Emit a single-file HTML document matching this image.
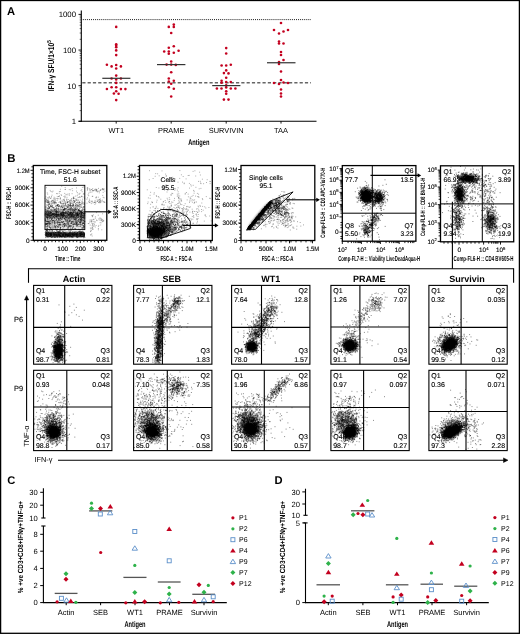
<!DOCTYPE html>
<html><head><meta charset="utf-8"><style>
html,body{margin:0;padding:0;background:#fff;}
body{width:520px;height:634px;overflow:hidden;}
svg{display:block;will-change:transform;}
text{font-family:"Liberation Sans",sans-serif;text-rendering:geometricPrecision;}
</style></head><body>
<svg width="520" height="634" viewBox="0 0 520 634">
<rect x="0" y="0" width="520" height="634" fill="#fff"/>
<text x="7" y="15.1" font-size="11.2" font-weight="bold" fill="#000" >A</text>
<line x1="81.3" y1="10.6" x2="81.3" y2="121.7" stroke="#000" stroke-width="1.1" />
<line x1="80.8" y1="121.2" x2="316.5" y2="121.2" stroke="#000" stroke-width="1.1" />
<line x1="78.5" y1="121.35" x2="81.3" y2="121.35" stroke="#000" stroke-width="0.9" />
<text x="76" y="124.14999999999999" font-size="7.8" text-anchor="end" fill="#000" >1</text>
<line x1="79.7" y1="110.61828065457907" x2="81.3" y2="110.61828065457907" stroke="#000" stroke-width="0.6" />
<line x1="79.7" y1="104.34062726924402" x2="81.3" y2="104.34062726924402" stroke="#000" stroke-width="0.6" />
<line x1="79.7" y1="99.88656130915814" x2="81.3" y2="99.88656130915814" stroke="#000" stroke-width="0.6" />
<line x1="79.7" y1="96.43171934542093" x2="81.3" y2="96.43171934542093" stroke="#000" stroke-width="0.6" />
<line x1="79.7" y1="93.6089079238231" x2="81.3" y2="93.6089079238231" stroke="#000" stroke-width="0.6" />
<line x1="79.7" y1="91.22225487349174" x2="81.3" y2="91.22225487349174" stroke="#000" stroke-width="0.6" />
<line x1="79.7" y1="89.1548419637372" x2="81.3" y2="89.1548419637372" stroke="#000" stroke-width="0.6" />
<line x1="79.7" y1="87.33125453848805" x2="81.3" y2="87.33125453848805" stroke="#000" stroke-width="0.6" />
<line x1="78.5" y1="85.69999999999999" x2="81.3" y2="85.69999999999999" stroke="#000" stroke-width="0.9" />
<text x="76" y="88.49999999999999" font-size="7.8" text-anchor="end" fill="#000" >10</text>
<line x1="79.7" y1="74.96828065457906" x2="81.3" y2="74.96828065457906" stroke="#000" stroke-width="0.6" />
<line x1="79.7" y1="68.69062726924402" x2="81.3" y2="68.69062726924402" stroke="#000" stroke-width="0.6" />
<line x1="79.7" y1="64.23656130915813" x2="81.3" y2="64.23656130915813" stroke="#000" stroke-width="0.6" />
<line x1="79.7" y1="60.78171934542092" x2="81.3" y2="60.78171934542092" stroke="#000" stroke-width="0.6" />
<line x1="79.7" y1="57.95890792382309" x2="81.3" y2="57.95890792382309" stroke="#000" stroke-width="0.6" />
<line x1="79.7" y1="55.57225487349173" x2="81.3" y2="55.57225487349173" stroke="#000" stroke-width="0.6" />
<line x1="79.7" y1="53.5048419637372" x2="81.3" y2="53.5048419637372" stroke="#000" stroke-width="0.6" />
<line x1="79.7" y1="51.681254538488055" x2="81.3" y2="51.681254538488055" stroke="#000" stroke-width="0.6" />
<line x1="78.5" y1="50.05" x2="81.3" y2="50.05" stroke="#000" stroke-width="0.9" />
<text x="76" y="52.849999999999994" font-size="7.8" text-anchor="end" fill="#000" >100</text>
<line x1="79.7" y1="39.31828065457907" x2="81.3" y2="39.31828065457907" stroke="#000" stroke-width="0.6" />
<line x1="79.7" y1="33.04062726924403" x2="81.3" y2="33.04062726924403" stroke="#000" stroke-width="0.6" />
<line x1="79.7" y1="28.58656130915814" x2="81.3" y2="28.58656130915814" stroke="#000" stroke-width="0.6" />
<line x1="79.7" y1="25.131719345420926" x2="81.3" y2="25.131719345420926" stroke="#000" stroke-width="0.6" />
<line x1="79.7" y1="22.308907923823103" x2="81.3" y2="22.308907923823103" stroke="#000" stroke-width="0.6" />
<line x1="79.7" y1="19.92225487349174" x2="81.3" y2="19.92225487349174" stroke="#000" stroke-width="0.6" />
<line x1="79.7" y1="17.854841963737208" x2="81.3" y2="17.854841963737208" stroke="#000" stroke-width="0.6" />
<line x1="79.7" y1="16.031254538488064" x2="81.3" y2="16.031254538488064" stroke="#000" stroke-width="0.6" />
<line x1="78.5" y1="14.400000000000006" x2="81.3" y2="14.400000000000006" stroke="#000" stroke-width="0.9" />
<text x="76" y="17.200000000000006" font-size="7.8" text-anchor="end" fill="#000" >1000</text>
<line x1="78.5" y1="121.2" x2="81.3" y2="121.2" stroke="#000" stroke-width="0.9" />
<line x1="116.2" y1="121.2" x2="116.2" y2="123.60000000000001" stroke="#000" stroke-width="0.9" />
<text x="116.2" y="133.1" font-size="7.4" text-anchor="middle" fill="#000" >WT1</text>
<line x1="171.2" y1="121.2" x2="171.2" y2="123.60000000000001" stroke="#000" stroke-width="0.9" />
<text x="171.2" y="133.1" font-size="7.4" text-anchor="middle" fill="#000" >PRAME</text>
<line x1="226.2" y1="121.2" x2="226.2" y2="123.60000000000001" stroke="#000" stroke-width="0.9" />
<text x="226.2" y="133.1" font-size="7.4" text-anchor="middle" fill="#000" >SURVIVIN</text>
<line x1="281" y1="121.2" x2="281" y2="123.60000000000001" stroke="#000" stroke-width="0.9" />
<text x="281" y="133.1" font-size="7.4" text-anchor="middle" fill="#000" >TAA</text>
<text x="198.8" y="144.9" font-size="8.2" text-anchor="middle" font-weight="bold" textLength="21.2" lengthAdjust="spacingAndGlyphs" fill="#000" >Antigen</text>
<text transform="translate(54.0,65.8) rotate(-90)" font-size="8.4" text-anchor="middle" font-weight="bold" textLength="51" lengthAdjust="spacingAndGlyphs">IFN-γ SFU/1×10<tspan dy="-3.2" font-size="5.8">5</tspan></text>
<line x1="82.8" y1="19.6" x2="311" y2="19.6" stroke="#000" stroke-width="0.9" stroke-dasharray="1,1.05"/>
<line x1="82.3" y1="82.85" x2="311" y2="82.85" stroke="#666" stroke-width="1.5" stroke-dasharray="3.2,2.1"/>
<circle cx="116.2" cy="26.9" r="1.3" fill="#c3001f"/>
<circle cx="116.2" cy="44.2" r="1.3" fill="#c3001f"/>
<circle cx="116.2" cy="45.7" r="1.3" fill="#c3001f"/>
<circle cx="116.2" cy="47.3" r="1.3" fill="#c3001f"/>
<circle cx="116.2" cy="50.4" r="1.3" fill="#c3001f"/>
<circle cx="116.2" cy="55.1" r="1.3" fill="#c3001f"/>
<circle cx="106.9" cy="64.7" r="1.3" fill="#c3001f"/>
<circle cx="111.6" cy="66.4" r="1.3" fill="#c3001f"/>
<circle cx="116.2" cy="65.0" r="1.3" fill="#c3001f"/>
<circle cx="120.9" cy="66.4" r="1.3" fill="#c3001f"/>
<circle cx="116.2" cy="68.5" r="1.3" fill="#c3001f"/>
<circle cx="116.2" cy="75.6" r="1.3" fill="#c3001f"/>
<circle cx="111.6" cy="78.5" r="1.3" fill="#c3001f"/>
<circle cx="120.9" cy="78.5" r="1.3" fill="#c3001f"/>
<circle cx="116.2" cy="79.5" r="1.3" fill="#c3001f"/>
<circle cx="116.2" cy="82.9" r="1.3" fill="#c3001f"/>
<circle cx="111.6" cy="87.3" r="1.3" fill="#c3001f"/>
<circle cx="106.9" cy="89.0" r="1.3" fill="#c3001f"/>
<circle cx="116.2" cy="87.3" r="1.3" fill="#c3001f"/>
<circle cx="120.9" cy="89.1" r="1.3" fill="#c3001f"/>
<circle cx="125.4" cy="89.1" r="1.3" fill="#c3001f"/>
<circle cx="116.2" cy="91.2" r="1.3" fill="#c3001f"/>
<circle cx="113.9" cy="93.5" r="1.3" fill="#c3001f"/>
<circle cx="118.6" cy="93.7" r="1.3" fill="#c3001f"/>
<circle cx="116.2" cy="100.1" r="1.3" fill="#c3001f"/>
<circle cx="168.8" cy="26.9" r="1.3" fill="#c3001f"/>
<circle cx="173.8" cy="24.6" r="1.3" fill="#c3001f"/>
<circle cx="173.8" cy="26.9" r="1.3" fill="#c3001f"/>
<circle cx="171.2" cy="33" r="1.3" fill="#c3001f"/>
<circle cx="168.8" cy="47.7" r="1.3" fill="#c3001f"/>
<circle cx="173.8" cy="46.2" r="1.3" fill="#c3001f"/>
<circle cx="164.2" cy="51.5" r="1.3" fill="#c3001f"/>
<circle cx="168.8" cy="51.5" r="1.3" fill="#c3001f"/>
<circle cx="168.8" cy="53.8" r="1.3" fill="#c3001f"/>
<circle cx="173.8" cy="52.7" r="1.3" fill="#c3001f"/>
<circle cx="178.6" cy="50.8" r="1.3" fill="#c3001f"/>
<circle cx="171.2" cy="61.5" r="1.3" fill="#c3001f"/>
<circle cx="166.6" cy="64.6" r="1.3" fill="#c3001f"/>
<circle cx="171.2" cy="64.6" r="1.3" fill="#c3001f"/>
<circle cx="175.8" cy="64.9" r="1.3" fill="#c3001f"/>
<circle cx="171.2" cy="72.3" r="1.3" fill="#c3001f"/>
<circle cx="168.8" cy="78.5" r="1.3" fill="#c3001f"/>
<circle cx="168.8" cy="81.5" r="1.3" fill="#c3001f"/>
<circle cx="173.8" cy="80.8" r="1.3" fill="#c3001f"/>
<circle cx="171.2" cy="83.8" r="1.3" fill="#c3001f"/>
<circle cx="168.8" cy="87.3" r="1.3" fill="#c3001f"/>
<circle cx="173.8" cy="88.8" r="1.3" fill="#c3001f"/>
<circle cx="171.2" cy="96.5" r="1.3" fill="#c3001f"/>
<circle cx="226.2" cy="48.1" r="1.3" fill="#c3001f"/>
<circle cx="226.2" cy="53.5" r="1.3" fill="#c3001f"/>
<circle cx="221.6" cy="65.5" r="1.3" fill="#c3001f"/>
<circle cx="226.2" cy="65.5" r="1.3" fill="#c3001f"/>
<circle cx="230.8" cy="64.8" r="1.3" fill="#c3001f"/>
<circle cx="226.2" cy="70.4" r="1.3" fill="#c3001f"/>
<circle cx="223.9" cy="73.1" r="1.3" fill="#c3001f"/>
<circle cx="228.5" cy="73.4" r="1.3" fill="#c3001f"/>
<circle cx="226.2" cy="77.7" r="1.3" fill="#c3001f"/>
<circle cx="221.6" cy="80.8" r="1.3" fill="#c3001f"/>
<circle cx="221.6" cy="82.7" r="1.3" fill="#c3001f"/>
<circle cx="226.2" cy="82" r="1.3" fill="#c3001f"/>
<circle cx="230.8" cy="82" r="1.3" fill="#c3001f"/>
<circle cx="216.9" cy="88.5" r="1.3" fill="#c3001f"/>
<circle cx="221.5" cy="88.5" r="1.3" fill="#c3001f"/>
<circle cx="226.2" cy="87.4" r="1.3" fill="#c3001f"/>
<circle cx="230.8" cy="88.5" r="1.3" fill="#c3001f"/>
<circle cx="235.4" cy="88.5" r="1.3" fill="#c3001f"/>
<circle cx="226.2" cy="91.2" r="1.3" fill="#c3001f"/>
<circle cx="226.2" cy="93.8" r="1.3" fill="#c3001f"/>
<circle cx="223.9" cy="99.6" r="1.3" fill="#c3001f"/>
<circle cx="228.5" cy="99.6" r="1.3" fill="#c3001f"/>
<circle cx="226.2" cy="85.2" r="1.3" fill="#c3001f"/>
<circle cx="281.0" cy="23" r="1.3" fill="#c3001f"/>
<circle cx="274.0" cy="30" r="1.3" fill="#c3001f"/>
<circle cx="288.0" cy="30" r="1.3" fill="#c3001f"/>
<circle cx="283.5" cy="31.5" r="1.3" fill="#c3001f"/>
<circle cx="279.0" cy="33.5" r="1.3" fill="#c3001f"/>
<circle cx="279.0" cy="41.5" r="1.3" fill="#c3001f"/>
<circle cx="279.0" cy="43.5" r="1.3" fill="#c3001f"/>
<circle cx="283.5" cy="43.5" r="1.3" fill="#c3001f"/>
<circle cx="281.0" cy="52" r="1.3" fill="#c3001f"/>
<circle cx="281.0" cy="55" r="1.3" fill="#c3001f"/>
<circle cx="279.0" cy="62" r="1.3" fill="#c3001f"/>
<circle cx="283.5" cy="60" r="1.3" fill="#c3001f"/>
<circle cx="279.0" cy="64" r="1.3" fill="#c3001f"/>
<circle cx="281.0" cy="71.5" r="1.3" fill="#c3001f"/>
<circle cx="281.0" cy="80" r="1.3" fill="#c3001f"/>
<circle cx="274.0" cy="83" r="1.3" fill="#c3001f"/>
<circle cx="279.0" cy="84" r="1.3" fill="#c3001f"/>
<circle cx="283.5" cy="82.5" r="1.3" fill="#c3001f"/>
<circle cx="288.0" cy="83" r="1.3" fill="#c3001f"/>
<circle cx="281.0" cy="89.5" r="1.3" fill="#c3001f"/>
<circle cx="281.0" cy="93.5" r="1.3" fill="#c3001f"/>
<circle cx="281.0" cy="96.5" r="1.3" fill="#c3001f"/>
<line x1="102.3" y1="78.3" x2="130.4" y2="78.3" stroke="#333" stroke-width="1.2" />
<line x1="157" y1="64.6" x2="185.4" y2="64.6" stroke="#333" stroke-width="1.2" />
<line x1="212.2" y1="85.6" x2="240.4" y2="85.6" stroke="#333" stroke-width="1.2" />
<line x1="267" y1="62.75" x2="295.5" y2="62.75" stroke="#333" stroke-width="1.2" />
<defs><filter id="bl0_6" x="-50%" y="-50%" width="200%" height="200%"><feGaussianBlur stdDeviation="0.6"/></filter><filter id="bl0_8" x="-50%" y="-50%" width="200%" height="200%"><feGaussianBlur stdDeviation="0.8"/></filter><filter id="bl1_2" x="-50%" y="-50%" width="200%" height="200%"><feGaussianBlur stdDeviation="1.2"/></filter><filter id="bl1_6" x="-50%" y="-50%" width="200%" height="200%"><feGaussianBlur stdDeviation="1.6"/></filter><filter id="bl2" x="-50%" y="-50%" width="200%" height="200%"><feGaussianBlur stdDeviation="2"/></filter><filter id="bl2_5" x="-50%" y="-50%" width="200%" height="200%"><feGaussianBlur stdDeviation="2.5"/></filter><filter id="bl3" x="-50%" y="-50%" width="200%" height="200%"><feGaussianBlur stdDeviation="3"/></filter></defs>
<rect x="45.5" y="232.3" width="39.5" height="5" fill="#000" fill-opacity="0.7" filter="url(#bl0_6)"/>
<rect x="45.5" y="211.5" width="39.5" height="6.5" fill="#000" fill-opacity="0.4" filter="url(#bl1_2)"/>
<rect x="45.5" y="218" width="39.5" height="11" fill="#000" fill-opacity="0.12" filter="url(#bl1_2)"/>
<path transform="scale(0.1)" d="M493 1968h0m245 2h0m-232 14h0m233 1h0m-187 7h0m52-4h0m108 15h0m23-1h0m-216 7h0m123 4h0m46 2h0m11-1h0m21-1h0m28-3h0m74 0h0m-337 10h0m29-3h0m91 8h0m68-5h0m5 4h0m99-1h0m-293 3h0m63 0h0m3 1h0m9-1h0m4 4h0m44-1h0m8 4h0m14 2h0m10-4h0m18 2h0m37-4h0m10 0h0m18 5h0m60-3h0m12-2h0m-283 7h0m144 4h0m23 4h0m8 0h0m20-3h0m49-5h0m53 9h0m12-9h0m9 3h0m13 6h0m-375 5h0m12 3h0m16-7h0m15 2h0m10 2h0m51 1h0m3 3h0m3-5h0m1 5h0m4-6h0m4 0h0m31 5h0m5-2h0m64 1h0m18-3h0m27 6h0m2-10h0m1 4h0m2 6h0m38-2h0m3-3h0m11 3h0m7-6h0m-286 14h0m13-5h0m42-1h0m25 9h0m25 0h0m6 0h0m11-1h0m8-7h0m3 5h0m18-1h0m4 0h0m24 2h0m12-3h0m2 3h0m4-4h0m8-2h0m11 6h0m0-6h0m25 6h0m5-7h0m13 6h0m14 0h0m35-1h0m-363 11h0m34 2h0m1-6h0m13 1h0m5-2h0m10 0h0m8 3h0m38-1h0m16-3h0m27 5h0m11 0h0m7 4h0m1 1h0m50-7h0m4 6h0m7-4h0m49-2h0m21 4h0m26-4h0m20 3h0m11 3h0m32-5h0m-372 14h0m14 2h0m8-8h0m0 2h0m34-3h0m2 3h0m3-3h0m35 7h0m33 0h0m61-3h0m13-4h0m23 9h0m11-7h0m4 1h0m1 0h0m6 5h0m17-7h0m9 4h0m2 4h0m7-2h0m18-1h0m56-4h0m6 0h0m-382 14h0m4 2h0m53 0h0m2-3h0m34 0h0m4-3h0m0 6h0m16-2h0m1-5h0m2 8h0m13-10h0m1 9h0m36-1h0m15 0h0m10-5h0m1-2h0m2 6h0m1 2h0m3-8h0m3-1h0m12 2h0m3 4h0m12 3h0m4-3h0m3 2h0m8 1h0m5-5h0m2-1h0m0 5h0m19 1h0m5-5h0m10 1h0m4 5h0m16-7h0m2 7h0m24 0h0m14-9h0m28 3h0m16 6h0m5-2h0m-386 8h0m4 1h0m13-6h0m10 4h0m14 3h0m2-4h0m15 2h0m11-5h0m1 6h0m2 1h0m12-4h0m0 4h0m1-3h0m7-3h0m31 3h0m0 2h0m14-6h0m10 3h0m2-2h0m8 4h0m12 1h0m1-5h0m4 0h0m1-1h0m2 4h0m4 4h0m5-8h0m0 1h0m27 5h0m17-1h0m8 1h0m7 2h0m3-6h0m7-2h0m9 8h0m0-6h0m8 4h0m2-6h0m10 7h0m0-4h0m2 5h0m2-2h0m6-5h0m1 0h0m4 3h0m5-2h0m14-2h0m4 0h0m3 7h0m6 0h0m0 2h0m34-8h0m-372 16h0m2-5h0m16 7h0m1-4h0m2-6h0m2 8h0m5-3h0m4 2h0m11-1h0m18-5h0m4 4h0m5 1h0m14 3h0m18-2h0m3-4h0m4-2h0m3 7h0m1-6h0m1 3h0m2 3h0m9 1h0m20-8h0m30 7h0m2-6h0m23 3h0m13-2h0m14 1h0m1 6h0m3-2h0m35-1h0m11-5h0m3 3h0m7-2h0m5 5h0m12-2h0m19-4h0m8-2h0m0 4h0m6 1h0m3-2h0m2 1h0m6 1h0m6 5h0m0-4h0m0 2h0m1-2h0m1 0h0m9-3h0m0 3h0m5-4h0m12 5h0m8-1h0m4 0h0m-390 5h0m4 4h0m0 1h0m3 1h0m4-4h0m7 7h0m11-3h0m2-5h0m6-1h0m8 1h0m4 3h0m1-2h0m0 2h0m1 2h0m3 1h0m16-8h0m14 2h0m8 0h0m8 7h0m3-3h0m1-2h0m0-1h0m4 6h0m1-2h0m7-5h0m4 4h0m0 2h0m8-2h0m5-4h0m0 0h0m10 1h0m6 2h0m8 4h0m5-7h0m6 1h0m1 7h0m7-8h0m23 0h0m5-1h0m7 8h0m7-6h0m5 3h0m6 2h0m11 1h0m1-3h0m5-4h0m5 5h0m6 2h0m7-3h0m8 3h0m4-4h0m3 5h0m0-8h0m4 6h0m13-1h0m4-5h0m16 4h0m3 3h0m0-5h0m22 1h0m6 3h0m5-1h0m3 0h0m1-5h0m3 3h0m0 5h0m1 0h0m6-1h0m17-7h0m1 6h0m6-4h0m-398 12h0m5 2h0m2 1h0m0-6h0m8 4h0m6-2h0m9 4h0m5-7h0m2 7h0m3-7h0m1-1h0m1 8h0m7-2h0m3-4h0m2 4h0m2 2h0m1-8h0m5 1h0m4-1h0m8 8h0m8-1h0m5-1h0m5 2h0m9-1h0m15-1h0m0-2h0m1 0h0m20-1h0m18 6h0m2-5h0m1 2h0m2 0h0m6-5h0m7 4h0m1-3h0m4 0h0m1 6h0m1-8h0m1 7h0m2-7h0m3 9h0m1-10h0m1 1h0m2 3h0m1 1h0m2-3h0m7 2h0m3 5h0m0-8h0m0 5h0m1-5h0m5 9h0m2-5h0m3-3h0m6 2h0m7 5h0m5-5h0m14 4h0m3-3h0m4-4h0m0 1h0m1 4h0m1 0h0m4 3h0m2-6h0m1-3h0m5 3h0m4-1h0m5 7h0m9-6h0m13-1h0m9 5h0m1-1h0m9 2h0m1 0h0m1-2h0m0-5h0m8 7h0m1 2h0m1-6h0m11-2h0m1 5h0m1 1h0m5 0h0m7-2h0m0 0h0m9-1h0m3 4h0m1-1h0m1 1h0m4-8h0m4 0h0m5 2h0m6 4h0m0 2h0m8-5h0m0 5h0m3-3h0m-388 7h0m2 4h0m1 0h0m6 0h0m6-3h0m4 5h0m2-6h0m0 3h0m16-6h0m4 3h0m11 3h0m7 2h0m1-5h0m0-1h0m1 8h0m5-9h0m3 8h0m3 0h0m4 1h0m2-8h0m1 8h0m0-8h0m4 6h0m7-4h0m0 1h0m1 3h0m2-1h0m6 1h0m5-5h0m0 6h0m1 1h0m7 0h0m1-3h0m4 2h0m5 1h0m6-7h0m2 6h0m15-5h0m3 3h0m4 0h0m1-4h0m2-2h0m2 1h0m7 3h0m4 5h0m9-6h0m2 0h0m9 1h0m20-4h0m9 4h0m1 4h0m0-7h0m5 5h0m6 3h0m2-2h0m3-2h0m5-4h0m3-1h0m2 1h0m2 5h0m9 0h0m4-6h0m0 7h0m3-5h0m2-2h0m1 4h0m1 2h0m6-5h0m23 2h0m10 2h0m5-4h0m1 6h0m1-2h0m0 2h0m3-4h0m12 6h0m1 0h0m1-7h0m8 1h0m0-2h0m16 4h0m2 1h0m2-4h0m7 3h0m9-4h0m7 5h0m1-3h0m1 3h0m1 2h0m6-8h0m-398 15h0m2-4h0m0 2h0m7 0h0m3 1h0m5-5h0m5 9h0m0-1h0m5-2h0m1-4h0m1 2h0m1 5h0m0-8h0m2 7h0m1-2h0m1 0h0m10-3h0m1 2h0m1-3h0m3 6h0m4 0h0m3-6h0m3 4h0m3 3h0m2-1h0m6-2h0m2-3h0m6-1h0m0 1h0m0-2h0m9 6h0m4 1h0m6-2h0m6-1h0m1-3h0m5 3h0m5-2h0m1 6h0m2-4h0m4 4h0m2-6h0m3 5h0m5 2h0m1-9h0m3 2h0m1-2h0m2 3h0m3 1h0m6-3h0m5 7h0m4-5h0m2 0h0m2 4h0m0-5h0m1 4h0m0-7h0m3 1h0m1 7h0m3-3h0m0-4h0m7 4h0m0 5h0m3-8h0m4 0h0m2-1h0m1 0h0m1 0h0m3 7h0m1-5h0m15 4h0m7 2h0m4-4h0m6 3h0m7 0h0m4-4h0m2-2h0m1 4h0m2-1h0m3 1h0m1-2h0m7-3h0m2 0h0m7 5h0m1 1h0m1-3h0m0 0h0m1 5h0m3-4h0m2 0h0m8 2h0m3-7h0m0 6h0m5 4h0m2-9h0m4 3h0m5 6h0m2-10h0m6 5h0m3 2h0m1-5h0m6 6h0m5 0h0m2-5h0m2 6h0m1-1h0m2-7h0m2 0h0m1 5h0m0 3h0m2-3h0m0-3h0m0 1h0m0-1h0m3 7h0m4-3h0m5-1h0m14-2h0m4-1h0m3-2h0m2 7h0m4-4h0m28 6h0m-391 8h0m6-4h0m1 2h0m15 1h0m14 3h0m1-3h0m2-2h0m2 1h0m4-5h0m1 1h0m7-1h0m5 7h0m3-4h0m4-1h0m12 2h0m4 5h0m10-8h0m2 0h0m5 3h0m0 1h0m12-1h0m1 1h0m3 1h0m10-4h0m3 6h0m1-4h0m6-2h0m1 0h0m5 4h0m14-4h0m4 4h0m8-4h0m2 6h0m1-7h0m5-1h0m0 7h0m1-5h0m0 2h0m2 5h0m7-9h0m1 0h0m0 4h0m3-2h0m4 0h0m5-2h0m4 9h0m9-4h0m15-4h0m8 5h0m5-6h0m5 5h0m12 3h0m1-6h0m1 5h0m1-1h0m1 2h0m5-4h0m0 2h0m5-4h0m1 5h0m6 0h0m4-2h0m8 2h0m0-1h0m4-6h0m14 9h0m3-3h0m4-2h0m2-1h0m19-3h0m16 0h0m3 8h0m7-5h0m11-4h0m0 2h0m9 1h0m1 0h0m3 0h0m7 0h0m-379 12h0m1-4h0m2 4h0m0 2h0m3-1h0m8-3h0m2 3h0m16 2h0m3-2h0m2-5h0m2 9h0m24-9h0m2 5h0m1-3h0m11 5h0m1 0h0m4 0h0m7-6h0m6-1h0m2 3h0m1-1h0m5-2h0m1 4h0m6 0h0m22-4h0m4 6h0m5-5h0m19 5h0m5 2h0m3-8h0m15 6h0m2 0h0m5-3h0m2 2h0m1 0h0m12-4h0m3-1h0m0 7h0m19 0h0m4 1h0m1-6h0m2 3h0m0-4h0m7 5h0m19 1h0m2-1h0m3-2h0m2-5h0m3 9h0m1-2h0m8-1h0m7-1h0m17-2h0m1 3h0m6 3h0m7-3h0m0-5h0m1 6h0m7-4h0m7-2h0m5 3h0m1-4h0m0 8h0m9-4h0m0 0h0m2-1h0m1 3h0m7-1h0m2 2h0m10-1h0m1 1h0m1 1h0m1 0h0m2-5h0m-385 10h0m12-3h0m4 2h0m2-1h0m4 3h0m1 3h0m3-5h0m16 5h0m0-1h0m2 0h0m0 1h0m16-4h0m3 4h0m2-5h0m6 1h0m12 1h0m23-1h0m13 2h0m10 2h0m3-1h0m9-1h0m9 4h0m2-6h0m0 1h0m2 2h0m11-3h0m3 3h0m2-4h0m2 0h0m15 8h0m2-3h0m4 1h0m8-1h0m8-7h0m4 0h0m17 1h0m0 3h0m13 5h0m12-8h0m1 3h0m0 2h0m8-2h0m13 4h0m0-1h0m16-6h0m0 7h0m3-5h0m2-1h0m10 1h0m3 5h0m1 0h0m1-4h0m13 0h0m13 5h0m7-7h0m9 7h0m0-8h0m5 8h0m1 1h0m4-9h0m7-1h0m1 2h0m14 7h0m5-4h0m-396 7h0m19 1h0m3 0h0m41 6h0m2-5h0m3 0h0m2-4h0m24 1h0m6 2h0m13 6h0m1 0h0m5-8h0m14 4h0m1 4h0m1-7h0m6 4h0m8-6h0m5 6h0m7-1h0m2 4h0m26-7h0m2-1h0m20 5h0m8-3h0m2 0h0m12 0h0m1-2h0m10 0h0m24 1h0m20 3h0m8 0h0m1-2h0m6-1h0m3 7h0m8 0h0m18 0h0m18-1h0m2-3h0m3 2h0m6 1h0m11 1h0m7-2h0m3-6h0m-384 14h0m6 1h0m1-5h0m21-1h0m13 3h0m10 5h0m15-6h0m9 7h0m3 0h0m6-1h0m8-1h0m14 2h0m34-5h0m8 1h0m6 5h0m19-9h0m26 1h0m4 0h0m0 1h0m3 3h0m14 2h0m0 1h0m3-7h0m18 1h0m0 5h0m9-4h0m2 0h0m2 4h0m12-6h0m12 3h0m11-4h0m5 1h0m3-2h0m9 1h0m1 8h0m0-3h0m13 3h0m13-5h0m4-2h0m11 2h0m2-1h0m2 7h0m2-9h0m9 1h0m1 6h0m1-6h0m4 8h0m10-3h0m7 1h0m1 0h0m-384 4h0m3 2h0m5-1h0m3 7h0m8-5h0m6 1h0m0 2h0m1 1h0m6 0h0m2-1h0m8 0h0m13-1h0m0-5h0m10 3h0m6 0h0m8-3h0m3 1h0m9 4h0m4-2h0m17-3h0m12 6h0m1-6h0m9 1h0m29 5h0m16 0h0m28-7h0m10 9h0m5-9h0m15 5h0m1 3h0m5-6h0m3 1h0m15 4h0m25-1h0m1-2h0m19 4h0m10-6h0m8 3h0m6 1h0m0-3h0m3 3h0m16 0h0m1 2h0m1-5h0m10 0h0m1 5h0m7-5h0m10-1h0m5 5h0m11 1h0m-390 5h0m12-1h0m1-1h0m6 2h0m8 3h0m3 2h0m10-2h0m2-5h0m21 7h0m3-4h0m20 0h0m3-4h0m5 6h0m14 0h0m8-1h0m5-2h0m2 5h0m9-1h0m5 1h0m5-2h0m2 0h0m15-2h0m3 4h0m0-4h0m6 4h0m7-8h0m4 3h0m2 1h0m14-4h0m16 0h0m2 8h0m9-2h0m1-5h0m17 0h0m1-2h0m16 7h0m4-5h0m1 1h0m5-1h0m3 0h0m1 6h0m8-3h0m19 2h0m1 2h0m3-9h0m5 7h0m2 0h0m10 0h0m19 2h0m2 0h0m1-8h0m8 8h0m4 1h0m15-2h0m20-8h0m-391 20h0m8 0h0m2-1h0m10-1h0m1 2h0m4-2h0m6 1h0m9 1h0m2-10h0m6 8h0m17 0h0m1-3h0m19-1h0m3-2h0m6 2h0m10 3h0m15-3h0m4 1h0m8-3h0m12 1h0m12-2h0m16 2h0m47 5h0m6-4h0m8 1h0m2 1h0m23-4h0m0 8h0m1-2h0m1-1h0m27-3h0m8 4h0m14-1h0m4 3h0m1-9h0m5 3h0m18 5h0m7-8h0m7 1h0m0 2h0m19 6h0m0-1h0m10-5h0m0 1h0m2 3h0m1 0h0m4-1h0m-385 8h0m6 2h0m3 1h0m3-6h0m4 0h0m4 4h0m6 0h0m9-2h0m3 5h0m3-6h0m4 2h0m4-4h0m40-1h0m6 6h0m24 0h0m24-3h0m3 3h0m30 0h0m1 2h0m5 0h0m3-5h0m3-2h0m1 1h0m1 0h0m4 5h0m10-1h0m0-4h0m1 4h0m17 1h0m5-6h0m25 1h0m14 1h0m6 5h0m6-5h0m3 5h0m10-5h0m6-1h0m7 7h0m5-5h0m2-4h0m8 5h0m11 3h0m12 0h0m8-4h0m25-3h0m14 7h0m-389 3h0m1 5h0m4-6h0m10 0h0m3 10h0m38-7h0m15 2h0m17 0h0m38-4h0m4 4h0m7-2h0m3-2h0m3 1h0m1-1h0m1-1h0m3 7h0m16-6h0m2 8h0m17-3h0m12 0h0m2 0h0m28-6h0m3 4h0m6 0h0m4 4h0m12 1h0m25-7h0m7-2h0m6 0h0m15 3h0m1-3h0m7 1h0m9 0h0m3 4h0m8-5h0m15 5h0m2-4h0m15 3h0m0-3h0m3 4h0m-364 14h0m21-5h0m11-2h0m4 7h0m7-5h0m20 5h0m22-7h0m3 7h0m6 0h0m6-4h0m6-5h0m12 7h0m6 2h0m4-4h0m11 0h0m46-4h0m2 4h0m0 4h0m2-5h0m4 1h0m14-3h0m1 4h0m12-2h0m8 4h0m6-2h0m5-2h0m2 6h0m1-3h0m9 0h0m1-3h0m6 1h0m16-1h0m32 3h0m3-4h0m4-1h0m3 0h0m33 6h0m24-7h0m5 1h0m1 1h0m-369 11h0m1-2h0m8-2h0m15 6h0m28 4h0m15-4h0m17 2h0m2-8h0m17 2h0m3 3h0m30 5h0m5-4h0m19-5h0m2 0h0m48 3h0m10-1h0m15 4h0m23 1h0m8-4h0m2-1h0m45-2h0m18-1h0m33 7h0m3-6h0m3 8h0m5-5h0m1-2h0m-371 14h0m25-5h0m3 0h0m3 0h0m1 9h0m17-2h0m27-6h0m4 4h0m4-4h0m14 4h0m15-6h0m17 9h0m2-8h0m33 2h0m43 2h0m0-3h0m2 3h0m40 0h0m96-1h0m4-3h0m8 5h0m7 1h0m-378 10h0m11-7h0m3 4h0m39 4h0m3 1h0m20-4h0m17 5h0m20 0h0m31-1h0m0-7h0m24 3h0m35 2h0m13-3h0m28-2h0m10 4h0m11-4h0m9 6h0m13-7h0m7 8h0m2-8h0m31 7h0m35-7h0m-357 15h0m2 1h0m29 1h0m21-8h0m47 5h0m13-2h0m17 5h0m13-4h0m8 1h0m32 0h0m57-3h0m8 5h0m86-6h0m-341 13h0m0 5h0m10-7h0m2 1h0m3-2h0m0 7h0m2-5h0m7 5h0m8 1h0m9-2h0m10-1h0m14-4h0m1 6h0m0-6h0m45-1h0m5 7h0m26 0h0m1-5h0m4 3h0m21 2h0m4-4h0m3 2h0m20 0h0m37 3h0m1-9h0m16 5h0m92 4h0m2-5h0m27 3h0m-366 7h0m1 0h0m1 6h0m10-5h0m2 3h0m7 2h0m19-2h0m15-3h0m8 2h0m5 2h0m6-3h0m9-5h0m5 8h0m7 0h0m1 1h0m4-2h0m3-1h0m4-1h0m10-4h0m2 5h0m0-1h0m5-2h0m1-2h0m5 5h0m0-5h0m5 1h0m3 4h0m13 0h0m17-2h0m8 1h0m4 3h0m0 1h0m23-4h0m9-1h0m23-1h0m9 5h0m2-6h0m16 2h0m4-1h0m10 3h0m1-1h0m8 2h0m2-4h0m0 5h0m8-7h0m11-1h0m12 2h0m9-3h0m1 4h0m2 0h0m5 4h0m3-5h0m2-1h0m4 5h0m6-2h0m1-1h0m0 5h0m2-7h0m4 7h0m3-4h0m5 0h0m3 1h0m3 0h0m3 2h0m-383 3h0m8 8h0m0-7h0m1 2h0m3 4h0m2-7h0m5 6h0m7 3h0m5-7h0m1-3h0m3 3h0m5-2h0m9 2h0m1 0h0m9-1h0m3 5h0m4-4h0m4 2h0m11 1h0m5-5h0m2 1h0m1 7h0m12-8h0m5 4h0m6 3h0m12-5h0m4 0h0m0-3h0m3 3h0m3 7h0m2-8h0m2 5h0m2 1h0m3-6h0m1 3h0m5-5h0m4 8h0m1-4h0m2 2h0m7-3h0m7-1h0m9 6h0m3-2h0m3 1h0m8-4h0m3 7h0m2-3h0m3-3h0m2-1h0m6 6h0m26-1h0m7-7h0m3 2h0m1 4h0m7-1h0m3 1h0m7-2h0m6 4h0m0-6h0m6 4h0m6 2h0m3 1h0m9-6h0m7 5h0m7-7h0m11 6h0m0-2h0m1-1h0m2-1h0m3-3h0m1 3h0m11-2h0m7 6h0m2 2h0m6-1h0m3-6h0m3 3h0m6-6h0m17 2h0m3 5h0m7 2h0m-387 3h0m4 2h0m2 3h0m2 0h0m5-3h0m0 2h0m2-3h0m7-1h0m0 5h0m8-3h0m8-4h0m3 4h0m1-1h0m2-1h0m2 2h0m4 3h0m0-1h0m1 4h0m1-8h0m1-1h0m3 6h0m0 0h0m1-6h0m0 0h0m2 7h0m2-3h0m14 0h0m1 2h0m1 3h0m5-10h0m6 6h0m0 2h0m6-5h0m4 4h0m0 1h0m8-1h0m13-3h0m6 0h0m3 6h0m11 0h0m10-10h0m0 9h0m12-6h0m0 0h0m5-2h0m11 6h0m4-2h0m15-1h0m2 3h0m2 1h0m5-2h0m4 3h0m4-2h0m2-4h0m2 5h0m8-6h0m1 5h0m3 1h0m4-7h0m4 3h0m1 6h0m5-3h0m1-7h0m1 4h0m18-1h0m0 5h0m1 0h0m4-4h0m2 5h0m1-2h0m13-2h0m2 2h0m0 2h0m3 0h0m3-1h0m3-3h0m3 1h0m1 2h0m0-4h0m8 5h0m2-1h0m0-3h0m1-2h0m4-1h0m5 7h0m9-1h0m4-1h0m10-4h0m6 1h0m3 3h0m2-5h0m0 5h0m2-6h0m1-1h0m1 7h0m7-2h0m2-2h0m0 3h0m2 1h0m1-3h0m1 4h0m11 1h0m3-8h0m1 6h0m2-1h0m4-1h0m-395 7h0m4 4h0m1-2h0m6 1h0m2 0h0m3 4h0m1-3h0m2 4h0m7-10h0m4 7h0m5 0h0m0-5h0m1-1h0m1-1h0m3 5h0m10 3h0m1-5h0m7 1h0m1 6h0m0-1h0m4-7h0m0 2h0m1 3h0m1-2h0m21 0h0m0 1h0m4-4h0m5 5h0m2-1h0m1 1h0m3 2h0m0-8h0m8 0h0m2 6h0m3-3h0m2 1h0m0-4h0m5 8h0m1-3h0m3-2h0m7-1h0m4-1h0m2-2h0m1 4h0m1-1h0m2 3h0m1 1h0m1 2h0m1-4h0m6 2h0m22-6h0m0 2h0m3 2h0m0-1h0m2 1h0m1 2h0m4-5h0m1 2h0m2-2h0m3 4h0m3 3h0m6-9h0m4 0h0m2 7h0m0-1h0m2 2h0m1 0h0m2-5h0m2 1h0m0-2h0m2 2h0m7-2h0m0 7h0m3-1h0m2-3h0m0-4h0m5 3h0m2 0h0m0 5h0m2 0h0m2-2h0m1 2h0m11-6h0m1 2h0m0-4h0m0 7h0m2 2h0m3-7h0m1 6h0m7-4h0m9-4h0m1 3h0m2 0h0m2 3h0m1-5h0m2 0h0m4 6h0m1-1h0m1-5h0m3 5h0m9 1h0m1-5h0m5 3h0m11-6h0m5 9h0m0-3h0m1-3h0m3 1h0m0-2h0m17 2h0m5 1h0m1-2h0m5 7h0m4-2h0m2 0h0m0-2h0m1-5h0m2 1h0m4-1h0m2-1h0m8 4h0m15-1h0m0 1h0m2-1h0m0 6h0m3-6h0m-388 7h0m5 5h0m15 2h0m2-5h0m14 7h0m3-4h0m7-1h0m1-1h0m1 3h0m9-4h0m0 2h0m10 3h0m12-6h0m4 5h0m19-3h0m6-3h0m1 5h0m13-4h0m2 3h0m5-4h0m12 8h0m1-6h0m1 7h0m3-4h0m1 1h0m1-3h0m2 3h0m1 2h0m1-1h0m1-5h0m8 6h0m11-1h0m0-6h0m1-1h0m7 9h0m1-5h0m17 6h0m0-9h0m15 1h0m1-1h0m1 7h0m3-2h0m2-3h0m3 3h0m7-6h0m1 7h0m1-7h0m8 7h0m1-7h0m15 9h0m2 0h0m3-2h0m8 1h0m8-4h0m12-3h0m16 5h0m1-4h0m2 7h0m2-7h0m3 4h0m1-4h0m15 3h0m3-3h0m11 6h0m1-2h0m4-6h0m8 5h0m11 1h0m3 2h0m6 1h0m4-6h0m1 1h0m3 2h0m-366 6h0m3 3h0m7-2h0m17-3h0m9 7h0m14-4h0m3 7h0m11-6h0m8 1h0m1 4h0m2 1h0m3-7h0m7 5h0m10-7h0m6 6h0m0-1h0m1-5h0m16 5h0m3 0h0m10-2h0m6-2h0m1-1h0m3-1h0m1 9h0m7-9h0m1 5h0m15-5h0m2 6h0m1 0h0m2-5h0m2 6h0m9-1h0m2 2h0m9-4h0m5 1h0m8-5h0m11 8h0m3-6h0m9 4h0m4-6h0m8 2h0m7 6h0m1-6h0m6 2h0m3 2h0m34-1h0m6 4h0m2-5h0m3 0h0m6 1h0m6-3h0m12 2h0m10-1h0m5-1h0m6 0h0m16 3h0m11 3h0m-392 3h0m58-1h0m204 1h0m53 0h0m65 2h0" stroke="#000" stroke-opacity="0.62" stroke-width="7.0" stroke-linecap="square" fill="none"/>
<path transform="scale(0.1)" d="M617 1862h0m35 13h0m172-1h0m12-4h0m-372 7h0m301 2h0m107 2h0m4-3h0m2 5h0m107 1h0m-381 9h0m50 0h0m68-7h0m175 1h0m20 8h0m10-9h0m20 8h0m8-2h0m12 1h0m54 0h0m3-2h0m1-4h0m8 6h0m6-1h0m0-3h0m-537 15h0m149-9h0m42 1h0m14 2h0m103 6h0m8-7h0m56 5h0m2-6h0m19 3h0m10 1h0m13-3h0m32 7h0m11-5h0m2 3h0m2 0h0m4-1h0m34 1h0m3 1h0m2-4h0m24 1h0m-522 15h0m20-4h0m64 4h0m10-1h0m122-7h0m39 4h0m137 0h0m26-3h0m2-3h0m0 2h0m9 0h0m23 6h0m11 0h0m15-1h0m4 0h0m56-1h0m-526 9h0m251 5h0m49-8h0m79 8h0m18-4h0m55-2h0m58 4h0m-559 6h0m120 3h0m54 2h0m152-1h0m40 1h0m48-2h0m106-4h0m-516 14h0m88-6h0m11 1h0m84 7h0m20-4h0m15-1h0m26-2h0m59 4h0m14 1h0m39-1h0m9 1h0m-322 10h0m91-5h0m5 7h0m54-5h0m23 4h0m188-5h0m146 6h0m-442 11h0m9-7h0m46 7h0m10-6h0m107 2h0m16-4h0m44 4h0m0 4h0m70-8h0m36 7h0m4-1h0m-468 5h0m31 7h0m25-9h0m26 6h0m32-5h0m18-2h0m62 5h0m17 3h0m111 2h0m10-1h0m6-7h0m5 6h0m19-5h0m19 2h0m124-1h0m19 3h0m49 1h0m-582 10h0m24-5h0m14 5h0m24-5h0m38 3h0m54-4h0m43 2h0m85 0h0m2 2h0m2-4h0m111 6h0m28-5h0m85 1h0m1-3h0m80 2h0m-574 14h0m71-4h0m3 3h0m27-6h0m9 4h0m4-3h0m20 3h0m33 5h0m34-4h0m15 5h0m33-6h0m2-1h0m21-3h0m16 6h0m13 0h0m58 1h0m43 0h0m25 0h0m99 2h0m0 0h0m12-4h0m-545 14h0m3-6h0m4 3h0m12-1h0m8 1h0m34 2h0m9 1h0m42 0h0m50-2h0m20 1h0m0-2h0m0-2h0m25-3h0m36 3h0m39 6h0m25-10h0m17 5h0m18 1h0m149 3h0m21-5h0m12 3h0m21 1h0m18-2h0m-570 11h0m22-6h0m6 0h0m44 4h0m13 1h0m1-4h0m12 8h0m2-8h0m51 7h0m6-2h0m58-6h0m27-1h0m13 2h0m26 4h0m17-1h0m11-5h0m7 1h0m11 2h0m107 5h0m10-8h0m22 9h0m1-4h0m55 5h0m1-5h0m18-1h0m8 1h0m0 4h0m15-3h0m-555 5h0m0 4h0m8 3h0m3-1h0m3-1h0m4-6h0m0 7h0m3-4h0m11 2h0m3 0h0m14 0h0m21 5h0m5-9h0m6 3h0m6 4h0m40 1h0m9-5h0m28-2h0m25 7h0m5-6h0m16 6h0m1-4h0m5-2h0m25 5h0m33 2h0m8-9h0m1 9h0m1-5h0m2-4h0m44 6h0m2 1h0m2-5h0m23 1h0m9 5h0m65-3h0m9 0h0m18-2h0m23 5h0m0-1h0m7-2h0m2 2h0m9-5h0m31-1h0m9 4h0m7 3h0m23-7h0m10-1h0m0 7h0m-563 3h0m13 6h0m3 3h0m26-3h0m6 0h0m6-6h0m8 8h0m9-3h0m92 3h0m31-5h0m41 4h0m7-6h0m16 7h0m30-9h0m2 5h0m23-1h0m17-4h0m22 2h0m12 8h0m4-5h0m24 2h0m23-6h0m37 3h0m27 3h0m29-6h0m5 0h0m9 2h0m48-3h0m-566 14h0m5 5h0m7-3h0m45-2h0m11 1h0m56-4h0m25 0h0m27 5h0m45-5h0m1 5h0m22 3h0m41 0h0m37-2h0m12-3h0m97-3h0m36 8h0m-468 4h0m5 2h0m87-1h0m4 1h0m18 4h0m38-8h0m16 8h0m3-8h0m25 8h0m17 1h0m4-7h0m2 3h0m38-2h0m20 2h0m1-4h0m3 4h0m19 3h0m10-5h0m11 2h0m-318 11h0m5 2h0m16-8h0m2 0h0m21 3h0m26 5h0m1-5h0m21-3h0m13 7h0m7-2h0m3-2h0m57-3h0m14 7h0m10 0h0m11-6h0m15-2h0m6 3h0m14 4h0m40 1h0m12 2h0m24-6h0m33 6h0m-373 1h0m50 0h0m2 2h0m8 2h0m20 4h0m24 0h0m22-9h0m21 6h0m26 1h0m13-3h0m28 2h0m30 0h0m7-5h0m38 3h0m12 6h0m32-7h0m4-1h0m21 6h0m17-6h0m-372 11h0m13-1h0m12 7h0m6 0h0m1-8h0m64 8h0m23-3h0m3 0h0m55-1h0m2-2h0m49-2h0m14 5h0m12 2h0m52 1h0m8-4h0m-301 6h0m6 0h0m52 1h0m86-1h0m18 5h0m15 2h0m10-2h0m25 0h0m74 0h0m31 1h0m-236 5h0m84 3h0m35-4h0m34 4h0m0 3h0m74-6h0m9 6h0m20-4h0m22-4h0m-353 16h0m73-3h0m0 7h0m233-2h0m7 6h0m-41 14h0m210-7h0m-195 11h0m255 1h0m-210 15h0m104 1h0m14-5h0m49 3h0m-60 6h0m0 2h0m3 7h0m28 1h0m-1 14h0m44-1h0m9 1h0m-70 11h0m52-4h0m21 4h0m7-4h0m-425 13h0m309-2h0m12 0h0m10-2h0m17-1h0m26 4h0m28-1h0m25-2h0m9-1h0m-117 17h0m7-6h0m54-2h0m38 0h0m9 0h0m5 5h0m12-1h0m2-3h0m-141 13h0m16 0h0m6-3h0m15 0h0m16 0h0m1 5h0m76-5h0m-106 17h0m81-7h0m10 1h0m-128 8h0m6-1h0m36 6h0m3 1h0m10-6h0m6 8h0m-42 7h0m59 4h0m27-1h0m19-4h0m-86 9h0m8-4h0m3 9h0m11-5h0m10 11h0m31-4h0m-80 14h0m15 1h0m4-6h0m4 6h0m57 4h0m-74 4h0m18 5h0m1-3h0m55 7h0m34 0h0m-111 11h0m7-2h0m-9 9h0m13 23h0m-10 13h0m1-7h0m13 15h0" stroke="#000" stroke-opacity="0.45" stroke-width="7.0" stroke-linecap="square" fill="none"/>
<rect x="33.3" y="165.5" width="73.5" height="74.80000000000001" fill="none" stroke="#000" stroke-width="1.3"/>
<line x1="30.499999999999996" y1="170.3" x2="33.3" y2="170.3" stroke="#000" stroke-width="0.9" />
<text x="29.699999999999996" y="172.5" font-size="6.3" text-anchor="end" textLength="12.9" lengthAdjust="spacingAndGlyphs" stroke="#000" stroke-width="0.12" fill="#000" >1.2M</text>
<line x1="30.499999999999996" y1="187.8" x2="33.3" y2="187.8" stroke="#000" stroke-width="0.9" />
<text x="29.699999999999996" y="190.0" font-size="6.3" text-anchor="end" textLength="14.85" lengthAdjust="spacingAndGlyphs" stroke="#000" stroke-width="0.12" fill="#000" >900K</text>
<line x1="30.499999999999996" y1="205.1" x2="33.3" y2="205.1" stroke="#000" stroke-width="0.9" />
<text x="29.699999999999996" y="207.29999999999998" font-size="6.3" text-anchor="end" textLength="14.85" lengthAdjust="spacingAndGlyphs" stroke="#000" stroke-width="0.12" fill="#000" >600K</text>
<line x1="30.499999999999996" y1="222.7" x2="33.3" y2="222.7" stroke="#000" stroke-width="0.9" />
<text x="29.699999999999996" y="224.89999999999998" font-size="6.3" text-anchor="end" textLength="14.85" lengthAdjust="spacingAndGlyphs" stroke="#000" stroke-width="0.12" fill="#000" >300K</text>
<line x1="30.499999999999996" y1="240.3" x2="33.3" y2="240.3" stroke="#000" stroke-width="0.9" />
<text x="29.699999999999996" y="242.5" font-size="6.3" text-anchor="end" textLength="3.65" lengthAdjust="spacingAndGlyphs" stroke="#000" stroke-width="0.12" fill="#000" >0</text>
<line x1="44.9" y1="240.3" x2="44.9" y2="243.10000000000002" stroke="#000" stroke-width="0.9" />
<text x="45.1" y="250.9" font-size="6.3" text-anchor="middle" textLength="3.65" lengthAdjust="spacingAndGlyphs" stroke="#000" stroke-width="0.12" fill="#000" >0</text>
<line x1="62.6" y1="240.3" x2="62.6" y2="243.10000000000002" stroke="#000" stroke-width="0.9" />
<text x="62.800000000000004" y="250.9" font-size="6.3" text-anchor="middle" textLength="10.95" lengthAdjust="spacingAndGlyphs" stroke="#000" stroke-width="0.12" fill="#000" >100</text>
<line x1="80.3" y1="240.3" x2="80.3" y2="243.10000000000002" stroke="#000" stroke-width="0.9" />
<text x="80.5" y="250.9" font-size="6.3" text-anchor="middle" textLength="10.95" lengthAdjust="spacingAndGlyphs" stroke="#000" stroke-width="0.12" fill="#000" >200</text>
<line x1="98.5" y1="240.3" x2="98.5" y2="243.10000000000002" stroke="#000" stroke-width="0.9" />
<text x="98.7" y="250.9" font-size="6.3" text-anchor="middle" textLength="10.95" lengthAdjust="spacingAndGlyphs" stroke="#000" stroke-width="0.12" fill="#000" >300</text>
<line x1="31.4" y1="166.8" x2="33.3" y2="166.8" stroke="#000" stroke-width="0.85" />
<line x1="31.4" y1="173.8" x2="33.3" y2="173.8" stroke="#000" stroke-width="0.85" />
<line x1="31.4" y1="177.3" x2="33.3" y2="177.3" stroke="#000" stroke-width="0.85" />
<line x1="31.4" y1="180.8" x2="33.3" y2="180.8" stroke="#000" stroke-width="0.85" />
<line x1="31.4" y1="184.3" x2="33.3" y2="184.3" stroke="#000" stroke-width="0.85" />
<line x1="31.4" y1="191.3" x2="33.3" y2="191.3" stroke="#000" stroke-width="0.85" />
<line x1="31.4" y1="194.8" x2="33.3" y2="194.8" stroke="#000" stroke-width="0.85" />
<line x1="31.4" y1="198.3" x2="33.3" y2="198.3" stroke="#000" stroke-width="0.85" />
<line x1="31.4" y1="201.8" x2="33.3" y2="201.8" stroke="#000" stroke-width="0.85" />
<line x1="31.4" y1="208.8" x2="33.3" y2="208.8" stroke="#000" stroke-width="0.85" />
<line x1="31.4" y1="212.3" x2="33.3" y2="212.3" stroke="#000" stroke-width="0.85" />
<line x1="31.4" y1="215.8" x2="33.3" y2="215.8" stroke="#000" stroke-width="0.85" />
<line x1="31.4" y1="219.3" x2="33.3" y2="219.3" stroke="#000" stroke-width="0.85" />
<line x1="31.4" y1="226.3" x2="33.3" y2="226.3" stroke="#000" stroke-width="0.85" />
<line x1="31.4" y1="229.8" x2="33.3" y2="229.8" stroke="#000" stroke-width="0.85" />
<line x1="31.4" y1="233.3" x2="33.3" y2="233.3" stroke="#000" stroke-width="0.85" />
<line x1="31.4" y1="236.8" x2="33.3" y2="236.8" stroke="#000" stroke-width="0.85" />
<line x1="34.28" y1="240.3" x2="34.28" y2="242.20000000000002" stroke="#000" stroke-width="0.85" />
<line x1="37.82" y1="240.3" x2="37.82" y2="242.20000000000002" stroke="#000" stroke-width="0.85" />
<line x1="41.36" y1="240.3" x2="41.36" y2="242.20000000000002" stroke="#000" stroke-width="0.85" />
<line x1="48.44" y1="240.3" x2="48.44" y2="242.20000000000002" stroke="#000" stroke-width="0.85" />
<line x1="51.98" y1="240.3" x2="51.98" y2="242.20000000000002" stroke="#000" stroke-width="0.85" />
<line x1="55.52" y1="240.3" x2="55.52" y2="242.20000000000002" stroke="#000" stroke-width="0.85" />
<line x1="59.06" y1="240.3" x2="59.06" y2="242.20000000000002" stroke="#000" stroke-width="0.85" />
<line x1="66.14" y1="240.3" x2="66.14" y2="242.20000000000002" stroke="#000" stroke-width="0.85" />
<line x1="69.68" y1="240.3" x2="69.68" y2="242.20000000000002" stroke="#000" stroke-width="0.85" />
<line x1="73.22" y1="240.3" x2="73.22" y2="242.20000000000002" stroke="#000" stroke-width="0.85" />
<line x1="76.76" y1="240.3" x2="76.76" y2="242.20000000000002" stroke="#000" stroke-width="0.85" />
<line x1="83.84" y1="240.3" x2="83.84" y2="242.20000000000002" stroke="#000" stroke-width="0.85" />
<line x1="87.38" y1="240.3" x2="87.38" y2="242.20000000000002" stroke="#000" stroke-width="0.85" />
<line x1="90.92" y1="240.3" x2="90.92" y2="242.20000000000002" stroke="#000" stroke-width="0.85" />
<line x1="94.46" y1="240.3" x2="94.46" y2="242.20000000000002" stroke="#000" stroke-width="0.85" />
<line x1="98.0" y1="240.3" x2="98.0" y2="242.20000000000002" stroke="#000" stroke-width="0.85" />
<line x1="101.54" y1="240.3" x2="101.54" y2="242.20000000000002" stroke="#000" stroke-width="0.85" />
<line x1="105.08" y1="240.3" x2="105.08" y2="242.20000000000002" stroke="#000" stroke-width="0.85" />
<rect x="45" y="185.3" width="39.8" height="44.3" fill="none" stroke="#000" stroke-width="0.9"/>
<text x="70.2" y="174.4" font-size="6.7" text-anchor="middle" stroke="#000" stroke-width="0.12" fill="#000" >Time, FSC-H subset</text>
<text x="70.2" y="182.2" font-size="6.7" text-anchor="middle" stroke="#000" stroke-width="0.12" fill="#000" >51.6</text>
<line x1="84.8" y1="211.8" x2="108.8" y2="211.8" stroke="#000" stroke-width="1.1" />
<path d="M108.2 209.70000000000002L111.8 211.8L108.2 213.9z" fill="#000"/>
<text x="67.7" y="260.8" font-size="7.4" text-anchor="middle" font-weight="bold" textLength="25.2" lengthAdjust="spacingAndGlyphs" fill="#000" >Time :: Time</text>
<text transform="translate(11.3,203) rotate(-90)" font-size="6.8" text-anchor="middle" font-weight="bold" textLength="31.8" lengthAdjust="spacingAndGlyphs">FSC-H :: FSC-H</text>
<ellipse cx="156" cy="232" rx="8" ry="4.5" fill="#000" fill-opacity="0.85" transform="rotate(-10 156 232)" filter="url(#bl1_2)"/>
<ellipse cx="161" cy="227" rx="12" ry="7" fill="#000" fill-opacity="0.35" transform="rotate(-20 161 227)" filter="url(#bl2)"/>
<path transform="scale(0.1)" d="M1523 2026h0m257 9h0m-140 15h0m111 1h0m-39 6h0m-181 12h0m109 8h0m51 4h0m-139 4h0m0 19h0m110-6h0m44-1h0m17 5h0m48 1h0m4-5h0m-200 7h0m25 7h0m82-6h0m17 0h0m-176 19h0m34-7h0m60 5h0m15-4h0m51 5h0m53-7h0m12 1h0m10 6h0m-124 8h0m6 0h0m41 2h0m184-4h0m-375 13h0m28-3h0m18 1h0m5-2h0m5 3h0m44-4h0m16 6h0m27-8h0m12 0h0m13 1h0m30 2h0m7 1h0m35 4h0m9-4h0m12 4h0m14-4h0m1 4h0m2-5h0m-265 9h0m17 3h0m43 3h0m21 1h0m1-7h0m20-2h0m6 9h0m7-3h0m10 2h0m2 1h0m29-7h0m2 2h0m16 1h0m10-1h0m17 2h0m20-2h0m49-4h0m2 2h0m21 2h0m23 5h0m38-5h0m13-5h0m-389 18h0m11 2h0m17-2h0m4-1h0m29 0h0m20 2h0m12 1h0m5-3h0m21 0h0m13-3h0m17 5h0m2-3h0m2-6h0m18 1h0m4 1h0m4 6h0m15-6h0m11 3h0m17-4h0m19 7h0m5-1h0m22-4h0m3 3h0m9-2h0m4 3h0m6 0h0m20-1h0m15 1h0m27-6h0m103 3h0m-447 6h0m15 4h0m19-2h0m8 5h0m0-3h0m2-3h0m12 4h0m0-1h0m5-1h0m42 3h0m11-4h0m13 4h0m2-3h0m6 2h0m14 5h0m8-6h0m1 5h0m17 1h0m12 0h0m28 0h0m28-5h0m-249 7h0m25 7h0m4 1h0m9-6h0m17 3h0m2-1h0m48 3h0m1-4h0m10-1h0m1 1h0m9 1h0m5 0h0m13 0h0m29 2h0m11-8h0m1 9h0m4-6h0m2 6h0m4-3h0m7-6h0m3 1h0m6 4h0m15 4h0m32-4h0m11 4h0m30-6h0m65 2h0m30-1h0m-373 12h0m31 3h0m2-4h0m9 5h0m23-4h0m1 3h0m2-6h0m3-3h0m14 8h0m0-1h0m7 2h0m5-3h0m3 4h0m5-1h0m2 0h0m5 0h0m7 1h0m33-8h0m6 4h0m0 2h0m23-4h0m9-1h0m2-1h0m8 0h0m20-1h0m5 4h0m14-2h0m0-3h0m0 9h0m9-8h0m4 4h0m16 1h0m44-2h0m-340 8h0m2 6h0m3-5h0m5 1h0m9 2h0m18-1h0m0 1h0m8 3h0m5 0h0m8-4h0m7 2h0m2 0h0m0-4h0m13 1h0m5-3h0m6 5h0m14-2h0m9 0h0m29 3h0m10 0h0m1-6h0m13 1h0m3-1h0m5 7h0m9-2h0m0 0h0m0 3h0m7-8h0m3 2h0m2-3h0m9 5h0m28 4h0m2-7h0m3 5h0m6 1h0m43-5h0m5-3h0m15 3h0m8 5h0m63-6h0m-378 10h0m10 7h0m7-7h0m6 3h0m5 2h0m7-7h0m3 10h0m9-2h0m1-3h0m2 3h0m5-6h0m3 6h0m1-4h0m1 3h0m2-2h0m12 3h0m5-7h0m1 1h0m1 4h0m2-3h0m0 3h0m19 0h0m1 3h0m1-8h0m1 4h0m11 2h0m3-2h0m3 3h0m16 1h0m3-6h0m4 6h0m1-5h0m8 0h0m0 3h0m5-1h0m13-1h0m4-5h0m6 7h0m5-1h0m11-5h0m2 8h0m37-4h0m0 1h0m5 2h0m2-7h0m20 6h0m1-4h0m32-1h0m1-2h0m53 9h0m0-2h0m12-3h0m8-1h0m4 0h0m49 0h0m-422 11h0m3-4h0m4 9h0m9 1h0m16-5h0m1-1h0m1-4h0m3 7h0m0 3h0m1-1h0m3-6h0m11 3h0m4-2h0m4 0h0m1 2h0m0-1h0m1 0h0m1 4h0m1 0h0m4-6h0m0 1h0m3 4h0m11-1h0m11-6h0m4 7h0m1-7h0m2 2h0m1-1h0m4 0h0m3 3h0m4-4h0m2 6h0m2 2h0m9-2h0m7 0h0m2-4h0m0 5h0m2-1h0m8 3h0m1-1h0m7-1h0m2-3h0m3-1h0m6-3h0m11 1h0m12 5h0m0-5h0m14 1h0m2 5h0m5-1h0m21-2h0m1-5h0m9 5h0m8 4h0m3-5h0m3-2h0m12-2h0m6 5h0m10-2h0m8 4h0m4-2h0m9 1h0m1-6h0m13 6h0m6 3h0m15-8h0m28 5h0m7 1h0m19 0h0m-392 10h0m3-7h0m14 4h0m3 5h0m1-1h0m0-1h0m10 1h0m1-5h0m1-2h0m10 5h0m7 3h0m1-9h0m0 4h0m13 1h0m8-3h0m0 6h0m2 0h0m0-5h0m0-2h0m3 0h0m2 7h0m4 1h0m0 1h0m0-6h0m8-1h0m1 4h0m0 3h0m5-1h0m4 0h0m2-4h0m2-3h0m1 6h0m5-2h0m5 0h0m2-1h0m1 4h0m2-5h0m0 1h0m1 1h0m2-5h0m0 1h0m4-2h0m2 3h0m3 2h0m9 1h0m0 3h0m0-1h0m2-4h0m7-1h0m5 4h0m2-1h0m1 2h0m6-3h0m6 4h0m3-9h0m13 2h0m4-2h0m5 2h0m2 2h0m3 4h0m3-3h0m1 4h0m3-8h0m4 7h0m12-1h0m0 0h0m7-6h0m9 2h0m4 1h0m0 0h0m5-3h0m4 7h0m7-4h0m14 0h0m20-2h0m5 2h0m3 6h0m10-1h0m29-8h0m9 2h0m31 5h0m22-1h0m-402 4h0m8 8h0m17-8h0m15 3h0m1-4h0m2 2h0m2 0h0m2 7h0m1-7h0m5 4h0m1 3h0m1 0h0m1-7h0m1 4h0m1-3h0m3-2h0m4 6h0m2-1h0m1-3h0m0-2h0m11 6h0m1-3h0m3-2h0m2 6h0m1 2h0m0 0h0m4-3h0m1-5h0m2 1h0m2-3h0m3 8h0m6-7h0m2 4h0m1-2h0m1 0h0m4 6h0m0-9h0m2 2h0m10 7h0m1-8h0m2 7h0m4-2h0m2-3h0m2 3h0m8-5h0m3 9h0m5-5h0m3 2h0m2-1h0m1 0h0m2 0h0m2-3h0m0-1h0m4-2h0m2 9h0m2 0h0m1-9h0m11 7h0m3-4h0m0 0h0m4-2h0m9 3h0m16-3h0m13 7h0m7-4h0m0-2h0m22 6h0m22 0h0m2 0h0m15 1h0m5-5h0m51 5h0m46 1h0m0 0h0m-393 2h0m17-1h0m6 7h0m0-7h0m3 3h0m1 6h0m9-10h0m7 7h0m13-1h0m2-1h0m2 4h0m8-6h0m0 4h0m2-1h0m2-5h0m6 4h0m3 5h0m15-4h0m2-4h0m0 1h0m4 3h0m2-3h0m1 7h0m4-7h0m2-1h0m1 2h0m0 3h0m12-2h0m5 5h0m0-6h0m1 1h0m4 3h0m2 0h0m7 1h0m1-5h0m0 2h0m11 4h0m3-8h0m1-1h0m2 0h0m8 6h0m3 3h0m5-3h0m10-4h0m0 1h0m8 3h0m2 2h0m10-3h0m3 2h0m3-5h0m0 5h0m0-3h0m4 0h0m0 0h0m4-4h0m11 4h0m23-2h0m15 6h0m4-9h0m33 8h0m4 1h0m20-3h0m13-4h0m3 7h0m13-4h0m25-4h0m-393 19h0m4-6h0m1 2h0m4-2h0m7 6h0m2-10h0m3 5h0m3-2h0m1 5h0m4-7h0m12 2h0m13-2h0m7 9h0m1-1h0m0-1h0m1-7h0m1 9h0m1-7h0m1 0h0m2 1h0m2 2h0m5 4h0m1-1h0m2-3h0m0-3h0m2 1h0m3-2h0m4 4h0m4 4h0m0-5h0m1-4h0m1 8h0m1-3h0m5-3h0m6 1h0m4-3h0m11 7h0m1 0h0m6 2h0m2-8h0m0 0h0m10 3h0m1-4h0m1 4h0m5-4h0m2 1h0m3 5h0m1 1h0m2-5h0m2-1h0m1 3h0m1 1h0m7 2h0m2-2h0m3-5h0m3 0h0m6 9h0m1-1h0m11-9h0m3 6h0m3-3h0m0 1h0m1-3h0m6 0h0m2 6h0m3-5h0m2 0h0m7 7h0m9-4h0m0-1h0m2 1h0m7 5h0m13-1h0m10 1h0m15-3h0m1-5h0m1-1h0m23 4h0m43-2h0m21 0h0m34-2h0m-396 14h0m12 1h0m18-5h0m3 1h0m0-1h0m1 0h0m2 0h0m6 1h0m4 0h0m3 8h0m0-5h0m1 5h0m9-4h0m4 2h0m0-3h0m1 1h0m0-3h0m5 6h0m1-4h0m8-1h0m3 0h0m1-2h0m6-2h0m1 2h0m2 5h0m2-5h0m2 0h0m2-1h0m4 7h0m1-6h0m0 4h0m0 4h0m1-9h0m1 4h0m1 1h0m2 2h0m2-2h0m10 3h0m3-4h0m2 0h0m4 2h0m2-1h0m9 0h0m0 2h0m3-5h0m1 0h0m1 4h0m1-5h0m4 4h0m1-1h0m2-1h0m0-3h0m9 1h0m3 1h0m0 6h0m1-5h0m9-3h0m0 1h0m5 2h0m1 5h0m3-8h0m5 5h0m1 2h0m3 1h0m4 1h0m1-5h0m11 2h0m1 3h0m11-6h0m2 3h0m1 2h0m4 0h0m5 1h0m14-4h0m37 1h0m1 1h0m5-5h0m18 3h0m15 2h0m2-5h0m4-1h0m0 4h0m2 2h0m5-6h0m3-1h0m5 2h0m12 3h0m17 0h0m23 1h0m-394 4h0m14 6h0m7-7h0m0 9h0m2-6h0m4 6h0m1-2h0m4 0h0m1-2h0m2 2h0m0-4h0m0 4h0m0-1h0m1-1h0m0 2h0m1 0h0m12 1h0m2-4h0m2 3h0m2-2h0m4-2h0m2 3h0m3-3h0m2 2h0m1-4h0m0 3h0m1 0h0m5-4h0m1 7h0m1 1h0m1-3h0m1 4h0m2-3h0m1 2h0m1-1h0m1 1h0m2-7h0m1 0h0m3 4h0m3 3h0m0-2h0m1-3h0m3 4h0m1-5h0m3 7h0m6 0h0m3-1h0m0 0h0m1-6h0m5 7h0m3-4h0m2-4h0m1 0h0m4 6h0m1 2h0m4-9h0m0 8h0m9 0h0m1-6h0m5 8h0m2-4h0m12 2h0m0-7h0m1 8h0m0-5h0m0-3h0m2 6h0m1-3h0m1 0h0m3-2h0m0 6h0m2 0h0m4-4h0m4 0h0m4-3h0m2 1h0m2 3h0m4 3h0m3-3h0m2 0h0m10 2h0m2 0h0m2 2h0m2-1h0m10-2h0m3-1h0m6-2h0m4 3h0m15-2h0m12 4h0m1-6h0m7-2h0m1 8h0m3-5h0m2 0h0m1-2h0m2 3h0m4 6h0m4-9h0m3 5h0m2 2h0m0-1h0m10-6h0m15 7h0m25-7h0m2 1h0m2 1h0m13 0h0m9 6h0m17-8h0m6 3h0m46-2h0m-434 9h0m3 4h0m5 2h0m0-3h0m4-2h0m1 6h0m3-2h0m4-3h0m7 1h0m2 4h0m2-6h0m1 5h0m2 2h0m3 0h0m2-8h0m1 8h0m7-9h0m3 2h0m0 7h0m2-5h0m2 2h0m1-1h0m0 0h0m3-3h0m1 4h0m1 0h0m4 3h0m1-7h0m4 8h0m7-9h0m1 7h0m3-4h0m0 5h0m2-4h0m0 1h0m1 4h0m2-4h0m0-4h0m4 8h0m2-8h0m0 0h0m2 6h0m0-7h0m0 6h0m1-3h0m3-1h0m0 5h0m0 1h0m0-1h0m4 1h0m1-5h0m0-3h0m1 5h0m1-3h0m3 5h0m1-7h0m3 4h0m3 0h0m1-3h0m1 3h0m2-2h0m0 7h0m1-7h0m2 1h0m2 5h0m3-9h0m2 2h0m0 6h0m0-7h0m2 6h0m3 2h0m5-5h0m4-3h0m1 3h0m4 2h0m0-6h0m7 5h0m4 0h0m2-4h0m1 4h0m2-2h0m1 6h0m1-1h0m2 1h0m0-6h0m1-1h0m1 4h0m1 2h0m1 0h0m2 0h0m1-2h0m1 2h0m3-5h0m4 4h0m1-5h0m0 5h0m7-6h0m12 8h0m4-7h0m2 6h0m12-6h0m5 6h0m1 2h0m3-5h0m6 0h0m5 0h0m4 4h0m3-6h0m8 5h0m1-2h0m10 3h0m10 1h0m7-3h0m5 3h0m24-8h0m2 8h0m3-3h0m26-7h0m2 5h0m24 0h0m2 3h0m-373 10h0m2 0h0m1 1h0m1-9h0m3 3h0m2-1h0m0-2h0m3 10h0m1-2h0m2-5h0m1 0h0m1-3h0m0 8h0m1-5h0m0 6h0m2 0h0m3-8h0m7 3h0m4 0h0m1 1h0m2 4h0m1 1h0m0-8h0m3-2h0m2 10h0m3-4h0m1 1h0m4 1h0m0-2h0m1-2h0m2 5h0m0-2h0m2-5h0m2-2h0m1 6h0m3-2h0m1 1h0m0-3h0m2-1h0m0-1h0m1 6h0m1-1h0m2-4h0m6 6h0m2-4h0m0-1h0m1 1h0m2 5h0m1-2h0m0-5h0m1 5h0m2 3h0m0-2h0m0 1h0m2-8h0m1 4h0m0 5h0m3-3h0m0 3h0m1-3h0m1-1h0m1-2h0m3 3h0m2-2h0m7-4h0m1 5h0m0-2h0m1 3h0m2-4h0m1 4h0m4-1h0m1-3h0m1-1h0m1 8h0m0 0h0m1-4h0m0-3h0m6 4h0m0 0h0m0-4h0m4 0h0m1 2h0m1 1h0m0 2h0m1 2h0m3-2h0m0 0h0m1-3h0m3 1h0m1 3h0m0-3h0m6 4h0m2-9h0m2 7h0m0 2h0m0 1h0m2-4h0m0 1h0m0-2h0m1 4h0m3 1h0m4-8h0m3 4h0m7 1h0m0-2h0m1 3h0m2-7h0m1 2h0m19 6h0m1-1h0m4-2h0m4 1h0m2-6h0m4 6h0m3 1h0m0-2h0m2 3h0m2-9h0m0 10h0m6-3h0m6 2h0m1-2h0m2-4h0m5-1h0m7 6h0m13-6h0m8 5h0m9-1h0m7-3h0m1 2h0m38-4h0m37 7h0m-352 11h0m1-6h0m1 3h0m7 3h0m5 0h0m1-6h0m1 3h0m1 2h0m2-4h0m1-1h0m1-1h0m0 1h0m1 1h0m1 3h0m1 2h0m5-8h0m2 9h0m5-5h0m0-2h0m0 0h0m1 0h0m1-2h0m0 6h0m4-1h0m1-1h0m5 4h0m1-3h0m0-2h0m1 6h0m0-7h0m2 5h0m2 1h0m0 1h0m1-7h0m1 2h0m0 5h0m1-1h0m1-8h0m0 3h0m1 6h0m1-7h0m3-1h0m2 4h0m0 2h0m3-6h0m0 0h0m4 2h0m0-2h0m2 2h0m3 2h0m2 0h0m1-6h0m0 4h0m1 6h0m1-9h0m2 2h0m2 4h0m0 2h0m0 0h0m1-5h0m0 0h0m0-1h0m0 2h0m2 3h0m3-1h0m0-3h0m2 0h0m1-3h0m0 6h0m0-3h0m1 5h0m0-7h0m1 1h0m0 6h0m0-6h0m1-2h0m1 5h0m1-1h0m2-3h0m2 7h0m1-7h0m1 8h0m1-1h0m2-5h0m1 1h0m3 1h0m1 2h0m4-3h0m1 0h0m1 0h0m1-2h0m1 5h0m1-1h0m9 0h0m7-6h0m0-1h0m2 4h0m0 5h0m1-1h0m2-6h0m1 4h0m6-5h0m1 0h0m0 2h0m1 1h0m2-4h0m1 0h0m0 4h0m2-3h0m4 8h0m1-3h0m5-3h0m0-2h0m0 1h0m0 6h0m3-1h0m1-4h0m1 5h0m1-1h0m3 0h0m4 0h0m1-4h0m0 2h0m4-4h0m0 8h0m6-6h0m6 2h0m1 5h0m19-4h0m6-1h0m2-1h0m9 3h0m9-4h0m10-2h0m1 7h0m4-3h0m12 0h0m31-2h0m29-2h0m-333 11h0m4 0h0m2 2h0m3 4h0m3-1h0m1-5h0m1 7h0m1-6h0m1 5h0m4-2h0m0 0h0m2 2h0m0 2h0m1-8h0m1-2h0m3 3h0m2 1h0m0-2h0m0 6h0m1-8h0m0 9h0m4 0h0m2-5h0m0-2h0m0 8h0m1-1h0m0-6h0m2 1h0m1 5h0m0-5h0m1 5h0m1-7h0m1 8h0m0-5h0m3-4h0m2 2h0m1 5h0m1-5h0m2 5h0m1-3h0m1-4h0m0 0h0m1 2h0m0 0h0m1 2h0m1 0h0m0-5h0m0 9h0m2-1h0m2-5h0m0 3h0m1 4h0m0-1h0m1-7h0m2-1h0m1 4h0m0-5h0m2 8h0m1-5h0m0 7h0m3-1h0m1-6h0m1 5h0m2 1h0m0-5h0m3-2h0m1 4h0m1-2h0m1-2h0m0-1h0m0 6h0m1-4h0m0 1h0m1 3h0m0 0h0m1 1h0m0 1h0m1-4h0m0 2h0m1-3h0m4 5h0m0-3h0m0 3h0m1-5h0m1-2h0m1 1h0m1 3h0m1-1h0m3 2h0m2-4h0m2 1h0m1 2h0m1-1h0m1-3h0m1 6h0m0-5h0m4 6h0m1-2h0m1 0h0m1 2h0m2-8h0m0 9h0m2-3h0m1-3h0m1-1h0m1-2h0m2 5h0m3 2h0m0-6h0m2 6h0m1-8h0m1 3h0m1-1h0m1 2h0m14 3h0m2 2h0m4 0h0m1-1h0m3-2h0m1 0h0m0-3h0m2 0h0m2-3h0m1 7h0m5-3h0m4-4h0m0 6h0m1 0h0m0 1h0m2-1h0m3 1h0m3 1h0m11-4h0m1 2h0m14-5h0m4 7h0m3 0h0m7-7h0m0 0h0m7 2h0m3-2h0m14 2h0m1-2h0m2 8h0m3-5h0m4 0h0m0 5h0m1-3h0m24 3h0m12-9h0m56 3h0m-346 15h0m0-2h0m5 1h0m0-7h0m1 8h0m10-6h0m3 1h0m2 5h0m1-7h0m2 3h0m0-1h0m0 1h0m1-3h0m1 7h0m0-3h0m1 2h0m1 3h0m2-9h0m1 0h0m0 9h0m1-6h0m0 2h0m3-1h0m1 0h0m1 5h0m0-6h0m1-2h0m2 5h0m0-6h0m1 7h0m1-7h0m1 3h0m1 1h0m0-4h0m1 1h0m3 8h0m0-10h0m1 2h0m1 1h0m0 1h0m2 3h0m1 0h0m1 1h0m1-6h0m1 1h0m1 1h0m1 1h0m2 1h0m2 2h0m1-2h0m1 0h0m1 1h0m0-1h0m1 1h0m0-6h0m2 9h0m2-8h0m2 6h0m0 2h0m2-6h0m0-1h0m1 0h0m1 4h0m1-4h0m0 5h0m1-6h0m0 1h0m0 3h0m3-3h0m1 1h0m1-3h0m1 4h0m0-1h0m3-2h0m0 0h0m1-2h0m0 7h0m4 1h0m0-2h0m0 1h0m1-6h0m2 8h0m1-7h0m3 0h0m2 4h0m1-2h0m5 3h0m0 1h0m6-6h0m1 1h0m0 2h0m2 5h0m0-7h0m1 3h0m0-2h0m3 2h0m0-2h0m2-2h0m1 0h0m2-1h0m2 6h0m1 2h0m0-8h0m0 8h0m0-4h0m2-2h0m3 3h0m1-1h0m1-4h0m1 1h0m4 4h0m1-2h0m7 5h0m1-7h0m0 8h0m0-6h0m1-4h0m0 6h0m1 1h0m3 1h0m0 0h0m1-7h0m2 2h0m3 6h0m2-6h0m0-1h0m5 7h0m1-2h0m6-1h0m7 0h0m4-2h0m2 2h0m2-6h0m9 1h0m1 8h0m1-6h0m13 5h0m6-5h0m1 2h0m2 3h0m16-7h0m2 3h0m23 0h0m-260 11h0m1-4h0m5 4h0m1 0h0m0-2h0m10 2h0m1-1h0m5-3h0m2 4h0m0-2h0m5 7h0m0-6h0m0 0h0m4 2h0m0 0h0m1-3h0m0-3h0m1 8h0m1 0h0m2-3h0m3 3h0m0-6h0m1 5h0m1 0h0m0 0h0m1-6h0m1 6h0m0 2h0m1-8h0m0 8h0m1-7h0m2 0h0m0 5h0m5-4h0m0 5h0m0 0h0m2-7h0m0 4h0m0-3h0m1 2h0m0 5h0m1-8h0m0 6h0m2 2h0m0-6h0m0-1h0m1 8h0m2-5h0m2 3h0m0-7h0m0-1h0m1 9h0m2-8h0m2 5h0m2 0h0m1-4h0m1 8h0m2-7h0m0 0h0m3 4h0m0 1h0m0-1h0m3-6h0m2 9h0m1-9h0m0 6h0m0 0h0m5-3h0m5-1h0m1 3h0m0 0h0m0-6h0m3 8h0m1-5h0m1 0h0m1 3h0m1-6h0m0 3h0m2 7h0m1-3h0m6 3h0m0-6h0m0 2h0m1 4h0m6-2h0m2-2h0m3 4h0m3-7h0m1 4h0m1-7h0m2 8h0m1-6h0m1 1h0m1 1h0m4-1h0m1 6h0m3-3h0m1 2h0m25-2h0m3-5h0m0 6h0m3 2h0m2-4h0m0 0h0m8-3h0m6 0h0m13 3h0m0 2h0m3 2h0m0-7h0m11 2h0m30-2h0m-247 9h0m3 3h0m3 3h0m11-1h0m1-2h0m1 2h0m3 1h0m0-3h0m1-2h0m1 4h0m3-3h0m3 2h0m1 4h0m2-1h0m1-2h0m1 2h0m1-3h0m1-1h0m0-2h0m0 2h0m7 3h0m1-5h0m2-1h0m1 5h0m1 1h0m1-2h0m0 1h0m1-5h0m5 0h0m0 8h0m1-4h0m0 0h0m2-3h0m0 0h0m1 0h0m1 0h0m0 2h0m3 0h0m2 5h0m0-8h0m4 9h0m3-2h0m1 0h0m1-3h0m0-3h0m2 2h0m1-3h0m0 0h0m1 0h0m0 2h0m1 0h0m1 0h0m1-1h0m2 2h0m1 0h0m1 3h0m1-2h0m1 4h0m1-8h0m3 4h0m0 2h0m1-4h0m0-3h0m0 6h0m1-5h0m3 0h0m2 7h0m1 2h0m0-3h0m1-1h0m1-5h0m1 4h0m3 0h0m1 5h0m1 0h0m2-8h0m2-1h0m0-1h0m1 10h0m2-9h0m2 5h0m0-6h0m0 2h0m1 5h0m1 0h0m2-5h0m9 6h0m1-5h0m1 2h0m4 3h0m1-3h0m1 5h0m1-3h0m5-4h0m0-2h0m1 8h0m0-3h0m1-1h0m7-2h0m6 0h0m0 2h0m4-1h0m4-2h0m16 6h0m2 0h0m3-7h0m5 3h0m2 4h0m11 1h0m0-4h0m1-4h0m1 8h0m20-6h0m6-2h0m-234 9h0m2 4h0m8 1h0m6 0h0m3 3h0m6 1h0m9-5h0m0 4h0m3-5h0m6 6h0m4-8h0m0 6h0m6-4h0m4-1h0m2-2h0m3 9h0m0-5h0m1-2h0m0 3h0m4 1h0m0-1h0m1 4h0m5-9h0m2 10h0m0-5h0m3 1h0m0 4h0m2-7h0m0 6h0m5-8h0m1 0h0m2 9h0m5-4h0m5 3h0m3-9h0m1 2h0m0 1h0m2 1h0m0 1h0m0-5h0m2 9h0m3 0h0m0 0h0m11-5h0m0 4h0m2-1h0m1 1h0m2 1h0m4-8h0m2 1h0m0 1h0m8 6h0m0-6h0m4 1h0m16-1h0m3 1h0m3-1h0m8-2h0m8 3h0m13-2h0m4 6h0m1 0h0m7-8h0m22 0h0m-222 16h0m10-2h0m3 5h0m1-8h0m6 2h0m2 1h0m9-1h0m1 1h0m1-1h0m5 2h0m4 1h0m1-5h0m1 1h0m2 1h0m1-2h0m6-1h0m1 0h0m4 8h0m2-4h0m0-1h0m0-3h0m4 0h0m3 1h0m1 4h0m1-4h0m0 1h0m4 2h0m1 1h0m0-5h0m4 1h0m1 1h0m5 5h0m2-4h0m0 2h0m1-4h0m4 4h0m1 0h0m1-4h0m2 0h0m4 4h0m0-1h0m2-4h0m6 4h0m6 4h0m3-6h0m7 0h0m2-1h0m5 3h0m3-3h0m4 4h0m5-1h0m5-1h0m2-1h0m5 5h0m10-4h0m0 6h0m11-7h0m2 4h0m1-1h0m0-2h0m7-1h0m-191 9h0m29 6h0m19-1h0m3-4h0m2 3h0m1-1h0m1-1h0m2 7h0m7-1h0m3 0h0m0-2h0m1 0h0m10-5h0m2 0h0m5 3h0m0-4h0m10 4h0m2-4h0m8 0h0m1 6h0m3-2h0m1-2h0m16 0h0m2 6h0m2-1h0m3-2h0m2 0h0m1-4h0m0 1h0m3 5h0m0-1h0m4-5h0m0 0h0m2-1h0m4-1h0m0 5h0m10-3h0m-144 8h0m18 9h0m3-9h0m21 1h0m2 7h0m12-2h0m7 2h0m6-2h0m3 0h0m15 0h0m4-3h0m4-2h0m0 5h0m4-3h0m12 2h0m12 0h0m1-1h0m-120 7h0m37 0h0m6 1h0m26 1h0m15-2h0m1 2h0m14-3h0" stroke="#000" stroke-opacity="0.7" stroke-width="7.0" stroke-linecap="square" fill="none"/>
<path transform="scale(0.1)" d="M1495 1707h0m125 2h0m179-3h0m132 8h0m18-6h0m47 14h0m-439 14h0m19 2h0m80 3h0m158 7h0m68 7h0m10-1h0m112-4h0m-452 13h0m40-5h0m70 5h0m1-6h0m294 3h0m-230 13h0m105-8h0m-128 11h0m93 8h0m-266 1h0m174 1h0m47 4h0m109-1h0m163 3h0m-531 5h0m579 0h0m-427 15h0m49 2h0m291 0h0m18-1h0m97 0h0m-320 9h0m45-1h0m240 4h0m37-9h0m-260 14h0m52 4h0m112-4h0m-164 7h0m168-1h0m26 1h0m65-1h0m-440 12h0m246-1h0m25 6h0m-294 12h0m275-5h0m46 13h0m-396 2h0m26 5h0m34 1h0m158-3h0m114 3h0m114 3h0m-253 4h0m236 0h0m-519 10h0m172 2h0m33 4h0m70-1h0m26-2h0m162 3h0m6 9h0m-436 10h0m164-3h0m112-2h0m-239 10h0m176 5h0m134 0h0m12-8h0m76 7h0m33 2h0m-434 8h0m187-6h0m46 5h0m15-3h0m64 4h0m30-1h0m104 1h0m-485 11h0m207-4h0m6 1h0m67 3h0m150 1h0m-367 3h0m3 7h0m19 1h0m187-3h0m24-2h0m122 4h0m37-3h0m-172 9h0m100-2h0m18 4h0m74-6h0m10 1h0m3 6h0m74-7h0m-579 13h0m18 4h0m88-6h0m82 6h0m21-6h0m52 7h0m40-7h0m5 1h0m118 6h0m187-1h0m11 1h0m-498 8h0m89 2h0m90-7h0m11 2h0m12 0h0m91 1h0m123-4h0m-453 16h0m107-4h0m64 6h0m69-5h0m61 0h0m50-1h0m11 4h0m13-3h0m81-3h0m-375 9h0m42 9h0m94-7h0m24 0h0m4 4h0m80-1h0m14-1h0m-429 11h0m38-2h0m47 3h0m66-1h0m4-4h0m21 8h0m30-2h0m6-5h0m23 3h0m12 3h0m62 0h0m8-4h0m97 5h0m29-2h0m25-2h0m16 0h0m-163 14h0m139-2h0m4-6h0m73 4h0m-541 6h0m29 7h0m116-3h0m77-5h0m14 6h0m139-4h0m-232 9h0m1 3h0m146-3h0m39 0h0m12 0h0m181 8h0m-436 9h0m115 0h0m37-3h0m64-2h0m11 0h0m50-3h0m32 9h0m109-3h0m24 2h0m21 1h0m-328 4h0m2 5h0m64 1h0m17-4h0m7 1h0m47 3h0m31-7h0m17 2h0m13 4h0m7-5h0m84 1h0m60-1h0m42 7h0m-585 4h0m57-1h0m18 6h0m57-1h0m44-5h0m60-3h0m29 4h0m13-3h0m17 1h0m42 7h0m217-4h0m-451 11h0m29 1h0m26-3h0m36-1h0m22-2h0m32 0h0m43 1h0m22-1h0m10 2h0m0 3h0m31 1h0m4 0h0m5-4h0m55 4h0m43-2h0m13-3h0m37 8h0m-340 2h0m31-1h0m33 4h0m98-3h0m43-1h0m1 9h0m106-6h0m45 3h0m-532 6h0m39-2h0m139 4h0m32-2h0m16 4h0m60-5h0m38 1h0m5 1h0m33 4h0m67-1h0m16 3h0m47-4h0m-472 11h0m98 2h0m157-5h0m46 2h0m19-1h0m35-4h0m24 5h0m26-5h0m37-1h0m16 5h0m38-4h0m-425 18h0m23-7h0m22 3h0m42 3h0m70 0h0m60-5h0m2 3h0m17 1h0m12-4h0m85-1h0m7 8h0m45-10h0m-332 12h0m128-2h0m22 2h0m23 0h0m13 3h0m4-4h0m127 9h0m2-6h0m-455 14h0m33-5h0m56 5h0m60-6h0m70-1h0m29 3h0m227-4h0m69 10h0m0-8h0m-416 12h0m49 3h0m62-4h0m15-3h0m0 5h0m73 0h0m25-4h0m8 1h0m55 8h0m43-7h0m131 2h0m-483 6h0m50 1h0m75 5h0m8-6h0m47 8h0m144 0h0m42-9h0m80 1h0m-578 18h0m116-1h0m2 0h0m83 2h0m77-5h0m90-2h0m-230 9h0m68 3h0m2-1h0m42 3h0m1-4h0m163 1h0m14-2h0m18 5h0m39-2h0m4 0h0m10-4h0m-473 15h0m54 3h0m108-3h0m71 0h0m8 2h0m166-4h0m58-1h0m-419 12h0m149 4h0m113-4h0m52 1h0m175 0h0m69-2h0m-521 11h0m162-3h0m60 1h0m24 6h0m22 0h0m10-6h0m106 0h0m-447 12h0m209-3h0m192 6h0m5 0h0m34-2h0m-236 11h0m2 2h0m99-7h0m-321 16h0m206-4h0m42 4h0m18-7h0m2 1h0m8-1h0m49 6h0m156-3h0m-466 14h0m168-4h0m21-1h0m63-3h0m64 6h0m-314 11h0m87-1h0m40-4h0m10 1h0m145-2h0m30 7h0m0-4h0m53-4h0m-222 14h0m17 4h0m160 0h0m-341 6h0m154 5h0m98 7h0m27 3h0m15-7h0m-136 10h0m94 4h0m81-3h0m-259 8h0m-61 11h0m229 3h0m-144 14h0m-23 9h0m23-5h0m108 5h0m-124 11h0m4 3h0m-122 10h0" stroke="#000" stroke-opacity="0.45" stroke-width="7.0" stroke-linecap="square" fill="none"/>
<rect x="139.5" y="165.5" width="72.80000000000001" height="75.0" fill="none" stroke="#000" stroke-width="1.3"/>
<line x1="136.7" y1="176.25" x2="139.5" y2="176.25" stroke="#000" stroke-width="0.9" />
<text x="135.9" y="178.45" font-size="6.3" text-anchor="end" textLength="12.9" lengthAdjust="spacingAndGlyphs" stroke="#000" stroke-width="0.12" fill="#000" >1.2M</text>
<line x1="136.7" y1="192.5" x2="139.5" y2="192.5" stroke="#000" stroke-width="0.9" />
<text x="135.9" y="194.7" font-size="6.3" text-anchor="end" textLength="14.85" lengthAdjust="spacingAndGlyphs" stroke="#000" stroke-width="0.12" fill="#000" >900K</text>
<line x1="136.7" y1="208.75" x2="139.5" y2="208.75" stroke="#000" stroke-width="0.9" />
<text x="135.9" y="210.95" font-size="6.3" text-anchor="end" textLength="14.85" lengthAdjust="spacingAndGlyphs" stroke="#000" stroke-width="0.12" fill="#000" >600K</text>
<line x1="136.7" y1="224.5" x2="139.5" y2="224.5" stroke="#000" stroke-width="0.9" />
<text x="135.9" y="226.7" font-size="6.3" text-anchor="end" textLength="14.85" lengthAdjust="spacingAndGlyphs" stroke="#000" stroke-width="0.12" fill="#000" >300K</text>
<line x1="136.7" y1="240.5" x2="139.5" y2="240.5" stroke="#000" stroke-width="0.9" />
<text x="135.9" y="242.7" font-size="6.3" text-anchor="end" textLength="3.65" lengthAdjust="spacingAndGlyphs" stroke="#000" stroke-width="0.12" fill="#000" >0</text>
<line x1="140" y1="240.5" x2="140" y2="243.3" stroke="#000" stroke-width="0.9" />
<text x="140.2" y="251.1" font-size="6.3" text-anchor="middle" textLength="3.65" lengthAdjust="spacingAndGlyphs" stroke="#000" stroke-width="0.12" fill="#000" >0</text>
<line x1="163.5" y1="240.5" x2="163.5" y2="243.3" stroke="#000" stroke-width="0.9" />
<text x="163.7" y="251.1" font-size="6.3" text-anchor="middle" textLength="14.85" lengthAdjust="spacingAndGlyphs" stroke="#000" stroke-width="0.12" fill="#000" >500K</text>
<line x1="187" y1="240.5" x2="187" y2="243.3" stroke="#000" stroke-width="0.9" />
<text x="187.2" y="251.1" font-size="6.3" text-anchor="middle" textLength="12.9" lengthAdjust="spacingAndGlyphs" stroke="#000" stroke-width="0.12" fill="#000" >1.0M</text>
<line x1="211" y1="240.5" x2="211" y2="243.3" stroke="#000" stroke-width="0.9" />
<text x="211.2" y="251.1" font-size="6.3" text-anchor="middle" textLength="12.9" lengthAdjust="spacingAndGlyphs" stroke="#000" stroke-width="0.12" fill="#000" >1.5M</text>
<line x1="137.6" y1="166.5" x2="139.5" y2="166.5" stroke="#000" stroke-width="0.85" />
<line x1="137.6" y1="169.75" x2="139.5" y2="169.75" stroke="#000" stroke-width="0.85" />
<line x1="137.6" y1="173.0" x2="139.5" y2="173.0" stroke="#000" stroke-width="0.85" />
<line x1="137.6" y1="179.5" x2="139.5" y2="179.5" stroke="#000" stroke-width="0.85" />
<line x1="137.6" y1="182.75" x2="139.5" y2="182.75" stroke="#000" stroke-width="0.85" />
<line x1="137.6" y1="186.0" x2="139.5" y2="186.0" stroke="#000" stroke-width="0.85" />
<line x1="137.6" y1="189.25" x2="139.5" y2="189.25" stroke="#000" stroke-width="0.85" />
<line x1="137.6" y1="195.75" x2="139.5" y2="195.75" stroke="#000" stroke-width="0.85" />
<line x1="137.6" y1="199.0" x2="139.5" y2="199.0" stroke="#000" stroke-width="0.85" />
<line x1="137.6" y1="202.25" x2="139.5" y2="202.25" stroke="#000" stroke-width="0.85" />
<line x1="137.6" y1="205.5" x2="139.5" y2="205.5" stroke="#000" stroke-width="0.85" />
<line x1="137.6" y1="212.0" x2="139.5" y2="212.0" stroke="#000" stroke-width="0.85" />
<line x1="137.6" y1="215.25" x2="139.5" y2="215.25" stroke="#000" stroke-width="0.85" />
<line x1="137.6" y1="218.5" x2="139.5" y2="218.5" stroke="#000" stroke-width="0.85" />
<line x1="137.6" y1="221.75" x2="139.5" y2="221.75" stroke="#000" stroke-width="0.85" />
<line x1="137.6" y1="225.0" x2="139.5" y2="225.0" stroke="#000" stroke-width="0.85" />
<line x1="137.6" y1="228.25" x2="139.5" y2="228.25" stroke="#000" stroke-width="0.85" />
<line x1="137.6" y1="231.5" x2="139.5" y2="231.5" stroke="#000" stroke-width="0.85" />
<line x1="137.6" y1="234.75" x2="139.5" y2="234.75" stroke="#000" stroke-width="0.85" />
<line x1="137.6" y1="238.0" x2="139.5" y2="238.0" stroke="#000" stroke-width="0.85" />
<line x1="144.7" y1="240.5" x2="144.7" y2="242.4" stroke="#000" stroke-width="0.85" />
<line x1="149.4" y1="240.5" x2="149.4" y2="242.4" stroke="#000" stroke-width="0.85" />
<line x1="154.1" y1="240.5" x2="154.1" y2="242.4" stroke="#000" stroke-width="0.85" />
<line x1="158.8" y1="240.5" x2="158.8" y2="242.4" stroke="#000" stroke-width="0.85" />
<line x1="168.2" y1="240.5" x2="168.2" y2="242.4" stroke="#000" stroke-width="0.85" />
<line x1="172.9" y1="240.5" x2="172.9" y2="242.4" stroke="#000" stroke-width="0.85" />
<line x1="177.6" y1="240.5" x2="177.6" y2="242.4" stroke="#000" stroke-width="0.85" />
<line x1="182.3" y1="240.5" x2="182.3" y2="242.4" stroke="#000" stroke-width="0.85" />
<line x1="191.7" y1="240.5" x2="191.7" y2="242.4" stroke="#000" stroke-width="0.85" />
<line x1="196.4" y1="240.5" x2="196.4" y2="242.4" stroke="#000" stroke-width="0.85" />
<line x1="201.1" y1="240.5" x2="201.1" y2="242.4" stroke="#000" stroke-width="0.85" />
<line x1="205.8" y1="240.5" x2="205.8" y2="242.4" stroke="#000" stroke-width="0.85" />
<line x1="210.5" y1="240.5" x2="210.5" y2="242.4" stroke="#000" stroke-width="0.85" />
<path d="M147.5 237.7L147.5 227.7L149.5 220L154.2 213.8L161.1 209.5L171.1 209.5L179.5 212.3L187.2 216.9L190.3 221.5L190.3 228.5L162.6 237.7Z" fill="none" stroke="#000" stroke-width="0.9"/>
<text x="168" y="182" font-size="6.7" text-anchor="middle" stroke="#000" stroke-width="0.12" fill="#000" >Cells</text>
<text x="168" y="190" font-size="6.7" text-anchor="middle" stroke="#000" stroke-width="0.12" fill="#000" >95.5</text>
<line x1="182.6" y1="225.4" x2="215.5" y2="225.4" stroke="#000" stroke-width="1.1" />
<path d="M214.9 223.3L218.5 225.4L214.9 227.5z" fill="#000"/>
<text x="176.2" y="260.8" font-size="7.4" text-anchor="middle" font-weight="bold" textLength="31.5" lengthAdjust="spacingAndGlyphs" fill="#000" >FSC-A :: FSC-A</text>
<text transform="translate(118.3,202.5) rotate(-90)" font-size="6.8" text-anchor="middle" font-weight="bold" textLength="31.8" lengthAdjust="spacingAndGlyphs">SSC-A :: SSC-A</text>
<ellipse cx="259" cy="215.6" rx="16.5" ry="1.6" fill="#000" fill-opacity="0.8" transform="rotate(-50.6 259 215.6)" filter="url(#bl0_8)"/>
<path transform="scale(0.1)" d="M2792 1955h0m0 13h0m2 7h0m-26 9h0m15-5h0m-16 13h0m3-1h0m10 3h0m15-6h0m6 3h0m6-4h0m-49 13h0m8 1h0m4-3h0m13 5h0m8 1h0m5 0h0m-91 9h0m12-3h0m4 3h0m1 0h0m33-8h0m7 1h0m11 5h0m7-6h0m2 2h0m2 1h0m9 7h0m8-5h0m3-3h0m28-1h0m-140 17h0m1 0h0m3 0h0m2 2h0m0-10h0m3 6h0m1-3h0m1 6h0m4-6h0m3-2h0m1-1h0m1 9h0m3-1h0m1 1h0m0 0h0m1-3h0m1 4h0m5-2h0m6-1h0m19-1h0m8-4h0m2 0h0m0 7h0m4-5h0m10 1h0m3 1h0m0 3h0m9-4h0m2 5h0m15-8h0m2 5h0m7 2h0m6-6h0m34 4h0m-167 4h0m5 8h0m3-3h0m1 1h0m0-6h0m2 3h0m1 4h0m1-1h0m1-1h0m2-5h0m1 3h0m0 5h0m0-3h0m2-3h0m1 0h0m0 7h0m2-10h0m2 0h0m0 7h0m0-4h0m1 1h0m0-1h0m3-1h0m1 1h0m3-3h0m3 9h0m2 0h0m4 0h0m3 0h0m0-7h0m7 4h0m12 1h0m7 1h0m6-4h0m2-3h0m4 2h0m19 5h0m5-4h0m2 0h0m4 4h0m2 1h0m4 0h0m-129 10h0m4-1h0m1-4h0m6 2h0m1 2h0m1-5h0m0-1h0m0-2h0m2 3h0m1-1h0m2-1h0m1 3h0m0 0h0m1-1h0m1 3h0m1-3h0m1-2h0m2 4h0m0-2h0m0 6h0m1 1h0m1-1h0m1-7h0m0 2h0m2 3h0m1 2h0m3-2h0m1-5h0m1 1h0m2 5h0m1-5h0m3 2h0m8-4h0m9 2h0m1 1h0m6 3h0m1-4h0m9 0h0m4-2h0m5-1h0m6 2h0m2 2h0m0-4h0m3 9h0m2-5h0m18 1h0m5 2h0m4-3h0m-129 8h0m1 6h0m1-3h0m1-5h0m3 9h0m0-5h0m0-3h0m2 8h0m0-7h0m4 5h0m1 2h0m2-1h0m0-2h0m0 0h0m0-6h0m1 3h0m0 6h0m0-2h0m0-2h0m3 0h0m3 4h0m1-6h0m2 6h0m0 1h0m0-3h0m3-7h0m1 1h0m0 9h0m3-3h0m5-6h0m26 2h0m2 5h0m3-2h0m13-2h0m0 1h0m2 4h0m6-1h0m1-2h0m3 0h0m6-5h0m1 3h0m8-2h0m5-1h0m1 1h0m29 4h0m6-3h0m-166 17h0m1-1h0m6-3h0m3 2h0m1-1h0m4-3h0m0 5h0m1-4h0m0 4h0m2-2h0m0-6h0m1 2h0m0 7h0m1-4h0m0-4h0m3 0h0m0-2h0m3 7h0m1-4h0m1 4h0m2-7h0m2 3h0m0 5h0m0-7h0m1 4h0m0-2h0m4 2h0m2-5h0m0 3h0m0 4h0m1-4h0m1 6h0m1-7h0m1 3h0m1-4h0m1-1h0m0 3h0m6-3h0m1 4h0m4 5h0m6-5h0m18 5h0m6-4h0m7 4h0m1-2h0m3-6h0m4 2h0m9-1h0m10-1h0m0 1h0m7 3h0m51 0h0m-184 12h0m0 3h0m3-3h0m1 2h0m1-6h0m1 5h0m3-2h0m2-3h0m1 7h0m0-6h0m3 6h0m0-10h0m0 9h0m1-9h0m0 7h0m0-3h0m2-3h0m1 7h0m1-3h0m0 1h0m2-1h0m0 4h0m0-4h0m1-5h0m0 3h0m1-1h0m1 3h0m0-4h0m1 1h0m1 2h0m0-4h0m1 2h0m5 7h0m1 0h0m0 0h0m0 0h0m2-3h0m1 3h0m1 0h0m2-7h0m0-1h0m0 4h0m7-5h0m10 3h0m0-1h0m7 3h0m1 0h0m2 5h0m3-1h0m4 1h0m14-10h0m11 6h0m4 3h0m16-8h0m0 4h0m3 1h0m4-5h0m16 8h0m56-5h0m0-1h0m-208 16h0m9-4h0m3 0h0m1 4h0m2-3h0m2 2h0m1 2h0m0 0h0m0-3h0m1-5h0m0 5h0m2 2h0m1 0h0m0-1h0m0 1h0m0-6h0m1-1h0m1 3h0m0-2h0m1-1h0m1-1h0m0 8h0m1-8h0m0 6h0m3 1h0m1-8h0m2 4h0m1-1h0m2 6h0m1-8h0m2 2h0m3 3h0m3-2h0m0 4h0m5-6h0m1 2h0m1-2h0m1 4h0m1-2h0m3 5h0m4-1h0m3-1h0m6-2h0m1 0h0m3-5h0m1 9h0m10-8h0m17 1h0m5 7h0m4-7h0m8 4h0m33 4h0m1-1h0m35-7h0m35 7h0m-230 11h0m3-2h0m1-4h0m0 3h0m5-7h0m2 0h0m1 6h0m3 0h0m1 2h0m0-2h0m0-3h0m0 5h0m0-8h0m1 4h0m1 0h0m3-2h0m0-1h0m2 6h0m1-3h0m0-2h0m0 6h0m2-7h0m0 0h0m1 6h0m1-4h0m0 5h0m0-1h0m1-4h0m1 4h0m0-3h0m0 0h0m0-2h0m1 8h0m2 0h0m1-7h0m1 6h0m1-1h0m1-2h0m0 2h0m1 1h0m4 0h0m2-6h0m7-2h0m7 3h0m9 5h0m2-5h0m10-3h0m14 6h0m2 2h0m7-8h0m10 1h0m8-1h0m26 2h0m0-1h0m-152 16h0m2-1h0m0 0h0m0-2h0m6 0h0m1 4h0m2-9h0m0 8h0m3 0h0m0-7h0m2 9h0m2-2h0m3 0h0m2-7h0m0 6h0m0-1h0m0-6h0m2 7h0m0-4h0m1 0h0m1 1h0m0-3h0m3 4h0m0 0h0m1-3h0m1 3h0m4-5h0m0 9h0m2-4h0m1 0h0m2-2h0m8-1h0m0 7h0m5-5h0m20 1h0m4 4h0m4-2h0m7-2h0m14 2h0m12 0h0m17-7h0m1 0h0m10 7h0m105-6h0m-253 14h0m1-5h0m2 8h0m1-4h0m1 5h0m1-9h0m0 5h0m1 4h0m1-4h0m1-2h0m2-1h0m1 8h0m0-1h0m1-3h0m1 2h0m0 0h0m1 1h0m2-6h0m0-1h0m1-1h0m4 2h0m1 3h0m1-5h0m1 1h0m0-2h0m1 7h0m1-3h0m1-3h0m2 2h0m0 2h0m1 4h0m0-8h0m1 4h0m0-1h0m2 0h0m7-1h0m24 5h0m0-3h0m0-1h0m3 0h0m1-3h0m6 5h0m28-5h0m6 8h0m3-6h0m2 2h0m25-4h0m4 8h0m-150 6h0m2 3h0m1-5h0m1-2h0m1 8h0m0-9h0m1 6h0m0 0h0m2-2h0m2-2h0m0 1h0m0 0h0m0 1h0m1 4h0m0-7h0m0 3h0m0 3h0m1-4h0m1 3h0m1-2h0m0 0h0m1 1h0m0 3h0m1-1h0m1 1h0m3 0h0m2-6h0m1 1h0m0-1h0m1 6h0m3 2h0m0-7h0m1 0h0m2-1h0m0 2h0m1-3h0m0 3h0m1 6h0m6-1h0m11-2h0m2 0h0m10 1h0m7-6h0m5 3h0m22-1h0m8-3h0m37 0h0m7 5h0m62 3h0m-220 9h0m1 0h0m1-1h0m4-1h0m2-3h0m1 5h0m1 1h0m0-7h0m0 8h0m0-3h0m1 0h0m0-6h0m1 9h0m1-2h0m1-6h0m0 5h0m1 3h0m0-8h0m0 6h0m1-5h0m1-2h0m1-1h0m0 6h0m1 4h0m0-7h0m0-1h0m0-1h0m2 3h0m1-3h0m1 4h0m0 2h0m1-2h0m2 4h0m1-7h0m0 4h0m0-5h0m1 2h0m1-3h0m0 3h0m0 4h0m2-1h0m0 2h0m1-5h0m1 0h0m1 5h0m0-7h0m1 0h0m0-1h0m1 1h0m5 4h0m3 2h0m30 1h0m5-4h0m2-3h0m7 3h0m2 2h0m5 1h0m4-5h0m7 6h0m17-6h0m43 4h0m94-1h0m14-2h0m41 3h0m-327 13h0m3 0h0m1-2h0m0-1h0m1 1h0m1-3h0m0-3h0m1 1h0m1 7h0m0-7h0m1 6h0m1-2h0m0-1h0m0 3h0m0-6h0m1 3h0m1-3h0m0 3h0m2-1h0m0 5h0m0-1h0m0 0h0m2 1h0m1-5h0m1 4h0m1 0h0m0-6h0m1 5h0m2 3h0m2-10h0m0 7h0m0-4h0m0 0h0m0-2h0m1 4h0m1 0h0m1-5h0m0 2h0m4-2h0m1 9h0m0-2h0m1-3h0m1-2h0m1 3h0m0 1h0m3-1h0m1-1h0m1 3h0m3-3h0m2-1h0m1 7h0m1-9h0m5 3h0m4 6h0m37 0h0m1-1h0m205-5h0m-304 11h0m2 4h0m4 0h0m0 1h0m0-8h0m1-1h0m1 6h0m4-1h0m0-4h0m0 4h0m2 3h0m1-9h0m1 2h0m1 0h0m0 5h0m1-2h0m1-2h0m0 2h0m1 2h0m1-4h0m2 2h0m1 3h0m1-4h0m0 0h0m1 5h0m1-9h0m1 5h0m0-3h0m0 5h0m1-7h0m0 2h0m0 6h0m1-6h0m0 5h0m0-3h0m2-4h0m2 4h0m1 0h0m1 2h0m3-4h0m2 1h0m0-2h0m0 2h0m3 4h0m8 3h0m3-9h0m6 7h0m3-1h0m2 0h0m2-2h0m4-5h0m4 2h0m6 3h0m35 0h0m12-3h0m3 3h0m-143 13h0m7-1h0m1 2h0m2-8h0m1 5h0m1-1h0m2 0h0m0 2h0m0 2h0m1-4h0m2-3h0m1-1h0m1 7h0m1-2h0m0 0h0m0-4h0m1 0h0m0 1h0m0 4h0m1-3h0m1-2h0m1 5h0m0-5h0m0 1h0m1 0h0m1 0h0m1 1h0m4-3h0m0 4h0m3 2h0m6 1h0m0 1h0m1-3h0m2 1h0m4 0h0m16-1h0m0-3h0m18-1h0m6 6h0m9-7h0m-101 12h0m1 2h0m3 1h0m1 0h0m2 1h0m1-6h0m2-1h0m1 8h0m0-2h0m0 3h0m0-5h0m2-3h0m1 6h0m2-7h0m0 8h0m1-2h0m1-1h0m0 1h0m1 1h0m1 2h0m0-4h0m2-4h0m1 5h0m1 0h0m2-2h0m1-1h0m1-2h0m1-1h0m0 1h0m1 2h0m1-1h0m0 4h0m1-3h0m2 6h0m2-1h0m1-6h0m0 2h0m5 0h0m3 2h0m9 2h0m4 0h0m2-6h0m19 2h0m10 5h0m7-2h0m34-1h0m-138 12h0m1-3h0m0-3h0m2 0h0m1 2h0m3-3h0m1 7h0m1-2h0m1-1h0m2-1h0m3-1h0m1 1h0m1-3h0m1 7h0m0-6h0m1 5h0m0-2h0m0 5h0m1-1h0m0 1h0m0-9h0m1 2h0m0-2h0m0 5h0m3 2h0m0-6h0m0 6h0m0-4h0m1 3h0m2-4h0m3-1h0m3 7h0m1-5h0m1-2h0m2 3h0m15 5h0m19-4h0m12-2h0m-91 13h0m1-1h0m2 2h0m0-2h0m2 2h0m2-5h0m1-1h0m1 1h0m2 3h0m0 0h0m1-4h0m2 0h0m1 1h0m4 5h0m0 1h0m0 1h0m1-5h0m0-4h0m2 5h0m0-4h0m1 8h0m0-5h0m1-1h0m0 1h0m1-1h0m1-4h0m0 7h0m0 2h0m1-5h0m1 1h0m0-3h0m4 4h0m1-1h0m0-1h0m1 5h0m2-2h0m0-6h0m1-1h0m1 4h0m2 4h0m1-5h0m0-1h0m1-1h0m4 2h0m2 5h0m1-2h0m7-3h0m3-1h0m1 5h0m14-2h0m7-5h0m1 1h0m-91 17h0m3-6h0m1 5h0m1-1h0m0-2h0m4-1h0m2 0h0m0-1h0m0-1h0m1 6h0m0-7h0m0 2h0m1 0h0m1 3h0m0 3h0m3-5h0m1 3h0m1 1h0m1 2h0m1-5h0m1 5h0m2-3h0m0-5h0m1 7h0m2-1h0m2 2h0m2-2h0m0-4h0m6 0h0m0 1h0m6 2h0m0-3h0m3 2h0m5-2h0m1-1h0m2 0h0m15 0h0m4 0h0m10 2h0m2-2h0m1 1h0m4 5h0m1-5h0m2 0h0m-102 16h0m1 1h0m0-5h0m3 2h0m3 3h0m0-4h0m1-5h0m0 4h0m0 2h0m0-2h0m2-2h0m2 5h0m3-8h0m3 1h0m1 9h0m0-10h0m0 2h0m1 0h0m0 2h0m2 3h0m2 2h0m0-8h0m0 6h0m1-2h0m0-4h0m0 9h0m0-3h0m1 0h0m0-1h0m0-4h0m0 2h0m0 1h0m1 4h0m0-5h0m0 0h0m2 0h0m0 2h0m2-6h0m0 8h0m1 1h0m0-3h0m1-2h0m3 2h0m2-6h0m0 2h0m28-2h0m8 2h0m-85 17h0m1-3h0m4 3h0m3-1h0m2 0h0m2-4h0m0 1h0m1-1h0m0 1h0m2-4h0m0 8h0m0-6h0m2 2h0m1 4h0m0-2h0m3-2h0m1-2h0m1 0h0m0 2h0m2 1h0m0-4h0m1 8h0m0-5h0m3-4h0m0 0h0m2 6h0m0 2h0m2 1h0m0-6h0m1 5h0m2-8h0m1 3h0m1 1h0m6-2h0m4 1h0m18 1h0m1 0h0m9-3h0m2 7h0m19-3h0m6 0h0m5-5h0m-109 10h0m1 6h0m0 0h0m5 2h0m1 1h0m1-5h0m3-2h0m0 2h0m2 0h0m3-3h0m3-1h0m2 3h0m0 1h0m0 4h0m0 0h0m1-4h0m0-4h0m1 3h0m1-4h0m0 9h0m1 0h0m0-6h0m0-1h0m1 4h0m0-4h0m1 3h0m5 3h0m2-5h0m0 1h0m0-4h0m4 4h0m0-3h0m10 5h0m3-2h0m0 5h0m1-3h0m1-2h0m4-1h0m7 5h0m3-4h0m2 2h0m4-2h0m-77 16h0m1-9h0m0 7h0m0-7h0m2 4h0m2-2h0m0-3h0m1 2h0m1 5h0m0-3h0m3-1h0m0 3h0m1 3h0m0-1h0m1-5h0m0 3h0m1 3h0m3-7h0m5 0h0m0 1h0m1-2h0m0-1h0m1 8h0m0-2h0m1 0h0m1-5h0m1 3h0m5 0h0m1 0h0m1-1h0m3 0h0m8-3h0m13 6h0m19-1h0m1-1h0m-93 12h0m1 0h0m1 3h0m1 0h0m4-3h0m1-4h0m0 0h0m1-2h0m1 1h0m0 2h0m1 2h0m0-3h0m1 1h0m0 4h0m3 0h0m0 0h0m0-6h0m0 0h0m1 3h0m2-1h0m0 6h0m0-2h0m0-5h0m1 3h0m0-5h0m2 6h0m0-1h0m1 3h0m2-6h0m2 3h0m1-4h0m1 5h0m6 1h0m0-6h0m1 0h0m2 0h0m1 8h0m0-4h0m16-1h0m29-1h0m-94 17h0m2-1h0m0 0h0m3-2h0m1-1h0m1-3h0m0 0h0m1 2h0m1-2h0m0 5h0m3 1h0m0-7h0m1 0h0m0 4h0m0-5h0m0 2h0m1 2h0m2 2h0m1-3h0m0 5h0m0-3h0m0-3h0m1 0h0m0 4h0m1 3h0m3-5h0m0 3h0m0-1h0m1 3h0m0-7h0m1 3h0m0-4h0m1-1h0m0 1h0m1 4h0m1-4h0m3 5h0m0 0h0m0-5h0m1 0h0m0 0h0m1 0h0m1 3h0m0-2h0m0 3h0m1 0h0m1 2h0m3-3h0m4-4h0m6 0h0m7 1h0m4 2h0m9-3h0m-72 18h0m1-5h0m1 1h0m1 4h0m1-6h0m0 3h0m0 0h0m0-2h0m1 1h0m1 2h0m1 2h0m0-6h0m0-2h0m1 7h0m0-4h0m2-3h0m1 0h0m1 6h0m1-4h0m1 2h0m0-3h0m1 5h0m0-2h0m1-3h0m3 2h0m0 1h0m0-1h0m1 1h0m1-5h0m1 1h0m1 1h0m0 0h0m2 3h0m2 2h0m1-1h0m1-1h0m1-5h0m3 7h0m3-7h0m5 5h0m4 4h0m31-8h0m-86 19h0m5-10h0m1 7h0m2 3h0m0-5h0m0 3h0m1-2h0m0-4h0m1 5h0m0-6h0m2 4h0m2-3h0m1 4h0m0-3h0m5 0h0m1 1h0m4-2h0m0-2h0m1 6h0m1-4h0m1 1h0m0 0h0m1 2h0m2 3h0m0 0h0m0-5h0m1 0h0m1-3h0m0 1h0m4 4h0m7 3h0m15-6h0m8 0h0m-74 18h0m7-2h0m5-6h0m1 1h0m0-1h0m2 0h0m3 4h0m0 1h0m1-4h0m2-2h0m4 3h0m0 4h0m1-3h0m1 1h0m0-2h0m1-4h0m1 1h0m1-1h0m0 3h0m1 3h0m3-3h0m0 1h0m4 2h0m0-1h0m7-3h0m24-1h0m-71 17h0m6-2h0m5-1h0m13 0h0m0-2h0m3-1h0m10 4h0m30-3h0" stroke="#000" stroke-opacity="0.7" stroke-width="7.0" stroke-linecap="square" fill="none"/>
<path transform="scale(0.1)" d="M2819 1915h0m18 4h0m10 1h0m-42 24h0m29 6h0m8-2h0m-23 9h0m13 0h0m41 5h0m16 2h0m-58 5h0m41-1h0m14 6h0m-54 5h0m11 5h0m13-6h0m26 0h0m43 7h0m13-1h0m10 0h0m-219 7h0m23 3h0m86-3h0m25 1h0m10-4h0m19 2h0m3-4h0m-144 15h0m17 3h0m77-2h0m31 1h0m5 0h0m3-5h0m9 3h0m33-2h0m-225 14h0m27 1h0m3-7h0m9 0h0m5 1h0m43 6h0m39-6h0m43 1h0m20 5h0m-157 5h0m36-2h0m51 0h0m53-1h0m2-1h0m3 3h0m3-3h0m8 4h0m-191 10h0m6 2h0m45 0h0m35-1h0m4 0h0m9 3h0m1-7h0m15 5h0m17-3h0m40 1h0m27 6h0m6-9h0m1 6h0m28 2h0m-208 3h0m1 0h0m1 7h0m25-5h0m34-3h0m3 4h0m3 0h0m15-3h0m54 8h0m12-2h0m29 1h0m43-7h0m-229 13h0m5 3h0m49-5h0m9 5h0m13-7h0m7 6h0m14-2h0m50-1h0m12-4h0m-192 15h0m17 4h0m5-8h0m9 2h0m30 2h0m4-3h0m7-1h0m3 8h0m8-5h0m1 1h0m1-2h0m0 2h0m14 1h0m9 1h0m3 1h0m2-1h0m40 1h0m7-1h0m12-4h0m9 5h0m-162 4h0m27 4h0m2 3h0m25-2h0m10-4h0m4 1h0m0 5h0m11-1h0m8-8h0m11 4h0m3 6h0m17-1h0m0-6h0m14 2h0m0-1h0m10 6h0m6 0h0m27-4h0m-157 11h0m35-5h0m24 6h0m3 1h0m6-9h0m9 10h0m0-8h0m1 5h0m9-1h0m10-2h0m12 6h0m4-8h0m0 4h0m6 0h0m83-1h0m7 4h0m-244 2h0m1 2h0m19 2h0m12-3h0m35 2h0m8 5h0m4-9h0m14 7h0m4-6h0m2 7h0m0-2h0m1 1h0m13-1h0m1 0h0m1-5h0m15 3h0m3-4h0m3 5h0m10-3h0m0-1h0m7 9h0m1-2h0m5-1h0m4-6h0m6 3h0m3 4h0m9-1h0m6 1h0m18-6h0m9 6h0m-209 2h0m30 9h0m12-7h0m24 7h0m2-1h0m12 1h0m3-4h0m14 1h0m11 2h0m3-1h0m13-5h0m25 2h0m11-3h0m9 9h0m19-3h0m6-2h0m-148 5h0m1 5h0m20-3h0m13 2h0m14 2h0m1-5h0m6 8h0m0-7h0m6 2h0m1 2h0m0-2h0m8 5h0m6-1h0m1 0h0m9-7h0m3 6h0m21 2h0m15-6h0m6 2h0m-253 10h0m16 1h0m53-1h0m27-1h0m17 2h0m42-5h0m1 0h0m1 8h0m0 1h0m12-1h0m3-6h0m8 1h0m3 3h0m14-2h0m8-2h0m1-3h0m30 9h0m0-3h0m2-2h0m18 0h0m1 2h0m15 4h0m-285 9h0m85 0h0m49-2h0m8 2h0m3-2h0m10-6h0m23 7h0m2-3h0m6 4h0m7-9h0m13 6h0m23-2h0m20 6h0m1-5h0m1-4h0m2 1h0m7-1h0m5-1h0m2 4h0m0 5h0m6-6h0m3-2h0m8 9h0m10 0h0m34-10h0m3 5h0m-312 14h0m53-1h0m28-5h0m5 5h0m6 0h0m43 1h0m13-7h0m0 5h0m6-6h0m11 4h0m2-3h0m1-1h0m4 4h0m11-3h0m0 4h0m1-6h0m1 3h0m5 5h0m5 1h0m1-1h0m1 2h0m11-9h0m15 4h0m1 4h0m2-8h0m1 2h0m2 3h0m2 1h0m2-2h0m5 0h0m23-5h0m-249 12h0m169-2h0m8 1h0m2 8h0m5-4h0m4-1h0m2 4h0m7-4h0m1 6h0m21-8h0m9 3h0m8-4h0m16 4h0m4 1h0m2-1h0m30 1h0m-249 13h0m34-2h0m24-4h0m2-3h0m12 7h0m33-4h0m8 1h0m5-4h0m26 3h0m9-2h0m8 3h0m2-1h0m1 2h0m23 4h0m1-6h0m3 3h0m15-1h0m23 4h0m20 1h0m11-2h0m-309 10h0m42-6h0m30 0h0m10 6h0m36-8h0m9 5h0m16 0h0m40 4h0m13 1h0m23-10h0m5 8h0m8-1h0m9-7h0m10 7h0m13-1h0m10-4h0m0 6h0m21-3h0m2 2h0m1 3h0m38-6h0m-361 14h0m112-4h0m5 1h0m5 0h0m19 1h0m45-6h0m64 3h0m13 0h0m30-2h0m21 2h0m10 4h0m-306 4h0m47 2h0m37 1h0m1-3h0m21 2h0m54 5h0m2 0h0m11-1h0m42 2h0m9-3h0m10-5h0m29 2h0m1-2h0m18 7h0m11 1h0m14-6h0m-322 13h0m16-5h0m25 1h0m10 1h0m40-2h0m51 6h0m6-3h0m22-3h0m22 0h0m36 3h0m10-1h0m16 6h0m14 0h0m2-8h0m7 3h0m29 5h0m-198 5h0m9-3h0m17 2h0m55 3h0m18-4h0m1 1h0m16 0h0m30 2h0m20-3h0m11 5h0m11-6h0m15 3h0m6 5h0m23-9h0m1 10h0m-288 3h0m33-2h0m3 2h0m10 0h0m72 0h0m37 1h0m29-2h0m23 3h0m14-2h0m35 7h0m67-8h0m-378 9h0m107 2h0m75 2h0m13 3h0m29-7h0m5 9h0m4-2h0m14-4h0m8-1h0m150-3h0m-350 17h0m17 1h0m24-8h0m35 7h0m7-2h0m83 4h0m16-5h0m42 1h0m9-1h0m-245 14h0m16-4h0m126 3h0m55 3h0m14-6h0m4 6h0m7-1h0m4 0h0m13 0h0m26 0h0m11-6h0m119 1h0m-396 7h0m86 7h0m38 1h0m94 1h0m40-7h0m72 4h0m39-1h0m-350 7h0m57-1h0m51 7h0m84-5h0m35 0h0m45 0h0m-192 10h0m41 2h0m94-5h0m57 2h0m9 4h0m-325 6h0m353 4h0m-64 8h0" stroke="#000" stroke-opacity="0.5" stroke-width="7.0" stroke-linecap="square" fill="none"/>
<rect x="241" y="165.5" width="73.80000000000001" height="75.0" fill="none" stroke="#000" stroke-width="1.3"/>
<line x1="238.2" y1="169.5" x2="241" y2="169.5" stroke="#000" stroke-width="0.9" />
<text x="237.4" y="171.7" font-size="6.3" text-anchor="end" textLength="12.9" lengthAdjust="spacingAndGlyphs" stroke="#000" stroke-width="0.12" fill="#000" >1.2M</text>
<line x1="238.2" y1="187.5" x2="241" y2="187.5" stroke="#000" stroke-width="0.9" />
<text x="237.4" y="189.7" font-size="6.3" text-anchor="end" textLength="14.85" lengthAdjust="spacingAndGlyphs" stroke="#000" stroke-width="0.12" fill="#000" >900K</text>
<line x1="238.2" y1="205" x2="241" y2="205" stroke="#000" stroke-width="0.9" />
<text x="237.4" y="207.2" font-size="6.3" text-anchor="end" textLength="14.85" lengthAdjust="spacingAndGlyphs" stroke="#000" stroke-width="0.12" fill="#000" >600K</text>
<line x1="238.2" y1="223" x2="241" y2="223" stroke="#000" stroke-width="0.9" />
<text x="237.4" y="225.2" font-size="6.3" text-anchor="end" textLength="14.85" lengthAdjust="spacingAndGlyphs" stroke="#000" stroke-width="0.12" fill="#000" >300K</text>
<line x1="238.2" y1="240.5" x2="241" y2="240.5" stroke="#000" stroke-width="0.9" />
<text x="237.4" y="242.7" font-size="6.3" text-anchor="end" textLength="3.65" lengthAdjust="spacingAndGlyphs" stroke="#000" stroke-width="0.12" fill="#000" >0</text>
<line x1="241" y1="240.5" x2="241" y2="243.3" stroke="#000" stroke-width="0.9" />
<text x="241.2" y="251.1" font-size="6.3" text-anchor="middle" textLength="3.65" lengthAdjust="spacingAndGlyphs" stroke="#000" stroke-width="0.12" fill="#000" >0</text>
<line x1="266" y1="240.5" x2="266" y2="243.3" stroke="#000" stroke-width="0.9" />
<text x="266.2" y="251.1" font-size="6.3" text-anchor="middle" textLength="14.85" lengthAdjust="spacingAndGlyphs" stroke="#000" stroke-width="0.12" fill="#000" >500K</text>
<line x1="289.5" y1="240.5" x2="289.5" y2="243.3" stroke="#000" stroke-width="0.9" />
<text x="289.7" y="251.1" font-size="6.3" text-anchor="middle" textLength="12.9" lengthAdjust="spacingAndGlyphs" stroke="#000" stroke-width="0.12" fill="#000" >1.0M</text>
<line x1="312.5" y1="240.5" x2="312.5" y2="243.3" stroke="#000" stroke-width="0.9" />
<text x="312.7" y="251.1" font-size="6.3" text-anchor="middle" textLength="12.9" lengthAdjust="spacingAndGlyphs" stroke="#000" stroke-width="0.12" fill="#000" >1.5M</text>
<line x1="239.1" y1="173.1" x2="241" y2="173.1" stroke="#000" stroke-width="0.85" />
<line x1="239.1" y1="176.7" x2="241" y2="176.7" stroke="#000" stroke-width="0.85" />
<line x1="239.1" y1="180.3" x2="241" y2="180.3" stroke="#000" stroke-width="0.85" />
<line x1="239.1" y1="183.9" x2="241" y2="183.9" stroke="#000" stroke-width="0.85" />
<line x1="239.1" y1="191.1" x2="241" y2="191.1" stroke="#000" stroke-width="0.85" />
<line x1="239.1" y1="194.7" x2="241" y2="194.7" stroke="#000" stroke-width="0.85" />
<line x1="239.1" y1="198.3" x2="241" y2="198.3" stroke="#000" stroke-width="0.85" />
<line x1="239.1" y1="201.9" x2="241" y2="201.9" stroke="#000" stroke-width="0.85" />
<line x1="239.1" y1="205.5" x2="241" y2="205.5" stroke="#000" stroke-width="0.85" />
<line x1="239.1" y1="209.1" x2="241" y2="209.1" stroke="#000" stroke-width="0.85" />
<line x1="239.1" y1="212.7" x2="241" y2="212.7" stroke="#000" stroke-width="0.85" />
<line x1="239.1" y1="216.3" x2="241" y2="216.3" stroke="#000" stroke-width="0.85" />
<line x1="239.1" y1="219.9" x2="241" y2="219.9" stroke="#000" stroke-width="0.85" />
<line x1="239.1" y1="223.5" x2="241" y2="223.5" stroke="#000" stroke-width="0.85" />
<line x1="239.1" y1="227.1" x2="241" y2="227.1" stroke="#000" stroke-width="0.85" />
<line x1="239.1" y1="230.7" x2="241" y2="230.7" stroke="#000" stroke-width="0.85" />
<line x1="239.1" y1="234.3" x2="241" y2="234.3" stroke="#000" stroke-width="0.85" />
<line x1="239.1" y1="237.9" x2="241" y2="237.9" stroke="#000" stroke-width="0.85" />
<line x1="246.0" y1="240.5" x2="246.0" y2="242.4" stroke="#000" stroke-width="0.85" />
<line x1="251.0" y1="240.5" x2="251.0" y2="242.4" stroke="#000" stroke-width="0.85" />
<line x1="256.0" y1="240.5" x2="256.0" y2="242.4" stroke="#000" stroke-width="0.85" />
<line x1="261.0" y1="240.5" x2="261.0" y2="242.4" stroke="#000" stroke-width="0.85" />
<line x1="271.0" y1="240.5" x2="271.0" y2="242.4" stroke="#000" stroke-width="0.85" />
<line x1="276.0" y1="240.5" x2="276.0" y2="242.4" stroke="#000" stroke-width="0.85" />
<line x1="281.0" y1="240.5" x2="281.0" y2="242.4" stroke="#000" stroke-width="0.85" />
<line x1="286.0" y1="240.5" x2="286.0" y2="242.4" stroke="#000" stroke-width="0.85" />
<line x1="291.0" y1="240.5" x2="291.0" y2="242.4" stroke="#000" stroke-width="0.85" />
<line x1="296.0" y1="240.5" x2="296.0" y2="242.4" stroke="#000" stroke-width="0.85" />
<line x1="301.0" y1="240.5" x2="301.0" y2="242.4" stroke="#000" stroke-width="0.85" />
<line x1="306.0" y1="240.5" x2="306.0" y2="242.4" stroke="#000" stroke-width="0.85" />
<line x1="311.0" y1="240.5" x2="311.0" y2="242.4" stroke="#000" stroke-width="0.85" />
<path d="M246.9 229.3L255.4 229.3L293.1 191.9L270 201.2Z" fill="none" stroke="#000" stroke-width="0.9"/>
<text x="266" y="180" font-size="6.7" text-anchor="middle" stroke="#000" stroke-width="0.12" fill="#000" >Single cells</text>
<text x="266" y="188" font-size="6.7" text-anchor="middle" stroke="#000" stroke-width="0.12" fill="#000" >95.1</text>
<line x1="286.2" y1="199.8" x2="316.9" y2="199.8" stroke="#000" stroke-width="1.1" />
<path d="M316.29999999999995 197.70000000000002L319.9 199.8L316.29999999999995 201.9z" fill="#000"/>
<text x="277.6" y="260.8" font-size="7.4" text-anchor="middle" font-weight="bold" textLength="31.8" lengthAdjust="spacingAndGlyphs" fill="#000" >FSC-A :: FSC-A</text>
<text transform="translate(219.9,202.6) rotate(-90)" font-size="6.8" text-anchor="middle" font-weight="bold" textLength="31.8" lengthAdjust="spacingAndGlyphs">FSC-H :: FSC-H</text>
<ellipse cx="366.3" cy="196" rx="4.6" ry="4.8" fill="#000" fill-opacity="0.9" transform="rotate(0 366.3 196)" filter="url(#bl1_2)"/>
<ellipse cx="378" cy="197.5" rx="4" ry="4.5" fill="#000" fill-opacity="0.3" transform="rotate(0 378 197.5)" filter="url(#bl1_2)"/>
<path transform="scale(0.1)" d="M3850 1798h0m-197 16h0m14 15h0m196 14h0m-197 11h0m20-4h0m143 3h0m-168 4h0m21 4h0m107-1h0m-188 10h0m31 3h0m10 1h0m5-3h0m1-1h0m4 5h0m16-3h0m5-2h0m45 5h0m-142 7h0m27-2h0m19-2h0m12 1h0m11 0h0m11 0h0m0 6h0m7-9h0m7 5h0m3-3h0m9-2h0m4 8h0m8-3h0m20 1h0m-100 10h0m4 3h0m4-8h0m2 3h0m9-2h0m4 4h0m2-5h0m1 7h0m7-6h0m0 4h0m3-4h0m2-1h0m1 0h0m2 0h0m7 4h0m5-1h0m2 2h0m1 0h0m5 2h0m0-2h0m29 1h0m5 1h0m29-5h0m-126 8h0m2 8h0m2-6h0m9 1h0m8-2h0m3 5h0m0 1h0m13-3h0m2-5h0m1 2h0m2 5h0m7-1h0m3-3h0m4 2h0m4-1h0m0-5h0m7 8h0m1-8h0m6 4h0m0 4h0m2-5h0m5 4h0m0-1h0m1-5h0m8 8h0m1-1h0m4 2h0m7-4h0m16-1h0m7 4h0m6-5h0m10-2h0m2 4h0m22 0h0m3-5h0m10 7h0m2-6h0m17 7h0m2-3h0m22 0h0m-244 5h0m17 3h0m3-2h0m0-1h0m1 6h0m5-3h0m3-3h0m1 9h0m3 0h0m0-4h0m1 2h0m2-6h0m1 0h0m4 6h0m1-1h0m3 2h0m8 0h0m2-4h0m3 3h0m3-8h0m0 8h0m1-5h0m3 2h0m0 0h0m0 2h0m0-5h0m1 6h0m0-6h0m2 4h0m0-5h0m1 2h0m0 0h0m1-1h0m1 1h0m1 2h0m1 5h0m3-5h0m1-1h0m1 1h0m1-2h0m0-2h0m2 5h0m1-5h0m2 4h0m1 1h0m6-2h0m0 2h0m5 1h0m6-3h0m2 2h0m3 1h0m4 2h0m7-1h0m6-5h0m1 1h0m1-3h0m0 7h0m3-1h0m3-6h0m8 6h0m0-6h0m0 6h0m2-2h0m7-2h0m29-3h0m1 8h0m8-5h0m25 4h0m5 0h0m41-2h0m17 3h0m-311 4h0m32 8h0m14-3h0m1-3h0m1-3h0m3 4h0m5 3h0m1 1h0m0-8h0m6 4h0m0 2h0m3 1h0m0-6h0m3 1h0m1-2h0m2 1h0m3 6h0m1-6h0m0 8h0m4-5h0m0 5h0m4-6h0m4-4h0m0 5h0m1 3h0m0 0h0m2-3h0m2 4h0m0-5h0m0-3h0m1 3h0m1-3h0m1 5h0m0-1h0m1 0h0m1 2h0m0-2h0m1-5h0m2 3h0m1-1h0m2 1h0m1 4h0m1-3h0m0-4h0m1 5h0m2-1h0m0-2h0m0 7h0m1 0h0m5-8h0m1 6h0m1-2h0m2 3h0m2-1h0m1-5h0m1 4h0m0 2h0m1 1h0m0-2h0m2-4h0m3 5h0m1 1h0m1 0h0m0-3h0m1-2h0m0 5h0m4-7h0m3-1h0m0 1h0m0 4h0m1-3h0m1 0h0m3-1h0m1 7h0m0-8h0m2 8h0m2-2h0m4 0h0m2 2h0m0 0h0m8 1h0m3 0h0m7-6h0m4 5h0m7-2h0m0 2h0m2-8h0m14 6h0m4-4h0m9-2h0m1 1h0m2 3h0m12-2h0m2 6h0m11 0h0m1-5h0m1 5h0m0-7h0m4 2h0m2 5h0m5 0h0m1-6h0m15 6h0m5-3h0m3 0h0m25-3h0m-257 16h0m2-8h0m7 5h0m7-3h0m2 2h0m0 0h0m0 0h0m2-1h0m3-3h0m0 6h0m0-6h0m0 9h0m2-7h0m0 5h0m6 1h0m0-9h0m0 8h0m3-4h0m1-3h0m2 2h0m0 1h0m1 3h0m1-6h0m0 2h0m2 0h0m1 3h0m2 2h0m0-6h0m0 5h0m0 3h0m1-1h0m0-1h0m1-4h0m1 4h0m0-6h0m3-1h0m1 2h0m0 7h0m0-9h0m1 8h0m0-8h0m0 4h0m1-1h0m2 4h0m1-1h0m1 1h0m0 1h0m2-1h0m0-7h0m1-1h0m1 6h0m0-1h0m3 0h0m2 4h0m0-1h0m1-2h0m1-3h0m0 4h0m2-4h0m0 1h0m1 4h0m0-5h0m0 6h0m0-6h0m1-1h0m2 2h0m1 4h0m1-3h0m0 4h0m2 0h0m0-5h0m0 2h0m3-4h0m0 7h0m2-3h0m1-5h0m0-1h0m1 7h0m0 3h0m1-10h0m0 2h0m0 0h0m0 6h0m2-4h0m3 2h0m3 0h0m1-4h0m7-1h0m1 8h0m1-3h0m4-2h0m0 1h0m1 3h0m1-4h0m0 3h0m1-4h0m1-1h0m4 4h0m1-5h0m2 6h0m3-2h0m1 1h0m6-6h0m3 2h0m2 1h0m3 1h0m6-4h0m6 7h0m7-2h0m1-2h0m1 5h0m1 2h0m1-2h0m1 2h0m5-6h0m2 2h0m0-4h0m9 1h0m4 2h0m0 2h0m6-5h0m3 5h0m0-3h0m2 2h0m2 0h0m12 2h0m5-1h0m3 0h0m32-7h0m31 1h0m-289 10h0m3 3h0m5-3h0m0-1h0m3 5h0m10 3h0m2-5h0m2 7h0m2-9h0m1 8h0m1-4h0m0 0h0m1-1h0m3 0h0m0 2h0m6 1h0m0-3h0m1-2h0m0 5h0m2 1h0m1-4h0m1 6h0m0-1h0m1 0h0m0 1h0m2-6h0m0 3h0m1-1h0m0-2h0m1 1h0m1 2h0m0 0h0m3 3h0m1-5h0m1 0h0m1 2h0m1 2h0m0-1h0m0-3h0m0 5h0m1-5h0m0-3h0m1 2h0m0 2h0m1-4h0m1 5h0m0-6h0m1 5h0m1-6h0m0 4h0m2 0h0m1 4h0m0-3h0m1-4h0m1 0h0m1 4h0m0-3h0m0 2h0m0 2h0m0 1h0m3-4h0m1 3h0m2-3h0m2 7h0m0-3h0m1 0h0m0-4h0m0 2h0m1 3h0m0 1h0m1-4h0m1 0h0m0-4h0m0 8h0m1-4h0m0 0h0m0 1h0m1-5h0m3 6h0m0 2h0m0-7h0m0 1h0m1 0h0m0 3h0m1-4h0m0 6h0m0 0h0m1 0h0m1 0h0m0-5h0m1 7h0m1 0h0m2-6h0m2-2h0m2 0h0m2 7h0m1-7h0m0 3h0m0 4h0m1-1h0m2-5h0m5-3h0m0 6h0m1-4h0m1 7h0m0 1h0m1-4h0m1 0h0m0 4h0m1-6h0m3-2h0m0 8h0m1-4h0m0-4h0m7-1h0m2 1h0m3 1h0m0 6h0m4-1h0m0-6h0m3 2h0m2-1h0m10 2h0m1 4h0m2-6h0m10 1h0m0 2h0m1 4h0m0-8h0m0 2h0m1 3h0m0-6h0m3 2h0m1 1h0m6-1h0m1 2h0m3-2h0m3 4h0m4 1h0m2 1h0m1 0h0m1-3h0m3-3h0m1 0h0m3 0h0m2-2h0m2 5h0m4-4h0m3 4h0m1 0h0m1-6h0m2 9h0m4-2h0m4-2h0m0-1h0m1 1h0m1 3h0m5 2h0m3-9h0m7 9h0m3-9h0m10 9h0m9-8h0m26 8h0m-285 2h0m14-1h0m3 1h0m1 4h0m1 2h0m1-5h0m1 6h0m5-4h0m5 3h0m1-7h0m5 0h0m2 1h0m1 3h0m1-1h0m3-3h0m0-1h0m2 0h0m1 8h0m2-6h0m2 5h0m2-6h0m1 3h0m0 2h0m0-5h0m1 8h0m0 0h0m1-4h0m1 3h0m0 1h0m1-8h0m0 4h0m1-1h0m1 2h0m0-5h0m1 8h0m1-6h0m0 6h0m0 0h0m1-2h0m0 1h0m0-2h0m0-4h0m0 8h0m1-8h0m0 2h0m1-2h0m1-2h0m0 2h0m1 5h0m0-4h0m0 3h0m0 2h0m0 0h0m1-2h0m0 1h0m0 2h0m0-1h0m1-2h0m0 2h0m0 1h0m0-6h0m1 3h0m1-5h0m0 3h0m1-2h0m1 8h0m1-1h0m0-6h0m0-2h0m1 6h0m1 1h0m0 0h0m0-4h0m2 5h0m0-6h0m0 5h0m2-6h0m0 1h0m0 6h0m3-7h0m1 7h0m1-2h0m0-5h0m0 8h0m1-6h0m1 3h0m0 3h0m1-4h0m1 1h0m1-1h0m0 0h0m1 1h0m1-5h0m0 3h0m1 2h0m1-1h0m0-2h0m0 0h0m4 4h0m0 0h0m2-6h0m1 7h0m0-4h0m1 3h0m2-3h0m0 4h0m1-1h0m3-5h0m0-1h0m0 1h0m2 2h0m2 4h0m1-4h0m0 4h0m1-4h0m1 3h0m0-2h0m3-5h0m0 4h0m0-3h0m1 4h0m0 2h0m0-3h0m3-1h0m0 6h0m1-4h0m2 2h0m1-1h0m5 0h0m5-6h0m22 6h0m2 1h0m2-4h0m3 3h0m5-2h0m0-3h0m2 5h0m5-2h0m3 3h0m1-2h0m0 0h0m3-2h0m0 5h0m1 0h0m1 0h0m8-4h0m2-5h0m0 2h0m0 4h0m1 0h0m0-1h0m2 0h0m3-1h0m2 5h0m3 0h0m1-7h0m0 1h0m3 7h0m0-7h0m3 7h0m1-5h0m3-3h0m2-1h0m3 8h0m1-4h0m2 2h0m2 2h0m0 0h0m0-1h0m14-5h0m2 6h0m5-7h0m3-2h0m2 4h0m11 6h0m32-2h0m-290 11h0m3-8h0m5 0h0m2 4h0m7 3h0m3-1h0m3-3h0m5-4h0m2 8h0m0 1h0m1-5h0m4-2h0m1 2h0m2-1h0m0 7h0m1-6h0m1 5h0m0-1h0m2-5h0m3 5h0m0-5h0m0 2h0m1 2h0m0-4h0m1 4h0m1-1h0m1-3h0m0-3h0m0 5h0m2 2h0m0-6h0m0 4h0m1 3h0m1-3h0m0 1h0m0 0h0m2-1h0m1 2h0m1-3h0m0 4h0m2 0h0m1 2h0m0-2h0m1-6h0m0 4h0m0 0h0m1-5h0m0 2h0m2-1h0m0 5h0m1-4h0m0 2h0m1 4h0m0-2h0m1-3h0m0 5h0m1-9h0m1 8h0m0-2h0m2-1h0m1 5h0m0-3h0m0 0h0m1 3h0m0-6h0m0 4h0m2 1h0m0-2h0m1 3h0m0 0h0m0-3h0m0-4h0m0 2h0m2 0h0m1 3h0m1-2h0m0-4h0m0 1h0m1 7h0m4-6h0m1-1h0m2-1h0m1 7h0m2-4h0m2 2h0m1 0h0m0-7h0m1 8h0m0-6h0m1-2h0m1 2h0m1 7h0m0-3h0m3 1h0m0 1h0m1-4h0m0 5h0m1-4h0m1-2h0m1 4h0m3-1h0m3-3h0m5 5h0m1-6h0m3 2h0m2-3h0m0 5h0m3 3h0m1-3h0m1-4h0m1-1h0m1 5h0m5-4h0m0 7h0m7 0h0m1 1h0m2-9h0m4 8h0m1 0h0m1-5h0m6 6h0m1-8h0m5 4h0m9-4h0m1 7h0m0-6h0m3 1h0m4 1h0m0 4h0m2-1h0m6-4h0m0 1h0m3-3h0m7 6h0m5 1h0m0-8h0m2 5h0m1 2h0m0-4h0m1 1h0m1 3h0m4-3h0m1-2h0m1 5h0m3-1h0m2-3h0m3-2h0m2 6h0m5-8h0m12 6h0m5 2h0m4-1h0m2-1h0m2 4h0m-284 5h0m18 0h0m4 3h0m10-1h0m10 2h0m6-1h0m2-3h0m1 3h0m0-1h0m1 1h0m3-5h0m1 4h0m0-6h0m2 9h0m1-4h0m1-3h0m1 2h0m2 1h0m0 1h0m1-6h0m1 1h0m1-2h0m0 5h0m1-1h0m2-4h0m1 4h0m3 4h0m3-2h0m1 3h0m0-2h0m2 1h0m1-6h0m0 2h0m1-1h0m0-2h0m0 2h0m1 3h0m0 2h0m1 0h0m0-2h0m0-4h0m1 2h0m2-2h0m1 4h0m0 3h0m0-8h0m1 9h0m0-7h0m0 3h0m1-5h0m0 7h0m1-5h0m0 4h0m1-1h0m0-5h0m0 0h0m1 6h0m0-2h0m0-4h0m1 0h0m0 7h0m1-2h0m1 0h0m0-2h0m0 0h0m0 3h0m0-1h0m1-3h0m0 6h0m0-6h0m0-1h0m1-2h0m1 8h0m0-5h0m1 2h0m0 5h0m0-10h0m1 7h0m0-2h0m1 4h0m0-7h0m0-2h0m1 0h0m0 1h0m0 6h0m1 1h0m1-4h0m1 3h0m0-5h0m1 3h0m0-1h0m0-2h0m1 1h0m1 5h0m2 1h0m1-2h0m1-1h0m1-6h0m1 3h0m1-2h0m0-1h0m0 8h0m1-1h0m0-3h0m1 5h0m0-9h0m0 9h0m1-8h0m2 2h0m0 3h0m0 3h0m2 0h0m1-7h0m3 6h0m0 1h0m1-7h0m2 4h0m1 2h0m1-7h0m0 8h0m1-2h0m0-6h0m0 7h0m2-1h0m2 2h0m0 0h0m1-6h0m1 6h0m1-6h0m0 1h0m0 5h0m2-8h0m0 5h0m2-3h0m1-2h0m5 5h0m2-3h0m2 0h0m0 7h0m1-9h0m5 5h0m5-3h0m2 6h0m0-8h0m2 2h0m2 2h0m1-2h0m1 4h0m5 2h0m2-8h0m6 2h0m1 3h0m0 3h0m2-5h0m0 6h0m2-6h0m5 4h0m2-1h0m4 3h0m2-10h0m1 3h0m2 0h0m3 6h0m1-7h0m0 2h0m1 1h0m4-3h0m2 4h0m1-4h0m1 7h0m1-1h0m5-4h0m5 3h0m3 0h0m1-4h0m1 0h0m4 4h0m0-5h0m1-1h0m3 2h0m0-2h0m0 3h0m0 1h0m3 0h0m1 0h0m3 2h0m2 1h0m5-4h0m0-2h0m2 8h0m0-10h0m2 2h0m2 5h0m6-2h0m1 0h0m2 4h0m-265 4h0m11 7h0m24-4h0m1 3h0m8-5h0m1-4h0m1 8h0m0-7h0m7 6h0m3-2h0m1 1h0m0-5h0m0 1h0m2 0h0m0 0h0m1 4h0m1-4h0m1 5h0m0 0h0m1-3h0m0-2h0m0 6h0m2-5h0m0-2h0m0 4h0m3-1h0m2 3h0m1 0h0m0-7h0m0 8h0m2-7h0m0 4h0m0 2h0m1 1h0m0-4h0m0-3h0m1 3h0m2-3h0m1 2h0m0 5h0m1-1h0m1-4h0m1 4h0m1 3h0m0-5h0m1 3h0m0 1h0m0-8h0m1 0h0m0 1h0m0-1h0m1 5h0m1-2h0m0 4h0m2-5h0m1-2h0m1 7h0m0-5h0m1 5h0m0-7h0m0 2h0m1 3h0m1-4h0m0-2h0m1 8h0m0-8h0m1 10h0m0-9h0m0 0h0m2-1h0m0 7h0m1-1h0m1-1h0m0 3h0m1-1h0m0-4h0m1 3h0m1-3h0m1 5h0m0 0h0m0-1h0m1-4h0m0 1h0m0-1h0m0 6h0m1-7h0m3 4h0m1-1h0m0 1h0m1-2h0m1 4h0m1-7h0m0 7h0m1 2h0m2-9h0m1 1h0m0 8h0m1-7h0m0-1h0m0-1h0m2 1h0m1 8h0m0-5h0m1-2h0m0 2h0m0 2h0m0-5h0m1 3h0m1 1h0m0 3h0m3-6h0m0 2h0m2-1h0m0 2h0m1 0h0m1-1h0m1-3h0m1 6h0m3-5h0m0-3h0m3 0h0m0 9h0m2-5h0m1 5h0m3-5h0m4 1h0m1 0h0m1-1h0m0-4h0m1 8h0m1-3h0m0 5h0m3-1h0m4-8h0m4 1h0m9-1h0m0 8h0m9-2h0m5-5h0m2-1h0m0 1h0m1 3h0m7-1h0m0 3h0m1 1h0m1-2h0m2-2h0m1-1h0m0 6h0m5-8h0m0 1h0m3 2h0m2 0h0m3-1h0m0 3h0m1-6h0m2 9h0m2-1h0m4-3h0m0 3h0m3-1h0m1 1h0m0-7h0m0 8h0m5-8h0m4 6h0m1 1h0m1-2h0m5 3h0m0-7h0m1 4h0m2 3h0m2 1h0m3-6h0m0 4h0m0-2h0m1 0h0m1 3h0m2-2h0m3-5h0m14 1h0m10 1h0m-269 9h0m7-2h0m13 4h0m3-3h0m3-1h0m3 6h0m1 0h0m1-6h0m2 5h0m0-6h0m6 5h0m0-5h0m2 8h0m1-8h0m1 10h0m1-7h0m1 4h0m1-5h0m1 2h0m0 4h0m2-7h0m0 3h0m0 0h0m3 0h0m0 0h0m1 3h0m1-4h0m1 3h0m1 4h0m1-2h0m0-3h0m5-2h0m0 4h0m1 2h0m0-5h0m1 3h0m0 2h0m1-3h0m0-5h0m1 5h0m2 2h0m0-7h0m0 6h0m4 0h0m1-6h0m1 4h0m0 3h0m0-4h0m0 4h0m1-7h0m1 4h0m1-2h0m0 0h0m0 1h0m0 2h0m1 3h0m0-8h0m1 8h0m1-6h0m0-2h0m0 0h0m2 4h0m0 1h0m1-3h0m2 1h0m2 3h0m0-3h0m1-3h0m1 1h0m1 0h0m1 0h0m1-1h0m0 2h0m2 4h0m0 2h0m1-8h0m1 6h0m2-2h0m2 2h0m1-4h0m0-2h0m1 4h0m1 4h0m0-1h0m1 2h0m2-6h0m1-3h0m1 5h0m1-3h0m1 5h0m2-6h0m1-2h0m1 6h0m0 0h0m4-4h0m2 2h0m1 4h0m2-2h0m2 2h0m1-6h0m4 1h0m0 2h0m5-1h0m7-1h0m4 4h0m4-2h0m17-3h0m2 1h0m2 6h0m0-8h0m3 6h0m2-3h0m2 2h0m2 0h0m2-6h0m5 0h0m2 7h0m0-5h0m4 1h0m3 0h0m0 4h0m1-6h0m0 4h0m1 2h0m1 1h0m0-5h0m1 3h0m1 0h0m1-4h0m0 8h0m0-4h0m2-2h0m1 0h0m1-1h0m2 6h0m3-6h0m0 6h0m0-8h0m1 1h0m2 6h0m1-5h0m1 6h0m1-4h0m3 3h0m2-6h0m1 2h0m3 6h0m2-5h0m3 1h0m5-5h0m2-1h0m3 9h0m4-9h0m4 5h0m7 2h0m10-5h0m21 6h0m-283 11h0m12-2h0m11-1h0m13 3h0m2-1h0m1-3h0m5-2h0m1-2h0m3 6h0m2-1h0m1 0h0m1-3h0m3-1h0m1 5h0m1-7h0m1 9h0m1-3h0m1-1h0m0-1h0m2-1h0m0 3h0m2 2h0m0-3h0m0-4h0m1 6h0m1-1h0m0-3h0m2 5h0m2-3h0m0 0h0m3-1h0m0-3h0m1 0h0m0 5h0m0-3h0m1 3h0m0-3h0m1 3h0m0 3h0m1-5h0m0 1h0m1 2h0m1 3h0m3-1h0m2 0h0m0-3h0m0 4h0m1-5h0m3 0h0m1 2h0m0-7h0m6 1h0m0 0h0m4 9h0m1-9h0m1 4h0m1 3h0m1-6h0m0-2h0m1 7h0m0-4h0m1 4h0m0-5h0m2 6h0m2-2h0m1 2h0m3-6h0m0 1h0m0 4h0m3-1h0m2 3h0m3 0h0m0-7h0m2 7h0m11-2h0m2-5h0m4 3h0m1-5h0m1 5h0m0-5h0m6 7h0m10 0h0m0 2h0m4-2h0m2 1h0m4 0h0m6-5h0m2 5h0m0-3h0m2 3h0m2-1h0m4-5h0m6-1h0m0 7h0m1-4h0m1 2h0m0 4h0m1-7h0m5-3h0m1 7h0m0-1h0m5-1h0m2-3h0m2 5h0m2 0h0m2-4h0m0 6h0m1-7h0m0 5h0m1-2h0m8 4h0m0-6h0m2 0h0m1 4h0m0 2h0m1-1h0m2-6h0m2 1h0m0 3h0m1 0h0m4 1h0m7-4h0m0-1h0m1 5h0m5-5h0m2 3h0m6-1h0m33-3h0m-271 9h0m0 4h0m1 4h0m8-8h0m7 0h0m2 2h0m5-2h0m3 9h0m7-3h0m1-4h0m1 0h0m2 3h0m0 3h0m1-4h0m4 2h0m1 2h0m1 2h0m3-7h0m0-1h0m1-1h0m2 0h0m1 2h0m2-1h0m0-1h0m4 8h0m1-9h0m0 2h0m1 1h0m2 3h0m0-5h0m3 2h0m1 3h0m0 2h0m1-3h0m1-1h0m0 4h0m0 1h0m3-4h0m1-5h0m0 5h0m0 4h0m2-5h0m0 1h0m2-4h0m1 1h0m1 1h0m0 3h0m2-4h0m1 6h0m1-4h0m5-2h0m0 7h0m1-3h0m0-1h0m0-2h0m4 2h0m0 1h0m6 4h0m1-4h0m0 1h0m1 0h0m1-6h0m0 7h0m3-1h0m0 1h0m3-5h0m2 4h0m3-1h0m0-4h0m1-1h0m2 0h0m15 1h0m2 7h0m2-2h0m1-3h0m4 4h0m1-1h0m4-6h0m5 2h0m3-3h0m1 8h0m1-4h0m1 6h0m3-2h0m1-5h0m1 2h0m3-1h0m3 0h0m4 5h0m2-4h0m2-1h0m1 4h0m2-1h0m6-4h0m0 5h0m1-7h0m5 1h0m2 2h0m2 4h0m2-6h0m2 3h0m9 5h0m2-4h0m12 3h0m28-1h0m25-4h0m-305 12h0m8-1h0m45 2h0m7-4h0m9 2h0m1-3h0m0 3h0m5 1h0m0 2h0m3-4h0m0-3h0m1 1h0m3 1h0m3 3h0m0-5h0m1 7h0m3-2h0m2-1h0m2-4h0m1 3h0m9-4h0m2 8h0m0-3h0m1 0h0m0-1h0m10 0h0m3 5h0m4 0h0m3-8h0m7 7h0m0-1h0m0-5h0m3-1h0m0 7h0m2-7h0m16 2h0m8-2h0m6 7h0m3 1h0m8-2h0m4-5h0m0 7h0m2-3h0m1-3h0m2-2h0m6 2h0m4-2h0m2 0h0m2 9h0m0-9h0m0 2h0m3 4h0m1-6h0m9 8h0m0-8h0m1 2h0m0 3h0m0-3h0m2-2h0m3 1h0m3 4h0m6-5h0m6 4h0m5-5h0m8 4h0m3 4h0m8-1h0m8 1h0m-218 10h0m0-3h0m27 1h0m7 0h0m6 2h0m6-2h0m5-3h0m1 0h0m2 5h0m5 0h0m3-3h0m5 1h0m1-6h0m1 10h0m6-6h0m13 0h0m3-2h0m21 1h0m1-2h0m3 3h0m5 4h0m7-4h0m4-2h0m7 3h0m25 5h0m2-7h0m9 0h0m2 6h0m15-2h0m2-4h0m14-2h0m2-1h0m26 3h0m-222 8h0m25 6h0m4-2h0m9-2h0m35 7h0m22-10h0m5 7h0m2-3h0m15-2h0m3 0h0m13 1h0m2-2h0m15 0h0m8 2h0m36 2h0m4-1h0m-182 15h0m3-8h0m5-1h0m2 2h0m0 3h0m6-2h0m3 0h0m24 6h0m30-8h0m11 7h0m5-5h0m2-2h0m0 8h0m1-3h0m6-5h0m0 2h0m44 4h0m14-5h0m15 2h0m-184 10h0m1 1h0m10 1h0m31-4h0m59 4h0m15 0h0m47 3h0m4 0h0m8-1h0m8-4h0m31-3h0m-226 12h0m77-3h0m30 1h0m49 1h0m28 5h0m-178 13h0m40-6h0m28 1h0m10-1h0m55 5h0m35-2h0m-147 10h0m47 0h0m105-5h0m9-2h0m-200 20h0m67-2h0m5-8h0m126 8h0m2 0h0m24-7h0m-95 37h0m24-1h0m11-1h0m-120 10h0m60 2h0m27 1h0m1-3h0m10-1h0m6-1h0m3 2h0m10-6h0m40 10h0m-114 9h0m46 0h0m8-4h0m5 5h0m6-7h0m22 4h0m15-3h0m5 0h0m-188 8h0m4 6h0m15-6h0m38 5h0m61-4h0m1 1h0m6 2h0m9-2h0m11 0h0m1 0h0m4 1h0m9 2h0m47-7h0m-122 14h0m17-4h0m11 10h0m2-5h0m2 3h0m4-5h0m0 1h0m3 0h0m1 3h0m1 2h0m1-5h0m1 5h0m21-9h0m5 2h0m6 2h0m8 0h0m-83 12h0m7-5h0m20-1h0m4 6h0m16 0h0m4-1h0m2-2h0m12-1h0m0 7h0m7-6h0m8-2h0m6 7h0m-111 7h0m37 5h0m4-1h0m7-3h0m8 0h0m1-5h0m9 5h0m5 0h0m2 3h0m3-4h0m9-1h0m1 2h0m4 3h0m14-8h0m1-1h0m1 5h0m4-3h0m-101 14h0m19-5h0m6 9h0m7-3h0m0-5h0m4 3h0m1 4h0m3-6h0m1 1h0m2-1h0m17 2h0m3 4h0m3-1h0m24-3h0m12 2h0m1-5h0m12 7h0m-137 6h0m2 3h0m2 2h0m2-2h0m13-3h0m0 2h0m16-6h0m12 0h0m2 2h0m22 2h0m0-3h0m4 5h0m5 2h0m18-7h0m4 1h0m11-1h0m-157 10h0m9 3h0m18-3h0m23-2h0m13 5h0m1 1h0m1 2h0m31 1h0m8-1h0m8 1h0m11 0h0m5-4h0m3-3h0m4-1h0m23 2h0m-161 17h0m16-5h0m10 4h0m6-1h0m20-1h0m25-4h0m5-1h0m11 2h0m2 2h0m8 0h0m11 1h0m3-6h0m30 5h0m-157 8h0m44-1h0m18 5h0m8-3h0m17 5h0m4-3h0m7 1h0m3-1h0m0-2h0m2-2h0m1-1h0m3 5h0m6-4h0m1 6h0m4-1h0m1-7h0m0 4h0m12-2h0m3 4h0m11-4h0m-116 13h0m0-3h0m1 2h0m3 4h0m15-4h0m0-3h0m5 6h0m3 2h0m31-10h0m4 7h0m0-6h0m1 2h0m2 5h0m6-6h0m2 3h0m5 3h0m2-5h0m1-2h0m1 7h0m2 2h0m1-5h0m2-4h0m5 9h0m18-8h0m9 2h0m3 3h0m3-3h0m-171 10h0m5 5h0m23 0h0m1-7h0m27 5h0m2-5h0m3 3h0m3 0h0m5-4h0m1 4h0m7 3h0m12-4h0m12 4h0m0-4h0m15-3h0m4 1h0m1 7h0m1-8h0m16 0h0m24 4h0m98 4h0m-221 5h0m10 1h0m15 4h0m5-5h0m8-3h0m4-1h0m2 2h0m3 2h0m8 5h0m7 0h0m10 1h0m4-9h0m10 5h0m2 0h0m11 3h0m-103 10h0m12-4h0m10 1h0m2-6h0m12 7h0m1-7h0m3 6h0m5 1h0m1-2h0m2-2h0m8 3h0m0-4h0m1 6h0m4 1h0m5-7h0m3-1h0m2 0h0m10 3h0m3 1h0m5 4h0m1 0h0m69-7h0m-173 11h0m15 5h0m8-8h0m3 9h0m5-1h0m2-3h0m4 5h0m4-5h0m1 1h0m1 1h0m4-5h0m2 5h0m0 2h0m12-2h0m4-2h0m2 1h0m3-2h0m1-3h0m4 5h0m46-6h0m12 3h0m28-2h0m-157 13h0m21 4h0m1 1h0m3-2h0m9-1h0m0 3h0m11-3h0m4 0h0m3 3h0m7-8h0m20 6h0m3 1h0m22-1h0m-86 9h0m12-3h0m2 0h0m1-3h0m4 1h0m8 7h0m9-5h0m4 6h0m0-4h0m7 3h0m5-8h0m4 7h0m1 0h0m7-4h0m5 7h0m3 0h0m3-6h0m9-2h0m18-2h0m-98 16h0m3 2h0m1-1h0m1 1h0m2-4h0m8 4h0m3-3h0m2 3h0m1-1h0m0 0h0m1-5h0m2 2h0m1 4h0m2-4h0m2 4h0m1-7h0m0 3h0m18 1h0m3 1h0m-92 8h0m54-2h0m3 3h0m7-3h0m3-1h0m2 3h0m2-3h0m2 7h0m0-7h0m0 8h0m4-1h0m4 0h0m0-3h0m7-5h0m5 1h0m2 0h0m5 0h0m0 0h0m74 1h0m-181 14h0m39 3h0m16-7h0m3 0h0m1-1h0m0 4h0m8 0h0m17 0h0m110 4h0m-141 7h0m7-6h0m20 4h0m6-1h0m2 0h0m7 2h0m26 1h0m-79 6h0m47 2h0m4-4h0m1 2h0m1-2h0m-77 11h0m36 6h0m31-5h0m5 6h0m19-4h0m90 2h0m-224 18h0m229 7h0" stroke="#000" stroke-opacity="0.7" stroke-width="7.0" stroke-linecap="square" fill="none"/>
<rect x="342.3" y="165.6" width="73.59999999999997" height="75.6" fill="none" stroke="#000" stroke-width="1.3"/>
<line x1="339.5" y1="168.6" x2="342.3" y2="168.6" stroke="#000" stroke-width="0.9" />
<text x="338.7" y="170.79999999999998" font-size="6.3" text-anchor="end" stroke="#000" stroke-width="0.12" fill="#000" >10<tspan dy="-2.2" font-size="4.2">7</tspan></text>
<line x1="339.5" y1="180.2" x2="342.3" y2="180.2" stroke="#000" stroke-width="0.9" />
<text x="338.7" y="182.39999999999998" font-size="6.3" text-anchor="end" stroke="#000" stroke-width="0.12" fill="#000" >10<tspan dy="-2.2" font-size="4.2">6</tspan></text>
<line x1="339.5" y1="192.3" x2="342.3" y2="192.3" stroke="#000" stroke-width="0.9" />
<text x="338.7" y="194.5" font-size="6.3" text-anchor="end" stroke="#000" stroke-width="0.12" fill="#000" >10<tspan dy="-2.2" font-size="4.2">5</tspan></text>
<line x1="339.5" y1="204.4" x2="342.3" y2="204.4" stroke="#000" stroke-width="0.9" />
<text x="338.7" y="206.6" font-size="6.3" text-anchor="end" stroke="#000" stroke-width="0.12" fill="#000" >10<tspan dy="-2.2" font-size="4.2">4</tspan></text>
<line x1="339.5" y1="216.9" x2="342.3" y2="216.9" stroke="#000" stroke-width="0.9" />
<text x="338.7" y="219.1" font-size="6.3" text-anchor="end" stroke="#000" stroke-width="0.12" fill="#000" >10<tspan dy="-2.2" font-size="4.2">3</tspan></text>
<line x1="339.5" y1="232.1" x2="342.3" y2="232.1" stroke="#000" stroke-width="0.9" />
<text x="338.7" y="234.29999999999998" font-size="6.3" text-anchor="end" textLength="3.65" lengthAdjust="spacingAndGlyphs" stroke="#000" stroke-width="0.12" fill="#000" >0</text>
<line x1="342.3" y1="241.2" x2="342.3" y2="244.0" stroke="#000" stroke-width="0.9" />
<text x="342.5" y="251.79999999999998" font-size="6.3" text-anchor="middle" stroke="#000" stroke-width="0.12" fill="#000" >10<tspan dy="-2.2" font-size="4.2">2</tspan></text>
<line x1="361.4" y1="241.2" x2="361.4" y2="244.0" stroke="#000" stroke-width="0.9" />
<text x="361.59999999999997" y="251.79999999999998" font-size="6.3" text-anchor="middle" stroke="#000" stroke-width="0.12" fill="#000" >10<tspan dy="-2.2" font-size="4.2">3</tspan></text>
<line x1="380.4" y1="241.2" x2="380.4" y2="244.0" stroke="#000" stroke-width="0.9" />
<text x="380.59999999999997" y="251.79999999999998" font-size="6.3" text-anchor="middle" stroke="#000" stroke-width="0.12" fill="#000" >10<tspan dy="-2.2" font-size="4.2">4</tspan></text>
<line x1="399.2" y1="241.2" x2="399.2" y2="244.0" stroke="#000" stroke-width="0.9" />
<text x="399.4" y="251.79999999999998" font-size="6.3" text-anchor="middle" stroke="#000" stroke-width="0.12" fill="#000" >10<tspan dy="-2.2" font-size="4.2">5</tspan></text>
<line x1="340.40000000000003" y1="213.14" x2="342.3" y2="213.14" stroke="#000" stroke-width="0.85" />
<line x1="340.40000000000003" y1="210.94" x2="342.3" y2="210.94" stroke="#000" stroke-width="0.85" />
<line x1="340.40000000000003" y1="209.37" x2="342.3" y2="209.37" stroke="#000" stroke-width="0.85" />
<line x1="340.40000000000003" y1="208.16" x2="342.3" y2="208.16" stroke="#000" stroke-width="0.85" />
<line x1="340.40000000000003" y1="207.17" x2="342.3" y2="207.17" stroke="#000" stroke-width="0.85" />
<line x1="340.40000000000003" y1="206.34" x2="342.3" y2="206.34" stroke="#000" stroke-width="0.85" />
<line x1="340.40000000000003" y1="205.61" x2="342.3" y2="205.61" stroke="#000" stroke-width="0.85" />
<line x1="340.40000000000003" y1="204.97" x2="342.3" y2="204.97" stroke="#000" stroke-width="0.85" />
<line x1="340.40000000000003" y1="200.76" x2="342.3" y2="200.76" stroke="#000" stroke-width="0.85" />
<line x1="340.40000000000003" y1="198.63" x2="342.3" y2="198.63" stroke="#000" stroke-width="0.85" />
<line x1="340.40000000000003" y1="197.12" x2="342.3" y2="197.12" stroke="#000" stroke-width="0.85" />
<line x1="340.40000000000003" y1="195.94" x2="342.3" y2="195.94" stroke="#000" stroke-width="0.85" />
<line x1="340.40000000000003" y1="194.98" x2="342.3" y2="194.98" stroke="#000" stroke-width="0.85" />
<line x1="340.40000000000003" y1="194.17" x2="342.3" y2="194.17" stroke="#000" stroke-width="0.85" />
<line x1="340.40000000000003" y1="193.47" x2="342.3" y2="193.47" stroke="#000" stroke-width="0.85" />
<line x1="340.40000000000003" y1="192.85" x2="342.3" y2="192.85" stroke="#000" stroke-width="0.85" />
<line x1="340.40000000000003" y1="188.66" x2="342.3" y2="188.66" stroke="#000" stroke-width="0.85" />
<line x1="340.40000000000003" y1="186.53" x2="342.3" y2="186.53" stroke="#000" stroke-width="0.85" />
<line x1="340.40000000000003" y1="185.02" x2="342.3" y2="185.02" stroke="#000" stroke-width="0.85" />
<line x1="340.40000000000003" y1="183.84" x2="342.3" y2="183.84" stroke="#000" stroke-width="0.85" />
<line x1="340.40000000000003" y1="182.88" x2="342.3" y2="182.88" stroke="#000" stroke-width="0.85" />
<line x1="340.40000000000003" y1="182.07" x2="342.3" y2="182.07" stroke="#000" stroke-width="0.85" />
<line x1="340.40000000000003" y1="181.37" x2="342.3" y2="181.37" stroke="#000" stroke-width="0.85" />
<line x1="340.40000000000003" y1="180.75" x2="342.3" y2="180.75" stroke="#000" stroke-width="0.85" />
<line x1="340.40000000000003" y1="176.71" x2="342.3" y2="176.71" stroke="#000" stroke-width="0.85" />
<line x1="340.40000000000003" y1="174.67" x2="342.3" y2="174.67" stroke="#000" stroke-width="0.85" />
<line x1="340.40000000000003" y1="173.22" x2="342.3" y2="173.22" stroke="#000" stroke-width="0.85" />
<line x1="340.40000000000003" y1="172.09" x2="342.3" y2="172.09" stroke="#000" stroke-width="0.85" />
<line x1="340.40000000000003" y1="171.17" x2="342.3" y2="171.17" stroke="#000" stroke-width="0.85" />
<line x1="340.40000000000003" y1="170.4" x2="342.3" y2="170.4" stroke="#000" stroke-width="0.85" />
<line x1="340.40000000000003" y1="169.72" x2="342.3" y2="169.72" stroke="#000" stroke-width="0.85" />
<line x1="340.40000000000003" y1="169.13" x2="342.3" y2="169.13" stroke="#000" stroke-width="0.85" />
<line x1="340.40000000000003" y1="236.5" x2="342.3" y2="236.5" stroke="#000" stroke-width="0.85" />
<line x1="340.40000000000003" y1="227.7" x2="342.3" y2="227.7" stroke="#000" stroke-width="0.85" />
<line x1="340.40000000000003" y1="222.5" x2="342.3" y2="222.5" stroke="#000" stroke-width="0.85" />
<line x1="340.40000000000003" y1="238.5" x2="342.3" y2="238.5" stroke="#000" stroke-width="0.85" />
<line x1="340.40000000000003" y1="225" x2="342.3" y2="225" stroke="#000" stroke-width="0.85" />
<line x1="348.05" y1="241.2" x2="348.05" y2="243.1" stroke="#000" stroke-width="0.85" />
<line x1="351.41" y1="241.2" x2="351.41" y2="243.1" stroke="#000" stroke-width="0.85" />
<line x1="353.8" y1="241.2" x2="353.8" y2="243.1" stroke="#000" stroke-width="0.85" />
<line x1="355.65" y1="241.2" x2="355.65" y2="243.1" stroke="#000" stroke-width="0.85" />
<line x1="357.16" y1="241.2" x2="357.16" y2="243.1" stroke="#000" stroke-width="0.85" />
<line x1="358.44" y1="241.2" x2="358.44" y2="243.1" stroke="#000" stroke-width="0.85" />
<line x1="359.55" y1="241.2" x2="359.55" y2="243.1" stroke="#000" stroke-width="0.85" />
<line x1="360.53" y1="241.2" x2="360.53" y2="243.1" stroke="#000" stroke-width="0.85" />
<line x1="367.12" y1="241.2" x2="367.12" y2="243.1" stroke="#000" stroke-width="0.85" />
<line x1="370.47" y1="241.2" x2="370.47" y2="243.1" stroke="#000" stroke-width="0.85" />
<line x1="372.84" y1="241.2" x2="372.84" y2="243.1" stroke="#000" stroke-width="0.85" />
<line x1="374.68" y1="241.2" x2="374.68" y2="243.1" stroke="#000" stroke-width="0.85" />
<line x1="376.18" y1="241.2" x2="376.18" y2="243.1" stroke="#000" stroke-width="0.85" />
<line x1="377.46" y1="241.2" x2="377.46" y2="243.1" stroke="#000" stroke-width="0.85" />
<line x1="378.56" y1="241.2" x2="378.56" y2="243.1" stroke="#000" stroke-width="0.85" />
<line x1="379.53" y1="241.2" x2="379.53" y2="243.1" stroke="#000" stroke-width="0.85" />
<line x1="386.06" y1="241.2" x2="386.06" y2="243.1" stroke="#000" stroke-width="0.85" />
<line x1="389.37" y1="241.2" x2="389.37" y2="243.1" stroke="#000" stroke-width="0.85" />
<line x1="391.72" y1="241.2" x2="391.72" y2="243.1" stroke="#000" stroke-width="0.85" />
<line x1="393.54" y1="241.2" x2="393.54" y2="243.1" stroke="#000" stroke-width="0.85" />
<line x1="395.03" y1="241.2" x2="395.03" y2="243.1" stroke="#000" stroke-width="0.85" />
<line x1="396.29" y1="241.2" x2="396.29" y2="243.1" stroke="#000" stroke-width="0.85" />
<line x1="397.38" y1="241.2" x2="397.38" y2="243.1" stroke="#000" stroke-width="0.85" />
<line x1="398.34" y1="241.2" x2="398.34" y2="243.1" stroke="#000" stroke-width="0.85" />
<line x1="404.86" y1="241.2" x2="404.86" y2="243.1" stroke="#000" stroke-width="0.85" />
<line x1="408.17" y1="241.2" x2="408.17" y2="243.1" stroke="#000" stroke-width="0.85" />
<line x1="410.52" y1="241.2" x2="410.52" y2="243.1" stroke="#000" stroke-width="0.85" />
<line x1="412.34" y1="241.2" x2="412.34" y2="243.1" stroke="#000" stroke-width="0.85" />
<line x1="413.83" y1="241.2" x2="413.83" y2="243.1" stroke="#000" stroke-width="0.85" />
<line x1="372.3" y1="165.6" x2="372.3" y2="241.2" stroke="#000" stroke-width="1.0" />
<line x1="342.3" y1="213.2" x2="415.9" y2="213.2" stroke="#000" stroke-width="1.0" />
<rect x="344.60" y="168.21" width="9.74" height="6.29" fill="#fff"/>
<text x="345" y="173.3" font-size="6.7" stroke="#000" stroke-width="0.12" fill="#000" >Q5</text>
<rect x="344.60" y="176.91" width="13.84" height="6.29" fill="#fff"/>
<text x="345" y="182" font-size="6.7" stroke="#000" stroke-width="0.12" fill="#000" >77.7</text>
<rect x="404.16" y="168.21" width="9.74" height="6.29" fill="#fff"/>
<text x="413.5" y="173.3" font-size="6.7" text-anchor="end" stroke="#000" stroke-width="0.12" fill="#000" >Q6</text>
<rect x="400.06" y="176.91" width="13.84" height="6.29" fill="#fff"/>
<text x="413.5" y="182" font-size="6.7" text-anchor="end" stroke="#000" stroke-width="0.12" fill="#000" >13.5</text>
<rect x="344.60" y="222.41" width="9.74" height="6.29" fill="#fff"/>
<text x="345" y="227.5" font-size="6.7" stroke="#000" stroke-width="0.12" fill="#000" >Q8</text>
<rect x="344.60" y="230.91" width="13.84" height="6.29" fill="#fff"/>
<text x="345" y="236" font-size="6.7" stroke="#000" stroke-width="0.12" fill="#000" >5.50</text>
<rect x="404.16" y="222.41" width="9.74" height="6.29" fill="#fff"/>
<text x="413.5" y="227.5" font-size="6.7" text-anchor="end" stroke="#000" stroke-width="0.12" fill="#000" >Q7</text>
<rect x="400.06" y="230.91" width="13.84" height="6.29" fill="#fff"/>
<text x="413.5" y="236" font-size="6.7" text-anchor="end" stroke="#000" stroke-width="0.12" fill="#000" >3.23</text>
<line x1="370.5" y1="175.4" x2="418.2" y2="175.4" stroke="#000" stroke-width="1.1" />
<path d="M417.59999999999997 173.3L421.2 175.4L417.59999999999997 177.5z" fill="#000"/>
<text x="379.2" y="260.8" font-size="7.2" text-anchor="middle" font-weight="bold" textLength="82" lengthAdjust="spacingAndGlyphs" fill="#000" >Comp-FL7-H :: Viability LiveDeadAqua-H</text>
<text transform="translate(325.4,202.7) rotate(-90)" font-size="6.4" text-anchor="middle" font-weight="bold" textLength="70" lengthAdjust="spacingAndGlyphs">Comp-FL5-H :: CD3 APC-Vio770-H</text>
<ellipse cx="467" cy="178.3" rx="7" ry="3" fill="#000" fill-opacity="0.75" transform="rotate(0 467 178.3)" filter="url(#bl1_2)"/>
<ellipse cx="459.5" cy="193.5" rx="3.4" ry="7" fill="#000" fill-opacity="0.8" transform="rotate(10 459.5 193.5)" filter="url(#bl1_2)"/>
<ellipse cx="490.5" cy="222" rx="3.2" ry="8" fill="#000" fill-opacity="0.45" transform="rotate(5 490.5 222)" filter="url(#bl1_6)"/>
<path transform="scale(0.1)" d="M4605 1665h0m-95 7h0m144 8h0m80 10h0m75-1h0m-260 12h0m95-1h0m64-2h0m58 1h0m17 2h0m-335 10h0m136 13h0m7-3h0m79 2h0m57-3h0m8 0h0m61 1h0m-234 10h0m52 1h0m9 2h0m9-3h0m6-5h0m1 9h0m16-2h0m4-6h0m11 3h0m39 4h0m-96 6h0m7-3h0m6 4h0m1-3h0m10-1h0m3 8h0m10-3h0m2 1h0m4-1h0m6 2h0m3-3h0m1 3h0m5-6h0m25 6h0m2-5h0m1 5h0m9-5h0m1 5h0m4-7h0m4 2h0m2 3h0m14-5h0m8 2h0m25 0h0m14 0h0m112-3h0m-347 9h0m21 1h0m11 7h0m1 2h0m7-8h0m18 5h0m10 1h0m1-6h0m8-2h0m4 4h0m1 2h0m10-5h0m5-1h0m1 0h0m2 6h0m6-2h0m2 5h0m0-2h0m0-1h0m4 3h0m2-6h0m1-2h0m2 6h0m9-5h0m8 2h0m25 1h0m1-4h0m9 7h0m14-4h0m6 2h0m8-6h0m5 6h0m5 0h0m1 0h0m1-2h0m2 3h0m2 0h0m5-6h0m10 6h0m8 2h0m42-5h0m2 0h0m37 3h0m-403 6h0m92-2h0m17 4h0m5 0h0m0 1h0m4 4h0m2-9h0m8 0h0m5 7h0m2-2h0m7 2h0m9 0h0m1-2h0m11 1h0m7-5h0m3 3h0m4 4h0m3-1h0m1-6h0m5-1h0m2 5h0m1-1h0m0 2h0m2-3h0m3-2h0m1 2h0m3-1h0m2 7h0m3-4h0m6-6h0m0 3h0m3-1h0m0 7h0m2-5h0m1 1h0m5-4h0m1 4h0m1 2h0m2-1h0m0 3h0m1-6h0m0 4h0m2-4h0m7-2h0m1 6h0m1 0h0m1 3h0m2 0h0m1-7h0m6 5h0m2 0h0m0-1h0m1 2h0m2 0h0m3-8h0m2 8h0m4-1h0m6-7h0m1 6h0m3 2h0m6-1h0m1 2h0m0-6h0m10 5h0m8-3h0m2-1h0m8 5h0m1-2h0m3 0h0m20 1h0m2-1h0m6-4h0m3 4h0m59-8h0m3 6h0m21-4h0m3 4h0m43 1h0m-391 10h0m20-6h0m1 8h0m12-5h0m2 4h0m0 1h0m7-6h0m0 1h0m2 1h0m0 3h0m4-2h0m1-3h0m2 6h0m6 0h0m3-1h0m3-5h0m12 1h0m2-3h0m11 4h0m1 1h0m4 3h0m2-3h0m1 2h0m1 1h0m0-6h0m0-3h0m1 1h0m8 3h0m0 1h0m4-5h0m3 1h0m5 8h0m1 0h0m3-2h0m2-5h0m0 3h0m1 4h0m3-8h0m0 6h0m1-6h0m1-1h0m0 6h0m2 0h0m0 4h0m0-2h0m0-1h0m0 2h0m2-5h0m1 2h0m1 0h0m5 1h0m1-7h0m2 1h0m1 6h0m1-6h0m4 1h0m1 0h0m4 6h0m0 2h0m3-8h0m0 5h0m1-1h0m6-2h0m1 6h0m1-10h0m1 3h0m4 3h0m1 2h0m0 2h0m4-5h0m1-4h0m2 7h0m3 1h0m4-6h0m1 5h0m0-1h0m4 2h0m1-1h0m1-3h0m0-1h0m0-3h0m1 3h0m1 3h0m1-6h0m2 5h0m3 1h0m7-3h0m7-2h0m4-2h0m2 9h0m9-7h0m1 1h0m18-1h0m1 3h0m55-3h0m13 0h0m-349 15h0m43 0h0m9-5h0m7 7h0m3-5h0m6 4h0m0 0h0m0-2h0m4-1h0m3 5h0m5-5h0m10 0h0m2 2h0m3-2h0m0 3h0m2 0h0m2-4h0m5-2h0m0 6h0m3-4h0m1-2h0m0 3h0m2 4h0m2-1h0m6 1h0m2-5h0m2 2h0m2 3h0m7 1h0m3-2h0m2 1h0m0 0h0m4-6h0m3 0h0m4 0h0m2 5h0m1 1h0m8-1h0m1-4h0m0 5h0m2-6h0m2 5h0m1-1h0m0 2h0m1-5h0m1-3h0m0 8h0m3 1h0m2-7h0m2-2h0m1 5h0m1 4h0m0-9h0m0 6h0m1-5h0m0-2h0m1 8h0m1 2h0m1-9h0m1 6h0m1-1h0m1 2h0m0-7h0m1 9h0m3-7h0m2 1h0m1-2h0m1 0h0m1 7h0m2 0h0m5 0h0m0 0h0m2-8h0m0-1h0m1 7h0m5-3h0m1-3h0m1 9h0m2-8h0m2 4h0m1-2h0m0-1h0m1 4h0m3 2h0m0-8h0m4 3h0m0 1h0m4 3h0m3-7h0m1 6h0m1-3h0m5 1h0m8-2h0m0 7h0m4-1h0m3 1h0m17-3h0m2-6h0m4 6h0m5-1h0m3-3h0m2-1h0m25 8h0m5-2h0m33-7h0m55 8h0m-417 9h0m72-1h0m0-6h0m18 1h0m12 5h0m1-7h0m0 8h0m5-8h0m2 2h0m2 2h0m3-1h0m1 4h0m0 1h0m4-1h0m3-6h0m1 7h0m0-8h0m2 4h0m1 1h0m1 0h0m0 5h0m3 0h0m1-7h0m5 5h0m4-6h0m2 8h0m4-2h0m2-5h0m2 3h0m0 0h0m4 1h0m0-5h0m1 6h0m0-8h0m2 0h0m1 5h0m3 3h0m2-4h0m0 2h0m1-2h0m4 2h0m1-3h0m1 6h0m2-4h0m2 4h0m0-8h0m4 1h0m3 7h0m0-8h0m1 3h0m0 4h0m0-3h0m2 3h0m1-2h0m0 0h0m1 4h0m1-2h0m2-8h0m2 4h0m3-1h0m0 3h0m1 4h0m1-1h0m0-1h0m0 1h0m1 1h0m1-6h0m4 3h0m1-4h0m0 2h0m5 0h0m1-5h0m4 5h0m3 4h0m2-1h0m1-1h0m2 2h0m1 0h0m0 0h0m5-4h0m1-1h0m1 6h0m5-8h0m1 3h0m1-4h0m1 2h0m1-1h0m2 7h0m3-6h0m1 6h0m1-7h0m2 3h0m3 3h0m3 0h0m2-5h0m2 7h0m1-3h0m1 0h0m3 2h0m2-6h0m0-2h0m4 6h0m0-1h0m1-2h0m6 0h0m4-1h0m0 2h0m1 1h0m6 2h0m7-6h0m2 4h0m4-4h0m1 1h0m16-1h0m1 3h0m74-4h0m3 1h0m14-1h0m-391 16h0m19 0h0m30 2h0m5-9h0m1 2h0m2 7h0m19-9h0m3 7h0m1-4h0m1-3h0m6 4h0m1 0h0m1-1h0m2 0h0m10 4h0m1-4h0m4 6h0m5-5h0m3-4h0m0 0h0m1 9h0m1-3h0m1-3h0m7 0h0m1 3h0m2 2h0m2-4h0m2 2h0m6-5h0m0 0h0m2 3h0m4 5h0m4-5h0m1-2h0m2 0h0m1 5h0m1-2h0m1 4h0m1-1h0m3-5h0m0 5h0m1-6h0m1 6h0m0-7h0m3 7h0m0-4h0m2 1h0m1 3h0m1-1h0m3-2h0m0-2h0m0 5h0m2 0h0m1 2h0m2-8h0m3 5h0m2-3h0m1 2h0m1 2h0m2-6h0m2 4h0m2 3h0m2 1h0m3-5h0m0 1h0m1-2h0m4 5h0m1-6h0m3 0h0m1 6h0m0-8h0m1 6h0m3 0h0m2 0h0m3-1h0m2 0h0m1-5h0m1 1h0m1 2h0m0 0h0m3 3h0m4-4h0m2 0h0m5 7h0m9-5h0m3 5h0m12-2h0m1-3h0m4 5h0m3-6h0m2 6h0m0-7h0m2 3h0m7-2h0m3-2h0m4 1h0m3 6h0m4-3h0m11 0h0m16-1h0m1 5h0m2-2h0m3-3h0m23 4h0m49-9h0m-355 14h0m24-2h0m1 6h0m5-5h0m1 3h0m1-1h0m9-3h0m7 2h0m3-2h0m2-2h0m12 5h0m9 2h0m6 0h0m2-1h0m0-6h0m2 6h0m3-2h0m2 4h0m3-7h0m0 4h0m6 3h0m2 1h0m6-8h0m0 0h0m0 0h0m6 5h0m1 1h0m1-3h0m4-1h0m0 1h0m2 1h0m0-4h0m2 8h0m2-4h0m2-4h0m1 1h0m3 7h0m3-4h0m0-1h0m4 1h0m1-3h0m1-2h0m0 0h0m1 0h0m1 0h0m0 5h0m1-3h0m1 3h0m0-1h0m1-4h0m0 1h0m2 5h0m0-2h0m1-1h0m4-1h0m1 1h0m8-2h0m4 2h0m0 2h0m2 3h0m4-6h0m2 5h0m0 3h0m3-8h0m0 2h0m0 2h0m3-5h0m1 0h0m1-1h0m1 1h0m4 2h0m1 6h0m6-8h0m7 0h0m2 2h0m1 5h0m4-8h0m7 1h0m0 3h0m4-2h0m2 5h0m1-3h0m11 1h0m46-3h0m7 6h0m19-1h0m13-2h0m1-3h0m1-1h0m28-1h0m-344 20h0m14-6h0m10-4h0m6 5h0m8-4h0m8 8h0m6 1h0m5-2h0m5-1h0m1-6h0m1 8h0m0 0h0m3-2h0m8-5h0m2 6h0m5-5h0m2 2h0m3-3h0m1 7h0m5 1h0m2-4h0m14-4h0m8 3h0m7 1h0m4 3h0m7-4h0m7-4h0m0 8h0m1-5h0m3-3h0m2 4h0m0-1h0m11 3h0m1 2h0m0-7h0m2-1h0m3 6h0m2-6h0m5 5h0m1-1h0m3-4h0m5 2h0m2-2h0m3 4h0m0-4h0m1 1h0m3-2h0m1 3h0m2-3h0m8 0h0m0 7h0m5-1h0m5-6h0m2 8h0m4 0h0m2 1h0m1-5h0m3 0h0m0 4h0m31-4h0m23 0h0m68 4h0m-406 5h0m51-2h0m27 8h0m1-6h0m0 2h0m9 5h0m5-9h0m0 3h0m0 2h0m1 4h0m1-3h0m0-6h0m11 4h0m4 1h0m24-5h0m5 8h0m13-8h0m0 1h0m14 2h0m2 4h0m1-4h0m3 2h0m1-4h0m29 1h0m2 3h0m3 2h0m5-4h0m2 0h0m2 5h0m1-7h0m20 4h0m1 2h0m9-7h0m3 0h0m5-1h0m11 0h0m8 6h0m1 0h0m11-2h0m1 5h0m16-1h0m5 1h0m25-6h0m24-2h0m62 1h0m46-1h0m-400 17h0m6 1h0m14-1h0m2-4h0m9 5h0m0-9h0m1 5h0m19-3h0m0 3h0m13 0h0m5 0h0m24-5h0m46 1h0m19 8h0m16-8h0m14 2h0m0 6h0m10-6h0m29-2h0m42 9h0m17-10h0m19 9h0m26-3h0m49-4h0m-476 17h0m59-5h0m18-4h0m6 4h0m6 2h0m1-1h0m9 1h0m5-3h0m22 7h0m4-7h0m8 4h0m1 0h0m0 0h0m2 3h0m4-7h0m4 3h0m1 4h0m4-4h0m4 0h0m0 1h0m0-4h0m16 1h0m29 3h0m11-2h0m27 4h0m31-3h0m9 2h0m5-3h0m47 2h0m6-6h0m5 9h0m15-5h0m20 1h0m8 3h0m5-7h0m5 0h0m3 2h0m34-4h0m19 0h0m-385 14h0m12-1h0m18-2h0m2 5h0m21 3h0m2-4h0m5-2h0m11 3h0m0 3h0m2-6h0m7 4h0m0-6h0m10 5h0m17-3h0m38 2h0m14 3h0m10-1h0m8-4h0m23 5h0m36-3h0m74 1h0m0 0h0m12-4h0m18 4h0m3 2h0m32 0h0m10-2h0m7-1h0m-400 14h0m7-7h0m16 6h0m10-4h0m8 3h0m4 0h0m7-7h0m1 8h0m4-3h0m5-5h0m7 6h0m1 4h0m0-5h0m0 1h0m1-2h0m15-3h0m0-1h0m9 4h0m1 6h0m12-6h0m0-1h0m1 2h0m0 5h0m0-10h0m13 7h0m4-5h0m1 1h0m3 4h0m13-1h0m2 2h0m18-2h0m37 0h0m28-2h0m4 2h0m64 0h0m30-5h0m100 7h0m-420 4h0m14 3h0m7-3h0m5 7h0m1-8h0m6 0h0m5 4h0m1-2h0m6 6h0m4-6h0m0 3h0m2-3h0m4 1h0m2 4h0m9-3h0m0-2h0m6 3h0m13-4h0m8-1h0m1 1h0m0 6h0m8 1h0m1-3h0m26-6h0m32 4h0m68-3h0m28 4h0m12-2h0m2 2h0m55-3h0m56 4h0m-452 9h0m90-3h0m2 7h0m6-1h0m6 2h0m2 0h0m16-10h0m3 4h0m1-3h0m1 4h0m0-2h0m0 7h0m1-1h0m3 0h0m3-6h0m1-3h0m1 6h0m4 2h0m0-7h0m0 9h0m3 0h0m1-2h0m0-6h0m2-1h0m2 8h0m0-9h0m2 5h0m3 3h0m1-3h0m2-4h0m3 7h0m5 0h0m8-4h0m3 5h0m0-7h0m0-1h0m7 9h0m2-7h0m6 5h0m15-2h0m3 4h0m14-1h0m2-9h0m53 1h0m25 4h0m22 5h0m39-8h0m78 4h0m9-3h0m57 3h0m-436 12h0m2-7h0m31 4h0m6 2h0m4 1h0m3-3h0m2-1h0m3 4h0m6-7h0m0 6h0m1 1h0m1 0h0m2 0h0m6-5h0m0 2h0m3-4h0m1 3h0m3 4h0m3 0h0m2 1h0m0 0h0m2-1h0m7 1h0m12-2h0m5-1h0m0-2h0m16 3h0m0 2h0m20-1h0m55-3h0m7 3h0m81 2h0m4 0h0m0-2h0m30-1h0m14-5h0m4 4h0m6 1h0m12 1h0m1-3h0m-359 14h0m20-6h0m8-3h0m8 7h0m6-1h0m2-4h0m1 6h0m3-1h0m0-5h0m6 1h0m1 3h0m1 2h0m6 1h0m1-3h0m2 4h0m3-3h0m4-3h0m2 5h0m1-4h0m1 2h0m0 0h0m3-2h0m1 3h0m6 1h0m0 1h0m1-2h0m1-3h0m6 2h0m1-1h0m0-2h0m1 3h0m1 3h0m1-4h0m1-2h0m5-3h0m4 7h0m2-1h0m3-6h0m7 6h0m7-4h0m73 0h0m10 6h0m71-8h0m44 8h0m8 0h0m54-4h0m8-1h0m37-2h0m-470 18h0m54-8h0m5 2h0m12 5h0m2-7h0m5 6h0m1-4h0m0 0h0m1 3h0m1-2h0m1 2h0m2-3h0m4 4h0m1-1h0m0 2h0m2-4h0m1-4h0m2 1h0m1 6h0m4 1h0m5-5h0m0 2h0m2-6h0m1 4h0m2-3h0m1 3h0m0 5h0m4-9h0m0 6h0m4 0h0m2-3h0m0 4h0m6-3h0m4 3h0m4-2h0m6-4h0m0 6h0m1-5h0m1 2h0m0 2h0m1-4h0m10 6h0m0-2h0m3-1h0m2 4h0m8-6h0m3 1h0m9-2h0m3 1h0m11-2h0m36 3h0m15 0h0m5 6h0m19-5h0m1-4h0m33 5h0m60 4h0m27-7h0m10 0h0m2-2h0m11 1h0m13 6h0m21-4h0m8-3h0m-451 12h0m39 1h0m23-3h0m2 6h0m1-4h0m2-3h0m6 6h0m0 3h0m3-5h0m3-2h0m6-1h0m2 3h0m5 4h0m1-8h0m1 0h0m1 4h0m5 0h0m0-1h0m5-2h0m0 7h0m0 1h0m1-8h0m1 0h0m1 6h0m3-5h0m1 6h0m1 0h0m1 2h0m2-10h0m2 8h0m0-5h0m3 6h0m5-4h0m1 4h0m5-6h0m1 4h0m0-6h0m1 7h0m1-1h0m1-6h0m2 6h0m2-4h0m17 6h0m7-2h0m6 0h0m4-5h0m10-1h0m30 6h0m9-5h0m45 2h0m25 5h0m83 0h0m41-5h0m41 1h0m7 1h0m53-4h0m-455 11h0m4 6h0m1-1h0m2-7h0m1 6h0m1-7h0m5 10h0m6-9h0m2 4h0m9 0h0m1-1h0m0 3h0m0-1h0m2 2h0m1-1h0m2 2h0m2-5h0m2 4h0m1-3h0m1-1h0m3 3h0m0-7h0m4 4h0m3 0h0m0-3h0m2 7h0m0-3h0m2 3h0m3-2h0m1-5h0m1 4h0m1 3h0m5 1h0m0-7h0m0 7h0m0-7h0m2 6h0m3 1h0m1-5h0m0 5h0m3-3h0m1-4h0m6 5h0m7 1h0m0-4h0m6 4h0m1-2h0m2-1h0m1-3h0m143 7h0m44-3h0m16-5h0m4 5h0m45-1h0m-355 15h0m12-6h0m6 4h0m2 1h0m2-8h0m12 0h0m1 6h0m4-7h0m0 5h0m2 4h0m1-3h0m1-1h0m0-2h0m1-1h0m0 5h0m5 2h0m1-8h0m0 7h0m3-3h0m1 3h0m1-6h0m5 6h0m3-6h0m3 5h0m1-7h0m1 5h0m3 0h0m2 4h0m0-9h0m1 2h0m6 4h0m0 2h0m5-8h0m4 6h0m1 1h0m1 2h0m3-2h0m19-5h0m12 7h0m4 0h0m9-1h0m97-6h0m22 5h0m51 2h0m6-4h0m30 3h0m20 1h0m-377 8h0m13-7h0m8 2h0m0 3h0m2 1h0m13 2h0m0 1h0m1-5h0m2 6h0m1-9h0m0 8h0m0-6h0m2 5h0m0-8h0m2 5h0m2-5h0m0 5h0m2 2h0m1-4h0m2 5h0m1 1h0m6-2h0m4-5h0m0 5h0m0-7h0m1 1h0m0-1h0m2 2h0m1 3h0m1 3h0m2-2h0m1-1h0m0 2h0m4-5h0m2 0h0m1 8h0m2-10h0m1 3h0m1 4h0m1 2h0m5-5h0m0-4h0m0 8h0m1-3h0m3-5h0m0 3h0m0 3h0m5 2h0m1-7h0m1-1h0m1 2h0m5 8h0m1-10h0m0 5h0m12-3h0m5 1h0m13 3h0m10-3h0m6 6h0m46-1h0m79-2h0m13 0h0m20-2h0m12 4h0m-368 12h0m71 0h0m0-2h0m13 1h0m4-4h0m7-3h0m5-1h0m0-1h0m3 4h0m0-1h0m0 4h0m4-5h0m1 5h0m0-4h0m1-3h0m0 0h0m2 0h0m2 4h0m2-4h0m4 2h0m3 5h0m0 2h0m1-7h0m2 1h0m1 3h0m3-4h0m1-2h0m1 4h0m2 1h0m3 4h0m4-2h0m3-7h0m11 3h0m2-3h0m3 0h0m2 6h0m56 1h0m6-5h0m45 7h0m48-2h0m0-5h0m44-1h0m51 6h0m5-4h0m14 5h0m9-1h0m40 0h0m-421 6h0m6 6h0m1-5h0m17-3h0m3-1h0m10 5h0m3 0h0m4-1h0m3-3h0m3 0h0m1 1h0m0-1h0m0-1h0m5 4h0m0 6h0m1-6h0m2 1h0m0 1h0m0 3h0m0-5h0m1-1h0m1 0h0m1-1h0m1 6h0m5-5h0m1 0h0m3 6h0m6-7h0m6-1h0m5 7h0m8-8h0m4 2h0m6-2h0m1 1h0m6 4h0m4 3h0m14 1h0m36-9h0m4 5h0m12-1h0m29 6h0m1-7h0m58 1h0m58 0h0m7 0h0m16 2h0m22-5h0m1 3h0m-370 8h0m1 4h0m6-2h0m0 1h0m9 2h0m2 0h0m4 0h0m0-2h0m3-4h0m6 1h0m3 1h0m0 2h0m2-4h0m1 3h0m3 2h0m0 3h0m4-8h0m2 8h0m1-2h0m1-6h0m1 5h0m3-5h0m3 7h0m0-6h0m1 6h0m0-1h0m2 1h0m1-1h0m1-4h0m1 2h0m4 5h0m1-6h0m1 6h0m2-8h0m2 4h0m1-6h0m1 3h0m2 0h0m0 6h0m0-6h0m1-2h0m3 0h0m1 8h0m18-7h0m22 5h0m0-2h0m40-2h0m18-3h0m101 0h0m13 7h0m14-4h0m39-1h0m41 3h0m-373 15h0m13-9h0m7 5h0m5 0h0m2-6h0m1 8h0m3-2h0m2-1h0m0-1h0m6 1h0m0-2h0m2-3h0m1 1h0m0 1h0m2-2h0m2 3h0m3-2h0m2 4h0m5 1h0m4-6h0m2 4h0m0-1h0m0 7h0m2-10h0m2 8h0m1 0h0m6-3h0m8 3h0m2-3h0m11 1h0m11-5h0m40 0h0m4 4h0m12-4h0m24 6h0m94-4h0m39-1h0m7 4h0m24-1h0m7 1h0m23-5h0m-470 17h0m73-5h0m6 1h0m14 0h0m3 3h0m4 2h0m5-1h0m1-5h0m1-1h0m6 7h0m7-5h0m8-3h0m4-1h0m5 1h0m2 1h0m4 0h0m4 6h0m0-3h0m1 1h0m1-4h0m1 1h0m0 5h0m9-6h0m2 8h0m1-4h0m8 0h0m9-5h0m22 3h0m57 3h0m8-6h0m47 8h0m59-6h0m25 4h0m8-6h0m3-1h0m36 5h0m-448 9h0m84 5h0m5-2h0m16-2h0m5-5h0m1 6h0m7 0h0m10-2h0m0-3h0m5 9h0m4-4h0m6-1h0m25 1h0m6-3h0m2 3h0m7-4h0m52 3h0m139 3h0m35-3h0m10-1h0m10 2h0m0-5h0m28 2h0m2 0h0m-376 9h0m22 6h0m8-6h0m1 3h0m3 4h0m4-2h0m18-2h0m8-3h0m9 2h0m1-2h0m5 7h0m3-9h0m1 5h0m3 5h0m51-1h0m1-1h0m4 1h0m146-6h0m26 0h0m13-3h0m11 4h0m48 0h0m-489 13h0m27-6h0m88 1h0m21 0h0m3 5h0m23-5h0m13 3h0m28-2h0m84-2h0m125 1h0m42 4h0m14 2h0m17 0h0m-381 8h0m9 2h0m21-2h0m5-2h0m5 4h0m8-3h0m3-2h0m10-1h0m72 4h0m71 2h0m42-1h0m48 2h0m44-5h0m9-1h0m38-1h0m-442 16h0m53-7h0m22 8h0m5-6h0m5-2h0m5 9h0m3-10h0m1 1h0m3 1h0m2 6h0m13-4h0m1 4h0m14-8h0m1 4h0m2 4h0m0-4h0m23 1h0m74 0h0m59 0h0m74 3h0m19 1h0m42-2h0m0-6h0m-354 17h0m8-3h0m4-4h0m4 0h0m19-1h0m22 7h0m1 3h0m10-7h0m28 6h0m30 1h0m152-3h0m81 0h0m2-5h0m0 6h0m5-3h0m4 1h0m3 2h0m21-5h0m7 4h0m-446 8h0m36 3h0m6-4h0m4 1h0m24-4h0m13 8h0m20-3h0m218 1h0m8-1h0m13 2h0m6-6h0m4 0h0m7 4h0m3-2h0m3 0h0m24-2h0m-372 15h0m18-7h0m11 6h0m16 1h0m1-1h0m18 0h0m38 0h0m6 2h0m203-3h0m6 3h0m1-6h0m21 6h0m11-7h0m14-1h0m3 5h0m5 3h0m6-3h0m13-4h0m-397 10h0m3-1h0m8 1h0m9 0h0m19 2h0m22 1h0m2-4h0m60 6h0m46-4h0m56 5h0m75 1h0m6 1h0m8 1h0m36-4h0m3-1h0m16 2h0m6-1h0m2-6h0m10 6h0m19-2h0m20-2h0m-468 10h0m19 5h0m16-2h0m13 1h0m5 1h0m4-4h0m2-1h0m9-2h0m7 6h0m13 0h0m1-2h0m3 4h0m7-1h0m2-7h0m6 6h0m2 4h0m2-6h0m13-2h0m0 1h0m207-2h0m52 0h0m6 7h0m12-6h0m4 5h0m5-2h0m15 2h0m15-6h0m13 0h0m3 4h0m1-1h0m11-1h0m0 4h0m-418 7h0m7 6h0m2-2h0m8-1h0m0-1h0m2 2h0m5 1h0m4-4h0m8 5h0m18-10h0m7 2h0m18 3h0m7 4h0m247-4h0m3-5h0m8 5h0m1-4h0m1 7h0m1 0h0m3 0h0m1 0h0m5-3h0m6-3h0m9 4h0m13 3h0m1-2h0m1-1h0m5 4h0m43-2h0m-543 3h0m98 7h0m24-2h0m14-6h0m1 9h0m2-7h0m1-1h0m0 7h0m3-5h0m21-2h0m6 5h0m1-2h0m5-2h0m5 3h0m156 1h0m107 0h0m0-1h0m10 2h0m4 2h0m1-6h0m2 4h0m1-7h0m10 4h0m2-2h0m10-1h0m21 1h0m6 0h0m6 4h0m21 3h0m-412 9h0m5-3h0m2 1h0m12-2h0m9-2h0m7 4h0m10-3h0m2 4h0m3-2h0m1-2h0m0-3h0m17 7h0m24-2h0m14-1h0m33-1h0m185 6h0m4-3h0m2-5h0m0 1h0m1-1h0m28 5h0m17 0h0m7-3h0m4-1h0m12 7h0m-390 4h0m3 6h0m2-4h0m8 2h0m4 1h0m7-2h0m1-1h0m3 2h0m230-1h0m31-4h0m10 1h0m15 6h0m1-9h0m6 7h0m5-5h0m4 3h0m5 4h0m8-4h0m2 0h0m9 1h0m2-4h0m2 5h0m6-7h0m5 7h0m3-1h0m8-1h0m22 4h0m22-7h0m-475 11h0m26 5h0m2 0h0m20-4h0m1 5h0m3-7h0m3 5h0m1-5h0m6 2h0m3 3h0m4-4h0m10-2h0m1 7h0m3-2h0m5 1h0m35-7h0m12 2h0m86 4h0m46 1h0m67-5h0m9 2h0m7 3h0m8-3h0m9-3h0m4 3h0m3-4h0m1 7h0m2 3h0m1-1h0m18-4h0m0 3h0m12 0h0m1-5h0m0 5h0m5-2h0m2-2h0m8-2h0m3 3h0m16-2h0m2 3h0m46 3h0m-482 5h0m18 6h0m9-6h0m0 1h0m2 5h0m17-8h0m0 5h0m8 0h0m11 1h0m1-1h0m0-5h0m8 5h0m3-3h0m2 2h0m13-2h0m4-2h0m4 0h0m16 4h0m195 4h0m12-7h0m10 7h0m25-7h0m0 1h0m3 2h0m1-3h0m3 1h0m2-3h0m2 5h0m1-2h0m1 2h0m0-4h0m2 0h0m6 7h0m2-6h0m4 2h0m0-2h0m0-2h0m3 1h0m3 2h0m1-1h0m1 5h0m8 0h0m5 0h0m11 0h0m0 2h0m2-8h0m3-1h0m1 4h0m0 4h0m1-7h0m8 4h0m19-1h0m-464 11h0m45 1h0m4-6h0m2 9h0m1-4h0m3-1h0m6-5h0m3 7h0m2-6h0m0-1h0m1 8h0m11 2h0m3-2h0m6 2h0m12-9h0m22 6h0m2-3h0m6 6h0m4-1h0m11 0h0m183-7h0m37 6h0m5-4h0m1-3h0m6 8h0m4-8h0m17 0h0m4 7h0m1-1h0m8-2h0m4 0h0m3 4h0m1-2h0m1-1h0m6-3h0m5 1h0m0 0h0m3 5h0m0 0h0m2-3h0m4 3h0m6-9h0m7 7h0m8 2h0m12-9h0m-434 18h0m3-3h0m10-1h0m1-1h0m0 5h0m9-3h0m1 1h0m8 0h0m6 3h0m3-2h0m7-5h0m2 2h0m0 5h0m1-7h0m3 5h0m0 0h0m3 2h0m1-3h0m1-1h0m2 3h0m2-8h0m8 6h0m2 4h0m199-5h0m27-2h0m3 4h0m7 3h0m7-5h0m5 2h0m0-3h0m4-4h0m4 10h0m2-2h0m7-6h0m1-1h0m0 7h0m7-1h0m2-3h0m2 5h0m4-2h0m3-3h0m0-2h0m0 4h0m1 3h0m2-8h0m3 5h0m0 3h0m5-9h0m0 7h0m5-4h0m1 0h0m6-1h0m1 3h0m0-2h0m2 5h0m2-1h0m0-5h0m0-1h0m1 7h0m0-1h0m2-2h0m3-3h0m1-2h0m2 9h0m1-1h0m2-3h0m14 0h0m1-3h0m15 0h0m8-2h0m5 8h0m-463 5h0m9 2h0m20 4h0m0-4h0m13-3h0m3 0h0m20-2h0m9 4h0m2-3h0m11 8h0m12-1h0m4-7h0m185 0h0m25 8h0m7-8h0m8-1h0m7 5h0m16-4h0m2 7h0m11-1h0m3-2h0m9 2h0m4-1h0m4 3h0m2-2h0m2-5h0m5 1h0m2 0h0m0-3h0m4 8h0m4 0h0m11-7h0m6 2h0m1 0h0m1 6h0m5-3h0m5 0h0m1 2h0m5-6h0m12 4h0m2-6h0m-443 14h0m5 2h0m15-3h0m8 3h0m3-4h0m3 2h0m3 2h0m4-2h0m1-1h0m10 6h0m2-3h0m10-6h0m2 0h0m0 1h0m0 1h0m8 2h0m8 1h0m23-4h0m1 2h0m210-1h0m5-1h0m3 1h0m1 6h0m5-4h0m5 2h0m3 2h0m1 1h0m4-6h0m2 1h0m9 3h0m1-6h0m3 1h0m2 7h0m2-2h0m3-5h0m2-2h0m2 9h0m1-2h0m2-1h0m1 4h0m2-7h0m1-1h0m3 1h0m0-2h0m2 3h0m5 0h0m1 3h0m5 0h0m7 2h0m2-2h0m1 2h0m9 0h0m14-5h0m3 5h0m2-3h0m-433 10h0m6 4h0m24-4h0m4 1h0m5-5h0m1 3h0m3 4h0m5-1h0m6-5h0m5-1h0m1 6h0m2 2h0m6-2h0m2-4h0m4 4h0m11-7h0m4 6h0m2-4h0m112-3h0m122 8h0m3-2h0m14 1h0m4-2h0m7 0h0m8-1h0m5 1h0m1-4h0m7 7h0m2-5h0m1 1h0m2-3h0m2 7h0m16 2h0m1-4h0m1 0h0m8-4h0m13 2h0m10 0h0m14 1h0m-425 8h0m10 3h0m0-6h0m6 7h0m13-7h0m2 2h0m16 6h0m2-8h0m0 1h0m10 2h0m12 1h0m16-3h0m218 8h0m8 0h0m0-3h0m0 4h0m6-9h0m4 2h0m4-3h0m4 5h0m0-4h0m2 1h0m1 6h0m8 1h0m4-6h0m5-3h0m11 4h0m3 4h0m2-8h0m3 10h0m6-4h0m10 4h0m2-5h0m1-4h0m0 5h0m6 0h0m10 0h0m4 1h0m10-7h0m-441 18h0m15 1h0m12-4h0m1-4h0m12 7h0m6-1h0m7 0h0m4-7h0m1 4h0m1-1h0m14 6h0m1-7h0m1 3h0m27 0h0m14-2h0m4 2h0m196 4h0m4-6h0m2 0h0m12 7h0m16-7h0m5 7h0m2-7h0m2 7h0m2-5h0m15 1h0m1-3h0m2 3h0m7-3h0m2-1h0m1 5h0m8-5h0m0 3h0m2-3h0m1 1h0m1 7h0m4-4h0m12 2h0m0-7h0m0 2h0m1-2h0m3 8h0m1-4h0m1-1h0m11-1h0m-427 10h0m3 2h0m5-1h0m10 2h0m3 0h0m8 0h0m10 1h0m3-2h0m8 3h0m8-8h0m2 6h0m1 3h0m2-9h0m5 9h0m6-3h0m3-2h0m10-4h0m7 1h0m8 5h0m237-3h0m7-3h0m4 2h0m2 1h0m8 2h0m12-3h0m1 4h0m1-4h0m13 3h0m1-4h0m4 7h0m6 2h0m0-4h0m13-4h0m9 4h0m2-4h0m9 5h0m-403 8h0m3-5h0m8 9h0m8-4h0m6 1h0m8-4h0m3 4h0m0-3h0m10-1h0m1 3h0m17 1h0m211 1h0m10 2h0m5-5h0m10-2h0m4 7h0m1-3h0m10-1h0m1-2h0m6-3h0m0 7h0m3-1h0m11-4h0m2 6h0m1-6h0m4 3h0m2-1h0m0 2h0m11-5h0m7 1h0m3 1h0m1 7h0m12-6h0m7 5h0m3-7h0m14 6h0m6-8h0m0 5h0m43-4h0m-484 14h0m34 4h0m6-8h0m2 0h0m0 4h0m4 5h0m1-10h0m3 2h0m3 0h0m0 1h0m2 6h0m10-6h0m4-1h0m8 8h0m1 0h0m1-7h0m17 6h0m207-7h0m32 7h0m7-8h0m20 3h0m0 5h0m3-5h0m4-1h0m2 7h0m1-3h0m1 0h0m2 3h0m1-1h0m15-1h0m2-3h0m16-3h0m12 2h0m2-3h0m1 8h0m0-4h0m0-4h0m2 2h0m1 5h0m8-6h0m2 0h0m6 5h0m1-2h0m12-2h0m15 0h0m-466 13h0m21 3h0m12-4h0m0 3h0m7 2h0m5-1h0m11-5h0m230-2h0m55 3h0m6-4h0m11 5h0m3-5h0m4 8h0m11-6h0m3 3h0m8-4h0m2 4h0m1 3h0m1-8h0m3 1h0m5 6h0m7 1h0m18-9h0m1 4h0m3 0h0m11 0h0m31 5h0m-455 9h0m25-7h0m1 4h0m3 4h0m6-7h0m10-1h0m0 6h0m23-5h0m260-1h0m3 7h0m17 0h0m1 0h0m8-1h0m17 0h0m16-3h0m8 1h0m18-3h0m5 2h0m8-3h0m-436 14h0m1-3h0m15 3h0m1-4h0m20 4h0m10-4h0m4 2h0m39 1h0m227 5h0m13 1h0m2-2h0m11-7h0m21 7h0m3-1h0m10 3h0m0-5h0m1 0h0m16-3h0m11 7h0m11-7h0m-409 18h0m2-4h0m385 2h0m3-3h0m5 4h0m2-3h0m5 4h0m6-4h0m2-3h0m20-2h0m-395 14h0m3-4h0m7 6h0m0-3h0m268-2h0m5 1h0m15-1h0m6 1h0m10 3h0m1 4h0m1-10h0m8 4h0m10 1h0m34 5h0m-419 9h0m22 0h0m33-3h0m293 0h0m23-5h0m0 6h0m13-1h0m23-1h0m2-1h0m70 4h0m-469 4h0m28 6h0m40-4h0m25 6h0m233-10h0m14 5h0m36-1h0m61 3h0m-450 7h0m43-3h0m13 4h0m12-1h0m337 6h0m14-2h0m-392 2h0m32 4h0m14 5h0m369-8h0m13 8h0m-399 3h0m342-2h0m26 0h0m-395 18h0m49-5h0m318 5h0m73-8h0m-86 11h0m30 3h0" stroke="#000" stroke-opacity="0.7" stroke-width="7.0" stroke-linecap="square" fill="none"/>
<rect x="440.5" y="165.8" width="73.20000000000005" height="76.0" fill="none" stroke="#000" stroke-width="1.3"/>
<line x1="437.7" y1="170.1" x2="440.5" y2="170.1" stroke="#000" stroke-width="0.9" />
<text x="436.9" y="172.29999999999998" font-size="6.3" text-anchor="end" stroke="#000" stroke-width="0.12" fill="#000" >10<tspan dy="-2.2" font-size="4.2">6</tspan></text>
<line x1="437.7" y1="187" x2="440.5" y2="187" stroke="#000" stroke-width="0.9" />
<text x="436.9" y="189.2" font-size="6.3" text-anchor="end" stroke="#000" stroke-width="0.12" fill="#000" >10<tspan dy="-2.2" font-size="4.2">5</tspan></text>
<line x1="437.7" y1="204.6" x2="440.5" y2="204.6" stroke="#000" stroke-width="0.9" />
<text x="436.9" y="206.79999999999998" font-size="6.3" text-anchor="end" stroke="#000" stroke-width="0.12" fill="#000" >10<tspan dy="-2.2" font-size="4.2">4</tspan></text>
<line x1="437.7" y1="223" x2="440.5" y2="223" stroke="#000" stroke-width="0.9" />
<text x="436.9" y="225.2" font-size="6.3" text-anchor="end" stroke="#000" stroke-width="0.12" fill="#000" >10<tspan dy="-2.2" font-size="4.2">3</tspan></text>
<line x1="437.7" y1="241.4" x2="440.5" y2="241.4" stroke="#000" stroke-width="0.9" />
<text x="436.9" y="243.6" font-size="6.3" text-anchor="end" stroke="#000" stroke-width="0.12" fill="#000" >10<tspan dy="-2.2" font-size="4.2">2</tspan></text>
<line x1="459" y1="241.8" x2="459" y2="244.60000000000002" stroke="#000" stroke-width="0.9" />
<text x="459.2" y="252.4" font-size="6.3" text-anchor="middle" textLength="3.65" lengthAdjust="spacingAndGlyphs" stroke="#000" stroke-width="0.12" fill="#000" >0</text>
<line x1="483.6" y1="241.8" x2="483.6" y2="244.60000000000002" stroke="#000" stroke-width="0.9" />
<text x="483.8" y="252.4" font-size="6.3" text-anchor="middle" stroke="#000" stroke-width="0.12" fill="#000" >10<tspan dy="-2.2" font-size="4.2">4</tspan></text>
<line x1="500.5" y1="241.8" x2="500.5" y2="244.60000000000002" stroke="#000" stroke-width="0.9" />
<text x="500.7" y="252.4" font-size="6.3" text-anchor="middle" stroke="#000" stroke-width="0.12" fill="#000" >10<tspan dy="-2.2" font-size="4.2">5</tspan></text>
<line x1="438.6" y1="235.86" x2="440.5" y2="235.86" stroke="#000" stroke-width="0.85" />
<line x1="438.6" y1="232.62" x2="440.5" y2="232.62" stroke="#000" stroke-width="0.85" />
<line x1="438.6" y1="230.32" x2="440.5" y2="230.32" stroke="#000" stroke-width="0.85" />
<line x1="438.6" y1="228.54" x2="440.5" y2="228.54" stroke="#000" stroke-width="0.85" />
<line x1="438.6" y1="227.08" x2="440.5" y2="227.08" stroke="#000" stroke-width="0.85" />
<line x1="438.6" y1="225.85" x2="440.5" y2="225.85" stroke="#000" stroke-width="0.85" />
<line x1="438.6" y1="224.78" x2="440.5" y2="224.78" stroke="#000" stroke-width="0.85" />
<line x1="438.6" y1="223.84" x2="440.5" y2="223.84" stroke="#000" stroke-width="0.85" />
<line x1="438.6" y1="217.46" x2="440.5" y2="217.46" stroke="#000" stroke-width="0.85" />
<line x1="438.6" y1="214.22" x2="440.5" y2="214.22" stroke="#000" stroke-width="0.85" />
<line x1="438.6" y1="211.92" x2="440.5" y2="211.92" stroke="#000" stroke-width="0.85" />
<line x1="438.6" y1="210.14" x2="440.5" y2="210.14" stroke="#000" stroke-width="0.85" />
<line x1="438.6" y1="208.68" x2="440.5" y2="208.68" stroke="#000" stroke-width="0.85" />
<line x1="438.6" y1="207.45" x2="440.5" y2="207.45" stroke="#000" stroke-width="0.85" />
<line x1="438.6" y1="206.38" x2="440.5" y2="206.38" stroke="#000" stroke-width="0.85" />
<line x1="438.6" y1="205.44" x2="440.5" y2="205.44" stroke="#000" stroke-width="0.85" />
<line x1="438.6" y1="199.3" x2="440.5" y2="199.3" stroke="#000" stroke-width="0.85" />
<line x1="438.6" y1="196.2" x2="440.5" y2="196.2" stroke="#000" stroke-width="0.85" />
<line x1="438.6" y1="194.0" x2="440.5" y2="194.0" stroke="#000" stroke-width="0.85" />
<line x1="438.6" y1="192.3" x2="440.5" y2="192.3" stroke="#000" stroke-width="0.85" />
<line x1="438.6" y1="190.9" x2="440.5" y2="190.9" stroke="#000" stroke-width="0.85" />
<line x1="438.6" y1="189.73" x2="440.5" y2="189.73" stroke="#000" stroke-width="0.85" />
<line x1="438.6" y1="188.71" x2="440.5" y2="188.71" stroke="#000" stroke-width="0.85" />
<line x1="438.6" y1="187.81" x2="440.5" y2="187.81" stroke="#000" stroke-width="0.85" />
<line x1="438.6" y1="181.91" x2="440.5" y2="181.91" stroke="#000" stroke-width="0.85" />
<line x1="438.6" y1="178.94" x2="440.5" y2="178.94" stroke="#000" stroke-width="0.85" />
<line x1="438.6" y1="176.83" x2="440.5" y2="176.83" stroke="#000" stroke-width="0.85" />
<line x1="438.6" y1="175.19" x2="440.5" y2="175.19" stroke="#000" stroke-width="0.85" />
<line x1="438.6" y1="173.85" x2="440.5" y2="173.85" stroke="#000" stroke-width="0.85" />
<line x1="438.6" y1="172.72" x2="440.5" y2="172.72" stroke="#000" stroke-width="0.85" />
<line x1="438.6" y1="171.74" x2="440.5" y2="171.74" stroke="#000" stroke-width="0.85" />
<line x1="438.6" y1="170.87" x2="440.5" y2="170.87" stroke="#000" stroke-width="0.85" />
<line x1="444" y1="241.8" x2="444" y2="243.70000000000002" stroke="#000" stroke-width="0.85" />
<line x1="448" y1="241.8" x2="448" y2="243.70000000000002" stroke="#000" stroke-width="0.85" />
<line x1="452" y1="241.8" x2="452" y2="243.70000000000002" stroke="#000" stroke-width="0.85" />
<line x1="455" y1="241.8" x2="455" y2="243.70000000000002" stroke="#000" stroke-width="0.85" />
<line x1="463" y1="241.8" x2="463" y2="243.70000000000002" stroke="#000" stroke-width="0.85" />
<line x1="467" y1="241.8" x2="467" y2="243.70000000000002" stroke="#000" stroke-width="0.85" />
<line x1="471" y1="241.8" x2="471" y2="243.70000000000002" stroke="#000" stroke-width="0.85" />
<line x1="475" y1="241.8" x2="475" y2="243.70000000000002" stroke="#000" stroke-width="0.85" />
<line x1="479" y1="241.8" x2="479" y2="243.70000000000002" stroke="#000" stroke-width="0.85" />
<line x1="488.69" y1="241.8" x2="488.69" y2="243.70000000000002" stroke="#000" stroke-width="0.85" />
<line x1="491.66" y1="241.8" x2="491.66" y2="243.70000000000002" stroke="#000" stroke-width="0.85" />
<line x1="493.77" y1="241.8" x2="493.77" y2="243.70000000000002" stroke="#000" stroke-width="0.85" />
<line x1="495.41" y1="241.8" x2="495.41" y2="243.70000000000002" stroke="#000" stroke-width="0.85" />
<line x1="496.75" y1="241.8" x2="496.75" y2="243.70000000000002" stroke="#000" stroke-width="0.85" />
<line x1="497.88" y1="241.8" x2="497.88" y2="243.70000000000002" stroke="#000" stroke-width="0.85" />
<line x1="482.3" y1="165.8" x2="482.3" y2="241.8" stroke="#000" stroke-width="1.0" />
<line x1="440.5" y1="203.9" x2="513.7" y2="203.9" stroke="#000" stroke-width="1.0" />
<rect x="443.10" y="168.41" width="9.74" height="6.29" fill="#fff"/>
<text x="443.5" y="173.5" font-size="6.7" stroke="#000" stroke-width="0.12" fill="#000" >Q1</text>
<rect x="443.10" y="176.91" width="13.84" height="6.29" fill="#fff"/>
<text x="443.5" y="182" font-size="6.7" stroke="#000" stroke-width="0.12" fill="#000" >66.9</text>
<rect x="501.66" y="168.41" width="9.74" height="6.29" fill="#fff"/>
<text x="511" y="173.5" font-size="6.7" text-anchor="end" stroke="#000" stroke-width="0.12" fill="#000" >Q2</text>
<rect x="497.56" y="176.91" width="13.84" height="6.29" fill="#fff"/>
<text x="511" y="182" font-size="6.7" text-anchor="end" stroke="#000" stroke-width="0.12" fill="#000" >3.89</text>
<rect x="443.10" y="222.41" width="9.74" height="6.29" fill="#fff"/>
<text x="443.5" y="227.5" font-size="6.7" stroke="#000" stroke-width="0.12" fill="#000" >Q4</text>
<rect x="443.10" y="230.91" width="13.84" height="6.29" fill="#fff"/>
<text x="443.5" y="236" font-size="6.7" stroke="#000" stroke-width="0.12" fill="#000" >9.34</text>
<rect x="501.66" y="222.41" width="9.74" height="6.29" fill="#fff"/>
<text x="511" y="227.5" font-size="6.7" text-anchor="end" stroke="#000" stroke-width="0.12" fill="#000" >Q3</text>
<rect x="497.56" y="230.91" width="13.84" height="6.29" fill="#fff"/>
<text x="511" y="236" font-size="6.7" text-anchor="end" stroke="#000" stroke-width="0.12" fill="#000" >19.9</text>
<text x="483.5" y="260.8" font-size="7.2" text-anchor="middle" font-weight="bold" textLength="60" lengthAdjust="spacingAndGlyphs" fill="#000" >Comp-FL6-H :: CD4 BV605-H</text>
<text transform="translate(424.6,206.9) rotate(-90)" font-size="6.4" text-anchor="middle" font-weight="bold" textLength="58.4" lengthAdjust="spacingAndGlyphs">Comp-FL8-H :: CD8 BV421-H</text>
<text x="7.2" y="162.2" font-size="11.4" font-weight="bold" fill="#000" >B</text>
<line x1="28.5" y1="268.7" x2="513.6" y2="268.7" stroke="#000" stroke-width="1.1" />
<line x1="28.5" y1="268.2" x2="28.5" y2="282.8" stroke="#000" stroke-width="1.1" />
<line x1="513.6" y1="268.2" x2="513.6" y2="282.8" stroke="#000" stroke-width="1.1" />
<line x1="452.4" y1="201.7" x2="452.4" y2="268.7" stroke="#000" stroke-width="1.1" />
<text x="73.9" y="282.4" font-size="9" text-anchor="middle" font-weight="bold" fill="#000" >Actin</text>
<text x="171.8" y="282.4" font-size="9" text-anchor="middle" font-weight="bold" fill="#000" >SEB</text>
<text x="270.8" y="282.4" font-size="9" text-anchor="middle" font-weight="bold" fill="#000" >WT1</text>
<text x="369.3" y="282.4" font-size="9" text-anchor="middle" font-weight="bold" fill="#000" >PRAME</text>
<text x="466.9" y="282.4" font-size="9" text-anchor="middle" font-weight="bold" fill="#000" >Survivin</text>
<text x="18.6" y="321.6" font-size="7.4" text-anchor="middle" stroke="#000" stroke-width="0.1" fill="#000" >P6</text>
<text x="18.6" y="391.4" font-size="7.4" text-anchor="middle" stroke="#000" stroke-width="0.1" fill="#000" >P9</text>
<line x1="26.6" y1="299" x2="26.6" y2="421" stroke="#000" stroke-width="1.1" />
<path d="M24.5 300L26.6 295.6L28.7 300Z" fill="#000" stroke="#000" stroke-width="0.5"/>
<text transform="translate(29.2,436.2) rotate(-90)" font-size="7.4" text-anchor="middle" textLength="21.3" lengthAdjust="spacingAndGlyphs">TNF-α</text>
<text x="34.4" y="461.6" font-size="7.4" fill="#000" >IFN-γ</text>
<line x1="58" y1="460.2" x2="504" y2="460.2" stroke="#000" stroke-width="1.1" />
<path d="M503.5 457.9L508 460.2L503.5 462.5Z" fill="#000" stroke="#000" stroke-width="0.5"/>
<ellipse cx="58.6" cy="350.5" rx="3.2" ry="6.2" fill="#000" fill-opacity="0.9" transform="rotate(0 58.6 350.5)" filter="url(#bl1_6)"/>
<path transform="scale(0.1)" d="M739 3041h0m-149 8h0m108 14h0m65 11h0m-19 28h0m99 0h0m-196 13h0m3 9h0m68 3h0m-29 24h0m75-3h0m27 16h0m34 37h0m-211 17h0m-41 16h0m32 15h0m102 15h0m-106 2h0m-19 19h0m21 4h0m16 7h0m-62 13h0m13 2h0m24-4h0m2 0h0m22-1h0m18 6h0m-85 6h0m38 6h0m1-1h0m-28 5h0m12 3h0m6 1h0m11-5h0m9 4h0m0-1h0m8-1h0m9 5h0m-47 9h0m0-5h0m14 6h0m2-2h0m4-2h0m19-5h0m20 9h0m37-9h0m-91 11h0m4 0h0m14 7h0m1-1h0m7-2h0m6 4h0m9-6h0m10 1h0m9 0h0m-116 10h0m33 6h0m9-6h0m4-1h0m18 5h0m2 0h0m1-2h0m0 2h0m16 1h0m2-5h0m0 2h0m12 2h0m19 2h0m-87 9h0m1-4h0m22 2h0m6-7h0m5 6h0m0-4h0m6 3h0m4 5h0m6-9h0m0 1h0m3 3h0m3-1h0m6 1h0m11-2h0m3 1h0m4-3h0m6 5h0m3 0h0m-89 4h0m21 3h0m4-1h0m0 0h0m1 4h0m3 2h0m1-1h0m5-6h0m6 2h0m0 1h0m3 4h0m4-3h0m3 4h0m3-8h0m8 4h0m3-2h0m-59 10h0m9 1h0m1 3h0m4-3h0m10-2h0m6 3h0m4 4h0m9-2h0m0-2h0m3 5h0m4-6h0m5 3h0m1 1h0m1-2h0m5 0h0m10 0h0m0 1h0m-73 3h0m4 3h0m12 6h0m2-5h0m2-2h0m3 5h0m4 1h0m1-1h0m6-5h0m3 1h0m1 4h0m0-2h0m1 0h0m3-1h0m0-2h0m9 0h0m3 3h0m1-2h0m7-1h0m3 4h0m3 1h0m2 1h0m5 1h0m-86 5h0m10 5h0m4 0h0m4-8h0m10 0h0m4 6h0m6 1h0m0-5h0m5 4h0m1 2h0m0-2h0m1 0h0m1-7h0m2 10h0m1-2h0m3-7h0m9 6h0m3-4h0m7 6h0m5-5h0m5-1h0m0-1h0m15 6h0m8 0h0m-123 11h0m19-5h0m1-1h0m9 7h0m1-7h0m1-3h0m1 8h0m2-2h0m2-4h0m0 4h0m4-3h0m5 4h0m9-4h0m0 0h0m2 2h0m11-1h0m2-3h0m1 3h0m1 1h0m1 2h0m3 1h0m2-5h0m2 4h0m5-4h0m4 6h0m2-4h0m7 0h0m28 0h0m8-5h0m-117 17h0m8-1h0m0-1h0m1 4h0m2-3h0m0 0h0m9 1h0m2-6h0m3 0h0m2 7h0m1-6h0m1 5h0m3 3h0m3-9h0m3 5h0m1-1h0m0 5h0m1-8h0m10-1h0m0 6h0m1-6h0m1 5h0m1 4h0m7-1h0m2-3h0m0-2h0m1 2h0m5-4h0m4 8h0m4-4h0m8 1h0m5-7h0m0 8h0m10-7h0m15 0h0m-139 15h0m3 1h0m18-3h0m16-4h0m6 7h0m6 2h0m6-3h0m1 0h0m3-2h0m0-1h0m2 5h0m6 0h0m9-1h0m1-6h0m1 7h0m1-4h0m4 2h0m2 1h0m3-7h0m3 5h0m1 3h0m9 0h0m4-1h0m2 1h0m1-1h0m0 1h0m32-4h0m-114 15h0m2-6h0m2 0h0m2 5h0m1 2h0m2-4h0m1 2h0m4-1h0m0 3h0m2-7h0m1 1h0m6-1h0m3 4h0m0-1h0m9 1h0m0-5h0m1 1h0m0-3h0m1 6h0m2 3h0m1-7h0m2-2h0m1 10h0m1-10h0m0 0h0m0 8h0m1-2h0m1 4h0m0-6h0m0 4h0m3 1h0m0 0h0m3 0h0m0-3h0m1-5h0m1 1h0m0 1h0m1 4h0m1-7h0m1 1h0m1 9h0m0-6h0m1-2h0m4 0h0m2 8h0m1-6h0m2 4h0m0-4h0m1 1h0m1 0h0m0 4h0m2-5h0m2-3h0m1 2h0m0 5h0m2-2h0m4-4h0m2-2h0m1 6h0m1-1h0m2 1h0m0 3h0m9-2h0m7-5h0m8 8h0m-126 7h0m2-2h0m2-2h0m3 5h0m1-8h0m1 7h0m3-2h0m5 1h0m4-3h0m2 6h0m1-6h0m1 3h0m3 2h0m0-5h0m0 1h0m2-2h0m1 6h0m1-5h0m1-3h0m1 8h0m2 1h0m4-1h0m1-4h0m1-1h0m1-3h0m1 7h0m1-1h0m1-3h0m4 5h0m1-5h0m0 4h0m1-3h0m1-3h0m5 4h0m3 2h0m2 2h0m4 0h0m0-2h0m1 0h0m1 0h0m0 1h0m1 2h0m1-2h0m3-4h0m3 2h0m3 1h0m1 1h0m1-3h0m1 3h0m2-5h0m1-2h0m0 6h0m1-5h0m5 3h0m1-2h0m0 6h0m0-6h0m2 5h0m1-2h0m1-6h0m1 6h0m1 1h0m1-3h0m1-2h0m4-1h0m3 9h0m0-7h0m10-2h0m18-1h0m-145 15h0m17 4h0m1-3h0m4 2h0m1 0h0m0-1h0m2-6h0m0 5h0m1 2h0m3-1h0m1-3h0m0 4h0m0-2h0m3-5h0m1 0h0m1 2h0m2 2h0m1-1h0m0 0h0m2-1h0m1 2h0m5-4h0m1 8h0m0-6h0m1 5h0m1 0h0m1-8h0m0 5h0m4 2h0m1-2h0m0 4h0m0-1h0m1-2h0m0-2h0m2 1h0m1-2h0m2-3h0m3 8h0m2-5h0m1 7h0m4-1h0m1 0h0m0 0h0m1-9h0m1 5h0m2-5h0m1 6h0m1 2h0m4-1h0m1 0h0m3-6h0m2 6h0m1 1h0m0 1h0m1-8h0m3 0h0m0 6h0m3 2h0m0 0h0m2 1h0m11-9h0m4 9h0m11-4h0m1 2h0m65 0h0m-167 4h0m0 3h0m6 1h0m0-3h0m1 7h0m1-7h0m4-3h0m3 1h0m1 0h0m2 0h0m4 2h0m0-2h0m0 0h0m1 5h0m0 1h0m4-3h0m2 4h0m2-5h0m0 3h0m1-6h0m1 5h0m1-2h0m1 0h0m1 4h0m1-3h0m2-2h0m0-1h0m1 0h0m3 6h0m0-4h0m1 0h0m0 2h0m1-2h0m3 6h0m0-7h0m0 8h0m1 0h0m0-4h0m1-2h0m0-2h0m0 0h0m2 7h0m1-9h0m0 1h0m1 2h0m0-1h0m1 1h0m0 6h0m1 1h0m3 0h0m0-1h0m1-8h0m0 8h0m3-2h0m3-6h0m3 1h0m2-1h0m2-1h0m0 6h0m4 1h0m1 0h0m2-3h0m0 3h0m4-3h0m1 3h0m2-3h0m1 4h0m0-5h0m12-3h0m7 2h0m6 7h0m0-8h0m-118 11h0m2 2h0m1 5h0m2-3h0m5 3h0m7 0h0m2-1h0m0-6h0m3 8h0m0-1h0m2-6h0m0-2h0m0 7h0m1-6h0m1 5h0m1-5h0m0-1h0m1 1h0m0 0h0m0 6h0m1-2h0m2-6h0m2 8h0m1-2h0m0 0h0m1-4h0m1 1h0m3 1h0m0-3h0m0 6h0m0 1h0m0 1h0m2-8h0m1 2h0m0 2h0m2 0h0m1-2h0m2 6h0m0-5h0m3 3h0m2-3h0m0 5h0m0-6h0m1 1h0m0-2h0m2 3h0m1-1h0m3-2h0m1 3h0m2-1h0m0 1h0m1 1h0m1-1h0m3-2h0m1 4h0m0-5h0m2 2h0m1 5h0m0-3h0m1-3h0m1 1h0m0 2h0m3-3h0m1 7h0m0-4h0m0 0h0m1-2h0m0 5h0m0 1h0m1-8h0m1 2h0m1-3h0m0 9h0m0-1h0m1-2h0m0-5h0m3 5h0m2 2h0m1-3h0m2 2h0m2 0h0m4 0h0m13-1h0m-110 9h0m10 2h0m1-7h0m6 2h0m1-1h0m0 4h0m0-3h0m1-3h0m1 2h0m0-1h0m2 1h0m1 4h0m2 0h0m0-2h0m2 0h0m1-1h0m1 5h0m3-1h0m1-4h0m2-1h0m1-1h0m2 0h0m1 1h0m0 3h0m2 4h0m1-6h0m1-1h0m0 3h0m0-3h0m2 5h0m0-4h0m1-2h0m0 9h0m0-6h0m0 2h0m5-4h0m0 5h0m2-4h0m0 3h0m2-4h0m0 3h0m1 2h0m0 1h0m1 2h0m5-4h0m1-3h0m0 1h0m0 5h0m2-3h0m1 1h0m0-1h0m1-5h0m2 5h0m1-3h0m1-1h0m1 2h0m1 4h0m0 0h0m0 1h0m2-7h0m0 5h0m1-5h0m1 4h0m1-4h0m4 0h0m3 7h0m1-5h0m1 5h0m1-7h0m2-1h0m1 6h0m3 0h0m6-6h0m0 8h0m2 0h0m0-1h0m4 0h0m5-1h0m23-6h0m-139 13h0m1 2h0m4-1h0m5 1h0m3-1h0m0 5h0m0-9h0m1 5h0m6 0h0m1-1h0m1-2h0m2 2h0m1 0h0m2-5h0m3 9h0m1 1h0m0-3h0m0-6h0m0 4h0m2 2h0m0-7h0m2 3h0m1 2h0m3 0h0m5-3h0m1 7h0m0-6h0m2-2h0m0 0h0m0 6h0m1-2h0m0 5h0m0-5h0m1 3h0m0-7h0m1 5h0m0 1h0m1-1h0m0 2h0m5-5h0m2 3h0m1 1h0m0-7h0m1 5h0m1 5h0m1-1h0m0-8h0m1 8h0m1-4h0m1-1h0m1 0h0m0-2h0m1-1h0m1 5h0m0-3h0m0 2h0m2-2h0m4 3h0m0-3h0m0 3h0m1-3h0m1 6h0m0-7h0m0-1h0m1 7h0m0 0h0m1 0h0m1-1h0m2-5h0m2 4h0m0 1h0m1-2h0m1 1h0m2 1h0m1 0h0m0 1h0m1-3h0m2 5h0m0-9h0m0 6h0m4 1h0m3-3h0m4-4h0m1 9h0m14 0h0m5-7h0m-118 12h0m5 1h0m0 2h0m6 0h0m0-2h0m1-2h0m1-1h0m2 4h0m1-2h0m0 1h0m2-3h0m6 5h0m2-6h0m0 6h0m0-4h0m2-3h0m3 7h0m0-7h0m3 2h0m0 7h0m1-9h0m2 1h0m1 5h0m1-4h0m3 4h0m0-3h0m0 5h0m1-3h0m0 2h0m1-3h0m1-3h0m1 1h0m0 6h0m0-5h0m0 2h0m4 0h0m1 0h0m0-5h0m0 3h0m2-3h0m1 6h0m1 3h0m1-1h0m0-9h0m3 3h0m1-2h0m2 6h0m0-4h0m1 5h0m2-6h0m0 0h0m1 0h0m1 0h0m0 7h0m0-9h0m1 1h0m0 9h0m3-3h0m1-6h0m2 3h0m0 1h0m1 4h0m1 1h0m3-3h0m3-5h0m0 3h0m5 2h0m2 1h0m0-4h0m0 0h0m8 1h0m1-2h0m2-1h0m4-2h0m9 8h0m12 2h0m6-4h0m6-4h0m7 5h0m-165 6h0m12 0h0m2 4h0m11-4h0m3 4h0m4 1h0m1-2h0m1-5h0m1 3h0m6-3h0m1 0h0m5 8h0m2 1h0m2-3h0m1-5h0m3 2h0m1 6h0m0 0h0m1-6h0m1-2h0m1 2h0m1 0h0m1-2h0m1 3h0m1 4h0m0-4h0m1-2h0m0-2h0m1 3h0m0 4h0m1-3h0m0-1h0m1 2h0m0-3h0m1-1h0m1 1h0m0 2h0m0-4h0m1 0h0m0 0h0m1 3h0m0 5h0m0-8h0m1 8h0m0-4h0m3 1h0m1 1h0m0-1h0m0-5h0m2 3h0m0 1h0m1 0h0m0-4h0m1 5h0m1 1h0m3-1h0m0-5h0m0 1h0m1 0h0m1 1h0m1-2h0m0 3h0m0 2h0m1-4h0m1 5h0m0-5h0m1 1h0m0-3h0m0 8h0m2 0h0m1-1h0m0-3h0m3-2h0m2 3h0m0 1h0m1-6h0m1 1h0m2 8h0m1-2h0m0 2h0m2-5h0m1-2h0m6 7h0m6-9h0m28 4h0m-139 10h0m20-1h0m3 3h0m1 1h0m1 1h0m6-5h0m0 4h0m5-7h0m1 3h0m0 6h0m2-8h0m0 1h0m2 8h0m1-5h0m2 2h0m2-1h0m3 1h0m3-4h0m3 2h0m0-5h0m2 4h0m0 3h0m1-4h0m0 0h0m1 6h0m7-8h0m1 3h0m1 0h0m1-4h0m1 3h0m0 1h0m0 2h0m0-1h0m1 4h0m1-1h0m1-1h0m4-2h0m1 4h0m0-5h0m1 2h0m0 0h0m0 3h0m1-9h0m0 7h0m0 1h0m1 2h0m2 0h0m1-8h0m1 5h0m1 2h0m1-4h0m2 5h0m1-9h0m1 0h0m2 6h0m2 2h0m2-4h0m0-5h0m1 5h0m0-2h0m0-2h0m1-1h0m0 2h0m2 1h0m1 3h0m1-5h0m0 5h0m4 1h0m6-2h0m14-2h0m-127 14h0m19 1h0m4-6h0m9 6h0m4-8h0m2 7h0m4 1h0m1-3h0m0-1h0m0 3h0m0-1h0m3-1h0m0-3h0m0 4h0m0 1h0m0-5h0m3 2h0m0 5h0m0 0h0m1-2h0m1 0h0m3-4h0m1 0h0m0-3h0m2 1h0m2 5h0m0-2h0m2 3h0m3-2h0m1-5h0m1 5h0m2 1h0m0-4h0m2 2h0m0-4h0m1 1h0m0 4h0m0 0h0m3-1h0m0-3h0m0 9h0m1-7h0m1-3h0m1 2h0m2 5h0m4 2h0m5-4h0m1-4h0m1 1h0m5 3h0m0 0h0m0 2h0m1-7h0m3 2h0m1 3h0m1 4h0m2-1h0m1-4h0m1 0h0m21 3h0m2-6h0m6 2h0m-142 15h0m34-5h0m3-2h0m1 5h0m1 1h0m0 1h0m1-7h0m6 0h0m1 2h0m1 4h0m2 3h0m0-6h0m0 5h0m1-5h0m0 4h0m2-4h0m3-1h0m0 3h0m1-1h0m1 2h0m0-3h0m0 3h0m0-3h0m1 2h0m1-4h0m1 7h0m3-3h0m3 1h0m2-6h0m2 0h0m2 3h0m1 3h0m2 2h0m1-3h0m1 0h0m5 3h0m0-3h0m3-1h0m3-1h0m0 0h0m2 1h0m4 1h0m0-4h0m2 7h0m2-8h0m2 1h0m1 3h0m8 1h0m2 1h0m1-1h0m0-1h0m1-4h0m1 1h0m2-1h0m10 4h0m3-4h0m57 1h0m-199 12h0m22-3h0m3 5h0m5-5h0m4 3h0m21 0h0m1 4h0m0-7h0m1-1h0m3 0h0m1 8h0m2-8h0m6 7h0m1 1h0m0-4h0m1-1h0m3 2h0m3-3h0m2 7h0m1-2h0m2 2h0m3 0h0m1-3h0m1-3h0m3 6h0m1-3h0m0-3h0m0 3h0m1-5h0m3-1h0m1 5h0m1-3h0m0 4h0m1-4h0m1 2h0m1-1h0m0 3h0m1-3h0m5 2h0m2 5h0m1-1h0m9-3h0m0 2h0m6 2h0m0-3h0m4-3h0m0 1h0m0-3h0m4 5h0m-110 11h0m8-4h0m11-4h0m5 1h0m1-1h0m13 3h0m0 1h0m5 2h0m3 0h0m1-6h0m1 8h0m6-7h0m3 1h0m4 4h0m2 1h0m2-1h0m1 0h0m1-3h0m0 1h0m2-1h0m0 1h0m1 2h0m3-2h0m0 2h0m2 2h0m1-3h0m1-1h0m1 1h0m0-2h0m9-1h0m0-1h0m2 4h0m3 0h0m3-4h0m9 5h0m1-3h0m5 7h0m10-6h0m-97 12h0m5-5h0m2 5h0m6-3h0m8 3h0m1-5h0m0 1h0m1 2h0m4 3h0m2 1h0m5 1h0m0-5h0m1-1h0m0 0h0m2 4h0m1-5h0m2 2h0m2 3h0m2-2h0m4-3h0m12 1h0m1 2h0m9-4h0m3 5h0m1-3h0m18-2h0m-121 12h0m7-1h0m16 4h0m3-1h0m1-5h0m16 6h0m9-4h0m4 8h0m14-5h0m15-2h0m1 3h0m8-6h0m1 7h0m8 0h0m1-6h0m3 1h0m1 1h0m1-2h0m9-1h0m23 8h0m11-1h0m-120 8h0m0-1h0m10 4h0m1 0h0m3-8h0m1 4h0m2-4h0m10 1h0m0 3h0m2-1h0m4-2h0m8 9h0m5-2h0m2-3h0m5-3h0m3 1h0m6-2h0m15 2h0m1 0h0m6-2h0m11 8h0m3-5h0m8 4h0m-86 2h0m7 0h0m4 1h0m5 6h0m7-1h0m59 0h0m-117 6h0m47 4h0m13-4h0m10 5h0m24-6h0m17 4h0" stroke="#000" stroke-opacity="0.65" stroke-width="7.0" stroke-linecap="square" fill="none"/>
<rect x="33.6" y="285.4" width="78.3" height="78.80000000000001" fill="none" stroke="#000" stroke-width="1.1"/>
<line x1="64.7" y1="285.4" x2="64.7" y2="364.2" stroke="#000" stroke-width="1.1" />
<line x1="33.6" y1="327.4" x2="111.9" y2="327.4" stroke="#000" stroke-width="1.1" />
<rect x="35.50" y="287.68" width="10.14" height="6.52" fill="#fff"/>
<text x="35.9" y="293.0" font-size="7.0" stroke="#000" stroke-width="0.12" fill="#000" >Q1</text>
<rect x="35.50" y="296.48" width="14.42" height="6.52" fill="#fff"/>
<text x="35.9" y="301.79999999999995" font-size="7.0" stroke="#000" stroke-width="0.12" fill="#000" >0.31</text>
<rect x="100.06" y="287.68" width="10.14" height="6.52" fill="#fff"/>
<text x="109.80000000000001" y="293.0" font-size="7.0" text-anchor="end" stroke="#000" stroke-width="0.12" fill="#000" >Q2</text>
<rect x="95.78" y="296.48" width="14.42" height="6.52" fill="#fff"/>
<text x="109.80000000000001" y="301.79999999999995" font-size="7.0" text-anchor="end" stroke="#000" stroke-width="0.12" fill="#000" >0.22</text>
<rect x="35.50" y="347.18" width="10.14" height="6.52" fill="#fff"/>
<text x="35.9" y="352.5" font-size="7.0" stroke="#000" stroke-width="0.12" fill="#000" >Q4</text>
<rect x="35.50" y="356.38" width="14.42" height="6.52" fill="#fff"/>
<text x="35.9" y="361.7" font-size="7.0" stroke="#000" stroke-width="0.12" fill="#000" >98.7</text>
<rect x="100.06" y="347.18" width="10.14" height="6.52" fill="#fff"/>
<text x="109.80000000000001" y="352.5" font-size="7.0" text-anchor="end" stroke="#000" stroke-width="0.12" fill="#000" >Q3</text>
<rect x="95.78" y="356.38" width="14.42" height="6.52" fill="#fff"/>
<text x="109.80000000000001" y="361.7" font-size="7.0" text-anchor="end" stroke="#000" stroke-width="0.12" fill="#000" >0.81</text>
<ellipse cx="158.8" cy="342" rx="2.6" ry="9" fill="#000" fill-opacity="0.5" transform="rotate(4 158.8 342)" filter="url(#bl1_6)"/>
<path transform="scale(0.1)" d="M1672 2953h0m74-5h0m65 4h0m-247 9h0m41 1h0m106 1h0m33-1h0m149 1h0m-307 11h0m7-6h0m38 3h0m111-1h0m44 1h0m4 1h0m7-5h0m-242 18h0m57-2h0m14-5h0m57 3h0m58 3h0m5-3h0m9 2h0m3 2h0m9-10h0m5 8h0m1-3h0m14 3h0m6-8h0m5 8h0m6-3h0m15 4h0m-230 8h0m31 0h0m5 0h0m8-4h0m1 2h0m3-3h0m101 6h0m8 0h0m13-8h0m18 1h0m7 5h0m4-2h0m-193 15h0m8-7h0m11 2h0m8 5h0m3-3h0m5 2h0m91-2h0m9 4h0m15-5h0m1 5h0m4-7h0m0-3h0m7 4h0m7 6h0m5-1h0m10-2h0m0 3h0m22-4h0m1 3h0m-216 1h0m12 2h0m5 7h0m4-4h0m13-5h0m4 2h0m3 0h0m33 2h0m40 1h0m28-1h0m4 4h0m13-6h0m0 3h0m1-1h0m2-3h0m2 8h0m4-4h0m5 5h0m1 0h0m1-5h0m6 5h0m6-7h0m2 2h0m4 1h0m1-3h0m0 4h0m3-1h0m3-3h0m0 4h0m3-4h0m5 1h0m6 0h0m1 2h0m21-2h0m5 0h0m6 1h0m12-4h0m-251 10h0m6 8h0m15-8h0m3 6h0m8-6h0m4 6h0m105-4h0m5-3h0m4 6h0m6 3h0m6-1h0m2-5h0m3 5h0m1-3h0m7 0h0m1-3h0m5 2h0m2 0h0m11-3h0m17-1h0m3 4h0m-243 9h0m53-1h0m7 3h0m2 3h0m9-1h0m6-4h0m22 5h0m33-2h0m37 3h0m8-2h0m2 2h0m2-1h0m1-4h0m4 6h0m5-9h0m4 7h0m7 1h0m1-7h0m4 6h0m3 0h0m0-8h0m1 5h0m2-1h0m1-1h0m8 1h0m3 4h0m1-4h0m14 6h0m4-8h0m-242 16h0m15-7h0m6 0h0m0 2h0m11 0h0m0-1h0m14 3h0m115-1h0m1 2h0m1 2h0m4-2h0m1-1h0m10 4h0m4 0h0m2-2h0m11-5h0m14 4h0m5-2h0m5 4h0m3-1h0m8-2h0m9-3h0m18 0h0m-207 16h0m2 0h0m5-8h0m4 5h0m2 1h0m22-5h0m17 7h0m45-5h0m21 1h0m0-1h0m3-3h0m19 9h0m2 1h0m10-10h0m11 7h0m8 0h0m2-7h0m-216 17h0m10-3h0m9-3h0m8 8h0m32-1h0m4-3h0m1-4h0m13-1h0m12 4h0m2 3h0m16-7h0m25 3h0m13-1h0m1 7h0m3 0h0m8-5h0m3-3h0m0 3h0m6 0h0m9-1h0m15 3h0m30-1h0m-243 10h0m37-3h0m24 2h0m5-3h0m16 5h0m7-3h0m44 5h0m30 0h0m1-6h0m3 2h0m2 5h0m17-2h0m1 1h0m9-7h0m4 2h0m1 0h0m2 0h0m2 1h0m0-1h0m20-3h0m0 7h0m7-5h0m11 6h0m24-5h0m11 6h0m-241 6h0m5-4h0m1 8h0m8-2h0m5-1h0m4-5h0m6 3h0m16 1h0m11-2h0m5 5h0m20-6h0m16 4h0m10 3h0m3-9h0m8 7h0m3 0h0m2-4h0m32 4h0m10-1h0m6 2h0m10-6h0m7 8h0m12-6h0m13 6h0m-227 5h0m30-2h0m7 6h0m18-6h0m3 3h0m13-3h0m11-1h0m32 0h0m11 1h0m2 1h0m8 4h0m0-5h0m27-2h0m11 1h0m14 7h0m-159 3h0m3 5h0m6-6h0m21 6h0m6-7h0m23 4h0m5-2h0m16 2h0m9 4h0m0-1h0m28 0h0m5 2h0m21-4h0m10-2h0m5 7h0m1-1h0m4-5h0m11 3h0m-186 10h0m1-7h0m14 3h0m4 6h0m3 0h0m2-8h0m1 3h0m2-2h0m4 0h0m2 3h0m35 1h0m21 0h0m0-2h0m2 4h0m11-4h0m2 0h0m7-3h0m4 6h0m5 1h0m8 0h0m15-8h0m7 9h0m2-6h0m81-2h0m-252 15h0m2-1h0m7 3h0m12-8h0m5 2h0m15 4h0m6-2h0m2-3h0m4 3h0m9 4h0m3-5h0m15 7h0m13-4h0m2-4h0m16 5h0m21 1h0m4-7h0m8 7h0m41-4h0m-190 9h0m20-2h0m15 7h0m2-6h0m2 0h0m11 5h0m8 2h0m13-5h0m8 1h0m15 4h0m12-6h0m9 6h0m2-5h0m9 3h0m10-3h0m37-1h0m50 2h0m-221 6h0m17 1h0m4 1h0m6-2h0m5 0h0m13 2h0m0-2h0m2 5h0m4-5h0m4 0h0m11 7h0m8 0h0m8 1h0m1-8h0m8 0h0m5 1h0m14 6h0m1 0h0m1-7h0m1 5h0m26-1h0m-142 7h0m5 6h0m17-4h0m4 4h0m5-2h0m0-6h0m2 8h0m1-7h0m12 4h0m22 2h0m9 0h0m5 1h0m12-5h0m6 3h0m0 3h0m1-7h0m5 2h0m1-1h0m12 0h0m10 2h0m9 2h0m38-3h0m3-1h0m1 7h0m18-2h0m-200 7h0m13 3h0m7 0h0m1-7h0m4 5h0m6 4h0m3-9h0m2 4h0m6-4h0m8 6h0m4-4h0m4 4h0m2-1h0m19-5h0m2 3h0m2-2h0m5 5h0m5-6h0m17 2h0m8 0h0m3 5h0m-118 8h0m22 2h0m1 0h0m13-5h0m1 6h0m1-6h0m1 0h0m2 6h0m3-3h0m8-1h0m2-1h0m1 5h0m1-2h0m7-5h0m2 4h0m1-3h0m30-3h0m7 3h0m7 3h0m1 2h0m0 0h0m3-2h0m17-2h0m2 2h0m29-6h0m14 6h0m-179 7h0m30 1h0m4 4h0m2 0h0m1-3h0m0-1h0m1-3h0m2 0h0m0 7h0m1-4h0m1-4h0m6 2h0m1 6h0m1-2h0m10-6h0m14 6h0m0-5h0m25 5h0m20-3h0m14-1h0m-119 10h0m1 7h0m0-7h0m1 5h0m3-4h0m15 3h0m2-3h0m2 3h0m3 1h0m2-7h0m4 8h0m0-3h0m0-2h0m8-3h0m3 7h0m0-4h0m2 5h0m20-1h0m10 1h0m0-7h0m7 7h0m3-5h0m3 0h0m4-1h0m3 4h0m23 2h0m8-2h0m2-3h0m77 5h0m-226 2h0m13 3h0m3-2h0m4 6h0m1 3h0m7-3h0m7-5h0m2-1h0m0 2h0m2 6h0m1-2h0m2 0h0m4-4h0m6 7h0m0-4h0m2 4h0m2-7h0m2 3h0m1 2h0m4 1h0m3-5h0m18 4h0m1 2h0m0-2h0m12-7h0m7 7h0m6-2h0m8-3h0m2 5h0m26-5h0m-170 12h0m15-4h0m22 1h0m2 7h0m4-1h0m3-4h0m1 1h0m4-2h0m0-2h0m1-1h0m2 3h0m1-1h0m2 6h0m2-6h0m0-1h0m8 9h0m2-6h0m2 4h0m3-6h0m5 6h0m0-4h0m1 2h0m2-3h0m1 3h0m3 2h0m1-3h0m1-3h0m0 1h0m2-1h0m1 6h0m1-1h0m2-4h0m3 5h0m1 0h0m0-6h0m4 4h0m7-1h0m5-4h0m15 6h0m6-3h0m3 6h0m24-7h0m7 6h0m-174 10h0m34-5h0m2 2h0m3 2h0m6-5h0m4-3h0m1 6h0m2 1h0m2-2h0m2-4h0m3 6h0m2-4h0m3 5h0m3 0h0m4-7h0m1 0h0m4 5h0m1 2h0m1-8h0m2 2h0m6 5h0m1-4h0m2 7h0m1-2h0m3 2h0m2-9h0m0 4h0m1-4h0m20 6h0m3 0h0m33 0h0m30-7h0m79 8h0m-244 11h0m24-6h0m0 5h0m12-5h0m0-2h0m1 6h0m1 3h0m3-9h0m3 8h0m0-9h0m1 8h0m1-4h0m2 5h0m2-1h0m1-6h0m4 4h0m2-1h0m1-3h0m2 6h0m2-3h0m1 3h0m0-5h0m1 6h0m1-1h0m1-1h0m2-1h0m4-2h0m3-3h0m4-1h0m1 8h0m0-4h0m1 4h0m7 0h0m1-7h0m1 4h0m0 1h0m2-4h0m2-2h0m18 8h0m6-3h0m43-1h0m-149 6h0m6 6h0m5 3h0m11-6h0m0 4h0m4-6h0m11 7h0m1-6h0m1 8h0m0-1h0m1 0h0m1-5h0m1 4h0m4 2h0m6-3h0m0-1h0m2-6h0m1 9h0m3 1h0m1-5h0m1 3h0m1-4h0m1-2h0m4 6h0m4-1h0m11-4h0m18 3h0m3 1h0m31-1h0m9-1h0m180-5h0m-318 20h0m14-7h0m6 6h0m4 0h0m2-1h0m1-5h0m1 3h0m0-5h0m0 5h0m5 4h0m0-10h0m1 5h0m3 1h0m3-4h0m1 6h0m1-3h0m1-4h0m0 0h0m1 2h0m0 5h0m0-8h0m1 2h0m5-1h0m5 3h0m5 1h0m2 0h0m1-2h0m0 2h0m14-3h0m1-2h0m106 10h0m-222 1h0m35-1h0m8 5h0m6 3h0m6-4h0m1 1h0m1-3h0m1 5h0m2 0h0m5-4h0m1 0h0m1 6h0m2-5h0m6 5h0m6 0h0m1-3h0m5 3h0m2 0h0m0 0h0m2 0h0m3 0h0m2-3h0m0 1h0m3 1h0m3-5h0m3 5h0m4-3h0m2-2h0m1 2h0m14 3h0m11-8h0m57 7h0m80-1h0m4-6h0m-224 16h0m2 3h0m1-3h0m2-5h0m1 5h0m3-2h0m1 5h0m3-5h0m3 6h0m2-8h0m2 5h0m1-3h0m6 0h0m3 6h0m1-9h0m10 4h0m3 3h0m1 1h0m1-6h0m3-2h0m0 4h0m1-2h0m0 6h0m3 0h0m3-1h0m0-3h0m4-1h0m136-1h0m41 7h0m56-3h0m-294 10h0m0-2h0m2-4h0m5 5h0m1 1h0m5-1h0m7-1h0m1 3h0m1-5h0m1 4h0m6 0h0m8 1h0m3-4h0m9 1h0m11-3h0m5-2h0m49 9h0m99-7h0m-243 11h0m12-1h0m7 7h0m22-4h0m2-3h0m1 4h0m2-2h0m1 5h0m1-7h0m2 1h0m1 4h0m1 2h0m1-4h0m1-4h0m1 0h0m0 8h0m3-7h0m1 7h0m3 0h0m2-8h0m2 3h0m7-1h0m5 1h0m1 6h0m5-8h0m3 6h0m13-4h0m24-1h0m-145 15h0m38-7h0m3 1h0m6 1h0m3 5h0m5 2h0m5-8h0m3 6h0m11-5h0m0 4h0m6-4h0m2 7h0m3-5h0m1 0h0m1-2h0m3 4h0m6-1h0m4-1h0m7 1h0m6 2h0m34 0h0m125-2h0m-238 12h0m5-1h0m4-5h0m1 8h0m3-9h0m0 3h0m0 0h0m2 2h0m5-4h0m5-1h0m1 1h0m4 5h0m3-6h0m1 0h0m4 7h0m3-6h0m0 0h0m4 0h0m4 7h0m5 0h0m2 0h0m0-3h0m3 1h0m2-5h0m10 2h0m2 3h0m1 1h0m-75 2h0m2 5h0m14-4h0m10 7h0m1-3h0m1 5h0m1-3h0m3 1h0m0-6h0m1 3h0m1-3h0m0 0h0m4 7h0m1-5h0m1-1h0m11-1h0m6-2h0m5 6h0m7-4h0m18 5h0m50 0h0m56-5h0m-214 13h0m19 1h0m4-2h0m2 5h0m3-5h0m8 1h0m2 3h0m2-5h0m3-3h0m9 6h0m12 3h0m3 0h0m1-6h0m5 1h0m3 4h0m3-2h0m3-6h0m12 4h0m5 3h0m63-3h0m-142 12h0m6 2h0m11 1h0m0-3h0m2 3h0m8-8h0m3-1h0m2 8h0m1 0h0m8 2h0m2-7h0m1 3h0m9-4h0m4 7h0m1-6h0m2 2h0m1-3h0m17-1h0m-93 14h0m10-4h0m4 2h0m15 6h0m11-7h0m4 1h0m0 5h0m1-4h0m2 0h0m0 0h0m1 6h0m3-5h0m3 3h0m2-6h0m6 5h0m3-7h0m6 6h0m1 0h0m1-5h0m7 8h0m1-8h0m4-1h0m5 1h0m16-1h0m-87 18h0m12-7h0m9 7h0m3-1h0m1-5h0m1 5h0m2 2h0m2-5h0m4 2h0m3-4h0m1 2h0m0 6h0m1-3h0m1-1h0m2 0h0m1-5h0m3 1h0m0 0h0m9 4h0m1-4h0m1-2h0m3 9h0m2-3h0m9-2h0m-89 14h0m17-3h0m2-2h0m9 7h0m4-8h0m0 5h0m3-1h0m6 3h0m1-1h0m3-2h0m1 1h0m1-1h0m6-4h0m3 7h0m2-3h0m0 1h0m2-4h0m23 7h0m18-3h0m-101 8h0m6 1h0m1-1h0m13-2h0m1 2h0m0 4h0m1-8h0m3 9h0m7-1h0m3-3h0m2 3h0m2-1h0m4-7h0m0 7h0m8-3h0m4-1h0m7 1h0m1-5h0m6 9h0m4-5h0m1 4h0m7 2h0m10-8h0m-83 10h0m21 5h0m3 1h0m2-8h0m1 2h0m0 6h0m3 0h0m6-2h0m1 3h0m0-4h0m1 2h0m1-1h0m1-3h0m8 6h0m5 0h0m8-1h0m5-3h0m1 1h0m5-4h0m23 5h0m-94 6h0m24 0h0m6 3h0m1-3h0m4 0h0m0 4h0m5-3h0m7 3h0m2-5h0m2 7h0m0-6h0m11 4h0m3 1h0m5 1h0m-76 3h0m14 0h0m8 5h0m5-3h0m1 6h0m2-5h0m2-3h0m3 0h0m6 4h0m9-5h0m4 7h0m3-8h0m4 8h0m6-7h0m1 7h0m1-2h0m5 4h0m34-2h0m-106 6h0m8 4h0m3-3h0m1 5h0m3-2h0m9-1h0m3-4h0m1 2h0m4 3h0m1-5h0m3 5h0m2-6h0m2 6h0m1-5h0m9-1h0m2 7h0m2-5h0m0 0h0m1 0h0m4 5h0m1-6h0m2 4h0m6-3h0m2-1h0m8 4h0m-82 12h0m9-5h0m11 1h0m1-3h0m3 7h0m3-7h0m1 4h0m1-2h0m3 3h0m3-6h0m4 4h0m3 5h0m0-7h0m5 5h0m2 1h0m2-2h0m7-2h0m3-5h0m1 6h0m3-1h0m1 2h0m2 1h0m7-2h0m12 3h0m-74 7h0m5-6h0m13 2h0m0-1h0m0 1h0m4 7h0m0-3h0m4-3h0m0 1h0m6 5h0m1-8h0m8 0h0m9 2h0m6 7h0m2-4h0m2-1h0m5 4h0m22-2h0m-116 6h0m14 5h0m20-6h0m7 4h0m3-1h0m4 2h0m1-3h0m1-3h0m0 5h0m5-5h0m4 4h0m2-5h0m0 0h0m5 8h0m1-2h0m0 3h0m2-4h0m4 2h0m2 3h0m3-7h0m11 6h0m33-9h0m-98 11h0m12 8h0m0-3h0m1 3h0m2-1h0m10-7h0m1 5h0m9 1h0m0-7h0m0 7h0m3 2h0m1-8h0m3 5h0m0-3h0m2-1h0m1-1h0m7 0h0m6 6h0m9 3h0m12-3h0m-65 10h0m8 1h0m8 1h0m2-4h0m4-5h0m5 7h0m5-4h0m0 6h0m4-9h0m1 1h0m6 7h0m11-5h0m-71 14h0m1-6h0m1 4h0m9-1h0m5 4h0m2 0h0m0-5h0m1-1h0m3 4h0m3 0h0m3-2h0m5 1h0m1 0h0m0 4h0m3-7h0m1 7h0m6-5h0m3 1h0m2-5h0m5 8h0m1-3h0m3-2h0m1 0h0m4 5h0m6-6h0m1 0h0m8 5h0m-84 4h0m1 5h0m6 3h0m1 0h0m17-9h0m9 1h0m2 8h0m3-7h0m3 7h0m8-9h0m3 2h0m2 7h0m5-8h0m10 3h0m16 6h0m-81 6h0m8 1h0m16-2h0m4-2h0m0 5h0m0 2h0m1-4h0m1-5h0m11 5h0m1-6h0m4 8h0m7 1h0m15-1h0m-91 7h0m28 0h0m3 1h0m3-5h0m6 7h0m8-1h0m7 3h0m1-4h0m1 3h0m0-6h0m4-2h0m3 7h0m3 1h0m0-5h0m7 4h0m8-3h0m3-2h0m4-2h0m3 1h0m-47 9h0m1 3h0m6 6h0m3 0h0m1-2h0m2-7h0m0 4h0m1-4h0m6 1h0m1-2h0m3 6h0m4 4h0m4-1h0m9-7h0m2 5h0m-68 7h0m7 4h0m20-7h0m4 8h0m1-8h0m3-1h0m4 4h0m0-2h0m0-1h0m2 3h0m1-2h0m10 7h0m3-5h0m0 5h0m0-9h0m7 9h0m2-2h0m10-4h0m-92 15h0m19-2h0m4-1h0m19 1h0m2 1h0m4 2h0m9-2h0m4-1h0m3-2h0m10 0h0m0-2h0m3-2h0m3 5h0m3 5h0m2-8h0m2 0h0m2 7h0m28-8h0m-78 16h0m5-5h0m3 7h0m2-8h0m0 6h0m5 2h0m0-6h0m2-3h0m1 6h0m2-5h0m1 3h0m0 2h0m6-5h0m11 2h0m3 5h0m2-1h0m16-4h0m4 4h0m-66 4h0m3 5h0m4-5h0m0 6h0m2 0h0m7-1h0m0-1h0m6-2h0m1 4h0m1-5h0m1 8h0m11-7h0m1 3h0m11 2h0m1 0h0m10-3h0m1 4h0m3-2h0m-90 12h0m13-9h0m6 9h0m3-1h0m1-4h0m1 1h0m2-2h0m7 4h0m2-6h0m5 1h0m2 7h0m1-6h0m2 0h0m0 2h0m3 3h0m0-3h0m0-3h0m1 8h0m3-9h0m0 2h0m2 3h0m5 0h0m6-5h0m4 1h0m-51 17h0m1-1h0m3-7h0m3 5h0m6-5h0m4 0h0m0-1h0m2 8h0m4-2h0m1 0h0m2 3h0m3-5h0m1 5h0m6-7h0m6 1h0m0 0h0m6 0h0m1 2h0m5-3h0m-81 14h0m25 0h0m9-6h0m5 2h0m0-1h0m7 6h0m2-5h0m21 5h0m-52 10h0m12 1h0m3-4h0m10 3h0m2 2h0m2-1h0m1-3h0m0-4h0m4 3h0m2 2h0m0-5h0m7-1h0m0 3h0m9-1h0m0 0h0m1 4h0m3-3h0m5 5h0m8 1h0m-85 5h0m39-3h0m11 3h0m2 0h0m1-2h0m2 4h0m3-1h0m8-3h0m4 3h0m7-5h0m-76 19h0m16-6h0m13 0h0m2 3h0m9-4h0m4 1h0m5-2h0m6 3h0m3 4h0m-37 10h0m4-3h0m11 1h0m10-1h0m12 2h0m3 0h0m4-6h0m5-1h0m2 10h0" stroke="#000" stroke-opacity="0.65" stroke-width="7.0" stroke-linecap="square" fill="none"/>
<rect x="133.6" y="285.4" width="78.3" height="78.80000000000001" fill="none" stroke="#000" stroke-width="1.1"/>
<line x1="162.4" y1="285.4" x2="162.4" y2="364.2" stroke="#000" stroke-width="1.1" />
<line x1="133.6" y1="327.0" x2="211.89999999999998" y2="327.0" stroke="#000" stroke-width="1.1" />
<rect x="135.50" y="287.68" width="10.14" height="6.52" fill="#fff"/>
<text x="135.9" y="293.0" font-size="7.0" stroke="#000" stroke-width="0.12" fill="#000" >Q1</text>
<rect x="135.50" y="296.48" width="14.42" height="6.52" fill="#fff"/>
<text x="135.9" y="301.79999999999995" font-size="7.0" stroke="#000" stroke-width="0.12" fill="#000" >7.77</text>
<rect x="200.06" y="287.68" width="10.14" height="6.52" fill="#fff"/>
<text x="209.79999999999998" y="293.0" font-size="7.0" text-anchor="end" stroke="#000" stroke-width="0.12" fill="#000" >Q2</text>
<rect x="195.78" y="296.48" width="14.42" height="6.52" fill="#fff"/>
<text x="209.79999999999998" y="301.79999999999995" font-size="7.0" text-anchor="end" stroke="#000" stroke-width="0.12" fill="#000" >12.1</text>
<rect x="135.50" y="347.18" width="10.14" height="6.52" fill="#fff"/>
<text x="135.9" y="352.5" font-size="7.0" stroke="#000" stroke-width="0.12" fill="#000" >Q4</text>
<rect x="135.50" y="356.38" width="14.42" height="6.52" fill="#fff"/>
<text x="135.9" y="361.7" font-size="7.0" stroke="#000" stroke-width="0.12" fill="#000" >78.3</text>
<rect x="200.06" y="347.18" width="10.14" height="6.52" fill="#fff"/>
<text x="209.79999999999998" y="352.5" font-size="7.0" text-anchor="end" stroke="#000" stroke-width="0.12" fill="#000" >Q3</text>
<rect x="195.78" y="356.38" width="14.42" height="6.52" fill="#fff"/>
<text x="209.79999999999998" y="361.7" font-size="7.0" text-anchor="end" stroke="#000" stroke-width="0.12" fill="#000" >1.83</text>
<ellipse cx="251.7" cy="346.6" rx="4.6" ry="4.4" fill="#000" fill-opacity="0.9" transform="rotate(0 251.7 346.6)" filter="url(#bl1_6)"/>
<path transform="scale(0.1)" d="M2717 2960h0m31 13h0m-26 11h0m-70 4h0m45-2h0m-16 15h0m46-4h0m17 4h0m22-5h0m7 1h0m-55 10h0m0-2h0m14 4h0m45 0h0m-87 14h0m5 1h0m4 0h0m-118 6h0m83 4h0m14-7h0m40 0h0m13 3h0m7 0h0m6 0h0m21-1h0m-87 13h0m18 0h0m13-4h0m6 0h0m14 1h0m-128 11h0m1-2h0m78 7h0m38-6h0m1 3h0m32-4h0m50-1h0m-134 15h0m5-1h0m14-5h0m13 0h0m6 8h0m23-4h0m20 3h0m20-3h0m-150 11h0m50 0h0m2-4h0m11 7h0m21 0h0m6-2h0m3 1h0m1-6h0m2 0h0m3-1h0m4 1h0m5 1h0m5-3h0m2 6h0m7-5h0m12 3h0m5 2h0m12-4h0m9 4h0m-127 13h0m9-3h0m6-4h0m15 3h0m3 3h0m2 0h0m1 1h0m13-5h0m15 4h0m2-3h0m3-2h0m12 1h0m3 1h0m12-2h0m2-2h0m9 7h0m5-7h0m4 3h0m2 1h0m-138 9h0m15-4h0m28 7h0m4-6h0m4 7h0m14-1h0m13-1h0m4 1h0m2 2h0m1-2h0m3 1h0m4-6h0m6 0h0m12-2h0m21 6h0m7-4h0m-134 16h0m5-1h0m4-6h0m20 4h0m1 5h0m19-3h0m1 1h0m1-6h0m1 4h0m0-2h0m7 3h0m1 0h0m5-2h0m20 4h0m15-9h0m3 0h0m7 9h0m-148 7h0m46 3h0m30-3h0m5-4h0m0 4h0m4-3h0m0 3h0m16 2h0m1-7h0m5 7h0m2 0h0m6-3h0m0 4h0m1-8h0m3 6h0m7-4h0m1-1h0m15-2h0m1 1h0m4 2h0m0 4h0m10 2h0m3-7h0m24 5h0m-339 3h0m199 5h0m8 4h0m0-9h0m1 4h0m6 1h0m8-2h0m13-3h0m4 2h0m1 4h0m13 4h0m12-3h0m1 1h0m6-2h0m18 2h0m8-6h0m7-1h0m6 1h0m66 6h0m-215 10h0m14-1h0m30 1h0m5-8h0m0 6h0m10-1h0m6 0h0m7-5h0m11 4h0m20 1h0m9-3h0m2 3h0m2 5h0m22-4h0m15-6h0m13 1h0m-239 11h0m7 5h0m61 2h0m0-3h0m37 3h0m4-5h0m6 1h0m2-3h0m7 3h0m8-3h0m7 7h0m3-3h0m7 1h0m1-3h0m31 6h0m2-9h0m13 5h0m18-3h0m7-2h0m7 5h0m-182 8h0m20 4h0m4 1h0m26-4h0m3 1h0m6-5h0m7 7h0m1-1h0m1 2h0m5-2h0m7 3h0m3-4h0m4-1h0m7-4h0m2 3h0m2 5h0m7 0h0m4-6h0m5-2h0m8 7h0m4-1h0m2-6h0m3 6h0m0 2h0m11-8h0m3 5h0m4-5h0m9 6h0m26-3h0m11 1h0m-210 11h0m71-2h0m1-4h0m15 3h0m18 2h0m2 1h0m7-1h0m13 2h0m4-6h0m2 3h0m4 5h0m7-6h0m34 5h0m1 1h0m28-7h0m-231 17h0m0-6h0m44 2h0m1-5h0m3 8h0m14-2h0m1-2h0m1-3h0m13 1h0m13 4h0m4 1h0m5-7h0m17 6h0m1-3h0m1-1h0m1 7h0m2 0h0m1-9h0m5 10h0m26-7h0m13 0h0m-119 16h0m6-6h0m4 2h0m2 5h0m1-8h0m1 2h0m21 3h0m2-3h0m19-2h0m5 6h0m6-8h0m5 7h0m8 0h0m2 0h0m1 2h0m6 1h0m5-3h0m2 2h0m24 0h0m3 1h0m11 0h0m18-5h0m39 5h0m-328 1h0m113 7h0m58-2h0m2-2h0m4-3h0m0 6h0m13 0h0m10-4h0m11 4h0m8 2h0m5-7h0m2 3h0m6 0h0m0 1h0m2-1h0m8-2h0m14 1h0m6-1h0m19 0h0m-272 13h0m99-5h0m6 6h0m37-6h0m3 5h0m1 2h0m7-6h0m1 3h0m6-3h0m8 2h0m7-3h0m0 1h0m3-2h0m6 6h0m0 1h0m2-2h0m2 1h0m1 0h0m4 0h0m0 2h0m8 0h0m0-2h0m2-1h0m7 1h0m2 0h0m0-1h0m5 3h0m18-3h0m26 3h0m-201 10h0m18-4h0m24 1h0m2-1h0m15 0h0m6 3h0m8-6h0m1 9h0m4-8h0m21 6h0m1-1h0m1-5h0m7 1h0m2 3h0m3-2h0m0 0h0m2 3h0m4 1h0m3 1h0m7 0h0m14-3h0m6 0h0m1-3h0m3-1h0m13 5h0m23 1h0m0 1h0m4 0h0m8-3h0m15 4h0m2 0h0m18-6h0m-235 11h0m17 1h0m33-4h0m7 1h0m3 7h0m2-9h0m11 7h0m6-8h0m12 6h0m12-3h0m8-2h0m16 4h0m5-3h0m3 7h0m15-4h0m3 0h0m41-1h0m133-3h0m-312 17h0m36-6h0m0 1h0m1 5h0m22-2h0m11-3h0m20 3h0m10-4h0m2 0h0m3 1h0m0-1h0m6 5h0m1 0h0m0-2h0m8-5h0m7 9h0m2-3h0m4 0h0m45 2h0m4-1h0m-298 9h0m58 3h0m57-4h0m10 4h0m7-1h0m4-3h0m18-4h0m17 2h0m7 6h0m3-1h0m2-7h0m5 2h0m12-2h0m3 6h0m1-5h0m8 0h0m0 3h0m3 0h0m7-1h0m1-3h0m1 0h0m8 2h0m4 5h0m11-6h0m3 5h0m1-6h0m2 3h0m36 4h0m27-4h0m-197 14h0m13-7h0m1 6h0m18-6h0m2 7h0m8-1h0m4-4h0m4 7h0m1-9h0m2 5h0m5 4h0m14-6h0m8-2h0m6 3h0m4 4h0m5 1h0m2-9h0m1 6h0m3 0h0m9 0h0m18-7h0m1 8h0m4 2h0m5-5h0m10-4h0m9 4h0m-205 9h0m13-1h0m8 4h0m24 2h0m9-2h0m8-4h0m0 2h0m3-3h0m10 1h0m7 0h0m2-1h0m3-1h0m2 5h0m6 1h0m1-2h0m8-2h0m10 4h0m1 0h0m0-4h0m1 6h0m3-4h0m1-2h0m2 5h0m22-6h0m3 2h0m4 0h0m15 2h0m5 2h0m2-5h0m11 0h0m6 3h0m8 2h0m10 0h0m2-2h0m27 3h0m-235 6h0m25 0h0m3-2h0m10 5h0m10-4h0m12-2h0m2-2h0m0 3h0m4 2h0m0 4h0m10-6h0m0 1h0m4 3h0m5 0h0m15 1h0m3-7h0m7 7h0m2 1h0m9-9h0m2 10h0m0 0h0m12-10h0m0 2h0m3 4h0m4-4h0m12 5h0m2-3h0m18 6h0m1-2h0m21 0h0m30-1h0m12-3h0m-241 8h0m30-1h0m2 8h0m8-5h0m29 2h0m10-4h0m11-1h0m5 5h0m4-2h0m2 3h0m7 2h0m1-6h0m6-1h0m6 7h0m0-3h0m3-5h0m1 4h0m2 4h0m2-7h0m8 2h0m21-1h0m4-1h0m2 5h0m30-2h0m27 1h0m63 1h0m-278 8h0m30 3h0m1-3h0m9 3h0m10-3h0m10 0h0m14 3h0m13-1h0m4 0h0m0 1h0m9 1h0m3-3h0m5-3h0m1 1h0m7 0h0m6 1h0m1-4h0m4 3h0m18 3h0m3-7h0m1 8h0m9-3h0m3-2h0m2 2h0m18 4h0m93-2h0m-274 8h0m21-2h0m15 5h0m5 0h0m12-7h0m9 4h0m0 0h0m5-5h0m1 4h0m5 0h0m3 1h0m11-3h0m10 6h0m3 1h0m13-5h0m1 2h0m1-3h0m1-3h0m12 9h0m6-1h0m8-8h0m4 4h0m1-3h0m5-1h0m5 6h0m-211 7h0m57 7h0m18-2h0m1 0h0m24-7h0m6 7h0m1-6h0m10 7h0m1-6h0m12-2h0m6 2h0m2 6h0m8-6h0m2 7h0m2-4h0m8-4h0m5 4h0m4-3h0m2-2h0m2 5h0m4 3h0m14-4h0m10 3h0m5-1h0m3-5h0m0 1h0m33 0h0m33 4h0m-332 9h0m115-2h0m15 4h0m13-7h0m13 3h0m11 3h0m1-3h0m3-1h0m4 7h0m1-1h0m8-6h0m9-1h0m0 4h0m3 4h0m5-9h0m0 2h0m2-2h0m6 3h0m10 0h0m4-3h0m16 7h0m7-7h0m6 0h0m1 5h0m0-1h0m4-3h0m41 5h0m-238 10h0m30 2h0m5-2h0m5 1h0m36-6h0m9 2h0m11-2h0m7 0h0m4 1h0m2-3h0m0 7h0m1-2h0m6-5h0m0 6h0m7 3h0m1-3h0m1 3h0m3-8h0m0 5h0m0-4h0m1-1h0m6 8h0m6-1h0m1-7h0m5 2h0m6 3h0m6-4h0m12 3h0m1-5h0m7 7h0m1-1h0m3 3h0m36 0h0m-173 5h0m20-1h0m2 4h0m1-6h0m2 4h0m6 4h0m7-5h0m5 2h0m1-6h0m2 8h0m2-7h0m8 0h0m2 5h0m1-1h0m0 5h0m2-9h0m1 2h0m4 1h0m0-1h0m3 1h0m1-2h0m2 0h0m2 6h0m0-7h0m5 8h0m1 0h0m1-8h0m1 8h0m9-1h0m4 2h0m12-6h0m1 1h0m1-2h0m8 4h0m12-6h0m11 1h0m27 3h0m10 3h0m23-1h0m-198 10h0m6 1h0m2-2h0m7-3h0m2-2h0m1 6h0m11 1h0m6-3h0m9 2h0m1 0h0m8-1h0m14-6h0m0 7h0m4 3h0m6-5h0m2 0h0m2 3h0m3-8h0m1 2h0m5 1h0m7-2h0m1 4h0m2 4h0m0-7h0m3 7h0m1-7h0m1 2h0m6 4h0m8-8h0m1 6h0m14-5h0m-187 12h0m9 4h0m55 0h0m6 2h0m13-4h0m7 4h0m1-3h0m13 2h0m8-6h0m5 4h0m2-5h0m1 2h0m15 0h0m2 6h0m0 1h0m6-7h0m5 0h0m1 5h0m1-3h0m4-3h0m17 7h0m21-6h0m14-2h0m44 3h0m48 1h0m-243 7h0m6 0h0m15 2h0m31 6h0m9-5h0m3-3h0m7-1h0m1 1h0m1 0h0m9-1h0m3 0h0m3 4h0m3-5h0m3 2h0m1-2h0m3 0h0m15 7h0m3-4h0m50 1h0m-222 7h0m43 7h0m13-7h0m15 2h0m10 6h0m8-3h0m5-3h0m1 5h0m2 1h0m1 1h0m0-10h0m9 3h0m13 5h0m3-7h0m1 6h0m4 2h0m2-5h0m2-2h0m11 5h0m7-7h0m8 4h0m2-4h0m32 6h0m45 3h0m32-1h0m-226 5h0m1 1h0m36-2h0m11 6h0m4-7h0m4 7h0m5-3h0m8-1h0m3-3h0m9 9h0m3-4h0m45 2h0m3-2h0m-112 5h0m2 4h0m4-1h0m2 5h0m6-3h0m0-6h0m14 7h0m7 3h0m2-9h0m1 6h0m1-2h0m0 0h0m9-3h0m25 3h0m29 4h0m19 0h0m-132 6h0m0 4h0m3-9h0m3 1h0m6 3h0m7-4h0m3 7h0m8 0h0m6-1h0m2 3h0m3-5h0m8 2h0m0-1h0m3-3h0m4 4h0m6 1h0m10 3h0m9-2h0m2-3h0m36-1h0m-170 10h0m29 0h0m1 3h0m16 1h0m13 0h0m3-3h0m0 4h0m1-2h0m1-5h0m1 5h0m6-1h0m2-4h0m1 6h0m3-6h0m1 1h0m2-1h0m6-1h0m1 2h0m2 3h0m1-6h0m4 1h0m0 5h0m3 4h0m2-4h0m4 4h0m5-2h0m3 0h0m14 1h0m3-7h0m0 8h0m6-7h0m23 4h0m19-4h0m1 6h0m28-4h0m111-1h0m-283 13h0m6-1h0m3-5h0m5 1h0m5 7h0m0-2h0m1-1h0m0 0h0m1-2h0m2 6h0m1-8h0m9 6h0m3 2h0m1-7h0m1-3h0m1 4h0m2 0h0m2 4h0m3-2h0m1-3h0m0 1h0m1 5h0m2-8h0m3 9h0m2-7h0m3 7h0m0-7h0m2 6h0m0-2h0m3-5h0m1 7h0m2 0h0m1-5h0m0-1h0m1-1h0m0 7h0m1-1h0m0-6h0m1 4h0m1 4h0m3 0h0m3-3h0m1-6h0m2 2h0m1 2h0m9 5h0m2-2h0m7-6h0m13 5h0m7-1h0m10 3h0m3-3h0m153 1h0m-299 12h0m6-3h0m2-2h0m1-1h0m5 2h0m1-3h0m1 0h0m0 1h0m2 2h0m3-3h0m1-1h0m3 3h0m2 1h0m0-4h0m1 5h0m3 3h0m2 0h0m0-3h0m3 2h0m2-3h0m0-1h0m3 0h0m4-2h0m0 0h0m1 8h0m0-7h0m1 6h0m1-8h0m1 2h0m3-3h0m0 10h0m0-4h0m1-2h0m0-1h0m6 6h0m1-2h0m0-7h0m2 8h0m1-4h0m0 0h0m1 1h0m1 4h0m1-4h0m0 2h0m2-4h0m2 2h0m0 3h0m1-2h0m3-2h0m2-2h0m2 5h0m1 1h0m1-4h0m1-3h0m0 7h0m0-2h0m0 2h0m0 2h0m0-1h0m1 0h0m1-6h0m1 5h0m1-8h0m0 4h0m0-2h0m4 0h0m0 6h0m0-4h0m2 0h0m0 4h0m3-7h0m4 8h0m3-1h0m0-2h0m1-3h0m0 7h0m5-4h0m7-1h0m0-2h0m5 1h0m11-1h0m6 2h0m10-5h0m-157 12h0m1-2h0m1 2h0m5-2h0m17 6h0m1-5h0m0 6h0m10-5h0m2-1h0m0 3h0m1-4h0m1 5h0m1-2h0m2 6h0m2-7h0m0 3h0m0 2h0m1 0h0m0 3h0m1-9h0m2 0h0m2 6h0m0-6h0m2 6h0m1 2h0m1-2h0m1-6h0m1 7h0m1-6h0m1 7h0m2-2h0m2-5h0m3 7h0m1-3h0m0 0h0m0-4h0m2 4h0m0-2h0m1 0h0m1-4h0m1 7h0m0-6h0m1 5h0m0 2h0m0-5h0m1 2h0m2-4h0m0 3h0m0 3h0m1-4h0m2 6h0m1-2h0m0 1h0m1-3h0m0-2h0m0 2h0m1-3h0m0-2h0m1 4h0m0 2h0m1-6h0m0 10h0m0-8h0m1 2h0m1-3h0m1 2h0m1 7h0m0-1h0m0-1h0m0-7h0m3 3h0m0 4h0m0-6h0m1 7h0m1 0h0m0-9h0m4 0h0m0 2h0m0 1h0m0 2h0m1 4h0m0-9h0m0 0h0m1 1h0m0 2h0m1 1h0m1 3h0m1-5h0m3-1h0m3 2h0m1 4h0m0-2h0m0 1h0m1 0h0m0 3h0m7-9h0m1 8h0m2-4h0m2-1h0m3 4h0m3-2h0m5 3h0m1 0h0m6-4h0m27-4h0m40 2h0m-194 8h0m0 10h0m10-4h0m2-1h0m2-4h0m0 7h0m3-3h0m4-4h0m4 4h0m2 4h0m1-6h0m1 2h0m1-5h0m1 2h0m1-1h0m1 7h0m3 1h0m0-1h0m2 0h0m2-7h0m0 0h0m2 4h0m0 0h0m0 3h0m2-6h0m0 5h0m0-4h0m2-1h0m2 4h0m0 3h0m0-7h0m1 6h0m0 2h0m1-9h0m1 6h0m1-6h0m1 3h0m0 1h0m1-4h0m1 8h0m1-2h0m2-6h0m1 4h0m2 2h0m1 0h0m1-6h0m0 5h0m1-4h0m1 7h0m0-4h0m3 2h0m1 3h0m1-4h0m1 0h0m0-4h0m0 7h0m1-1h0m1-1h0m0-6h0m1 3h0m0-4h0m1 8h0m0 1h0m1-6h0m1 1h0m1-1h0m0 0h0m1-2h0m1 2h0m0-3h0m1 3h0m1-3h0m0 8h0m2 0h0m1-8h0m1 8h0m1-6h0m1 0h0m1 2h0m0-1h0m2 6h0m1-5h0m0 4h0m3-4h0m1-3h0m0 8h0m1-3h0m3-4h0m6 4h0m4-5h0m1 1h0m2 1h0m3-3h0m2 5h0m1 0h0m1-4h0m10 2h0m-135 15h0m5-3h0m0-3h0m1 7h0m12 0h0m2-8h0m2 8h0m4-8h0m1 1h0m0-2h0m1 2h0m2 1h0m3 4h0m1-6h0m0 0h0m1 2h0m2 7h0m1-8h0m1 6h0m0 1h0m0 0h0m0 1h0m2-2h0m0-2h0m1-5h0m1 8h0m0-9h0m2 6h0m1-4h0m0 2h0m0-4h0m0 1h0m1 9h0m1-2h0m1-5h0m0 7h0m1-10h0m1 1h0m0 7h0m0-5h0m1 0h0m1-1h0m0 0h0m0 4h0m1 2h0m1-4h0m0-3h0m1 1h0m0 0h0m0 2h0m1 4h0m0-3h0m0-5h0m1 9h0m1 0h0m0-1h0m0-1h0m0 1h0m0-7h0m1 5h0m2-4h0m1 2h0m0 1h0m1-2h0m0 5h0m0-8h0m1 6h0m0 3h0m3-7h0m0 7h0m1-7h0m1 8h0m0-9h0m0 4h0m1 2h0m1-1h0m0 1h0m0-3h0m0 1h0m1 4h0m0-7h0m1 5h0m0-4h0m0 0h0m1 3h0m0 3h0m1 0h0m0-3h0m1-4h0m1 7h0m0-4h0m1 0h0m0-4h0m0 9h0m1-1h0m2 1h0m1-5h0m1-3h0m1 6h0m0-3h0m2-2h0m1 4h0m0-4h0m0 2h0m1-3h0m1 6h0m1-7h0m0 5h0m0-4h0m1 0h0m1 7h0m2-8h0m0 6h0m1 2h0m2-9h0m2 6h0m0-2h0m1 5h0m3 1h0m1-5h0m2-1h0m5-3h0m1 7h0m1-2h0m0-4h0m1 5h0m7-4h0m19 2h0m5 1h0m-138 6h0m9 3h0m4-4h0m0 5h0m1-1h0m3-5h0m1 1h0m1 8h0m0-8h0m1 6h0m1-5h0m1-1h0m1 2h0m1 7h0m1 0h0m2-9h0m0 5h0m2 3h0m2 1h0m1-5h0m0-3h0m0 6h0m1-1h0m0-1h0m0 4h0m0-5h0m1 1h0m2 0h0m1 1h0m0-4h0m0 6h0m1-4h0m1-1h0m0-4h0m1 7h0m2-4h0m0-1h0m1 1h0m0 2h0m1 3h0m1-1h0m0-2h0m1 3h0m2-7h0m1 0h0m1 3h0m0-4h0m1 7h0m3-2h0m0-5h0m0 1h0m2 1h0m1 5h0m0 2h0m1-9h0m0 8h0m1 0h0m1-5h0m0-2h0m1 2h0m0 3h0m1 3h0m1 1h0m2-8h0m0-1h0m0 0h0m3 2h0m0 4h0m1 2h0m1-2h0m1-6h0m0 2h0m1-1h0m0 6h0m1 0h0m1 1h0m2-4h0m1-1h0m1 2h0m1 4h0m0-6h0m4 0h0m1 6h0m0-2h0m2-4h0m0-3h0m0 5h0m2-4h0m0 8h0m1-2h0m0-2h0m3 2h0m0-4h0m3 3h0m0-5h0m1 3h0m0 0h0m1 2h0m0-6h0m0 5h0m1 1h0m3 1h0m2-7h0m2 5h0m4-3h0m1-2h0m1 2h0m1 5h0m-141 7h0m27 2h0m4-1h0m1 1h0m9 0h0m5-3h0m1 3h0m2 1h0m1-5h0m0 3h0m2-5h0m1 5h0m1 3h0m2-4h0m1-2h0m1 7h0m2-8h0m2 7h0m1-6h0m1-2h0m0 2h0m3 1h0m1 2h0m1 0h0m0-5h0m1 2h0m1 6h0m1-3h0m0 2h0m2-2h0m0 2h0m2 0h0m1-4h0m0 2h0m1 4h0m1-5h0m1-5h0m0 7h0m0-1h0m3 2h0m0-7h0m0 8h0m0-8h0m1 0h0m3 1h0m0 0h0m1 5h0m0 2h0m3-4h0m1 0h0m1 3h0m0-6h0m1 7h0m2-5h0m0-2h0m0-1h0m1 8h0m1-8h0m0 5h0m0 1h0m1-4h0m0 5h0m0-6h0m1 7h0m0-5h0m2 0h0m1 1h0m1 3h0m1 1h0m5-3h0m1 1h0m1-2h0m0-1h0m1-3h0m0 4h0m0-1h0m3-4h0m0 3h0m2 6h0m3-6h0m3 2h0m1-5h0m1 0h0m1 2h0m0 4h0m4-1h0m2 4h0m0-8h0m5 5h0m1-1h0m1 1h0m5-5h0m36 0h0m-187 17h0m49-8h0m1 8h0m6-2h0m3 4h0m0-2h0m1-4h0m0-1h0m3 2h0m3-3h0m0 1h0m0-1h0m3 6h0m3-5h0m1 5h0m7-8h0m1 0h0m2 1h0m1 0h0m1 5h0m2-1h0m1 2h0m2 1h0m1-7h0m2 4h0m3-2h0m0-1h0m1-1h0m1 1h0m0 3h0m4 3h0m1-2h0m4-4h0m5 4h0m1-5h0m2 1h0m2 4h0m1 2h0m2-7h0m3 7h0m3-4h0m1 3h0m0-5h0m5 4h0m7 1h0m4 2h0m11-2h0m61 2h0m-178 3h0m0 6h0m1-3h0m4 4h0m2-9h0m7 0h0m2 6h0m6 0h0m9-3h0m1-1h0m6 2h0m2 0h0m0-1h0m6 5h0m1-5h0m5-2h0m2 8h0m6-2h0m0-2h0m2-1h0m1 3h0m3 1h0m0-7h0m2 3h0m3 5h0m1-5h0m2 5h0m0-2h0m4-5h0m1 1h0m2 3h0m2 3h0m2-9h0m7 4h0m1-2h0m1-1h0m4 5h0m3-6h0m1 9h0m3-5h0m0-2h0m3-2h0m1 1h0m16-1h0m-123 15h0m16 1h0m17 2h0m13-7h0m3 7h0m1 1h0m10-6h0m2-3h0m5 6h0m1 2h0m1 1h0m6-7h0m13 5h0m9-3h0m11 2h0m2-3h0m-110 9h0m27 6h0m2-6h0m25 7h0m48-2h0m6-6h0m-100 11h0m63 2h0m7 1h0m-9 8h0" stroke="#000" stroke-opacity="0.65" stroke-width="7.0" stroke-linecap="square" fill="none"/>
<rect x="231.6" y="285.4" width="78.3" height="78.80000000000001" fill="none" stroke="#000" stroke-width="1.1"/>
<line x1="261.5" y1="285.4" x2="261.5" y2="364.2" stroke="#000" stroke-width="1.1" />
<line x1="231.6" y1="327.4" x2="309.9" y2="327.4" stroke="#000" stroke-width="1.1" />
<rect x="233.50" y="287.68" width="10.14" height="6.52" fill="#fff"/>
<text x="233.9" y="293.0" font-size="7.0" stroke="#000" stroke-width="0.12" fill="#000" >Q1</text>
<rect x="233.50" y="296.48" width="14.42" height="6.52" fill="#fff"/>
<text x="233.9" y="301.79999999999995" font-size="7.0" stroke="#000" stroke-width="0.12" fill="#000" >7.64</text>
<rect x="298.06" y="287.68" width="10.14" height="6.52" fill="#fff"/>
<text x="307.79999999999995" y="293.0" font-size="7.0" text-anchor="end" stroke="#000" stroke-width="0.12" fill="#000" >Q2</text>
<rect x="293.78" y="296.48" width="14.42" height="6.52" fill="#fff"/>
<text x="307.79999999999995" y="301.79999999999995" font-size="7.0" text-anchor="end" stroke="#000" stroke-width="0.12" fill="#000" >12.8</text>
<rect x="233.50" y="347.18" width="10.14" height="6.52" fill="#fff"/>
<text x="233.9" y="352.5" font-size="7.0" stroke="#000" stroke-width="0.12" fill="#000" >Q4</text>
<rect x="233.50" y="356.38" width="14.42" height="6.52" fill="#fff"/>
<text x="233.9" y="361.7" font-size="7.0" stroke="#000" stroke-width="0.12" fill="#000" >78.0</text>
<rect x="298.06" y="347.18" width="10.14" height="6.52" fill="#fff"/>
<text x="307.79999999999995" y="352.5" font-size="7.0" text-anchor="end" stroke="#000" stroke-width="0.12" fill="#000" >Q3</text>
<rect x="293.78" y="356.38" width="14.42" height="6.52" fill="#fff"/>
<text x="307.79999999999995" y="361.7" font-size="7.0" text-anchor="end" stroke="#000" stroke-width="0.12" fill="#000" >1.57</text>
<ellipse cx="350.1" cy="345.7" rx="5.2" ry="4.2" fill="#000" fill-opacity="0.9" transform="rotate(-10 350.1 345.7)" filter="url(#bl1_6)"/>
<path transform="scale(0.1)" d="M3750 2935h0m12-5h0m78-1h0m-120 15h0m61-7h0m40 9h0m-105 16h0m-13 9h0m61-2h0m40 6h0m49-4h0m17 2h0m-141 3h0m3 1h0m21 1h0m8-2h0m25 2h0m24-3h0m-120 18h0m35 2h0m8-7h0m4 0h0m26-1h0m10 0h0m3 3h0m5 4h0m8-5h0m7-3h0m3 3h0m22-2h0m-131 14h0m22 4h0m2-7h0m9 5h0m4-7h0m6 9h0m1-6h0m3 2h0m83-6h0m27 6h0m-157 10h0m31-1h0m22-1h0m7 6h0m3-8h0m3 3h0m0-2h0m9 2h0m18-1h0m9-1h0m17 0h0m-147 12h0m57-5h0m13 10h0m1-4h0m18-6h0m4 10h0m11-9h0m1-1h0m3 1h0m9 7h0m3-6h0m11 0h0m12 1h0m2 6h0m-134 3h0m7 5h0m41-1h0m0 0h0m26 4h0m0 0h0m1-6h0m1-1h0m12 0h0m15 4h0m5-1h0m8 2h0m12-2h0m8-4h0m12 2h0m-101 15h0m22-7h0m8 1h0m1-3h0m7 6h0m1 3h0m0-1h0m1-5h0m1 6h0m10-1h0m18-1h0m12-3h0m8 0h0m-140 15h0m33-7h0m10-1h0m15 3h0m5 2h0m2-4h0m40 3h0m4-3h0m5-2h0m6 4h0m2 2h0m2 3h0m9-5h0m8 4h0m2-3h0m-134 14h0m30-5h0m11 1h0m1 2h0m2 0h0m19 0h0m4-6h0m8 1h0m15 5h0m3-3h0m-73 11h0m29 3h0m14-3h0m8-4h0m1 5h0m35-4h0m0 6h0m10-2h0m24-2h0m-182 9h0m16 0h0m17 5h0m0-6h0m9 5h0m27-5h0m46 0h0m12 4h0m13 0h0m2 0h0m16 3h0m8-7h0m37 2h0m-216 16h0m12-9h0m16 2h0m28-1h0m16 3h0m3 5h0m12-10h0m9 7h0m6-5h0m9 2h0m16-3h0m0 8h0m1-5h0m36-2h0m19-2h0m-257 16h0m82 1h0m22-2h0m3 0h0m16 0h0m21 4h0m52-2h0m43 1h0m5-3h0m3-1h0m-218 8h0m82 1h0m12 4h0m2 1h0m6-1h0m39-5h0m18 0h0m21 1h0m12 1h0m-186 14h0m3-1h0m78-2h0m33-4h0m103 0h0m-186 15h0m2 3h0m39-7h0m13 5h0m-43 10h0m21-3h0m7-4h0m9 6h0m2 0h0m-125 6h0m45 3h0m46-2h0m6 4h0m5-3h0m32-4h0m37 10h0m-154 9h0m49-7h0m11-2h0m27 2h0m-89 17h0m25-5h0m7-4h0m23 0h0m0 2h0m0 2h0m15 0h0m59-1h0m9 7h0m-131 6h0m27-2h0m1 2h0m49 1h0m1-1h0m1-3h0m4 3h0m-42 13h0m6-4h0m1-4h0m25 4h0m38 1h0m-86 10h0m10 4h0m19-2h0m14-4h0m15-1h0m-126 9h0m23 3h0m27 0h0m11-1h0m25 2h0m19 0h0m32 0h0m32-2h0m-140 10h0m10 2h0m4 1h0m22-2h0m11 3h0m11 0h0m-76 5h0m48 4h0m34 1h0m16-7h0m-167 13h0m96 3h0m6-2h0m16 3h0m-82 7h0m1 4h0m28-9h0m27 6h0m13 4h0m24 0h0m16-10h0m76 10h0m-248 2h0m38 0h0m117 3h0m195-2h0m-244 9h0m117 8h0m-200 2h0m17 4h0m102-4h0m15 1h0m-96 7h0m48 3h0m145 4h0m-204 12h0m2-5h0m61-3h0m43 2h0m-123 16h0m26-4h0m22-1h0m12-3h0m21 7h0m6 1h0m14-4h0m-110 14h0m37-3h0m44 0h0m2-3h0m3-1h0m99 7h0m34-4h0m-209 9h0m13-3h0m0 7h0m35-1h0m16-1h0m-83 9h0m23-3h0m13 3h0m13-3h0m3 4h0m8-3h0m3 4h0m3-2h0m11-1h0m1 1h0m8-2h0m5 0h0m64-1h0m-173 11h0m14 2h0m2-3h0m17 0h0m8 6h0m42 0h0m28-5h0m-75 11h0m32-2h0m11 7h0m6-1h0m10-2h0m2-1h0m9 0h0m4 2h0m16-4h0m18 5h0m12-2h0m1-3h0m-127 13h0m33 1h0m5 0h0m24-1h0m3-2h0m6-3h0m8 0h0m12 1h0m9 5h0m7 0h0m-175 8h0m15 3h0m51-1h0m9-4h0m7 1h0m9 1h0m14 0h0m4 2h0m3-7h0m1 6h0m1-1h0m1-2h0m22 6h0m0-3h0m3 2h0m56-3h0m-154 5h0m7 8h0m5 0h0m5 1h0m0 0h0m3-4h0m3-2h0m7 3h0m3 3h0m4-7h0m2 5h0m4-2h0m4-1h0m10 4h0m6 2h0m0 0h0m5-3h0m11-2h0m10-5h0m22 5h0m6-3h0m4 0h0m16 6h0m11 1h0m6 0h0m12-2h0m28 0h0m39-5h0m-240 14h0m2 0h0m4-5h0m0 5h0m17-1h0m4 2h0m1-4h0m0-1h0m3-1h0m0 2h0m0 3h0m3-5h0m9 9h0m3-5h0m5 4h0m1-4h0m2 4h0m9 0h0m0-5h0m1 5h0m0-4h0m0-2h0m6 3h0m1-1h0m1-3h0m7 4h0m4 2h0m1 0h0m0-6h0m4-1h0m2 1h0m0 0h0m4 7h0m3 0h0m6-2h0m10-1h0m2 0h0m0 4h0m0-6h0m9-3h0m1 7h0m0 2h0m0-6h0m3-1h0m5 6h0m111-3h0m28-2h0m-280 13h0m15-4h0m2 3h0m1-3h0m3-2h0m1 8h0m7-1h0m8-3h0m2 4h0m1-5h0m2 2h0m2-5h0m0 7h0m2 0h0m6-2h0m4 0h0m1-1h0m1-5h0m0 1h0m6 8h0m1-6h0m1-1h0m0 4h0m2-6h0m1 8h0m1-3h0m1 3h0m1-1h0m2 1h0m5-3h0m0-1h0m1 6h0m2-6h0m3 3h0m2 0h0m2-5h0m0 4h0m0-5h0m1-1h0m1 6h0m1-3h0m0 2h0m11-4h0m4 4h0m0 1h0m1-4h0m1 1h0m0 5h0m7-5h0m13 6h0m5-6h0m2 3h0m16 2h0m89-7h0m60 2h0m-314 9h0m2 2h0m2 5h0m16-3h0m1 1h0m2 2h0m6-1h0m2-3h0m12 2h0m1-2h0m0-2h0m5-1h0m4 7h0m1-7h0m3 7h0m1 1h0m0-4h0m4-1h0m1 4h0m2-3h0m2-3h0m0 4h0m1-5h0m1 3h0m2 5h0m0-6h0m1 3h0m2-5h0m0 2h0m1 4h0m1-7h0m1 8h0m3-1h0m1-6h0m1-1h0m1 9h0m0-6h0m1-1h0m0 6h0m0-6h0m2 5h0m0-7h0m2 6h0m1-3h0m0 1h0m2 0h0m1 2h0m2 2h0m1-5h0m1 2h0m1 1h0m1-6h0m0 4h0m1 0h0m0-4h0m1 9h0m0-7h0m1 3h0m0-6h0m2 4h0m2 5h0m0-7h0m0-2h0m3 3h0m1 0h0m0 3h0m0-4h0m2 1h0m1 6h0m3 1h0m0-6h0m2 4h0m1-1h0m1-1h0m1 1h0m0-1h0m1-3h0m1 3h0m1-1h0m2 4h0m2-6h0m1 3h0m4-4h0m2 6h0m6-8h0m2 8h0m2 0h0m1 1h0m0-2h0m8 0h0m2-3h0m2 0h0m11 2h0m0 1h0m17 1h0m0-4h0m6 2h0m-236 12h0m13 1h0m12-9h0m5 5h0m4 0h0m11 2h0m23-5h0m7 2h0m1 2h0m1-1h0m0 5h0m7-5h0m3 3h0m0-6h0m1 5h0m1 0h0m0-1h0m1 0h0m0-1h0m0 1h0m3-3h0m0 6h0m3-3h0m1-2h0m0 1h0m1 5h0m0 0h0m0-1h0m1-7h0m0 0h0m7 6h0m0-3h0m1-2h0m2 5h0m1-1h0m4-3h0m0 2h0m3 1h0m1 2h0m1 0h0m3 0h0m0-1h0m2-2h0m0-5h0m2 6h0m1-3h0m0-4h0m1 2h0m1 2h0m1 5h0m0 1h0m1-4h0m1-1h0m5 5h0m1-6h0m0 2h0m1-5h0m1 2h0m0 7h0m1-2h0m0-7h0m1 0h0m0 0h0m4 6h0m2 1h0m1-5h0m0 1h0m1-4h0m1 1h0m1 1h0m0 1h0m0 4h0m1-5h0m1 0h0m0 6h0m1-5h0m1 6h0m0 0h0m4-3h0m1-4h0m1 0h0m0 2h0m1 4h0m0-5h0m2 5h0m0-1h0m1-4h0m0 3h0m0 4h0m1-5h0m3 1h0m1 3h0m0-3h0m0 0h0m1 3h0m0-5h0m5 0h0m2 5h0m3-8h0m2 8h0m5-3h0m2 2h0m3 1h0m5-5h0m1 4h0m1-2h0m2 0h0m1-1h0m3 4h0m6-6h0m8 3h0m89-3h0m-293 14h0m7-1h0m11-4h0m6 6h0m25-4h0m1 1h0m5-4h0m3 3h0m1 6h0m2-10h0m3 1h0m0 6h0m2-7h0m3 6h0m1-1h0m1 3h0m0-8h0m1 5h0m1 0h0m0 1h0m1-2h0m3-4h0m7 6h0m3 3h0m2-7h0m1-1h0m0 8h0m1 0h0m0 1h0m0-6h0m0 2h0m1 3h0m0-8h0m1 5h0m0-4h0m1 2h0m0-2h0m0-1h0m2 5h0m0 1h0m0-5h0m0 7h0m0-3h0m1-1h0m0 1h0m0-5h0m1 9h0m0-10h0m3 2h0m1-1h0m0 7h0m1-5h0m0 2h0m0 5h0m0-9h0m1 1h0m0 4h0m1-6h0m1 3h0m0 4h0m2-4h0m0 6h0m1-9h0m1 8h0m0-5h0m1 0h0m0 7h0m1-1h0m3-6h0m2 2h0m1 2h0m2-6h0m0 8h0m2-6h0m0 1h0m0 2h0m0-4h0m1 3h0m0-3h0m0 1h0m0 3h0m1 0h0m1-4h0m0-1h0m1 0h0m1 3h0m1-3h0m3 3h0m0 6h0m0-3h0m2 1h0m0-2h0m0 3h0m1-8h0m0 9h0m0-8h0m1 5h0m1 0h0m0 0h0m1-2h0m0 4h0m0-9h0m0 9h0m1-1h0m1-8h0m1 6h0m0-3h0m0-2h0m1 5h0m1-3h0m1 0h0m2-1h0m0 7h0m1-2h0m0-1h0m1-3h0m1 1h0m1-3h0m1 5h0m0 2h0m0-5h0m0 0h0m2 3h0m5-4h0m3-2h0m0 10h0m0 0h0m1-2h0m10-5h0m2-1h0m1 6h0m0-2h0m0-4h0m2 7h0m0-4h0m0-1h0m7-2h0m0 2h0m2 2h0m4-6h0m7 9h0m0-2h0m204-1h0m-389 10h0m26 1h0m3 0h0m3-5h0m2 0h0m1 1h0m1 0h0m0 6h0m0-2h0m10 2h0m2-7h0m0 2h0m2 5h0m0-5h0m1 5h0m1-3h0m0 4h0m1-6h0m1 4h0m0-5h0m3-3h0m1 8h0m1-2h0m3-3h0m4-1h0m0 6h0m0-1h0m2-1h0m1 3h0m2-4h0m1 4h0m0-8h0m1 5h0m2-4h0m1 7h0m2-8h0m2 6h0m2-6h0m1 2h0m1 4h0m0 0h0m1 0h0m0 1h0m1-1h0m2 0h0m1-4h0m0 5h0m1-7h0m0 0h0m2 5h0m0 0h0m1-3h0m0-1h0m1-1h0m0 6h0m1 0h0m1-3h0m2 2h0m1 3h0m0-5h0m2 5h0m1-6h0m0-2h0m2 7h0m0-8h0m0 8h0m0-4h0m1 6h0m0-8h0m1 4h0m0 1h0m0 2h0m1-5h0m0 4h0m1-7h0m2 4h0m1 4h0m2 1h0m0-9h0m1-1h0m0 3h0m1 2h0m0 0h0m1 3h0m2-7h0m0 7h0m1-8h0m0 0h0m0 10h0m1-3h0m0 2h0m1 1h0m0-7h0m0 1h0m1 4h0m0-3h0m1-3h0m1 6h0m0-6h0m1 3h0m3 4h0m1-6h0m0-3h0m2 9h0m1-1h0m1-1h0m0-5h0m1 2h0m1 0h0m0-4h0m1 2h0m0-1h0m0 1h0m2 0h0m0-1h0m0 4h0m1 4h0m0-3h0m1 0h0m0-2h0m2 6h0m1-3h0m0 0h0m0-7h0m1 1h0m0-1h0m2 5h0m6-1h0m2 0h0m0-3h0m2 8h0m0-4h0m3-4h0m6 7h0m3-7h0m0 1h0m2 7h0m3-4h0m1-2h0m4 0h0m4-1h0m3-1h0m2 4h0m1-3h0m5 2h0m2 3h0m5-2h0m-197 10h0m1-3h0m15 0h0m3 6h0m9 1h0m8-7h0m4 1h0m1 0h0m1 5h0m1-4h0m1 6h0m3-9h0m0 9h0m3-5h0m1 3h0m4 0h0m2-3h0m2 4h0m1-6h0m5 6h0m0-1h0m1-6h0m4 0h0m1 1h0m0 3h0m1 1h0m0-2h0m2-1h0m1 4h0m1-1h0m0-6h0m1 3h0m1-2h0m1 7h0m1-7h0m0 5h0m1-6h0m2 0h0m1 4h0m1 2h0m0-3h0m1-3h0m0 0h0m1 3h0m0 1h0m0 0h0m1 5h0m0-1h0m1-9h0m0 4h0m1-3h0m2 2h0m0 3h0m1-1h0m1-3h0m0 2h0m0-4h0m1 6h0m0-1h0m1 3h0m0-4h0m1 5h0m1-3h0m1 2h0m1-3h0m0-4h0m0 8h0m0-2h0m2-2h0m0-5h0m0 9h0m0-7h0m1 4h0m0-1h0m0-2h0m1-3h0m0 2h0m0 6h0m1-1h0m0-6h0m0 5h0m0 2h0m2-5h0m0-3h0m1 6h0m0-1h0m0 5h0m1-3h0m1 2h0m0 0h0m3-8h0m0-1h0m1 7h0m0 1h0m1-1h0m0-1h0m0-4h0m3 2h0m0 0h0m1 1h0m1 5h0m1-4h0m0 1h0m1-3h0m1 2h0m0-1h0m3-1h0m1 5h0m2 0h0m0-3h0m1-4h0m0 3h0m1 2h0m0-3h0m0 5h0m2-3h0m0 0h0m1 4h0m0-7h0m1 1h0m0 5h0m2-8h0m1 8h0m1-1h0m0-2h0m1-3h0m2 0h0m1 1h0m2-2h0m1 4h0m0 1h0m0-7h0m0 2h0m2 7h0m1-9h0m0 4h0m0 0h0m1 0h0m1 4h0m0-7h0m1 2h0m1 2h0m0-4h0m3 5h0m1 4h0m4-1h0m2-3h0m2-4h0m1 3h0m0-3h0m0 0h0m1 2h0m7 5h0m0-8h0m3 0h0m3 7h0m0 1h0m14 0h0m7 0h0m125-7h0m-328 9h0m20 7h0m8 2h0m3-2h0m3 0h0m9-4h0m1 5h0m2 1h0m6-8h0m6 0h0m2 1h0m0 2h0m2 5h0m3-9h0m6 0h0m1 0h0m0 6h0m1-5h0m1 1h0m1 6h0m0 1h0m1-3h0m0-2h0m1 3h0m0-1h0m1-7h0m1 8h0m1-7h0m1 8h0m0-5h0m1 6h0m0-8h0m0 8h0m0-7h0m0 3h0m1-3h0m0 0h0m2-1h0m0 3h0m0 2h0m0-3h0m1 0h0m0 1h0m1 3h0m0-7h0m2 7h0m0-4h0m0 0h0m1-4h0m0 9h0m2-4h0m0-4h0m1 7h0m0-6h0m0 1h0m0 0h0m0 2h0m1 2h0m1 2h0m0-5h0m1 2h0m0-2h0m1-1h0m1-3h0m2 7h0m0 0h0m2-1h0m0-6h0m1 0h0m3 3h0m1 3h0m0-2h0m1 1h0m0-2h0m0 2h0m0 2h0m1-2h0m1-5h0m0 4h0m0 2h0m0-4h0m1 5h0m0 3h0m0-1h0m0 0h0m1-6h0m0-2h0m0 1h0m0-2h0m0 8h0m0-3h0m1-4h0m1 5h0m0-2h0m1-2h0m0 5h0m0-1h0m1-3h0m0 2h0m3 5h0m0-4h0m1-3h0m0-1h0m1 6h0m0-8h0m0 4h0m0-3h0m2 3h0m1 5h0m0-8h0m1-1h0m0 7h0m3 2h0m2-7h0m1 1h0m1 7h0m0-3h0m1-3h0m1-1h0m0 4h0m0 2h0m0-4h0m0-4h0m1 1h0m0 7h0m0-6h0m1-2h0m0 2h0m1 1h0m1 5h0m2-3h0m1-6h0m1 1h0m3 3h0m1-1h0m1-1h0m1 5h0m2-3h0m2 5h0m1-2h0m1-2h0m6 3h0m2 1h0m1-5h0m0 2h0m1 1h0m3-6h0m5 6h0m1-7h0m3 1h0m1 1h0m1 1h0m9 0h0m31 3h0m-215 6h0m32 2h0m13-1h0m4 2h0m2-4h0m1 0h0m3 2h0m0-2h0m5 9h0m2-4h0m4 3h0m0-3h0m1-4h0m1 7h0m0 0h0m1-3h0m1-3h0m2-1h0m0 0h0m1-1h0m1 3h0m0-2h0m1 5h0m1-1h0m1 3h0m2-3h0m1-5h0m2 1h0m0 7h0m2 0h0m0-3h0m0-2h0m1-3h0m2 1h0m0 0h0m1 3h0m2-4h0m0 6h0m0 2h0m0-9h0m0 4h0m0 3h0m1 1h0m4-5h0m0-3h0m1 8h0m2-3h0m0 5h0m0 0h0m1-5h0m0-4h0m0 6h0m2-3h0m3 0h0m1 1h0m1-4h0m0 6h0m0-6h0m3 8h0m1 0h0m1-6h0m0-1h0m2 4h0m0 3h0m0-7h0m1-1h0m0 7h0m1-3h0m1 2h0m1-1h0m0-1h0m1 4h0m1-2h0m0 2h0m1-1h0m1-1h0m3 1h0m1-5h0m1 5h0m2-3h0m0-1h0m1 3h0m0-5h0m0 2h0m3-3h0m0 3h0m1-2h0m1 3h0m2-3h0m3 5h0m0-1h0m1 0h0m0 3h0m0-5h0m1-1h0m0 7h0m0-5h0m3 1h0m5-2h0m2 3h0m3-1h0m1-2h0m4 5h0m3-8h0m6 4h0m1 1h0m11 2h0m6 0h0m-161 5h0m9 0h0m10 0h0m2 0h0m1 5h0m2-1h0m10-2h0m2 4h0m2-9h0m2 9h0m0-7h0m1 4h0m3 2h0m0-5h0m1 3h0m1-1h0m2 4h0m2-4h0m2-4h0m1 8h0m3-5h0m0 5h0m2-9h0m2 1h0m0 2h0m0 3h0m1 2h0m0 0h0m1-7h0m4 4h0m0 2h0m0-3h0m4-1h0m2-3h0m0 10h0m1-3h0m1-7h0m0 10h0m0-2h0m1-7h0m0 1h0m2 2h0m0 2h0m1 1h0m0 1h0m4-1h0m5-6h0m0 1h0m1 3h0m0 4h0m0-7h0m1 3h0m1 4h0m4-7h0m1 1h0m1 3h0m0-1h0m1 4h0m1-5h0m0-3h0m1 5h0m2-6h0m2 9h0m1-7h0m0 8h0m0-3h0m1-4h0m1-1h0m0 8h0m1-7h0m0-1h0m0 5h0m2 1h0m2 1h0m2 0h0m4-2h0m1-5h0m8 3h0m2 2h0m1 1h0m1-8h0m0 10h0m4-8h0m2 0h0m1 4h0m0 0h0m1-6h0m0 1h0m1-1h0m1 1h0m19 8h0m2-1h0m-165 8h0m19-5h0m12 5h0m4 2h0m1-6h0m3 1h0m2 3h0m5-1h0m3 0h0m4 4h0m0-7h0m0-1h0m3 4h0m1 1h0m0 1h0m5 0h0m3-1h0m1-2h0m2-1h0m1-2h0m0 7h0m2-4h0m6 1h0m1-1h0m2 5h0m1-2h0m3-2h0m1 2h0m3-2h0m0 1h0m4 3h0m0-3h0m2-1h0m1-4h0m1 6h0m10 1h0m1-5h0m3-3h0m0 4h0m2 0h0m0-3h0m0 5h0m1-2h0m2 5h0m6 0h0m8-6h0m4 7h0m11-5h0m3-3h0m-113 12h0m5 6h0m2-10h0m14 1h0m4 2h0m2-3h0m2 6h0m2 3h0m2-8h0m1 8h0m0-2h0m8 0h0m0-3h0m2-4h0m5 0h0m1 6h0m1-6h0m4 1h0m2 2h0m3 5h0m2-6h0m18 8h0m2-5h0m8-2h0m0-3h0m19 7h0m1-7h0m11 3h0m1-2h0m-123 13h0m22 0h0m12-2h0m1 1h0m22 3h0m11-5h0m10 8h0m2-7h0m18 2h0m9-4h0m18 2h0m-134 8h0m10 5h0m15 5h0m23-6h0m5-3h0m0 5h0m1-5h0m7 5h0m4-6h0m8 1h0m43 0h0m-79 14h0m30 5h0m-82 1h0m35 6h0m59-2h0m-121 12h0m54 7h0m169 5h0" stroke="#000" stroke-opacity="0.65" stroke-width="7.0" stroke-linecap="square" fill="none"/>
<rect x="330.9" y="285.4" width="78.3" height="78.80000000000001" fill="none" stroke="#000" stroke-width="1.1"/>
<line x1="359.9" y1="285.4" x2="359.9" y2="364.2" stroke="#000" stroke-width="1.1" />
<line x1="330.9" y1="327.0" x2="409.2" y2="327.0" stroke="#000" stroke-width="1.1" />
<rect x="332.80" y="287.68" width="10.14" height="6.52" fill="#fff"/>
<text x="333.2" y="293.0" font-size="7.0" stroke="#000" stroke-width="0.12" fill="#000" >Q1</text>
<rect x="332.80" y="296.48" width="14.42" height="6.52" fill="#fff"/>
<text x="333.2" y="301.79999999999995" font-size="7.0" stroke="#000" stroke-width="0.12" fill="#000" >1.26</text>
<rect x="397.36" y="287.68" width="10.14" height="6.52" fill="#fff"/>
<text x="407.09999999999997" y="293.0" font-size="7.0" text-anchor="end" stroke="#000" stroke-width="0.12" fill="#000" >Q2</text>
<rect x="393.08" y="296.48" width="14.42" height="6.52" fill="#fff"/>
<text x="407.09999999999997" y="301.79999999999995" font-size="7.0" text-anchor="end" stroke="#000" stroke-width="0.12" fill="#000" >7.07</text>
<rect x="332.80" y="347.18" width="10.14" height="6.52" fill="#fff"/>
<text x="333.2" y="352.5" font-size="7.0" stroke="#000" stroke-width="0.12" fill="#000" >Q4</text>
<rect x="332.80" y="356.38" width="14.42" height="6.52" fill="#fff"/>
<text x="333.2" y="361.7" font-size="7.0" stroke="#000" stroke-width="0.12" fill="#000" >91.1</text>
<rect x="397.36" y="347.18" width="10.14" height="6.52" fill="#fff"/>
<text x="407.09999999999997" y="352.5" font-size="7.0" text-anchor="end" stroke="#000" stroke-width="0.12" fill="#000" >Q3</text>
<rect x="393.08" y="356.38" width="14.42" height="6.52" fill="#fff"/>
<text x="407.09999999999997" y="361.7" font-size="7.0" text-anchor="end" stroke="#000" stroke-width="0.12" fill="#000" >0.54</text>
<ellipse cx="449.5" cy="344.5" rx="6.6" ry="5.4" fill="#000" fill-opacity="0.95" transform="rotate(-25 449.5 344.5)" filter="url(#bl1_6)"/>
<path transform="scale(0.1)" d="M4503 3137h0m1 9h0m-21 13h0m0 5h0m63 1h0m-124 4h0m9 14h0m70-8h0m104 19h0m32-9h0m-150 29h0m44-3h0m8-2h0m23 15h0m106-5h0m-260 14h0m35-7h0m49 2h0m48 1h0m62-2h0m-200 27h0m14-7h0m155 6h0m14-4h0m-48 15h0m39-7h0m-168 12h0m153 6h0m29-7h0m105 7h0m-257 6h0m8 0h0m12-4h0m14 15h0m26-4h0m17-3h0m1 1h0m-24 15h0m35 3h0m35-1h0m-109 10h0m127-2h0m15 0h0m-161 11h0m21 2h0m68-8h0m18 8h0m43-3h0m7-2h0m6 3h0m-146 9h0m28-2h0m43 2h0m3-4h0m8 8h0m34-3h0m-164 12h0m17-4h0m34-5h0m2 5h0m17-1h0m14 4h0m16-7h0m11 7h0m14-1h0m10 2h0m38-7h0m65 5h0m-231 7h0m36 2h0m1 3h0m14-2h0m28-5h0m0 6h0m2 1h0m3-9h0m1 4h0m0 0h0m8 6h0m13-1h0m6-6h0m5 5h0m0 0h0m4-3h0m12 3h0m98-3h0m55-4h0m-293 12h0m16-3h0m4 4h0m2-1h0m7 3h0m12-6h0m5 8h0m18-5h0m1-1h0m5 6h0m6-4h0m14 0h0m1 0h0m5-2h0m14 3h0m7 3h0m1-3h0m1 1h0m13 1h0m8-4h0m0 5h0m12-5h0m0-1h0m14 4h0m14 1h0m16 2h0m44-1h0m-292 5h0m44 6h0m3-6h0m9 6h0m7-3h0m3-1h0m28 4h0m4-6h0m3 0h0m3 3h0m3-3h0m1 0h0m0-1h0m2 8h0m7-3h0m3-6h0m4 7h0m0-3h0m11 5h0m3 0h0m2-3h0m12 1h0m0-7h0m0 7h0m1 0h0m0 2h0m1-3h0m4 3h0m4-7h0m0 7h0m0-2h0m8-2h0m1-1h0m0-5h0m4 8h0m3-5h0m2 2h0m0 3h0m14-3h0m1-5h0m0 2h0m3 6h0m3-7h0m1 3h0m15 5h0m6-2h0m2-2h0m2 3h0m0 1h0m20-4h0m23-4h0m47 1h0m42 2h0m-333 10h0m22-2h0m9 3h0m24-4h0m16 5h0m0-1h0m13 1h0m0 0h0m5-4h0m5 3h0m2-4h0m4 6h0m1-2h0m10 4h0m3-5h0m2-4h0m2 2h0m7 7h0m5 1h0m4 0h0m2 0h0m2-7h0m1 5h0m1-5h0m5 7h0m5-4h0m1-2h0m0 1h0m0 4h0m1-9h0m8 1h0m1 5h0m1 2h0m1-1h0m2-4h0m1 3h0m5-5h0m1 8h0m9-6h0m4 4h0m3 3h0m6-8h0m4 2h0m5 1h0m4-1h0m0-3h0m52 7h0m18-1h0m-273 5h0m10 0h0m1 3h0m6 2h0m38 0h0m4 2h0m17-6h0m4 3h0m2-6h0m2 3h0m4 6h0m2-6h0m7 3h0m0 4h0m1-4h0m7-6h0m0 5h0m1-2h0m5 3h0m0 3h0m1-9h0m1 2h0m2 1h0m0 7h0m1-6h0m1 3h0m6 0h0m2 0h0m2 0h0m2-1h0m0-5h0m1 7h0m3-1h0m1-5h0m0 2h0m0 0h0m2 4h0m1-3h0m0-2h0m2 0h0m1 2h0m1 0h0m3 1h0m2-1h0m5 1h0m1-2h0m2 5h0m0-9h0m3 2h0m1 5h0m1-2h0m4 1h0m2 1h0m4 3h0m5-6h0m4 5h0m8-2h0m2 3h0m6-1h0m2-6h0m1 3h0m3 3h0m3-2h0m1-1h0m5-1h0m7-5h0m0 1h0m13 9h0m17-9h0m7 5h0m30 3h0m-329 7h0m42 2h0m8-6h0m7 7h0m6-7h0m1 0h0m33 4h0m1-3h0m6 6h0m3-6h0m2 2h0m1 0h0m1 1h0m8-2h0m4 4h0m1 1h0m2-9h0m2 3h0m8 5h0m2-3h0m0-1h0m2 3h0m4-1h0m4 4h0m6-7h0m0-2h0m0 1h0m2 8h0m0-1h0m2-2h0m0 0h0m1-5h0m3 1h0m1 5h0m1 0h0m0-8h0m0 5h0m1 4h0m4 1h0m1-1h0m1-6h0m0 3h0m0-1h0m2 1h0m0 1h0m1-2h0m0 3h0m1-1h0m4-2h0m0-2h0m1 4h0m2-6h0m1 2h0m1-3h0m1 1h0m1 6h0m1-6h0m6 3h0m1 5h0m2-1h0m1-6h0m0 6h0m0-8h0m2 6h0m0-6h0m2 6h0m1-6h0m5 1h0m3 8h0m2 0h0m0-6h0m0 5h0m1 1h0m3-5h0m3 2h0m2 0h0m0 3h0m1-7h0m7 5h0m1-5h0m4 1h0m2-1h0m1-1h0m1 4h0m0 3h0m1 1h0m1-4h0m14-1h0m11 4h0m11-5h0m156 0h0m10 3h0m-452 11h0m21-4h0m11 3h0m35-4h0m12 3h0m3 2h0m6-5h0m11 8h0m1-8h0m11 3h0m1 1h0m4-3h0m9-3h0m4 1h0m8 8h0m7-1h0m2 1h0m1-5h0m0 0h0m0 3h0m1-3h0m0-4h0m0 6h0m2 4h0m0-3h0m0 1h0m1-7h0m3 6h0m0-5h0m3 6h0m1-7h0m1 3h0m0 2h0m0 4h0m3-3h0m0 1h0m1-2h0m0-2h0m1-3h0m1 3h0m0-1h0m1 1h0m0 3h0m1-1h0m0 3h0m2-9h0m2 2h0m0 0h0m2 5h0m1-2h0m2-3h0m1 2h0m0-4h0m1 5h0m1 0h0m2 2h0m1 0h0m1 3h0m0-2h0m0-3h0m0-1h0m1 3h0m1 0h0m1-4h0m0 2h0m1 1h0m1-5h0m1 8h0m2-6h0m1 1h0m1 0h0m1 2h0m1 2h0m0-6h0m1-1h0m1 0h0m0 1h0m1 8h0m2-1h0m1-1h0m1-1h0m3 0h0m1 2h0m2-7h0m0 3h0m0 3h0m3-8h0m1 1h0m4 6h0m0-2h0m1 0h0m4-3h0m1 3h0m1-3h0m5 8h0m4-2h0m1-1h0m1-4h0m2 2h0m2-1h0m0 1h0m0 4h0m2-4h0m0 4h0m2-4h0m0 3h0m4-3h0m9 4h0m12-1h0m6-2h0m4-6h0m21 3h0m94 6h0m-337 1h0m7 0h0m34 8h0m6-4h0m3 1h0m3-3h0m3 2h0m4 2h0m2 1h0m1-2h0m0-3h0m0 1h0m1 4h0m3-3h0m4 1h0m12-5h0m0 3h0m1 3h0m1-1h0m0 3h0m1-1h0m0 3h0m0-7h0m0 6h0m3-9h0m0 1h0m2 3h0m2 3h0m1-3h0m0 4h0m1 2h0m1-6h0m0 2h0m2 3h0m1-7h0m3 3h0m1-3h0m0 6h0m0-1h0m0 2h0m1-1h0m0-1h0m3-6h0m0 8h0m2-4h0m0 1h0m1-4h0m1 8h0m0-2h0m4-2h0m0 0h0m2 4h0m0-2h0m1-8h0m0 5h0m1 3h0m1-5h0m2 6h0m1-1h0m1 1h0m1-4h0m0 0h0m1-1h0m1 2h0m1-4h0m1-1h0m0 0h0m0 8h0m0 1h0m1-2h0m1-1h0m0-5h0m1 2h0m1-4h0m0 4h0m0 3h0m0-3h0m1 1h0m1-3h0m0 2h0m3 2h0m0-1h0m0-4h0m1 3h0m1-4h0m3 4h0m1 5h0m0-2h0m1-2h0m0 0h0m0 3h0m0 1h0m0-9h0m1 9h0m1-2h0m0-6h0m1 1h0m0 7h0m2-5h0m1 3h0m0 2h0m1-9h0m3 8h0m1-7h0m1 1h0m0-2h0m0 4h0m1 4h0m2-8h0m1 3h0m2 0h0m1 5h0m3-4h0m1 4h0m1 0h0m1 0h0m1-5h0m1 3h0m1-3h0m1 5h0m0 0h0m0 2h0m5-6h0m1-4h0m0 0h0m2 6h0m0-3h0m2 3h0m1 4h0m2-10h0m1 5h0m2-2h0m1 4h0m7 1h0m4-3h0m12 3h0m4-4h0m1 3h0m8 3h0m70-1h0m-334 5h0m20 1h0m1 1h0m8-3h0m16-3h0m26 4h0m9 5h0m7-1h0m2 0h0m2 1h0m0-7h0m6 5h0m1-3h0m0-3h0m0 7h0m2-2h0m0 4h0m1-4h0m2 4h0m1-8h0m2 6h0m2 0h0m1-1h0m2 2h0m0-1h0m0-3h0m1-4h0m1 1h0m1 8h0m0-9h0m1 2h0m0 5h0m1-5h0m0-2h0m1 9h0m0-7h0m1 4h0m1-5h0m1 1h0m1 5h0m1 2h0m3-3h0m3 1h0m1-5h0m1 1h0m2 6h0m1-7h0m1-2h0m0 4h0m0-3h0m0 7h0m1-2h0m1-4h0m1 3h0m1-4h0m0 8h0m1-8h0m0 8h0m1-6h0m0 3h0m1 2h0m2-5h0m1 1h0m1 5h0m1-1h0m0-8h0m0 6h0m0 3h0m0-2h0m0-2h0m1-6h0m0 7h0m0-6h0m0 7h0m1-5h0m0 4h0m2-3h0m0 3h0m0-5h0m1 8h0m0-7h0m2 6h0m0-7h0m0 5h0m1-1h0m0 3h0m1-7h0m1 6h0m1-5h0m0 5h0m0-1h0m1 0h0m0 1h0m0 1h0m0-1h0m1-8h0m2 8h0m0-7h0m1 2h0m0 0h0m0-1h0m0-1h0m1 7h0m1-4h0m0 4h0m0-4h0m1 4h0m1 2h0m1-8h0m0 3h0m1-1h0m0-4h0m0 0h0m1 0h0m1 2h0m1 8h0m1-3h0m2 3h0m1-8h0m0 5h0m1-5h0m1 5h0m1 3h0m1-4h0m0-3h0m0 6h0m2-4h0m0-4h0m1 6h0m0-5h0m0 8h0m1-1h0m0 0h0m0-2h0m1-2h0m2 5h0m1-5h0m0-3h0m0 4h0m1-2h0m0-2h0m1 3h0m1 4h0m0-1h0m1 2h0m1-3h0m0-1h0m0 2h0m1-1h0m1 0h0m2-3h0m1-1h0m0 1h0m0 2h0m1-5h0m2 1h0m1 5h0m0 3h0m0-9h0m4 4h0m8-4h0m2-1h0m1 7h0m1-2h0m3 1h0m2-2h0m2 3h0m1 2h0m1-5h0m8 1h0m2 0h0m5 1h0m19 0h0m9 4h0m21-1h0m-243 2h0m12-1h0m4 0h0m6 3h0m6-3h0m15 1h0m1 5h0m8-5h0m0 7h0m1-5h0m3-2h0m0 4h0m2 2h0m0 2h0m0-7h0m1 2h0m0-2h0m1-1h0m0 7h0m1 0h0m1-7h0m2 3h0m1-3h0m0 4h0m2-1h0m2-4h0m1 3h0m1-1h0m3 2h0m0 3h0m1-6h0m0 5h0m0-4h0m1 5h0m1-5h0m0 5h0m0-2h0m0 2h0m1-4h0m1 0h0m1 6h0m1-7h0m2 2h0m0-4h0m1 1h0m1 0h0m3 3h0m1-4h0m1 0h0m0 2h0m0 2h0m2 0h0m1-3h0m0 3h0m1 5h0m0-5h0m0 0h0m1 0h0m1 3h0m0 2h0m2 0h0m0-7h0m0-2h0m0 4h0m0-1h0m1 3h0m1-4h0m1 4h0m1-1h0m1 2h0m0-5h0m1 7h0m1-2h0m0-1h0m1 4h0m1-9h0m2 5h0m0 4h0m0-2h0m1-4h0m0 2h0m0 4h0m2-8h0m1 7h0m0-1h0m1-6h0m1-1h0m1 6h0m1-4h0m2 5h0m1-7h0m2 5h0m1-5h0m1 1h0m0 7h0m1-5h0m1 1h0m1-5h0m3 2h0m0 0h0m0 8h0m1-10h0m0 9h0m0-3h0m2 2h0m0-4h0m0 4h0m2-5h0m3 5h0m0 1h0m1 0h0m0 0h0m1-3h0m1-4h0m0 3h0m7-5h0m0 9h0m3-5h0m0-2h0m4-2h0m1 2h0m1 3h0m2 1h0m1 0h0m0 4h0m7-4h0m0-4h0m0-1h0m2 1h0m0 1h0m1 3h0m0-2h0m0 3h0m1-1h0m1-1h0m1 5h0m0-7h0m1-1h0m6 2h0m0-3h0m1 5h0m1-2h0m1 0h0m7-2h0m6-2h0m11 2h0m13-2h0m34 2h0m56 2h0m-329 14h0m30-3h0m7 0h0m11 3h0m0-4h0m2-4h0m3 5h0m2-3h0m0 4h0m1-1h0m2 3h0m5-7h0m2 3h0m1 3h0m1-1h0m1-2h0m1 5h0m5-8h0m2 1h0m0 2h0m1 3h0m1-5h0m0-1h0m0 1h0m1 2h0m2-2h0m2 1h0m2 1h0m0 4h0m4 0h0m0-1h0m2-1h0m0-1h0m4 3h0m1-3h0m0-2h0m0 6h0m1-5h0m1 1h0m0 0h0m0-2h0m1 5h0m0-2h0m2-6h0m1 3h0m1 6h0m2-1h0m0-7h0m0-1h0m1 9h0m0-9h0m1 1h0m1 6h0m1 3h0m0-3h0m0 0h0m1-6h0m0 0h0m2 5h0m1-5h0m1 0h0m2 2h0m0 4h0m0-6h0m0 2h0m1 5h0m1-3h0m0 3h0m1-1h0m0-2h0m0-5h0m1 2h0m2 3h0m1-1h0m0-1h0m0 6h0m1-1h0m0-2h0m0-5h0m1 4h0m0-2h0m0 3h0m1 4h0m0-2h0m0-4h0m1 2h0m0-1h0m1 3h0m1 0h0m1-5h0m0 7h0m1-8h0m0 0h0m1 1h0m1 4h0m1-1h0m0 0h0m0 2h0m0-1h0m0-2h0m1-3h0m0 3h0m0-3h0m1 2h0m2 1h0m0-1h0m1 2h0m1 3h0m1-2h0m0-3h0m1 0h0m0 2h0m1-4h0m0 7h0m0-4h0m2-2h0m1-2h0m2 0h0m1 8h0m2-2h0m3-5h0m1 6h0m1-2h0m0 3h0m2 1h0m3-4h0m1-4h0m0 5h0m1 3h0m2-9h0m0 1h0m0 3h0m1 2h0m2-2h0m0-2h0m1 6h0m0 0h0m3-7h0m1 0h0m2 4h0m0-3h0m1 3h0m1-1h0m1-1h0m3 3h0m0-7h0m1 7h0m0-6h0m6 5h0m7 1h0m1-2h0m4-4h0m0 2h0m5-2h0m1 4h0m15 2h0m12-1h0m52 1h0m106 1h0m-399 10h0m9-6h0m4-1h0m14 0h0m5 2h0m3 2h0m2-4h0m9 2h0m1 6h0m8-5h0m1-2h0m3 7h0m7-5h0m3 3h0m1-2h0m2 3h0m1 2h0m1-5h0m1 4h0m2-3h0m1 1h0m2-5h0m1 1h0m2 3h0m1 0h0m1 0h0m0-6h0m1 9h0m0-7h0m1 1h0m1-2h0m2 3h0m2 1h0m1-5h0m0 4h0m0-3h0m1 3h0m0 3h0m2-3h0m1-1h0m0-2h0m2 2h0m1 4h0m0-4h0m0 5h0m1-6h0m0-2h0m0 9h0m1-5h0m0-4h0m2 2h0m0 2h0m1 2h0m0-2h0m1 2h0m1 0h0m0 3h0m1-7h0m1 3h0m0-1h0m2-3h0m2 9h0m0-4h0m1 3h0m1-6h0m0 6h0m0-4h0m0-3h0m1 4h0m0-5h0m1 2h0m0 6h0m1-3h0m0 3h0m1 1h0m1-4h0m0 3h0m1-4h0m0-1h0m1 2h0m0-3h0m0-1h0m1 0h0m0-1h0m1 5h0m0 0h0m0-6h0m1 3h0m0 2h0m0-2h0m1 5h0m1 0h0m1-2h0m1 4h0m0-5h0m2 2h0m0-5h0m1 5h0m1 2h0m0 1h0m0-2h0m1 2h0m0-6h0m0 3h0m1-4h0m0 2h0m1 3h0m0-7h0m0 3h0m0 0h0m1 3h0m0 0h0m1-1h0m2-4h0m1 5h0m0 1h0m0 0h0m0-4h0m0-1h0m0-2h0m2 6h0m2-2h0m0-5h0m1 10h0m1-7h0m0 5h0m1-3h0m1-3h0m0 6h0m1-5h0m0 2h0m0-4h0m0 5h0m1 1h0m0 1h0m0-7h0m2 1h0m1-1h0m2 5h0m0-5h0m1 1h0m0 3h0m1 0h0m2 1h0m1 1h0m1 0h0m0-1h0m0-6h0m1 6h0m0 4h0m1-6h0m0-2h0m1-1h0m1-1h0m2 3h0m1 2h0m1-1h0m2 3h0m3-6h0m0 3h0m3 3h0m1-3h0m1 1h0m0-1h0m0 2h0m1 3h0m0 1h0m2-8h0m0 1h0m1 1h0m0-3h0m1 4h0m5-2h0m11 2h0m4 0h0m1-4h0m19 6h0m1-1h0m9-6h0m1 1h0m5 0h0m44 0h0m-305 15h0m39-3h0m0 7h0m22-10h0m5 8h0m7-8h0m2 7h0m0-4h0m1 1h0m2 3h0m3 2h0m3-4h0m0-3h0m1 5h0m2-1h0m0 2h0m2-1h0m1 2h0m3 0h0m1-7h0m3 6h0m3-3h0m0 0h0m0-3h0m2-2h0m2 1h0m1 9h0m0-2h0m1-1h0m3-6h0m1 7h0m0-5h0m0 1h0m1-2h0m1 0h0m0 2h0m1-2h0m1 8h0m0-5h0m1-1h0m2 6h0m0-5h0m1-3h0m1 5h0m1 2h0m0-2h0m2-5h0m0 0h0m2 1h0m0-3h0m1 7h0m0-7h0m2 4h0m2-3h0m1 0h0m0 2h0m0 6h0m0-8h0m0 5h0m2-5h0m0 0h0m1 4h0m1 2h0m0-4h0m1 6h0m2-8h0m1 5h0m1-2h0m0 1h0m0-5h0m2 10h0m0-8h0m0 0h0m1 2h0m0-1h0m1-1h0m0 7h0m0 1h0m0-3h0m1-5h0m1 2h0m0 5h0m1-3h0m1-4h0m1 7h0m0 1h0m2-5h0m0 3h0m0 2h0m0-8h0m1 5h0m1 3h0m0-1h0m0-2h0m1-5h0m1 0h0m2 7h0m0-6h0m1 3h0m1-5h0m2 1h0m0 4h0m1-3h0m0 2h0m1-2h0m3 0h0m1 7h0m0-9h0m1 2h0m1 4h0m0-1h0m2-4h0m0-1h0m2 5h0m1 2h0m0 2h0m1-6h0m3 1h0m2 0h0m1-4h0m1 1h0m4 0h0m0 4h0m3 3h0m1-4h0m1 3h0m9-4h0m1 4h0m1-6h0m0-2h0m2 2h0m3 8h0m3-3h0m4 0h0m1 2h0m1-8h0m1 0h0m3-1h0m0 4h0m28-3h0m25 0h0m-262 15h0m2-4h0m11 3h0m12 1h0m22 1h0m2 3h0m4-5h0m2-4h0m1 5h0m0-5h0m1 1h0m5 0h0m0 2h0m1 0h0m7 4h0m6-4h0m1 2h0m0 1h0m4-5h0m0-2h0m1 5h0m2 1h0m6 0h0m1-2h0m4 4h0m1-3h0m2 4h0m2-9h0m8 9h0m1-8h0m0 0h0m0 4h0m2 2h0m1-5h0m0 7h0m2-4h0m1-3h0m0 2h0m0 4h0m1-4h0m0 5h0m0-7h0m1 8h0m1-8h0m1-2h0m0 0h0m1 3h0m4 5h0m0-4h0m0-2h0m0 6h0m2-6h0m0-1h0m0 3h0m0 5h0m2 0h0m0-9h0m1 2h0m0 7h0m2-8h0m1 6h0m1-5h0m0-1h0m3 2h0m2-1h0m3 6h0m1-6h0m1 5h0m0-2h0m6 5h0m0-8h0m0 5h0m1-3h0m2-3h0m1 1h0m0 3h0m1-2h0m0 0h0m0 0h0m2-2h0m2 7h0m2-4h0m0 1h0m1-3h0m0 4h0m1-3h0m1 6h0m6-4h0m1-4h0m0 8h0m2-3h0m0-3h0m6 0h0m1-2h0m1 1h0m2 0h0m3 3h0m0 3h0m3-5h0m2 0h0m2-1h0m1 4h0m1-5h0m9 1h0m4 1h0m21-1h0m13 1h0m8 3h0m-206 4h0m1 8h0m3-3h0m0-3h0m1 6h0m5-5h0m12 3h0m4 2h0m3 1h0m1 1h0m3-7h0m0 4h0m1 3h0m5-3h0m0-6h0m1 4h0m9 3h0m0 0h0m2-7h0m1-1h0m3 4h0m3 5h0m0-5h0m1 5h0m0-4h0m1-2h0m2 5h0m1-5h0m1 2h0m0-4h0m0 1h0m1 4h0m1-3h0m0-2h0m0 3h0m1 1h0m1-3h0m0 6h0m1-2h0m2-1h0m2 1h0m0 4h0m1-3h0m1-3h0m0 1h0m1 0h0m8-4h0m2 4h0m1-1h0m0-1h0m3-1h0m1 6h0m1-7h0m1 4h0m1-4h0m0 3h0m1 1h0m2 1h0m3 4h0m0 0h0m1-8h0m1 0h0m1-1h0m0 9h0m1-8h0m0-2h0m1 2h0m3 3h0m2 1h0m0 3h0m3-8h0m0 4h0m1-4h0m1-1h0m3 3h0m0 7h0m1-4h0m1 0h0m1-5h0m7 0h0m2 0h0m2 7h0m3-7h0m11 5h0m2-2h0m6 2h0m15 0h0m118-3h0m-300 12h0m9 4h0m2 0h0m3-1h0m3-3h0m6-3h0m2 1h0m10 0h0m9 2h0m1 4h0m6-9h0m4 3h0m4 6h0m2-3h0m0-3h0m1 2h0m2-4h0m0 3h0m2 2h0m0-5h0m5-1h0m0 5h0m1 0h0m1-2h0m2 2h0m3 2h0m3 2h0m1 0h0m2-8h0m2 1h0m2 4h0m0-6h0m1 9h0m1 0h0m1-4h0m2 5h0m4-4h0m3 4h0m4-3h0m2 1h0m0 1h0m3-7h0m1-2h0m2 5h0m3-3h0m1 2h0m0 3h0m2-4h0m1 1h0m3 1h0m6-3h0m6 6h0m2-5h0m11 1h0m1-3h0m4 6h0m7-1h0m10-5h0m5 3h0m7 1h0m14 2h0m-170 5h0m9 0h0m3 2h0m2 1h0m19-4h0m4 0h0m2 4h0m0 2h0m6-7h0m2 8h0m2-1h0m3-5h0m2 1h0m2 4h0m2 2h0m2 1h0m7-6h0m1 0h0m2 1h0m5 1h0m2-3h0m3 0h0m4 1h0m10 5h0m2-8h0m2 6h0m1-5h0m1-1h0m21 0h0m6 1h0m3 3h0m2 5h0m21-1h0m10-4h0m7 3h0m-195 6h0m19 1h0m7 0h0m2 5h0m8-3h0m23-7h0m0 2h0m1 2h0m5 0h0m1 6h0m3-5h0m7-2h0m5-2h0m4 8h0m1-2h0m9-5h0m8 1h0m1 6h0m6-5h0m4 5h0m1-7h0m1 3h0m1-4h0m5 5h0m20 4h0m7-9h0m3 8h0m54-4h0m-187 8h0m3 4h0m6 1h0m18-4h0m1-4h0m12 10h0m0-6h0m3-4h0m5 9h0m0-4h0m38-5h0m16 6h0m7 3h0m5-7h0m69 2h0m-214 13h0m34 2h0m20-8h0m10 5h0m26-4h0m3 8h0m23-5h0m11 2h0m13 1h0m43 1h0m26-3h0m22-2h0m43 0h0m-206 8h0m5 7h0m5-8h0m12 7h0m45 0h0m10-8h0m-58 13h0m15-3h0m69 3h0m-113 15h0m43-4h0m-20 16h0m3 12h0m55 8h0" stroke="#000" stroke-opacity="0.65" stroke-width="7.0" stroke-linecap="square" fill="none"/>
<rect x="428.9" y="285.4" width="78.3" height="78.80000000000001" fill="none" stroke="#000" stroke-width="1.1"/>
<line x1="461.1" y1="285.4" x2="461.1" y2="364.2" stroke="#000" stroke-width="1.1" />
<line x1="428.9" y1="327.4" x2="507.2" y2="327.4" stroke="#000" stroke-width="1.1" />
<rect x="430.80" y="287.68" width="10.14" height="6.52" fill="#fff"/>
<text x="431.2" y="293.0" font-size="7.0" stroke="#000" stroke-width="0.12" fill="#000" >Q1</text>
<rect x="430.80" y="296.48" width="14.42" height="6.52" fill="#fff"/>
<text x="431.2" y="301.79999999999995" font-size="7.0" stroke="#000" stroke-width="0.12" fill="#000" >0.32</text>
<rect x="495.36" y="287.68" width="10.14" height="6.52" fill="#fff"/>
<text x="505.09999999999997" y="293.0" font-size="7.0" text-anchor="end" stroke="#000" stroke-width="0.12" fill="#000" >Q2</text>
<rect x="487.18" y="296.48" width="18.32" height="6.52" fill="#fff"/>
<text x="505.09999999999997" y="301.79999999999995" font-size="7.0" text-anchor="end" stroke="#000" stroke-width="0.12" fill="#000" >0.035</text>
<rect x="430.80" y="347.18" width="10.14" height="6.52" fill="#fff"/>
<text x="431.2" y="352.5" font-size="7.0" stroke="#000" stroke-width="0.12" fill="#000" >Q4</text>
<rect x="430.80" y="356.38" width="14.42" height="6.52" fill="#fff"/>
<text x="431.2" y="361.7" font-size="7.0" stroke="#000" stroke-width="0.12" fill="#000" >99.5</text>
<rect x="495.36" y="347.18" width="10.14" height="6.52" fill="#fff"/>
<text x="505.09999999999997" y="352.5" font-size="7.0" text-anchor="end" stroke="#000" stroke-width="0.12" fill="#000" >Q3</text>
<rect x="491.08" y="356.38" width="14.42" height="6.52" fill="#fff"/>
<text x="505.09999999999997" y="361.7" font-size="7.0" text-anchor="end" stroke="#000" stroke-width="0.12" fill="#000" >0.12</text>
<ellipse cx="54" cy="432.3" rx="5.2" ry="5" fill="#000" fill-opacity="1.0" transform="rotate(0 54 432.3)" filter="url(#bl1_6)"/>
<ellipse cx="51" cy="425" rx="9" ry="10" fill="#000" fill-opacity="0.08" transform="rotate(0 51 425)" filter="url(#bl1_6)"/>
<path transform="scale(0.1)" d="M416 3911h0m177-3h0m-165 9h0m110 0h0m-19 18h0m2-7h0m-5 11h0m49-4h0m32 1h0m7 4h0m-166 11h0m27-5h0m29 7h0m16-2h0m73-6h0m6 3h0m97-1h0m-311 14h0m167 1h0m8-6h0m31 4h0m-44 10h0m23-3h0m0 5h0m70-3h0m16 5h0m19-8h0m-271 13h0m133 2h0m32-6h0m72 2h0m16-1h0m-221 16h0m62-7h0m92 4h0m43 3h0m16-7h0m35 7h0m-153 4h0m53 3h0m19 0h0m56 4h0m-275 11h0m10-6h0m177 6h0m75-2h0m13-2h0m-40 11h0m76-3h0m-97 8h0m12 1h0m20 1h0m15 4h0m-206 7h0m222-2h0m5 6h0m37-2h0m-232 9h0m10 3h0m84-6h0m1 2h0m1 5h0m46 0h0m26-2h0m-221 6h0m218 4h0m-150 7h0m65 4h0m36-3h0m49 3h0m51 2h0m-215 2h0m119 7h0m32-4h0m-156 13h0m107-5h0m22 2h0m13 4h0m-195 3h0m3 2h0m83 1h0m16 1h0m70-1h0m-111 11h0m53-6h0m45 10h0m11-4h0m-208 13h0m121-1h0m69-7h0m2 9h0m-146 10h0m49-3h0m57-1h0m2-3h0m3 2h0m43-2h0m7-3h0m10 4h0m11 3h0m10-2h0m-182 6h0m28 8h0m28-5h0m2 5h0m28-1h0m10 1h0m14-9h0m5 4h0m1 5h0m9-1h0m11-5h0m5 1h0m2-3h0m168 5h0m-256 11h0m13-3h0m2-1h0m13-2h0m14 4h0m12-5h0m3 4h0m54 5h0m10-2h0m15-2h0m25 4h0m53-1h0m-289 5h0m63-1h0m23 4h0m1-5h0m3 6h0m3 0h0m1 2h0m9 0h0m0-8h0m23 1h0m2 2h0m5-2h0m1-2h0m1 2h0m5 5h0m8-4h0m1 3h0m6 0h0m23-2h0m11 1h0m17-4h0m0 6h0m10-2h0m0-1h0m-258 9h0m46 5h0m59-5h0m6 2h0m3 0h0m0-1h0m17-1h0m5 7h0m21-3h0m14-4h0m3 6h0m3-4h0m4 0h0m5 0h0m6-2h0m27 5h0m37-3h0m-194 8h0m11 5h0m16-7h0m8-1h0m7 3h0m6 5h0m2-4h0m8 2h0m1 0h0m17 1h0m1 0h0m7-4h0m3 3h0m2 4h0m18-6h0m3-3h0m2 3h0m10 4h0m32 1h0m3 0h0m2-5h0m9 3h0m4-5h0m23-2h0m55 0h0m1 8h0m-325 7h0m42-3h0m8 7h0m60-3h0m12 3h0m1-8h0m3 9h0m19-2h0m18-8h0m9 1h0m9 5h0m4 1h0m2-5h0m8 7h0m3 1h0m5-1h0m6-8h0m3 1h0m4 4h0m10-2h0m27-1h0m3 0h0m48 6h0m41-9h0m-317 13h0m13-2h0m40 2h0m8 6h0m1-5h0m6 4h0m5 0h0m14-5h0m10 3h0m23-5h0m16 8h0m6 0h0m0-5h0m5-4h0m11 9h0m11-7h0m5 0h0m5 7h0m9-9h0m4 3h0m4-2h0m18 9h0m4-2h0m3-3h0m5-4h0m11 6h0m31-1h0m-219 10h0m19 3h0m1-5h0m0-1h0m7 7h0m6-2h0m3 2h0m3-10h0m1 2h0m9 4h0m1 2h0m0-6h0m9 2h0m4 5h0m0-6h0m9-1h0m1-1h0m3 5h0m12 3h0m4-5h0m0 5h0m4-3h0m4-2h0m0 6h0m3 0h0m3-4h0m3-5h0m4 7h0m8-1h0m1 1h0m11 0h0m10-2h0m11 1h0m0-4h0m11 2h0m29 5h0m20-7h0m22 3h0m-268 8h0m7 5h0m55-2h0m15 2h0m16-1h0m3-3h0m9-1h0m1-1h0m8 6h0m7-1h0m2-8h0m1 0h0m0 3h0m5 4h0m10-4h0m2 5h0m1-4h0m1 0h0m12-4h0m6 1h0m0 3h0m1-3h0m3 8h0m5 1h0m2-4h0m0 2h0m3 0h0m4-3h0m23 0h0m4 0h0m1-4h0m14 6h0m8-7h0m9 10h0m7-9h0m-291 16h0m26-5h0m35 3h0m4-2h0m9 5h0m16-3h0m7 4h0m0-4h0m3-2h0m21 0h0m2 0h0m1 4h0m13-4h0m3 0h0m5 1h0m6 1h0m3-4h0m7 8h0m1 0h0m4-6h0m12-1h0m1 1h0m1 5h0m8 0h0m3-2h0m3 3h0m3-1h0m9 2h0m6-7h0m2 7h0m0-5h0m3 5h0m13-1h0m1 0h0m8-4h0m1-4h0m1 1h0m3 4h0m3 0h0m0-5h0m1 0h0m8 0h0m1 0h0m4 1h0m7 7h0m3-4h0m21 0h0m5-1h0m-300 8h0m25 8h0m11 0h0m26-5h0m44 5h0m20-1h0m7-8h0m10 3h0m1-1h0m5-2h0m2 9h0m4-6h0m2-3h0m0 1h0m3 5h0m1-6h0m9 8h0m4-8h0m3 6h0m0 1h0m1-6h0m1 6h0m0 2h0m8-3h0m0-1h0m4-1h0m1 0h0m7 5h0m1-1h0m9-9h0m6 6h0m3-2h0m1 5h0m2-8h0m5 7h0m8-6h0m23 0h0m2 2h0m11-1h0m4 1h0m61-3h0m34 3h0m-367 7h0m27 5h0m9-2h0m6 4h0m26-7h0m18 9h0m5-2h0m1 0h0m13-1h0m3-6h0m2-1h0m3 5h0m2 1h0m17 2h0m2-3h0m5 3h0m11 1h0m1-8h0m3 9h0m4-1h0m2-3h0m0-5h0m3 7h0m0-3h0m3-2h0m2 6h0m4 0h0m4-2h0m1 2h0m2-8h0m2 0h0m0 1h0m11 1h0m0 6h0m3-6h0m3 2h0m0-5h0m3 3h0m0-2h0m2 4h0m0-1h0m0 6h0m5-6h0m4-3h0m5 7h0m1-6h0m1 4h0m12-1h0m3 0h0m9 1h0m2-2h0m5 3h0m0-1h0m1-1h0m4-2h0m2 3h0m4 1h0m2-6h0m1 4h0m24 4h0m69-1h0m-284 10h0m5 1h0m8-4h0m17 4h0m4-5h0m9 2h0m7 4h0m3-3h0m6-2h0m1 0h0m6 3h0m4-1h0m2-5h0m4 0h0m1 3h0m0 2h0m3 0h0m4 0h0m1-2h0m1 0h0m4 2h0m0-2h0m1-3h0m1 3h0m6 5h0m0-4h0m1 2h0m4-2h0m0-3h0m1 6h0m2-1h0m2-2h0m3 1h0m1-2h0m2 4h0m0-6h0m0 5h0m1-1h0m0 2h0m1-4h0m5-3h0m6 1h0m1 5h0m6 2h0m3-2h0m4-3h0m0 2h0m3-5h0m2-2h0m5 10h0m5-3h0m2 1h0m15-1h0m6 3h0m3-8h0m1 5h0m1 0h0m7-2h0m10 4h0m5-4h0m3 2h0m3 1h0m29-8h0m-280 11h0m56 7h0m12 0h0m0-8h0m4 8h0m10-6h0m1 8h0m4-5h0m1 4h0m1-3h0m4 3h0m10-9h0m0 2h0m1 4h0m0-2h0m2 1h0m0 5h0m1-5h0m2 4h0m2-5h0m5 2h0m1 3h0m0 0h0m1-1h0m1-5h0m3 4h0m1-6h0m4 9h0m1-7h0m3 0h0m0 6h0m2-2h0m1 1h0m0-7h0m1 6h0m0-2h0m1 5h0m1-6h0m0 3h0m2-5h0m1 3h0m1-4h0m0 9h0m1-7h0m5-2h0m2 7h0m1-3h0m1 0h0m0 2h0m1 1h0m2-4h0m2-3h0m0 5h0m1-6h0m1 8h0m2 0h0m1-1h0m0-6h0m1 5h0m5 0h0m1 1h0m0-3h0m0-1h0m2-1h0m0 8h0m3-4h0m1-5h0m1 0h0m0-1h0m0 2h0m1 5h0m0-6h0m1 6h0m0-5h0m1 4h0m0 1h0m2-1h0m0-2h0m2 2h0m1-4h0m1 6h0m2-4h0m0 3h0m3 3h0m0-4h0m5 1h0m1-6h0m3 7h0m2-3h0m0 0h0m1 4h0m6-5h0m1 1h0m2 3h0m0-2h0m2 0h0m1 3h0m3-9h0m5 4h0m0 0h0m2 0h0m3 3h0m1-7h0m1 9h0m1 0h0m9-6h0m12 3h0m22-2h0m-275 8h0m25 2h0m26-1h0m17-2h0m6 8h0m1-8h0m23 3h0m1 3h0m4-6h0m0 3h0m1-1h0m2 7h0m2-6h0m1-3h0m2 2h0m4 0h0m1 3h0m2 0h0m2 1h0m2 2h0m1 1h0m1-9h0m1 8h0m1-6h0m0 5h0m0-3h0m4 3h0m2-5h0m2 7h0m4-7h0m6-2h0m2-1h0m0 5h0m3 4h0m1-5h0m0 4h0m3-6h0m1 6h0m1-8h0m0 3h0m1 0h0m1 4h0m1-2h0m0-1h0m5 2h0m2-5h0m2 2h0m1 2h0m1 2h0m3-2h0m0-2h0m1 4h0m2-2h0m1-3h0m2 0h0m0 6h0m1 0h0m2-2h0m3 2h0m1-6h0m0 6h0m1-6h0m2 7h0m1-2h0m2-4h0m3 5h0m1 0h0m7-1h0m0 3h0m1-7h0m5 3h0m1-5h0m1 0h0m4 6h0m4-7h0m1 4h0m2-1h0m0 3h0m3 2h0m4-3h0m0 3h0m8-4h0m37 0h0m13 3h0m25-3h0m63 4h0m-402 9h0m22-2h0m16 3h0m14-3h0m13-5h0m38 5h0m2 3h0m9-3h0m3 5h0m1-2h0m0-8h0m1 7h0m2-3h0m0-4h0m5 9h0m0-4h0m1 2h0m2 2h0m1-8h0m0 6h0m2 2h0m9-7h0m2 6h0m5-8h0m1 9h0m3 0h0m1-5h0m0 1h0m1 5h0m3-4h0m1 0h0m0-2h0m0 5h0m4-1h0m1 1h0m1-6h0m0 5h0m1-3h0m3 1h0m1 1h0m0-4h0m1 0h0m0 2h0m0-1h0m0 3h0m1-1h0m1 0h0m0 2h0m4-5h0m2-1h0m0 0h0m1 5h0m1-5h0m0-2h0m1 9h0m1-6h0m3 4h0m1 0h0m1-2h0m0 4h0m1-5h0m0-4h0m0 9h0m0-1h0m0-2h0m1-1h0m1-3h0m0 0h0m0 1h0m1-2h0m0 0h0m1 8h0m2-2h0m3-2h0m0 2h0m1-4h0m0-1h0m4-1h0m1 7h0m0 0h0m0-7h0m0 3h0m3 2h0m0-5h0m0 4h0m0-2h0m2 3h0m1-5h0m1 8h0m0 0h0m1-2h0m1 0h0m1 3h0m8-1h0m0-7h0m1 6h0m3-5h0m2 5h0m1 1h0m0-7h0m2 0h0m4-2h0m0 8h0m0-3h0m2 4h0m0 0h0m3-1h0m1 2h0m6-1h0m3-2h0m0-3h0m4 4h0m2-5h0m0 5h0m9-4h0m12 4h0m4-8h0m6 2h0m2 6h0m1-8h0m-260 11h0m23 1h0m12 7h0m6 1h0m2-4h0m4 3h0m6 1h0m5 0h0m7-3h0m3 3h0m4-6h0m1 2h0m11-2h0m2-4h0m1 8h0m5 0h0m4-3h0m3-4h0m1 4h0m4-5h0m1 7h0m1-6h0m3 3h0m4 0h0m1 6h0m1-2h0m1-1h0m1-6h0m1 8h0m2-8h0m3 1h0m0-1h0m3-1h0m1 5h0m0 5h0m0-4h0m0-3h0m2-1h0m0 1h0m1 7h0m0-7h0m1 4h0m0 1h0m0-4h0m1 6h0m1-1h0m2-9h0m0 7h0m1 2h0m0-3h0m2 0h0m0-1h0m0 3h0m1-3h0m0-1h0m1-1h0m0 7h0m2-6h0m0 5h0m1-8h0m1 2h0m0 7h0m0-2h0m3-1h0m0 1h0m1 1h0m4-3h0m1 1h0m0-2h0m1 0h0m0 4h0m1 0h0m0 0h0m1 0h0m0-1h0m1-6h0m0 0h0m0 2h0m2-2h0m1 2h0m0 1h0m1 0h0m1 3h0m0-5h0m2-1h0m0 8h0m2-3h0m2-2h0m1-2h0m0 5h0m0-1h0m1-6h0m0 9h0m0-7h0m1 3h0m1 2h0m1 1h0m1-8h0m1 1h0m2 6h0m1 0h0m0-7h0m1 7h0m0-5h0m1 1h0m1-2h0m2 6h0m1-3h0m0 2h0m3-1h0m1-4h0m1-2h0m0 9h0m0 0h0m2-1h0m1-6h0m1 4h0m2 4h0m0-2h0m1-2h0m0-1h0m2 2h0m1-6h0m1 5h0m3-4h0m1-2h0m0 2h0m1-1h0m0 7h0m1-4h0m0 6h0m3-5h0m1 0h0m0 4h0m2 0h0m4-3h0m0 2h0m2-3h0m1 4h0m3-5h0m1-2h0m3-1h0m0 8h0m1-2h0m4 0h0m1-1h0m6-3h0m5 0h0m6 4h0m27-6h0m-262 16h0m13 1h0m20 0h0m10-3h0m12 1h0m3-6h0m6 8h0m1-7h0m9 8h0m3-8h0m0 6h0m2-2h0m0 3h0m7-5h0m1 6h0m2-5h0m1 5h0m1-4h0m6-1h0m0-2h0m0 6h0m1-3h0m2-1h0m3 1h0m0 3h0m2-5h0m1 7h0m0-3h0m0-1h0m7-6h0m0 7h0m1 0h0m0-3h0m3-1h0m1-1h0m1 2h0m2-1h0m1 6h0m4-3h0m0-5h0m1 8h0m0-7h0m1 2h0m0-3h0m2 2h0m0 2h0m1-3h0m1 7h0m1-2h0m1 1h0m0 0h0m0-8h0m0 8h0m3 0h0m1 0h0m0-4h0m0-3h0m1 2h0m0 1h0m0 2h0m3-1h0m1 0h0m2 2h0m1-3h0m1 3h0m0-1h0m1 2h0m5-6h0m1 4h0m0-6h0m0 3h0m1 4h0m1-5h0m0 3h0m1-5h0m1 6h0m1-1h0m1-1h0m0 4h0m1-8h0m1 9h0m1-3h0m0 1h0m2 1h0m0-6h0m5-1h0m3 2h0m1 6h0m0-1h0m0 1h0m1 1h0m0-7h0m4 7h0m1-5h0m0-1h0m1 4h0m1-1h0m1-2h0m0 4h0m1 0h0m1-3h0m1-1h0m1-3h0m6 6h0m7-2h0m2-4h0m0 2h0m5-3h0m1 8h0m2-5h0m2-4h0m13 10h0m3-3h0m7-3h0m10 2h0m-272 5h0m42-1h0m40 7h0m1 0h0m0 1h0m8-2h0m6-4h0m1-1h0m5 3h0m0-1h0m5-3h0m3 5h0m1 3h0m5 0h0m1 2h0m1-7h0m0 3h0m1-6h0m0 8h0m2-3h0m0-1h0m3-1h0m2 4h0m1 2h0m0-6h0m2 1h0m3-1h0m2 5h0m0-3h0m0-1h0m3-2h0m3 1h0m0 5h0m3-1h0m1 2h0m1-3h0m1-2h0m1-1h0m0-1h0m1 1h0m1-2h0m0 0h0m2 1h0m0 8h0m1-5h0m0-1h0m1 3h0m0-2h0m2 4h0m0-8h0m2 4h0m0 5h0m4-7h0m0 6h0m0-1h0m2-5h0m1 5h0m1-2h0m1 2h0m1-1h0m0 2h0m2 0h0m0-3h0m1-5h0m1 2h0m1 4h0m1-3h0m1 6h0m0-4h0m2 1h0m1-7h0m0 9h0m1-7h0m0 4h0m0-3h0m1 6h0m0-2h0m0-7h0m1 9h0m1-3h0m1 1h0m1 2h0m0-9h0m0 6h0m0 0h0m2 2h0m2-6h0m0 5h0m2-3h0m2-2h0m1-1h0m1 4h0m0 2h0m1-2h0m1 2h0m0 2h0m1 1h0m0-5h0m1 3h0m1 2h0m0-1h0m0-4h0m4 1h0m2 3h0m0-7h0m2 5h0m2-5h0m1 3h0m3 0h0m1 0h0m0-5h0m0 0h0m1 5h0m0-3h0m0 4h0m1 4h0m1-9h0m0 5h0m1-6h0m1 6h0m2-2h0m0 3h0m4-4h0m0 4h0m1 0h0m3-7h0m2 4h0m1 1h0m1-5h0m2 3h0m1 6h0m2 0h0m8-1h0m2 0h0m11-4h0m5 0h0m11 1h0m8 4h0m-221 1h0m30 10h0m2 0h0m1-3h0m3-4h0m1 6h0m2-7h0m1 3h0m8-4h0m2 8h0m2-9h0m1 6h0m0 2h0m2-5h0m3 3h0m3 3h0m1-7h0m0 8h0m2-4h0m0-5h0m1 9h0m0-4h0m1 3h0m0-7h0m1 6h0m3-6h0m3 6h0m2 2h0m0-8h0m0-1h0m1 0h0m1 0h0m0 1h0m1-1h0m0 4h0m2 3h0m1-7h0m1 2h0m2 4h0m2-4h0m1 5h0m1-1h0m7-5h0m2-1h0m1 9h0m1-7h0m0 2h0m1-1h0m0-3h0m1 8h0m0-5h0m0-3h0m2-1h0m2 8h0m1-2h0m0-5h0m3 5h0m0-1h0m1 1h0m1-5h0m1 8h0m0-3h0m0-5h0m1 8h0m1-8h0m1 2h0m0 4h0m2 3h0m2-1h0m0-1h0m0-7h0m1 7h0m1-8h0m0 5h0m0 2h0m2 2h0m1 1h0m0-4h0m1 0h0m3-3h0m0 1h0m3 0h0m0-1h0m1-2h0m2 9h0m0-2h0m3 0h0m1-4h0m1 1h0m1-2h0m1-1h0m0 7h0m2-3h0m3-3h0m1-2h0m1 2h0m0 6h0m1-6h0m1 0h0m1 4h0m0-1h0m5-5h0m1 8h0m0-7h0m0 4h0m3 0h0m2 2h0m1 0h0m5-3h0m0-4h0m1 1h0m2 1h0m0 3h0m3-3h0m0 6h0m0-1h0m20 0h0m5-8h0m7 9h0m9-4h0m22 2h0m-274 10h0m33-1h0m1 0h0m36-3h0m8 5h0m2-5h0m2-1h0m2 0h0m1 5h0m4 2h0m1-6h0m0 0h0m7 1h0m2 0h0m8 1h0m2 2h0m0-1h0m1-4h0m0-2h0m1 4h0m0-2h0m0 3h0m1 0h0m0 4h0m2-5h0m2 3h0m1 2h0m0-5h0m3 4h0m0-6h0m0-2h0m1 8h0m1-3h0m0 4h0m0-3h0m0-4h0m3 5h0m0 3h0m1-5h0m0-2h0m0 6h0m4 0h0m1-4h0m4-3h0m3 1h0m1 4h0m0 2h0m2-7h0m0 6h0m0-1h0m0-6h0m1 6h0m1-2h0m1 1h0m1 0h0m0 1h0m0-2h0m0 2h0m2 1h0m1-6h0m0 7h0m1-6h0m1-2h0m0 5h0m0 1h0m1-2h0m1 4h0m0-6h0m0 3h0m1-5h0m2 1h0m0 6h0m0-5h0m1 6h0m1-2h0m1 0h0m1-3h0m1-3h0m0 1h0m1 2h0m1-4h0m0 7h0m0 2h0m1-4h0m1-4h0m1 3h0m0-2h0m1 0h0m0 1h0m1 6h0m0-9h0m0 9h0m1-3h0m0 2h0m2 0h0m1-3h0m0 3h0m0-4h0m1 1h0m1 1h0m0 1h0m1-2h0m0 3h0m0 1h0m3-7h0m1 4h0m1-1h0m0-1h0m0-3h0m1 5h0m1 3h0m1-6h0m1 2h0m6 4h0m0-4h0m4 1h0m0-5h0m3 3h0m1 2h0m0-5h0m2 3h0m1 5h0m3-1h0m0-4h0m0-4h0m1 6h0m5 1h0m1-3h0m6 4h0m2-6h0m3-1h0m13 2h0m9 2h0m25 5h0m34 0h0m3-3h0m-294 4h0m17 2h0m7 0h0m8-2h0m4 9h0m1-6h0m2 6h0m10-6h0m0 6h0m4-3h0m11-4h0m5 5h0m0-1h0m1 0h0m1 3h0m1-3h0m3 2h0m10 1h0m0 0h0m0-9h0m6 9h0m6-2h0m2-8h0m0 1h0m1 9h0m1-4h0m1-4h0m1 3h0m0 2h0m1 2h0m1-9h0m2 2h0m0 4h0m2 1h0m0-2h0m1 2h0m6 1h0m0-6h0m1-1h0m0 8h0m2-2h0m2 2h0m1-2h0m0-1h0m2 3h0m0-2h0m1-6h0m0 4h0m2-2h0m0 5h0m0-8h0m1 3h0m0-3h0m3 4h0m0 2h0m0-2h0m2 0h0m1-3h0m0 3h0m0 5h0m1-6h0m1 5h0m0-5h0m0-3h0m0 6h0m1-1h0m0 0h0m0-2h0m2 1h0m0 2h0m0-1h0m2-2h0m0 3h0m3-3h0m0 1h0m1 0h0m0-2h0m2-1h0m1 9h0m0-4h0m0-3h0m1 4h0m2-2h0m0-3h0m1 0h0m1 4h0m1 1h0m2-4h0m0-2h0m2 2h0m0 7h0m1-2h0m0 0h0m2-5h0m3 3h0m1-4h0m1 6h0m0-2h0m1-2h0m1-3h0m2 0h0m0 0h0m1 4h0m1-3h0m2 3h0m1-4h0m1 6h0m0 0h0m0 0h0m0 2h0m0-7h0m2 4h0m8 1h0m2 3h0m0-1h0m1-8h0m5 9h0m1-1h0m1-6h0m0 0h0m1 3h0m1-4h0m1-1h0m3 2h0m4-2h0m0-1h0m17 9h0m8-5h0m5 6h0m6-3h0m10-3h0m2-3h0m24 9h0m-273 6h0m23-3h0m8-3h0m8 8h0m0-3h0m4-4h0m3 5h0m2-2h0m6 3h0m0-4h0m4-2h0m3 5h0m8-3h0m1 3h0m0 1h0m3-5h0m0 4h0m0 0h0m0-2h0m1 5h0m3-7h0m5 2h0m5 3h0m4-5h0m0 4h0m4 0h0m0-1h0m2-2h0m1-2h0m0 9h0m5-7h0m0 1h0m1-1h0m0 2h0m3 1h0m1-2h0m0 3h0m2-1h0m1-2h0m0 2h0m1 2h0m0-4h0m2 2h0m6-5h0m0 5h0m3-3h0m0 2h0m0 0h0m1 1h0m2 1h0m0-2h0m1-1h0m2 3h0m2 2h0m0-3h0m1 3h0m1-5h0m1-1h0m0 3h0m0-4h0m1-2h0m1 5h0m2 4h0m0-8h0m1 7h0m1-7h0m1 4h0m0-3h0m1 0h0m2 5h0m3 3h0m1-9h0m3 6h0m0-4h0m0 4h0m1-1h0m1-5h0m1 5h0m1-1h0m0 3h0m0-5h0m0 1h0m2 5h0m2 0h0m0-9h0m0 7h0m1-4h0m1 0h0m1 6h0m1-4h0m2-4h0m5 3h0m0-3h0m2 8h0m0-7h0m0 7h0m0-8h0m1 1h0m0 3h0m1 3h0m0-6h0m4 0h0m2 6h0m0-7h0m7 7h0m10-2h0m6-6h0m16 2h0m1-2h0m14 6h0m4-2h0m5 5h0m-249 10h0m44-8h0m9 3h0m6-1h0m12-2h0m9 1h0m13 7h0m3-5h0m4-2h0m0 4h0m3-2h0m4 0h0m0-2h0m0 6h0m2-5h0m0-2h0m0 6h0m5 1h0m0-6h0m1 2h0m2 4h0m1 0h0m0 0h0m1-7h0m0 1h0m2 3h0m1 5h0m2-2h0m0-3h0m7 5h0m1-5h0m1-2h0m1 0h0m0 2h0m1 5h0m4-1h0m1 0h0m1 0h0m2-8h0m1 6h0m0-2h0m0 4h0m1-5h0m1 0h0m1 1h0m1 0h0m0-3h0m1 4h0m4 1h0m1-5h0m9 4h0m1 0h0m2-2h0m3-1h0m1 6h0m2-2h0m1-2h0m0-3h0m1 7h0m8 0h0m1-8h0m2 1h0m4 2h0m8 4h0m9-2h0m5-2h0m15 0h0m33-4h0m89 6h0m-307 12h0m9-6h0m8-1h0m11 2h0m6 7h0m3-2h0m3-7h0m3 6h0m1-4h0m12-3h0m2 6h0m0 2h0m6-2h0m1-3h0m2 6h0m1-9h0m0 8h0m3-4h0m11 1h0m2 5h0m1-4h0m3 1h0m2-5h0m1-1h0m0 3h0m1 2h0m4-1h0m0 1h0m5 4h0m4-7h0m1-1h0m2-1h0m5-1h0m9 4h0m2-4h0m7 4h0m17 2h0m2-2h0m1-3h0m5 4h0m1-3h0m1 0h0m3 7h0m1-4h0m18-4h0m15 2h0m44-2h0m-253 15h0m28 4h0m1-2h0m8-2h0m8-2h0m10 2h0m14-1h0m1 2h0m9-3h0m3-1h0m2 6h0m0-9h0m2 8h0m4-7h0m1-1h0m4 5h0m3 2h0m12-6h0m1 6h0m1-1h0m2 0h0m2 2h0m14-7h0m3 5h0m5-3h0m6-2h0m0-1h0m1 2h0m1 1h0m0 2h0m1 5h0m16-10h0m7 8h0m11 0h0m70-4h0m-306 12h0m85 0h0m11-5h0m22 5h0m1-1h0m5 1h0m4 0h0m5 3h0m3-7h0m9 7h0m3-3h0m6 2h0m3-5h0m9 4h0m3 2h0m7-9h0m8 4h0m3 0h0m0-2h0m8 3h0m2-3h0m7 1h0m3 4h0m13-2h0m2 1h0m12-1h0m7 3h0m12-6h0m2 8h0m3-8h0m47 5h0m-204 11h0m7 2h0m6-6h0m17-2h0m11 2h0m4 3h0m5-5h0m7 4h0m5-6h0m11 3h0m4 0h0m16 6h0m12-6h0m1 3h0m11-3h0m11 6h0m20-8h0m8 9h0m10-8h0m-193 15h0m40-5h0m17 2h0m0-2h0m1 4h0m5 0h0m11-5h0m2 7h0m31-4h0m6-4h0m1 7h0m2-6h0m3 5h0m15 1h0m15 1h0m-129 9h0m17-3h0m18 3h0m22 3h0m10-7h0m7 6h0m9-6h0m19 6h0m33-7h0m14 7h0m-209 9h0m8 0h0m102-3h0m9 2h0m6 1h0m33-4h0m8 4h0m10-8h0m-11 15h0m0-3h0m5 0h0m80 6h0m-100 9h0m9-6h0m-78 12h0m33 7h0" stroke="#000" stroke-opacity="0.65" stroke-width="7.0" stroke-linecap="square" fill="none"/>
<rect x="33.6" y="370.3" width="78.3" height="80.30000000000001" fill="none" stroke="#000" stroke-width="1.1"/>
<line x1="66.8" y1="370.3" x2="66.8" y2="450.6" stroke="#000" stroke-width="1.1" />
<line x1="33.6" y1="407.0" x2="111.9" y2="407.0" stroke="#000" stroke-width="1.1" />
<rect x="35.50" y="372.58" width="10.14" height="6.52" fill="#fff"/>
<text x="35.9" y="377.90000000000003" font-size="7.0" stroke="#000" stroke-width="0.12" fill="#000" >Q1</text>
<rect x="35.50" y="381.38" width="14.42" height="6.52" fill="#fff"/>
<text x="35.9" y="386.7" font-size="7.0" stroke="#000" stroke-width="0.12" fill="#000" >0.93</text>
<rect x="100.06" y="372.58" width="10.14" height="6.52" fill="#fff"/>
<text x="109.80000000000001" y="377.90000000000003" font-size="7.0" text-anchor="end" stroke="#000" stroke-width="0.12" fill="#000" >Q2</text>
<rect x="91.88" y="381.38" width="18.32" height="6.52" fill="#fff"/>
<text x="109.80000000000001" y="386.7" font-size="7.0" text-anchor="end" stroke="#000" stroke-width="0.12" fill="#000" >0.048</text>
<rect x="35.50" y="433.58" width="10.14" height="6.52" fill="#fff"/>
<text x="35.9" y="438.90000000000003" font-size="7.0" stroke="#000" stroke-width="0.12" fill="#000" >Q4</text>
<rect x="35.50" y="442.78" width="14.42" height="6.52" fill="#fff"/>
<text x="35.9" y="448.1" font-size="7.0" stroke="#000" stroke-width="0.12" fill="#000" >98.8</text>
<rect x="100.06" y="433.58" width="10.14" height="6.52" fill="#fff"/>
<text x="109.80000000000001" y="438.90000000000003" font-size="7.0" text-anchor="end" stroke="#000" stroke-width="0.12" fill="#000" >Q3</text>
<rect x="95.78" y="442.78" width="14.42" height="6.52" fill="#fff"/>
<text x="109.80000000000001" y="448.1" font-size="7.0" text-anchor="end" stroke="#000" stroke-width="0.12" fill="#000" >0.17</text>
<ellipse cx="152.1" cy="431.6" rx="6" ry="5" fill="#000" fill-opacity="1.0" transform="rotate(0 152.1 431.6)" filter="url(#bl1_6)"/>
<ellipse cx="150" cy="424" rx="11" ry="11" fill="#000" fill-opacity="0.15" transform="rotate(0 150 424)" filter="url(#bl1_6)"/>
<path transform="scale(0.1)" d="M1799 3720h0m-256 20h0m92 2h0m69-1h0m15 13h0m-37 6h0m-114 12h0m97-4h0m30 7h0m42 0h0m14-10h0m34 8h0m49-1h0m23-1h0m28 3h0m-481 10h0m36-5h0m0 1h0m62 4h0m9-5h0m63-3h0m69 8h0m79-9h0m14 3h0m8 5h0m33 1h0m3-4h0m0 2h0m0-5h0m21 7h0m6-7h0m-453 11h0m24-2h0m36 2h0m79 0h0m27 3h0m99-1h0m8 1h0m2 2h0m3 0h0m50-2h0m16 2h0m2-8h0m15 3h0m22 4h0m16 0h0m31 2h0m18-1h0m-254 4h0m23-1h0m29 6h0m9-5h0m5 0h0m12 2h0m21 5h0m58-2h0m1 0h0m20 1h0m13-2h0m8 2h0m2-4h0m1 5h0m0-2h0m0 0h0m30-4h0m107 5h0m-478 8h0m77-5h0m18 4h0m65-4h0m2 3h0m8-3h0m61 5h0m4-6h0m12 4h0m50-4h0m26 0h0m0 5h0m20 3h0m19 0h0m1-3h0m5-3h0m19 0h0m8 7h0m-385 7h0m42 0h0m10 3h0m3-3h0m48-6h0m44 3h0m10 5h0m34-6h0m9 0h0m4 8h0m17-6h0m24-2h0m6 2h0m11 1h0m6-1h0m7-2h0m24 8h0m2-2h0m29-1h0m12 1h0m8 1h0m4-5h0m2 5h0m1-3h0m11 3h0m3-8h0m1 8h0m31-9h0m12 4h0m-472 16h0m16-5h0m24 4h0m186-7h0m4 1h0m16 1h0m12-2h0m10 1h0m38 0h0m11 1h0m10 2h0m3 0h0m30 3h0m4-4h0m6-1h0m15 6h0m4-4h0m6-2h0m8-3h0m7 3h0m7-2h0m8 2h0m9-2h0m2 6h0m7-3h0m2-2h0m3 0h0m2 4h0m32 1h0m96 2h0m-550 9h0m52-2h0m181-5h0m29 4h0m46 0h0m2 3h0m7 0h0m8-1h0m14 0h0m2 2h0m5-3h0m1 3h0m9-1h0m16-8h0m6 6h0m1 1h0m2-6h0m4 5h0m8 2h0m4-3h0m18-1h0m0 4h0m2-1h0m3-2h0m5 3h0m4-5h0m0 4h0m11-3h0m1 0h0m4-1h0m28-2h0m-393 12h0m10 0h0m11 2h0m13-1h0m28-3h0m43 4h0m31-4h0m131 6h0m1-4h0m4 1h0m3 5h0m0-4h0m1 0h0m21 3h0m13-8h0m2-1h0m1 7h0m4-5h0m11 4h0m0 4h0m0-3h0m1 1h0m2-3h0m0 4h0m4-8h0m8 0h0m8 9h0m5-9h0m4 6h0m3 2h0m5-6h0m9 3h0m23 3h0m-515 9h0m4 0h0m137-4h0m18 0h0m55 1h0m37-3h0m103 3h0m2 3h0m2-4h0m7-1h0m3 1h0m1-2h0m1 1h0m1-1h0m7 1h0m1 2h0m26-3h0m10 7h0m3-4h0m0 4h0m2-2h0m0-4h0m2 4h0m6-2h0m2-3h0m1 7h0m1-5h0m1-1h0m12-2h0m33 2h0m30 0h0m-483 12h0m27 3h0m42-2h0m43-4h0m31 2h0m84-3h0m54-1h0m20 8h0m14-4h0m9-2h0m23 1h0m0-1h0m12 1h0m1 3h0m13-4h0m11-1h0m2 6h0m0-7h0m3 6h0m0-3h0m6 0h0m12 1h0m12-3h0m4 1h0m6 3h0m23-3h0m44 3h0m39 3h0m-448 5h0m65 0h0m48 4h0m36-3h0m57 3h0m6-5h0m44 5h0m9 1h0m1 2h0m1-2h0m4-3h0m1-5h0m4 3h0m7 0h0m2 2h0m3-3h0m6 0h0m2 0h0m1 6h0m9-1h0m6 2h0m0-3h0m0-2h0m4-2h0m8 3h0m11 4h0m5-1h0m1-3h0m3-2h0m9 2h0m1 1h0m8 2h0m1-1h0m21 2h0m27-5h0m-462 7h0m59 7h0m119-8h0m51 4h0m41 5h0m14 0h0m5 1h0m1-4h0m10-2h0m4-3h0m7 8h0m1-2h0m1-6h0m15-1h0m14 6h0m1-5h0m1 0h0m7 1h0m8-2h0m0 9h0m5-6h0m1 0h0m0-2h0m8 1h0m32 2h0m6 3h0m34-6h0m1 8h0m59-4h0m-535 14h0m9-7h0m128 7h0m2-4h0m3 1h0m33-3h0m25-2h0m14 2h0m18-1h0m75 7h0m4-6h0m7 2h0m6 0h0m12-2h0m2 6h0m1-8h0m3-1h0m4 4h0m4-3h0m7 3h0m4 0h0m0-2h0m0 6h0m6 1h0m2-7h0m12 0h0m4 8h0m4-2h0m4-3h0m5 4h0m10-7h0m3 4h0m16-2h0m5 0h0m7 1h0m33 1h0m-474 9h0m153-1h0m2 3h0m11-4h0m21 1h0m31 3h0m9-1h0m56-2h0m46 6h0m12 0h0m1-3h0m2 0h0m41 1h0m2-6h0m10 6h0m12 1h0m1-5h0m52 5h0m40-8h0m-468 12h0m81 5h0m75-3h0m38-4h0m94 7h0m13 1h0m6 1h0m11-7h0m7 2h0m11-2h0m11 4h0m6 1h0m8 2h0m6-10h0m2 1h0m14 3h0m41 2h0m1-3h0m2 2h0m4 2h0m19-3h0m46 6h0m-475 8h0m96 1h0m68-3h0m5-1h0m42-2h0m65 7h0m2-9h0m22 7h0m7-5h0m19-2h0m4 3h0m22 5h0m25-5h0m8 1h0m7-4h0m3 5h0m5 2h0m-465 8h0m6-2h0m31 3h0m25-2h0m27 4h0m30 0h0m120-9h0m101 8h0m15-1h0m43-7h0m2 1h0m16 6h0m47-6h0m-451 14h0m107-1h0m49 0h0m30 0h0m1-4h0m27 2h0m39-1h0m54 6h0m23-4h0m19 3h0m2-2h0m26-1h0m11-3h0m43 1h0m22 3h0m13 4h0m32-4h0m14 1h0m-535 11h0m16-4h0m68-1h0m2 7h0m1-7h0m16 4h0m9 3h0m24-2h0m6-3h0m25 7h0m21-3h0m53-1h0m42-2h0m29 6h0m13-2h0m19-3h0m21-1h0m81-1h0m14-1h0m1 1h0m6-3h0m1 2h0m49 3h0m12 4h0m-466 4h0m44 4h0m34-3h0m87 3h0m42-3h0m45 6h0m35-6h0m15 6h0m41-9h0m-352 11h0m12 5h0m20-4h0m43 4h0m59-3h0m67 2h0m27 3h0m29-4h0m18-2h0m4-1h0m12 7h0m18-1h0m1-5h0m114-1h0m-467 12h0m4 3h0m6-1h0m5-2h0m51 2h0m19-2h0m3 3h0m70-3h0m82 3h0m32-3h0m4-4h0m26 5h0m39 4h0m-231 6h0m1 5h0m17-7h0m18 6h0m7-1h0m64-6h0m29 5h0m70 0h0m-283 10h0m20-2h0m29 4h0m83-4h0m47 3h0m2-3h0m1-4h0m34-1h0m22 9h0m15-5h0m83-3h0m-309 17h0m11-6h0m32 4h0m29 3h0m2-5h0m267-3h0m71 2h0m-472 7h0m15 8h0m18-5h0m2-1h0m53 1h0m26 6h0m20-8h0m1 5h0m14-4h0m1 6h0m20-8h0m69 4h0m4 5h0m25-4h0m217 4h0m-452 8h0m13 0h0m12-4h0m29 2h0m26 2h0m19-4h0m22 0h0m38-1h0m11 4h0m-192 13h0m8-6h0m40 4h0m17-1h0m10-6h0m22 5h0m18 0h0m2-1h0m6 6h0m7-10h0m5 2h0m6 3h0m33 0h0m162 2h0m97 2h0m109-8h0m-527 18h0m51 0h0m25-4h0m4 2h0m26-3h0m36 3h0m45-3h0m35-2h0m21 3h0m6 0h0m123 5h0m87-8h0m-346 14h0m22-1h0m8 1h0m50 1h0m45-6h0m-228 15h0m36 2h0m4-4h0m16-3h0m31 1h0m58-1h0m30 7h0m257-6h0m54 0h0m-533 17h0m11-3h0m41 2h0m16-4h0m5-2h0m28-2h0m9 5h0m28 0h0m65-3h0m42 6h0m153 2h0m-343 4h0m11 0h0m23 0h0m43-4h0m8 9h0m9-7h0m2 7h0m17-3h0m20-2h0m3-1h0m3 1h0m27-2h0m18 6h0m3 0h0m33-3h0m20 2h0m1 2h0m41 0h0m66-1h0m-401 2h0m27 9h0m22-2h0m10 1h0m27-5h0m27-1h0m10 2h0m23 5h0m20-5h0m5 2h0m16-4h0m107-1h0m4 1h0m31 5h0m26-4h0m196 5h0m-552 4h0m60 5h0m2-1h0m0-4h0m14 5h0m3 2h0m18-7h0m13 0h0m5 1h0m13 2h0m4 1h0m12-2h0m14-1h0m16 3h0m27-3h0m24 7h0m15-2h0m1-4h0m7-2h0m162 4h0m55-3h0m-478 7h0m48 7h0m3-1h0m11-1h0m16 2h0m2 2h0m2-6h0m18-2h0m1 5h0m7-5h0m7 6h0m4-5h0m6 0h0m15 0h0m0 4h0m9 0h0m14 0h0m0 4h0m1-4h0m2 2h0m0-5h0m16-2h0m5 8h0m50-6h0m16-2h0m7 9h0m166-5h0m-424 11h0m2-5h0m3 4h0m2 3h0m33 0h0m15-5h0m14 4h0m5 1h0m24-6h0m10 0h0m2 8h0m1-8h0m1 4h0m9-2h0m1-3h0m10 8h0m3-1h0m2-7h0m7 7h0m7 1h0m12-5h0m6 1h0m0 3h0m1-4h0m0 0h0m5 3h0m1 1h0m10-1h0m39-3h0m28 5h0m1 1h0m40-8h0m7 1h0m158-2h0m79 0h0m-546 15h0m51-4h0m5 5h0m25-3h0m39 0h0m3 4h0m3-3h0m5 3h0m0-3h0m4 1h0m3-5h0m2 6h0m27-4h0m0 1h0m2 5h0m12-5h0m1-1h0m1 3h0m2-2h0m2 3h0m5 2h0m3 0h0m6-2h0m21 2h0m4-8h0m20 8h0m1 0h0m25-7h0m3 4h0m1 4h0m150-8h0m-428 17h0m16-6h0m34-3h0m1 2h0m3-1h0m2 4h0m31 5h0m11-3h0m5 2h0m1-8h0m5-1h0m7 2h0m7-1h0m7 8h0m8-2h0m12-7h0m19 8h0m1 1h0m1 1h0m2-10h0m13 7h0m8-2h0m6-1h0m10 4h0m5-2h0m14 0h0m4-4h0m2 6h0m17-6h0m3 0h0m5 0h0m14 3h0m27 3h0m-293 3h0m33 3h0m7-3h0m19 4h0m2 1h0m2-2h0m1 2h0m2-4h0m7-1h0m11 3h0m2-3h0m1 7h0m3-4h0m5 3h0m16-1h0m13 1h0m2-1h0m1-4h0m2-1h0m1 6h0m13 0h0m13-1h0m4 1h0m2-2h0m0 4h0m8-1h0m4-7h0m1 6h0m0 0h0m7 1h0m4-1h0m18 2h0m5-1h0m3-2h0m1-5h0m3 4h0m6-1h0m16 3h0m3-4h0m0 2h0m16 5h0m20-3h0m1-4h0m7 1h0m5 2h0m4 4h0m35-2h0m171 1h0m33 1h0m-527 1h0m24 0h0m24 7h0m15 2h0m11-7h0m21 0h0m3 7h0m11-3h0m4-3h0m3 5h0m14-1h0m4 0h0m3-2h0m17-2h0m3 4h0m16-7h0m2 9h0m1-9h0m7 6h0m2-3h0m4-3h0m1 5h0m5-2h0m1 3h0m7-5h0m0 5h0m2 1h0m7-5h0m5 4h0m4 3h0m6-7h0m3 3h0m13 1h0m22 2h0m8-5h0m63 5h0m-349 10h0m10-4h0m21 2h0m10-7h0m6 1h0m1 4h0m6 4h0m13 0h0m6-7h0m9 6h0m16 1h0m2-4h0m11 5h0m1-1h0m5-2h0m6-2h0m0 2h0m20-6h0m0 2h0m6 4h0m4 0h0m2-3h0m6 5h0m2-9h0m0 1h0m6 0h0m1 5h0m14-1h0m0-5h0m9 7h0m5 2h0m14-6h0m1 5h0m5 2h0m49-9h0m9 1h0m11 2h0m10-3h0m41 9h0m32-6h0m-361 11h0m62-5h0m7 8h0m7-3h0m14-2h0m0 5h0m1-1h0m9-1h0m16-6h0m5 8h0m3-8h0m1 1h0m1 4h0m5 4h0m2 0h0m9 0h0m10-4h0m2 1h0m2 3h0m2-1h0m4-6h0m4 2h0m3 4h0m11 1h0m1 0h0m3-6h0m6-1h0m5 0h0m4 5h0m2 2h0m2-1h0m9-7h0m3 7h0m10 2h0m36-8h0m9 6h0m55 2h0m39-6h0m17 2h0m65 2h0m106 1h0m-556 1h0m33 2h0m14 0h0m21 2h0m19 3h0m13-4h0m16 0h0m8 5h0m1-1h0m1-5h0m0 3h0m11-1h0m2-1h0m0 0h0m7 1h0m1 5h0m0-7h0m1 4h0m0-4h0m24 2h0m3 4h0m10-8h0m5 2h0m17 1h0m2 4h0m4-2h0m14 3h0m10 0h0m1 1h0m12-4h0m0 2h0m39-4h0m62-1h0m29-1h0m142 0h0m-501 9h0m4 5h0m13-3h0m2 6h0m20-4h0m1 3h0m1-6h0m12 4h0m4 0h0m4 4h0m7-7h0m3 0h0m9 3h0m0 2h0m9-6h0m5 0h0m6 0h0m1 3h0m11-2h0m10 3h0m0 3h0m2-6h0m1 3h0m2-2h0m7-1h0m9 0h0m5 8h0m2-10h0m14 4h0m1-1h0m0 5h0m1-5h0m3-1h0m9 7h0m13-5h0m1 4h0m3-1h0m3 2h0m1 0h0m2-5h0m7 3h0m0-4h0m2 4h0m4-6h0m0 1h0m7 3h0m26 4h0m13-2h0m1 1h0m-277 5h0m27 3h0m28 1h0m4 0h0m1-4h0m5-2h0m0-1h0m9 3h0m2 5h0m1-6h0m3 3h0m7-3h0m3 6h0m3-2h0m1-1h0m4-1h0m6-2h0m1 7h0m12-8h0m0 3h0m1 4h0m1-8h0m2 9h0m2-8h0m2 7h0m6-7h0m6-1h0m1 4h0m2 3h0m1 2h0m3-7h0m0 5h0m2 2h0m0-1h0m1-4h0m3 2h0m1-4h0m0 6h0m3-6h0m1 5h0m4 1h0m5-1h0m1-4h0m3 0h0m0 5h0m3-2h0m10-5h0m5 6h0m0-3h0m0 2h0m2 2h0m2 1h0m15-4h0m14-2h0m0 0h0m2 6h0m7-2h0m10-2h0m33 2h0m7-4h0m-282 10h0m5 1h0m16 0h0m28-3h0m6 0h0m3 4h0m21-4h0m13-1h0m20 0h0m2 3h0m1 5h0m0-3h0m3-1h0m0 4h0m2-1h0m3 2h0m1-1h0m5-5h0m4 5h0m2-3h0m5 2h0m1 1h0m2 1h0m0-7h0m8 6h0m1-6h0m0 0h0m0 0h0m2-2h0m2 9h0m6-8h0m3 5h0m0 1h0m6-4h0m1 2h0m0-4h0m1 6h0m0-6h0m0 7h0m2 2h0m2-1h0m1 0h0m4-4h0m3 5h0m4-1h0m2-9h0m0 1h0m9 7h0m1-5h0m2 2h0m0 3h0m4-2h0m5 3h0m4-9h0m2 1h0m0 2h0m5 7h0m4-8h0m7 3h0m10-4h0m6 0h0m1 5h0m19-1h0m8-4h0m236 5h0m53 2h0m-570 7h0m69 1h0m6 0h0m17 3h0m5 1h0m3-7h0m5 5h0m0-1h0m1 1h0m2 0h0m2 1h0m0-2h0m11 2h0m3-4h0m2-1h0m3-1h0m2 1h0m0 5h0m2 1h0m3-1h0m0-3h0m1-1h0m1 3h0m6-5h0m1 0h0m3 6h0m3-6h0m2-3h0m1 3h0m2-3h0m1 9h0m0-1h0m1-6h0m0-1h0m2 6h0m0-4h0m0 4h0m4-2h0m1 1h0m1 0h0m0 1h0m6-3h0m0 5h0m0-8h0m1 1h0m3 6h0m4-2h0m1 1h0m2-3h0m1-3h0m2 8h0m2 0h0m6-6h0m0 4h0m3-3h0m2 1h0m1-5h0m0 8h0m0 2h0m2-4h0m3 3h0m0-8h0m1 1h0m3 4h0m1 0h0m8 3h0m19-1h0m4-7h0m0 5h0m5-2h0m4 2h0m6-5h0m38 7h0m51-7h0m95 2h0m-443 16h0m2 1h0m16-6h0m27-4h0m4 9h0m7-7h0m3 5h0m7 0h0m8-4h0m1-1h0m8 6h0m9-4h0m7-1h0m1 0h0m6-1h0m3 4h0m0 0h0m2 2h0m3-6h0m2 0h0m0 3h0m1-2h0m1-2h0m0 7h0m1 1h0m2-5h0m6-2h0m1 2h0m1-1h0m2-2h0m2-1h0m2 5h0m1-3h0m0 0h0m4-1h0m3 7h0m2-7h0m0 8h0m2-4h0m4-2h0m1 5h0m0 1h0m1 0h0m0-1h0m1 1h0m0-4h0m8 2h0m0-1h0m2-5h0m1 6h0m3 2h0m2-1h0m6-6h0m3 3h0m1 4h0m2-7h0m5 2h0m1 5h0m1-4h0m4 4h0m1-7h0m0 6h0m4-5h0m4-1h0m0 0h0m1 1h0m1 0h0m2 3h0m0-5h0m1 1h0m0 4h0m0-2h0m0 5h0m3-7h0m1 3h0m0-3h0m1 4h0m1-4h0m1 4h0m2-4h0m2 3h0m2-2h0m2 6h0m0-4h0m1 4h0m3-4h0m1-3h0m0-1h0m3 8h0m0-7h0m1 6h0m1-6h0m1 0h0m1 7h0m1-4h0m10-4h0m7 9h0m1-1h0m1-3h0m1-2h0m26 3h0m5-5h0m4 1h0m4-2h0m23 8h0m-316 6h0m39 0h0m12 4h0m11-9h0m1 1h0m1 2h0m7 6h0m1-1h0m11-6h0m2 6h0m6-8h0m0 5h0m1 1h0m3 2h0m3 1h0m8-4h0m2-2h0m5 1h0m2 5h0m3 1h0m1-5h0m2 1h0m1-3h0m1 2h0m2 3h0m1-2h0m5 2h0m9 0h0m0-3h0m0 3h0m0 1h0m3 0h0m2-8h0m5 3h0m5-2h0m3 4h0m1 2h0m3-6h0m2 4h0m3 2h0m3 2h0m2-5h0m0-4h0m3 1h0m2 4h0m1-4h0m0 7h0m4-8h0m1 8h0m1-6h0m1-2h0m1 1h0m0 1h0m1 1h0m0-1h0m1 6h0m2-7h0m4 2h0m2-2h0m2 4h0m1-5h0m2 6h0m3-2h0m1 3h0m1-2h0m1-1h0m6 1h0m1 1h0m1-5h0m0 0h0m4 0h0m5 4h0m0-1h0m9 4h0m2 1h0m12-4h0m2 2h0m6-4h0m0-1h0m1-2h0m2 8h0m7-4h0m19 0h0m1 4h0m7-2h0m13-4h0m4 2h0m2-4h0m46-1h0m72 7h0m35-3h0m-423 6h0m11 9h0m25-4h0m4 1h0m3-3h0m8 1h0m1-2h0m4 7h0m20 1h0m15-9h0m0 0h0m1 7h0m0-3h0m2-2h0m0 2h0m0 2h0m7-5h0m3 2h0m3-3h0m1 7h0m0-1h0m1-2h0m0 1h0m2 2h0m1-3h0m1 3h0m1-2h0m1 1h0m0 0h0m0-7h0m2 1h0m0 0h0m1 4h0m2 5h0m1-7h0m0-2h0m1 6h0m0-5h0m1-1h0m0 2h0m1 0h0m1 6h0m3-3h0m0 1h0m0 2h0m1-5h0m1 1h0m1 2h0m0-1h0m5 0h0m2-6h0m2 4h0m2 0h0m1 3h0m1 0h0m0-1h0m0-4h0m0 6h0m3-5h0m1-2h0m3-1h0m2 0h0m0 8h0m0-7h0m3-1h0m0 10h0m1-8h0m4 5h0m1 2h0m1-4h0m2 5h0m2-10h0m5 4h0m1 1h0m2 0h0m0-1h0m4-3h0m3 8h0m2-1h0m3-6h0m0 3h0m10-1h0m1 2h0m4 3h0m0 0h0m1-7h0m0-1h0m1 0h0m1 0h0m7 9h0m7-2h0m7-4h0m12 1h0m3 4h0m1-3h0m29-5h0m2 0h0m3 6h0m171-6h0m-463 13h0m13 3h0m1-4h0m10-3h0m5 2h0m11 7h0m18-6h0m15 0h0m2 5h0m0 0h0m1 2h0m1-8h0m2-1h0m3 1h0m5 5h0m3-7h0m5 1h0m2-1h0m0 0h0m2 5h0m0-1h0m1 4h0m1-5h0m2 0h0m1 2h0m0-2h0m2-2h0m1 5h0m1 0h0m0-5h0m0 5h0m1-2h0m1 5h0m1-4h0m0-2h0m2 5h0m1-5h0m0 1h0m1 1h0m0 3h0m1-3h0m3 1h0m0 4h0m1-9h0m0 0h0m1 1h0m5-2h0m1 2h0m1 7h0m1-9h0m2 4h0m0-4h0m3 0h0m3 0h0m0 3h0m1 3h0m1-1h0m1 5h0m0-7h0m2 4h0m0-2h0m1-1h0m2-3h0m2 8h0m1-4h0m0 3h0m0 0h0m4-1h0m0-2h0m1 4h0m1-1h0m0 2h0m3-8h0m1 7h0m2-2h0m0 2h0m2-7h0m0 5h0m0 0h0m0-4h0m1 0h0m2 2h0m5 3h0m1-5h0m2 7h0m1-7h0m1 4h0m0-6h0m0 6h0m1-3h0m0-1h0m0-2h0m1 6h0m2 0h0m1-5h0m1 0h0m3 1h0m2 2h0m4 1h0m1 1h0m0 2h0m1-1h0m1 1h0m0-3h0m3 3h0m1-3h0m4 4h0m0-6h0m1 1h0m3 4h0m1-7h0m3 4h0m0-4h0m3 0h0m3-1h0m0 5h0m2 2h0m2-1h0m12-1h0m4 0h0m2-2h0m3-3h0m21 3h0m1-3h0m2 5h0m2-5h0m7 9h0m20-2h0m3-5h0m17 4h0m65 2h0m-388 6h0m38 3h0m20-3h0m5 0h0m8 1h0m2-1h0m5 2h0m0 0h0m3 1h0m3 0h0m3-5h0m1 0h0m0-2h0m1 5h0m1 0h0m1-4h0m9 3h0m2 2h0m2 2h0m0-7h0m1 8h0m1-1h0m1 1h0m0-8h0m2 6h0m1-2h0m3 1h0m1 0h0m0-2h0m1-4h0m1 9h0m2-6h0m1 5h0m1-8h0m1-1h0m0 6h0m2-3h0m0 0h0m3 2h0m0-2h0m2 4h0m1 1h0m6-1h0m1-2h0m2-4h0m0 4h0m2-3h0m0 4h0m0 0h0m1 1h0m1 0h0m0 2h0m5-2h0m1-4h0m0 2h0m0 0h0m0-4h0m3 1h0m0 0h0m3 7h0m1-1h0m3-4h0m0 5h0m1-7h0m2 2h0m1-2h0m3 0h0m2 7h0m1-1h0m1-5h0m2-3h0m0 10h0m1-3h0m0 3h0m1-2h0m1-1h0m1-3h0m0-1h0m1 0h0m0-1h0m1 4h0m0-1h0m1-2h0m0 4h0m2-4h0m0 4h0m2-3h0m0 0h0m6 1h0m2 0h0m2 2h0m0 0h0m2 3h0m3-1h0m1-1h0m1-7h0m2 9h0m0-9h0m1 5h0m2-2h0m0-2h0m0 0h0m0 8h0m2-3h0m0-3h0m2 4h0m1-8h0m7 0h0m2 1h0m1 4h0m6 0h0m2-2h0m2-1h0m0 0h0m1 4h0m1-4h0m2 4h0m2-5h0m1 2h0m19-1h0m2 2h0m7-3h0m7 6h0m3-2h0m30-1h0m159-4h0m-461 12h0m25 0h0m14 5h0m5 1h0m12-5h0m6 4h0m1-5h0m6 7h0m5 0h0m4 0h0m0-5h0m2-4h0m2 9h0m4-2h0m1-4h0m5 6h0m0-3h0m0 2h0m1-5h0m1 3h0m1-1h0m3-3h0m1-2h0m1 3h0m2-1h0m3-1h0m2 0h0m0 1h0m0 4h0m0 0h0m2 1h0m1-3h0m2 5h0m0-5h0m4 5h0m1 1h0m1-6h0m1 3h0m1 0h0m1 1h0m6-3h0m4 4h0m1-6h0m2 5h0m2 1h0m1-2h0m0-2h0m2-3h0m0 4h0m3-2h0m2-2h0m0 3h0m2 1h0m0-4h0m1 8h0m1-4h0m0-5h0m0 1h0m0-2h0m2 5h0m0-4h0m1 7h0m0 2h0m1-6h0m0 1h0m2-2h0m1 2h0m0-2h0m0-1h0m2-2h0m2 0h0m2 0h0m1 9h0m0-1h0m1-3h0m1 1h0m2 2h0m0-7h0m2 9h0m1-2h0m2-1h0m1-4h0m1-3h0m4 0h0m1 3h0m1 2h0m0-1h0m1 3h0m1 2h0m1-7h0m5 1h0m2 1h0m1 3h0m0 3h0m1-2h0m2 2h0m0-1h0m2-3h0m1-5h0m2 7h0m0 0h0m1-8h0m1 1h0m1 1h0m0 5h0m1-5h0m6 0h0m4 4h0m3 4h0m7-2h0m1-6h0m7 5h0m1 2h0m0-7h0m2 4h0m2 1h0m3-3h0m0 5h0m1-8h0m6 8h0m1-1h0m8-6h0m4 8h0m1 0h0m11-10h0m41 5h0m69 5h0m5-8h0m-386 16h0m39-6h0m10 0h0m7 5h0m13 3h0m4-5h0m7-5h0m13 6h0m0 0h0m1 1h0m0-4h0m2 1h0m4-2h0m2 6h0m1-7h0m3 3h0m3-3h0m0 6h0m3-3h0m0 1h0m0 3h0m3-1h0m1-4h0m0 6h0m2 0h0m1-5h0m1-1h0m4 1h0m3-4h0m2 9h0m2-1h0m2-7h0m0 8h0m1-1h0m0-4h0m0-1h0m2 6h0m0-1h0m1 0h0m0-1h0m1-6h0m0 8h0m1-1h0m2-1h0m0-5h0m2 1h0m1-1h0m1 2h0m1 5h0m0-6h0m1 7h0m1-7h0m1-1h0m0 0h0m0 4h0m2 4h0m0-1h0m2-8h0m2 4h0m0 0h0m0-1h0m1 3h0m1 3h0m1-5h0m0 4h0m1-5h0m2 4h0m0-3h0m0-3h0m2 0h0m0 5h0m0-4h0m0 7h0m2-7h0m0 5h0m1-3h0m1 5h0m1-4h0m0-3h0m0-1h0m1 7h0m1-2h0m1 0h0m0-6h0m1 6h0m0 1h0m1-2h0m1-5h0m1 7h0m3-5h0m1 1h0m1 0h0m0 0h0m3 4h0m0-4h0m1 3h0m0 1h0m0-1h0m3-6h0m2 3h0m0 5h0m0-3h0m1-5h0m2 4h0m0 0h0m1 0h0m0 4h0m0-1h0m4-7h0m1 0h0m1 7h0m1-2h0m0-2h0m0-1h0m2-1h0m5 6h0m1-6h0m2 1h0m0 5h0m1-8h0m0 4h0m0-2h0m4 7h0m1-3h0m3 1h0m1-6h0m3 7h0m2 2h0m1-2h0m6-2h0m13 0h0m2-5h0m3 4h0m25-3h0m18 6h0m64-8h0m-341 14h0m7 0h0m4-2h0m9 5h0m18-7h0m5 4h0m2 5h0m17-1h0m1-1h0m1 3h0m2-7h0m4-3h0m6 1h0m1 6h0m1-7h0m3 1h0m2 2h0m0 1h0m1 6h0m10-4h0m4-1h0m0 4h0m0-5h0m1-4h0m1 9h0m1-3h0m1-5h0m0 2h0m4 1h0m1 0h0m1-1h0m2-2h0m6 4h0m2 0h0m1-1h0m1 1h0m1 0h0m1 5h0m1-2h0m4 0h0m2-5h0m0 2h0m0-1h0m1 4h0m1 0h0m0 0h0m1-8h0m1 8h0m1-5h0m1-1h0m1 8h0m0-4h0m0 2h0m4 0h0m1-2h0m2-5h0m1 1h0m0 6h0m4-4h0m1-3h0m2 7h0m1-2h0m0-1h0m1-3h0m0 7h0m2-5h0m3-4h0m2 5h0m3 2h0m2-1h0m0-1h0m1-4h0m1 8h0m1-1h0m0-5h0m0-1h0m3 1h0m0 6h0m1-1h0m1 1h0m4-9h0m0 6h0m3 3h0m1 1h0m1-4h0m1 1h0m0-2h0m4 3h0m1 0h0m2-1h0m2-2h0m0 1h0m1-3h0m2 6h0m3-7h0m1 1h0m3 6h0m0 0h0m0-3h0m1-3h0m5 2h0m1-3h0m0 3h0m1 1h0m1-5h0m6 5h0m0-2h0m3 5h0m4 0h0m2-3h0m19 3h0m15-2h0m36-7h0m-299 17h0m32 1h0m9 2h0m7-1h0m13-7h0m2 2h0m2 0h0m3 4h0m0-1h0m1 0h0m5 3h0m4-5h0m1 2h0m1-3h0m5 6h0m2-3h0m0-5h0m1 7h0m1-6h0m0-1h0m2 2h0m2 0h0m2 1h0m0-1h0m3 2h0m0 0h0m0 1h0m1-3h0m2 2h0m2-4h0m3-1h0m1-1h0m1 9h0m3-1h0m2-1h0m2 2h0m1 1h0m0-6h0m1-4h0m2 6h0m1-3h0m2-1h0m2 3h0m1 3h0m2-6h0m3 5h0m0-5h0m4 5h0m0-6h0m1 0h0m2 1h0m0-1h0m1 6h0m1-4h0m0 7h0m1-10h0m2 9h0m1-5h0m1-2h0m0 3h0m1-2h0m3 2h0m1-2h0m2 1h0m0 5h0m2-5h0m0 0h0m0 1h0m1-1h0m1-1h0m1 3h0m0 0h0m1-4h0m2-1h0m0-1h0m2 1h0m4-1h0m3 9h0m2-2h0m3 3h0m0-6h0m1 4h0m1 1h0m0-5h0m6 3h0m1-1h0m3-5h0m4 0h0m4 4h0m2 3h0m0 1h0m3-1h0m0-4h0m1-1h0m0-2h0m2 1h0m3 7h0m2-1h0m1-7h0m6 0h0m4 1h0m2 1h0m5 6h0m8-4h0m2 2h0m0 1h0m6-7h0m0 9h0m7-8h0m92-1h0m6 5h0m-346 9h0m11-3h0m10 6h0m27-7h0m9-1h0m3 5h0m2 1h0m2 3h0m2-1h0m4-3h0m3 3h0m3 2h0m0-4h0m3-1h0m2 2h0m4-1h0m3 1h0m7-3h0m0 3h0m1-3h0m3 5h0m3-1h0m1-7h0m1 5h0m5 1h0m0-4h0m8 2h0m0 2h0m3-3h0m4 0h0m3 6h0m5-2h0m0-8h0m1 2h0m0 7h0m2 0h0m0 0h0m7-1h0m1 0h0m1 1h0m0-4h0m0 0h0m2-4h0m0 0h0m2 4h0m2-3h0m1 1h0m0 2h0m3-2h0m1 2h0m2-1h0m1 5h0m1-6h0m2 7h0m0-2h0m1-5h0m2-1h0m0 8h0m3 0h0m2-2h0m2-3h0m0 4h0m1 0h0m0-8h0m3 1h0m4 0h0m1 3h0m1 3h0m0-1h0m3 1h0m0-2h0m1-2h0m4 1h0m0-1h0m1-2h0m1 5h0m2-5h0m3 1h0m3 6h0m0-2h0m2-2h0m1-3h0m1 6h0m2-3h0m2-2h0m3 0h0m0 7h0m1-3h0m4 0h0m0-1h0m3-4h0m2 3h0m1-3h0m2 2h0m2 0h0m6 3h0m3-3h0m2-3h0m1 7h0m4 0h0m1 1h0m6 0h0m30-6h0m7 0h0m6 4h0m33 2h0m-309 8h0m15-3h0m36 1h0m0-1h0m1-2h0m7 0h0m2 2h0m3-4h0m1 3h0m0 7h0m11-2h0m1-5h0m0-1h0m1 2h0m1 3h0m2 1h0m2-8h0m9 4h0m6 4h0m2 0h0m2-5h0m0 0h0m5 0h0m4 0h0m2 7h0m1-6h0m0-4h0m2 5h0m0-4h0m1 5h0m1-4h0m1 1h0m4 6h0m1-3h0m1-4h0m5-1h0m2 8h0m0-1h0m4-2h0m2-6h0m0 5h0m1-5h0m2 3h0m1 2h0m1 5h0m2-7h0m3-1h0m2 3h0m1 4h0m2-9h0m0 3h0m2 1h0m1 1h0m2-1h0m6-2h0m2 5h0m8-3h0m2-2h0m4-1h0m2 4h0m4-3h0m8 6h0m2-3h0m3-4h0m1 6h0m1-3h0m0 5h0m4-7h0m1 2h0m2 3h0m12-5h0m38-1h0m38 8h0m14 0h0m133-6h0m-433 8h0m45 2h0m2 1h0m3-2h0m10 1h0m6-2h0m3 1h0m1 6h0m4-6h0m1 5h0m3-6h0m3 5h0m3-4h0m0-2h0m2 7h0m1 2h0m0-5h0m3 4h0m3-2h0m0 1h0m1-1h0m3-4h0m10-1h0m2 0h0m5 8h0m3 0h0m2-5h0m1-3h0m1-1h0m0 7h0m3-3h0m5-4h0m0 2h0m2 8h0m1-9h0m2 3h0m2-3h0m2 9h0m7-2h0m1-7h0m1 2h0m0 3h0m1-5h0m2 0h0m5 5h0m14-3h0m2 1h0m1 6h0m7-9h0m4-1h0m9 7h0m0-6h0m8 9h0m0-8h0m5 3h0m8 3h0m-233 5h0m58 4h0m12-4h0m3-1h0m2 2h0m1-2h0m4 6h0m6-8h0m10 5h0m9-2h0m1 1h0m5 6h0m5-7h0m2 6h0m1 0h0m5 0h0m0-2h0m2-2h0m4-2h0m2 6h0m1-6h0m0-2h0m5 5h0m3-4h0m3 6h0m6 0h0m13-4h0m5-3h0m1 5h0m5-4h0m3 0h0m6 5h0m3-1h0m8-4h0m1 4h0m12 2h0m7-5h0m2 0h0m12 1h0m8 5h0m2-2h0m7-5h0m30 4h0m-239 13h0m48-7h0m12-1h0m3 5h0m3 2h0m7-6h0m4 5h0m7-4h0m10 7h0m0-9h0m4 0h0m4 3h0m0 5h0m3-4h0m4 0h0m1-4h0m1 3h0m9 2h0m1-1h0m7 0h0m11-2h0m1 4h0m2-3h0m12-2h0m16 3h0m38-2h0m-222 8h0m32 9h0m26 0h0m11-2h0m4-7h0m8 2h0m15 3h0m8-1h0m2-5h0m1 1h0m3 2h0m4 6h0m6-6h0m4 0h0m7-2h0m1 4h0m2 1h0m5-3h0m0-1h0m8-1h0m3 1h0m10 1h0m1 2h0m10 0h0m4-3h0m4-1h0m12 7h0m7-3h0m3-2h0m-189 10h0m60 0h0m2-2h0m24 9h0m2-3h0m3 2h0m19-7h0m18 0h0m2 2h0m12 2h0m13-4h0m2-1h0m16 5h0m11-4h0m16 1h0m22 1h0m201 4h0m-380 2h0m37 1h0m9 2h0m16 3h0m1 3h0m6-3h0m4-6h0m39 2h0m31 1h0m12-2h0m97 6h0m118-5h0m-420 11h0m37-3h0m24 9h0m32-5h0m15-4h0m49 5h0m14 3h0m8-8h0m-85 12h0m19-2h0m31 3h0m58-1h0m-195 15h0m73-5h0m6 4h0m158-4h0m-171 10h0m323-1h0m128 10h0m-584 10h0m253 7h0m-148 10h0" stroke="#000" stroke-opacity="0.65" stroke-width="7.0" stroke-linecap="square" fill="none"/>
<rect x="133.6" y="370.3" width="78.3" height="80.30000000000001" fill="none" stroke="#000" stroke-width="1.1"/>
<line x1="167.3" y1="370.3" x2="167.3" y2="450.6" stroke="#000" stroke-width="1.1" />
<line x1="133.6" y1="407.5" x2="211.89999999999998" y2="407.5" stroke="#000" stroke-width="1.1" />
<rect x="135.50" y="372.58" width="10.14" height="6.52" fill="#fff"/>
<text x="135.9" y="377.90000000000003" font-size="7.0" stroke="#000" stroke-width="0.12" fill="#000" >Q1</text>
<rect x="135.50" y="381.38" width="14.42" height="6.52" fill="#fff"/>
<text x="135.9" y="386.7" font-size="7.0" stroke="#000" stroke-width="0.12" fill="#000" >7.10</text>
<rect x="200.06" y="372.58" width="10.14" height="6.52" fill="#fff"/>
<text x="209.79999999999998" y="377.90000000000003" font-size="7.0" text-anchor="end" stroke="#000" stroke-width="0.12" fill="#000" >Q2</text>
<rect x="195.78" y="381.38" width="14.42" height="6.52" fill="#fff"/>
<text x="209.79999999999998" y="386.7" font-size="7.0" text-anchor="end" stroke="#000" stroke-width="0.12" fill="#000" >7.35</text>
<rect x="135.50" y="433.58" width="10.14" height="6.52" fill="#fff"/>
<text x="135.9" y="438.90000000000003" font-size="7.0" stroke="#000" stroke-width="0.12" fill="#000" >Q4</text>
<rect x="135.50" y="442.78" width="14.42" height="6.52" fill="#fff"/>
<text x="135.9" y="448.1" font-size="7.0" stroke="#000" stroke-width="0.12" fill="#000" >85.0</text>
<rect x="200.06" y="433.58" width="10.14" height="6.52" fill="#fff"/>
<text x="209.79999999999998" y="438.90000000000003" font-size="7.0" text-anchor="end" stroke="#000" stroke-width="0.12" fill="#000" >Q3</text>
<rect x="195.78" y="442.78" width="14.42" height="6.52" fill="#fff"/>
<text x="209.79999999999998" y="448.1" font-size="7.0" text-anchor="end" stroke="#000" stroke-width="0.12" fill="#000" >0.58</text>
<ellipse cx="250.9" cy="429.6" rx="6" ry="6" fill="#000" fill-opacity="1.0" transform="rotate(0 250.9 429.6)" filter="url(#bl1_6)"/>
<ellipse cx="249" cy="424" rx="10" ry="12" fill="#000" fill-opacity="0.18" transform="rotate(0 249 424)" filter="url(#bl1_6)"/>
<path transform="scale(0.1)" d="M2895 3740h0m-33 20h0m18-2h0m-12 16h0m-51 1h0m8 0h0m35 3h0m5 7h0m7-7h0m1 7h0m-94 3h0m35-3h0m36 6h0m18 2h0m19-7h0m1 3h0m13 2h0m-78 12h0m4-5h0m15-1h0m6 8h0m32-7h0m4 4h0m5-1h0m9 3h0m13-7h0m13 4h0m-130 9h0m27 2h0m16 2h0m7-5h0m2 0h0m5 5h0m1-6h0m25 7h0m-105 3h0m14 3h0m2 0h0m10-2h0m4 3h0m17-2h0m7 0h0m11 2h0m1 3h0m7-5h0m0 4h0m3-5h0m7 0h0m15-1h0m6-3h0m40 1h0m-129 10h0m26 4h0m2 2h0m3 3h0m5-8h0m3-1h0m16 0h0m1 1h0m4 1h0m8 4h0m0 0h0m7-4h0m2 0h0m4 3h0m10-4h0m-95 8h0m7 5h0m10 3h0m14-4h0m0 5h0m10-7h0m16 4h0m11-2h0m44 6h0m-141 1h0m7 2h0m8 1h0m12 1h0m4-4h0m0 0h0m7 8h0m2-2h0m7-3h0m5-3h0m22 9h0m2-4h0m1-3h0m0-1h0m14-2h0m17 0h0m-106 16h0m12 4h0m0 0h0m8-2h0m4-7h0m4 2h0m14-2h0m9 3h0m20 3h0m12-1h0m7-4h0m10 2h0m-106 13h0m3-3h0m14 4h0m16-1h0m5-2h0m1 2h0m0-1h0m7-5h0m10 1h0m7-1h0m19 0h0m25 6h0m-97 4h0m8-1h0m19 7h0m1-2h0m5-1h0m3 2h0m5 1h0m13 2h0m1 0h0m-103 2h0m22 4h0m1 0h0m10 1h0m7 0h0m4-5h0m3-1h0m4 7h0m17-6h0m1-1h0m1 4h0m0 0h0m3 4h0m2-3h0m4-1h0m3-2h0m1 0h0m2 0h0m11 0h0m4 0h0m30 7h0m-129 4h0m11-2h0m19 1h0m10-1h0m11 1h0m3 2h0m5-2h0m13 4h0m7-3h0m0 5h0m9-7h0m9 2h0m4 0h0m-104 7h0m12 6h0m1-2h0m4 4h0m10-6h0m8 5h0m0 2h0m10-3h0m6-5h0m6 8h0m1-3h0m6-5h0m1 7h0m16-5h0m2 4h0m2-7h0m2 3h0m23 0h0m30 1h0m-148 13h0m16-2h0m11-4h0m0 8h0m4-6h0m9-3h0m0 8h0m5-2h0m2-3h0m2 4h0m14-3h0m0 6h0m17-4h0m11-3h0m20-3h0m-448 16h0m340-4h0m8 0h0m1 5h0m2 1h0m6 0h0m2-1h0m13-7h0m0 1h0m4 4h0m0-4h0m6 3h0m27-4h0m6 9h0m1-1h0m35-8h0m-401 15h0m19-3h0m82 0h0m48 2h0m10 5h0m19-1h0m90 0h0m28 0h0m13 0h0m5-1h0m0-3h0m11 5h0m1-6h0m13 1h0m1-1h0m6 4h0m4-2h0m18-1h0m-402 7h0m152 3h0m38-2h0m10 0h0m128 5h0m3-5h0m9-1h0m32-1h0m5 4h0m16 6h0m38-2h0m-380 11h0m88-2h0m67-6h0m0 0h0m64 6h0m26-4h0m1 5h0m29-3h0m14-3h0m3 0h0m10-2h0m33 3h0m-276 9h0m46 7h0m44-6h0m4 7h0m12-6h0m23 6h0m55-10h0m13 8h0m5 2h0m14-4h0m7 3h0m19-4h0m1-4h0m25 5h0m4-3h0m-324 10h0m35 2h0m58 5h0m3-2h0m8-4h0m125 3h0m11-4h0m0-2h0m30 9h0m1-8h0m9 4h0m2-5h0m34 0h0m60 5h0m-284 10h0m40 2h0m62-7h0m15 0h0m2 7h0m10-1h0m14 1h0m34-4h0m3-1h0m39-2h0m-295 13h0m5 2h0m131-5h0m9 8h0m26-4h0m24 2h0m10 0h0m1-4h0m23 7h0m0-2h0m8-4h0m14 1h0m-354 10h0m176-1h0m74 1h0m30 1h0m43 0h0m11-3h0m10 2h0m3-3h0m3 3h0m34-4h0m7 0h0m75 2h0m-446 16h0m15-7h0m34 1h0m49-1h0m1-2h0m18 0h0m7 5h0m10 1h0m42-4h0m15 2h0m43 2h0m107-4h0m20 6h0m-326 2h0m37 4h0m1 2h0m17 2h0m5-3h0m66 2h0m10-1h0m2-3h0m9 5h0m-197 5h0m7 5h0m11-3h0m83 5h0m16-1h0m3 1h0m24 0h0m22-4h0m10-3h0m5-3h0m2 8h0m17-2h0m17-1h0m120 1h0m-247 11h0m19-3h0m128 3h0m1-4h0m23-2h0m1 2h0m-220 11h0m45-2h0m10 0h0m7 7h0m1-7h0m9 5h0m4 3h0m2-9h0m7 6h0m17-2h0m12-4h0m18 3h0m2 4h0m30-5h0m199 5h0m-393 10h0m27-1h0m9 0h0m6-2h0m32-1h0m33 3h0m11-2h0m13 2h0m1-6h0m22-1h0m26 8h0m23-8h0m0 2h0m23 7h0m11-9h0m-272 16h0m27 2h0m28-3h0m50-1h0m13 5h0m25 0h0m32 0h0m56-6h0m355-1h0m-528 9h0m5 4h0m1 4h0m56-1h0m18 0h0m26-5h0m2 7h0m56-7h0m8 4h0m16-7h0m25 6h0m-185 6h0m1 3h0m26 1h0m3-1h0m2 3h0m8-6h0m2 0h0m0 6h0m2-6h0m53 4h0m4 1h0m39-2h0m10 4h0m2-9h0m21 6h0m2-4h0m5 6h0m100-1h0m32-5h0m-375 16h0m2-1h0m64-5h0m29 2h0m12-4h0m22 3h0m11 2h0m20-2h0m0-1h0m36 6h0m57 0h0m-224 7h0m23 4h0m41-7h0m3 4h0m6 4h0m12-7h0m7-3h0m20 9h0m2-4h0m6 4h0m3-4h0m1 2h0m8-7h0m9 3h0m9 6h0m2-3h0m2 0h0m47-1h0m11 3h0m13 2h0m259-1h0m-539 10h0m25 0h0m3-7h0m8 8h0m18-7h0m24 6h0m13-4h0m6 4h0m9-7h0m2 6h0m0-2h0m6-4h0m8-1h0m4 4h0m2 1h0m7-1h0m1-4h0m3 8h0m4-8h0m11 4h0m13 1h0m4 1h0m25-1h0m10 2h0m35 0h0m9-6h0m5 1h0m9 2h0m9 4h0m90 0h0m70-3h0m14-5h0m-429 14h0m32 5h0m11-3h0m12 2h0m2 0h0m18 0h0m3-8h0m4 8h0m5-4h0m8 3h0m1-4h0m6 3h0m4-4h0m3 3h0m0-3h0m2 5h0m38-1h0m3-6h0m2-1h0m2 6h0m0 2h0m2-7h0m1 5h0m3-1h0m13 1h0m2 1h0m24-3h0m16 2h0m1-2h0m24 5h0m15 1h0m8-5h0m190-1h0m-418 10h0m9 1h0m1-3h0m5 6h0m13 1h0m4-6h0m12 6h0m1-3h0m1-4h0m4 3h0m7 3h0m8-3h0m12-3h0m1-1h0m6 8h0m14-1h0m3 0h0m0-6h0m5 1h0m8-3h0m2 9h0m2-7h0m6 1h0m8 2h0m1 2h0m35 1h0m1-2h0m7 2h0m9-3h0m3 4h0m0-6h0m9 7h0m53-1h0m4-2h0m4-2h0m-292 12h0m5 0h0m6 2h0m2 0h0m14-1h0m3 1h0m3-8h0m1 3h0m1-2h0m6 2h0m6 0h0m1 2h0m4 2h0m1-6h0m10-2h0m4 4h0m2 5h0m3-8h0m5 6h0m13 0h0m11-6h0m1 0h0m7 2h0m3 2h0m12 0h0m4 0h0m7-1h0m12 2h0m1-1h0m4 2h0m4-7h0m3 6h0m8 0h0m14-5h0m9 2h0m1-1h0m14 2h0m14-2h0m33 1h0m25 1h0m19 1h0m168-4h0m-465 16h0m24 2h0m3-9h0m1 6h0m0-5h0m12 0h0m0 8h0m24 0h0m5-8h0m3 3h0m5 2h0m3-1h0m5-3h0m4 4h0m4-1h0m0 2h0m5-2h0m4 1h0m9-4h0m3 7h0m2-3h0m10 2h0m4-6h0m3 1h0m6 0h0m2 2h0m2 2h0m1 1h0m8 1h0m3-8h0m3 5h0m9-3h0m3 4h0m3-3h0m2 4h0m4-7h0m5 2h0m9 1h0m11 2h0m1 3h0m12-1h0m3-4h0m1-3h0m1 4h0m6-2h0m9 0h0m20 5h0m3-6h0m7 7h0m8-6h0m31 1h0m23-3h0m120 1h0m-464 15h0m20-1h0m32 2h0m4-2h0m2-4h0m8 8h0m1-2h0m20-4h0m4-3h0m1-1h0m0 3h0m1-3h0m4 7h0m1-5h0m4 2h0m1 4h0m5-3h0m1-3h0m3-1h0m0 8h0m2-4h0m12 2h0m2-1h0m2 1h0m0 1h0m3-3h0m3 5h0m3-8h0m4 1h0m1 5h0m2-6h0m1 6h0m10-2h0m2-3h0m1 4h0m2-2h0m5-4h0m6 2h0m1 5h0m2-7h0m2-1h0m2 7h0m2-1h0m3 1h0m3-7h0m2 1h0m3 5h0m3 2h0m3-8h0m1 0h0m2 9h0m5 1h0m0-3h0m2-3h0m0 1h0m7 0h0m12 1h0m0-2h0m6 5h0m19-4h0m9-1h0m22-3h0m1-1h0m30 5h0m-329 6h0m23 8h0m69-3h0m4-2h0m8 5h0m3 0h0m7-3h0m4-3h0m2 3h0m2-3h0m2 4h0m3-5h0m3 6h0m0-5h0m0-3h0m1 7h0m1-2h0m5-2h0m10 2h0m3-4h0m2 7h0m2-2h0m0-1h0m7 4h0m2-5h0m1 4h0m6-8h0m3 10h0m0-8h0m3 6h0m4 0h0m3-1h0m2-6h0m8 5h0m3 1h0m1 2h0m7-7h0m4 5h0m1-2h0m2 1h0m0-1h0m5-1h0m4 6h0m0-9h0m2 1h0m2 8h0m5-8h0m2 6h0m7-6h0m7 7h0m0 0h0m1 0h0m2-4h0m6 5h0m1-5h0m2 3h0m15-1h0m2 0h0m8 0h0m22-6h0m19 0h0m177 5h0m-481 12h0m11-2h0m18-2h0m5-4h0m2 3h0m1-2h0m3 0h0m15 3h0m13 0h0m9-3h0m6 9h0m1-4h0m0 0h0m8 3h0m5-1h0m4-7h0m3 4h0m3-4h0m6 3h0m10 4h0m3-6h0m1 4h0m1-6h0m3 2h0m3 5h0m0 0h0m1 0h0m2 0h0m1-2h0m3 1h0m2 3h0m5 1h0m0-10h0m4 3h0m0 6h0m4-7h0m2-2h0m2 6h0m0 3h0m3 0h0m3-6h0m4 4h0m5 2h0m0-8h0m1 8h0m3-8h0m5 4h0m4 3h0m2-4h0m0 2h0m3 1h0m2-5h0m1 0h0m1 2h0m2 5h0m2-5h0m0-1h0m3 5h0m9-3h0m2 4h0m12 0h0m23-9h0m22 8h0m6-5h0m1 5h0m62-5h0m120 3h0m-453 5h0m9 7h0m2-4h0m0 0h0m21 0h0m32 0h0m2 1h0m4-4h0m1 1h0m8-2h0m0 5h0m1 3h0m6-2h0m2 0h0m0 2h0m1-7h0m0 6h0m1 0h0m3-6h0m1 0h0m3 2h0m4 5h0m1-2h0m6-3h0m1 4h0m1-6h0m3 8h0m7-1h0m1-5h0m9 3h0m3-5h0m0 8h0m7-2h0m3-5h0m1-1h0m6 8h0m9-1h0m0-2h0m0 0h0m1-2h0m1-3h0m1 6h0m3-6h0m2 8h0m0 0h0m2-8h0m0 8h0m2-4h0m2-2h0m0 6h0m2-5h0m2-1h0m1 4h0m2-6h0m1 1h0m1 4h0m1 1h0m1-4h0m3-2h0m1 4h0m3 1h0m3-4h0m6 3h0m5-4h0m1 4h0m1-2h0m0 3h0m11-5h0m7 2h0m2 0h0m9 3h0m1 3h0m10-8h0m2 4h0m10 3h0m5 2h0m12 0h0m8-5h0m22 2h0m4-1h0m147-3h0m-441 9h0m21 3h0m5 0h0m16 4h0m2-8h0m6 7h0m7 1h0m9-6h0m1-1h0m3 0h0m4-1h0m4 3h0m0 4h0m2-4h0m3-3h0m0 8h0m3-1h0m6-4h0m3-2h0m5 5h0m0-4h0m4 4h0m1-6h0m0 4h0m1 3h0m4-6h0m1 2h0m2 6h0m1-3h0m0 2h0m2-3h0m2-4h0m0 8h0m1-7h0m1-2h0m1 8h0m1-4h0m0-4h0m0 6h0m1 1h0m1-4h0m4-1h0m9-3h0m1 3h0m3 0h0m6 4h0m2-7h0m0 5h0m9-4h0m3 2h0m4 4h0m0-2h0m4-2h0m5-3h0m11 5h0m1 1h0m7-1h0m1-2h0m12 5h0m3-3h0m0-5h0m0 8h0m10 1h0m1-5h0m0-1h0m1 3h0m0-1h0m3 3h0m6-2h0m14 2h0m35 0h0m54-6h0m1-1h0m-323 15h0m8 0h0m9 2h0m6-1h0m5-1h0m3 0h0m5 0h0m1 1h0m14-4h0m3 1h0m2-4h0m3 8h0m2 1h0m0-7h0m1-1h0m3 7h0m0-7h0m5 0h0m0 6h0m2-6h0m3 6h0m9-4h0m0 7h0m11-4h0m6 2h0m1-2h0m3-3h0m1 1h0m1 1h0m0-3h0m1 5h0m2 2h0m0-8h0m1 1h0m2 8h0m1-3h0m4-1h0m4-4h0m1 6h0m1-4h0m2 1h0m3 4h0m3-6h0m4 3h0m1 2h0m0-2h0m1 3h0m8-5h0m1 4h0m2-8h0m2 5h0m2 1h0m2 3h0m2 1h0m0-3h0m3 2h0m0-5h0m1 3h0m4-1h0m2-3h0m1-1h0m1-1h0m1 4h0m4 0h0m2 5h0m2-5h0m0 4h0m1-4h0m2-3h0m3 1h0m4 6h0m3-5h0m0-4h0m0 2h0m1 2h0m8 3h0m0-2h0m3-3h0m2 0h0m0 7h0m1-5h0m3-2h0m6-1h0m0 0h0m4 3h0m13 0h0m1-2h0m0 0h0m3 0h0m27 7h0m240-5h0m-506 12h0m1 2h0m0-8h0m8 7h0m2 1h0m4 1h0m11-1h0m7-1h0m12-2h0m0 4h0m1-8h0m1 3h0m1-1h0m6 2h0m2-2h0m14 2h0m3 2h0m3-3h0m2-2h0m1 4h0m5 0h0m1 1h0m0 2h0m1-4h0m5-4h0m1 4h0m0 2h0m0 0h0m1-6h0m1 4h0m0 1h0m2 1h0m3-6h0m1 4h0m0 4h0m5-2h0m1-4h0m0 6h0m0-2h0m1-1h0m1-3h0m0-2h0m0 1h0m1 1h0m1 5h0m1-6h0m1-2h0m0 7h0m8-3h0m0 4h0m0-4h0m3 4h0m2-1h0m2 0h0m0-6h0m1 0h0m2 0h0m0 3h0m1-1h0m0-2h0m0 1h0m5 2h0m1 2h0m0 3h0m0-1h0m5 1h0m1-4h0m1-2h0m0 0h0m1-1h0m1 5h0m11-2h0m4-4h0m3-1h0m0 10h0m2-7h0m0 4h0m2-6h0m1 1h0m1 6h0m0-5h0m1 0h0m1 6h0m1-5h0m2 4h0m2 1h0m2-4h0m6 2h0m0 3h0m1-6h0m1-1h0m1 2h0m1 3h0m0-6h0m0 2h0m1 5h0m1-5h0m1 3h0m3-5h0m4 3h0m6-4h0m1-1h0m3 7h0m0-2h0m7-3h0m6 7h0m9-1h0m25 1h0m5-3h0m0-3h0m7-1h0m19-1h0m-286 11h0m4 5h0m3 2h0m23-1h0m6 1h0m6-2h0m3-3h0m3-1h0m2 3h0m0-3h0m3 7h0m2-2h0m0-1h0m3-3h0m3 1h0m3-3h0m1 2h0m0-1h0m5-2h0m1 9h0m2-3h0m1-5h0m1 6h0m0-2h0m4 0h0m1 4h0m3-9h0m2 4h0m1 3h0m0-1h0m2 3h0m1-6h0m1 0h0m2 1h0m1 4h0m1-3h0m0 1h0m1-2h0m0-2h0m1 2h0m2-2h0m3 2h0m1-3h0m2 2h0m4 2h0m1 1h0m0-6h0m1 5h0m1 4h0m0-1h0m1-5h0m3 3h0m0-6h0m1 5h0m4-2h0m0 6h0m3-2h0m3-6h0m0-2h0m1 4h0m0-3h0m4 6h0m1-1h0m0 2h0m0-1h0m2 2h0m1-9h0m0 7h0m2-5h0m2 3h0m1-2h0m3 0h0m0 3h0m2-1h0m1-4h0m1 2h0m0 6h0m1-3h0m0-2h0m1 5h0m1-6h0m2-1h0m0 1h0m1-2h0m0 7h0m1-4h0m1 0h0m2 4h0m3 2h0m2-4h0m1 4h0m1-5h0m5-5h0m0 3h0m0-2h0m2 3h0m2 2h0m1-5h0m2 6h0m1 3h0m0 0h0m1-3h0m0 0h0m0 3h0m5-9h0m0 8h0m2-6h0m3 2h0m4 1h0m4 2h0m1-3h0m1-3h0m0 5h0m2 2h0m1-8h0m8 6h0m5-2h0m1-4h0m9 4h0m7-4h0m0 1h0m5 3h0m6-3h0m2 4h0m17-3h0m11 5h0m22 0h0m-344 4h0m11 7h0m22-6h0m21 5h0m5-7h0m6 7h0m24-2h0m2-4h0m8 2h0m4 3h0m3-1h0m2-4h0m3 8h0m3-1h0m3-6h0m1 7h0m1-7h0m4 0h0m3-1h0m1 3h0m5 1h0m0-1h0m0-2h0m5 6h0m3-3h0m0 0h0m1 4h0m3-5h0m1-1h0m1 1h0m0 4h0m1 0h0m2-2h0m4-4h0m2 1h0m1-1h0m1 1h0m1 2h0m0-5h0m0 5h0m1-2h0m0 2h0m2-3h0m0-1h0m1-1h0m3 7h0m1-6h0m0 1h0m2-2h0m0 2h0m1-2h0m0 1h0m1-1h0m1 1h0m2 1h0m5-2h0m2 2h0m4 4h0m0 0h0m1-2h0m1-4h0m2 4h0m0 1h0m0 0h0m1-5h0m0 8h0m0-4h0m3 5h0m1-1h0m1-6h0m2 3h0m0-3h0m3 5h0m1-1h0m0 0h0m1 1h0m0-5h0m1-3h0m0 10h0m1-8h0m1-1h0m0 2h0m4 4h0m1-4h0m2 0h0m0 7h0m0-7h0m1 3h0m0 1h0m1-6h0m1 3h0m5 2h0m2 4h0m0-4h0m0-2h0m0-4h0m1 7h0m2-1h0m0 2h0m2-2h0m5 3h0m1-6h0m3 1h0m1 1h0m0 2h0m5-2h0m1 4h0m0 0h0m2-7h0m2 7h0m1-4h0m1 5h0m0-1h0m9-2h0m0 3h0m5-1h0m0-4h0m1 0h0m0 4h0m5-6h0m11 5h0m18-5h0m2 0h0m5-2h0m3 3h0m5 5h0m2-7h0m3-1h0m16 1h0m-306 11h0m23-1h0m6 3h0m5-2h0m4 6h0m4-4h0m4 2h0m0 1h0m2-8h0m3 2h0m7 2h0m1 0h0m4 2h0m1 1h0m8 1h0m0-7h0m3-1h0m1 6h0m4 2h0m2-5h0m1 2h0m0 2h0m4-2h0m2-1h0m1 4h0m4-8h0m2 9h0m0-6h0m1 3h0m1-3h0m4 6h0m1-4h0m0 2h0m0-3h0m1 3h0m2 1h0m2-1h0m1 2h0m0-8h0m2 4h0m2 1h0m4-2h0m1 4h0m1-5h0m1 3h0m2 2h0m1-6h0m0 2h0m1-3h0m6 7h0m1 1h0m2-4h0m2 3h0m1-5h0m1 0h0m2-1h0m1 2h0m0-2h0m1 2h0m1-3h0m2 3h0m1 5h0m0-7h0m1 4h0m0 1h0m2-7h0m2 8h0m0 1h0m1-1h0m2-4h0m0 4h0m0 0h0m1-2h0m1 0h0m0 0h0m2 0h0m4-5h0m1 5h0m2 0h0m0-4h0m1-1h0m2 2h0m0 4h0m2-2h0m1-2h0m1 1h0m0 3h0m1-3h0m1-1h0m1 7h0m1-4h0m2-6h0m0 6h0m1-4h0m1 0h0m0 6h0m1-6h0m1-1h0m1 2h0m0 0h0m1 4h0m1-2h0m1-1h0m0 0h0m1 5h0m2-1h0m0-3h0m1-2h0m0 6h0m2-3h0m2 4h0m1-4h0m0 1h0m1-3h0m6 5h0m0-4h0m2 3h0m6-3h0m3 1h0m3-4h0m0 4h0m1 0h0m5 0h0m1-2h0m0 3h0m6 0h0m4 1h0m0-8h0m3 9h0m2-2h0m1-2h0m1-1h0m7 4h0m1-8h0m2 7h0m0 1h0m3-6h0m10 7h0m5-2h0m1 3h0m1-6h0m1 0h0m1 0h0m23-2h0m1 1h0m6 4h0m6-2h0m92-3h0m-423 16h0m3-2h0m10-3h0m35 3h0m1 3h0m4-8h0m3 9h0m11-6h0m8 1h0m15-3h0m9 0h0m13 6h0m1-7h0m2 3h0m0-3h0m4 0h0m0 0h0m2 4h0m0 3h0m1-3h0m3 3h0m2-7h0m2 2h0m1 1h0m0 4h0m0-3h0m1-1h0m0 4h0m1-1h0m0-3h0m1-3h0m3 8h0m1-4h0m0 0h0m1 0h0m1 4h0m0-3h0m1 1h0m2-5h0m1 7h0m1 0h0m0-6h0m0 3h0m2 1h0m2-2h0m0 2h0m1-1h0m0-2h0m1-2h0m1 7h0m1-4h0m0-1h0m0 2h0m2 0h0m0-5h0m1 6h0m1-3h0m1 2h0m0 0h0m4 2h0m1-3h0m0 2h0m0-1h0m1 3h0m1-1h0m0-3h0m2 1h0m0 1h0m0 1h0m0-3h0m1 3h0m0-4h0m1 2h0m0-1h0m0-2h0m2 3h0m0-6h0m2 2h0m1-1h0m0 9h0m0-5h0m1 1h0m0-2h0m1-4h0m2 7h0m0-3h0m1 0h0m0-2h0m1-2h0m2 5h0m1 5h0m1-9h0m0 2h0m2 4h0m1-4h0m0 1h0m1-2h0m0 4h0m0-4h0m2 8h0m1-7h0m0 2h0m0 5h0m1-9h0m1 6h0m1-1h0m1-6h0m0 4h0m1-2h0m0-1h0m0 4h0m0-2h0m1 2h0m0-3h0m2 7h0m2-7h0m1-2h0m2 8h0m1 1h0m2 0h0m2-6h0m1-1h0m0 6h0m1-5h0m0-3h0m2 7h0m1-5h0m2 6h0m1-4h0m0-2h0m1-1h0m2 9h0m1-2h0m2 1h0m2-3h0m0-4h0m1 0h0m6 1h0m0 0h0m3 2h0m0-3h0m0 7h0m2-6h0m2 3h0m2-2h0m1-3h0m4 7h0m4-2h0m10 1h0m0-7h0m5 10h0m8-2h0m4-7h0m8 8h0m18-4h0m22-1h0m247-3h0m-543 11h0m23 2h0m3-1h0m21 2h0m2 1h0m0-2h0m1 3h0m3-2h0m1-1h0m1-4h0m5 7h0m7-5h0m10 6h0m5-8h0m0 3h0m8 4h0m0 0h0m2 2h0m2-3h0m0-1h0m0 0h0m0-2h0m2 1h0m0 4h0m3-6h0m2 6h0m0-1h0m5 0h0m3-3h0m0 4h0m1 1h0m9-4h0m1-1h0m0 6h0m1-2h0m0-5h0m0 2h0m1 0h0m0-2h0m0 3h0m0 1h0m1-3h0m0-1h0m1 7h0m1-8h0m1-2h0m1 5h0m0-3h0m0 2h0m0 6h0m1-3h0m0 1h0m2 0h0m1 1h0m2-2h0m1 3h0m1-2h0m0-2h0m0-6h0m2 7h0m1-4h0m1-1h0m1 0h0m0 7h0m1-3h0m3 4h0m1-9h0m0 8h0m0-5h0m1 1h0m0-1h0m0 0h0m0 0h0m1 4h0m1 1h0m0-7h0m2 6h0m0-6h0m0 1h0m0 0h0m3 3h0m0-2h0m3-1h0m7 5h0m1 0h0m0-5h0m3-1h0m0 0h0m0 2h0m1-4h0m1 1h0m1 6h0m0-1h0m1-1h0m0 4h0m1 0h0m1 1h0m1-6h0m1 4h0m0-6h0m0 0h0m1 6h0m2 1h0m1-3h0m0 4h0m0-4h0m3 2h0m1-6h0m1 6h0m2 0h0m0 1h0m1-7h0m11 2h0m1 2h0m1-4h0m1 4h0m0-1h0m1-1h0m2 3h0m2-7h0m4 8h0m2-3h0m1-1h0m0-2h0m4-1h0m11 7h0m0-7h0m1 6h0m3-5h0m2 3h0m6 1h0m0 1h0m8 2h0m34-3h0m29 4h0m45-7h0m150 3h0m71 2h0m-584 2h0m30 3h0m4 2h0m3 1h0m9-3h0m0 4h0m3 1h0m4-1h0m2-4h0m8 3h0m3-5h0m14 4h0m7-4h0m1 2h0m1 1h0m2 1h0m4 2h0m0 0h0m1-1h0m2 3h0m2-8h0m1 0h0m5 9h0m1-3h0m0-2h0m0 3h0m0 0h0m4-2h0m0 2h0m6 2h0m4-8h0m0 8h0m3-8h0m3 7h0m1 1h0m0-4h0m3 1h0m2 2h0m2-1h0m5 1h0m0-6h0m0-1h0m1 1h0m1-2h0m3 4h0m0-4h0m1 3h0m3-1h0m1 6h0m1-5h0m1 0h0m0 3h0m1-1h0m3-2h0m0-3h0m4 4h0m0-3h0m0 3h0m2 4h0m3-5h0m0 0h0m2 0h0m0 2h0m2 1h0m2-5h0m1 7h0m0-3h0m2 1h0m2-2h0m1-2h0m0 0h0m1 0h0m1 0h0m1 4h0m2 3h0m1-5h0m2 2h0m0-4h0m3 2h0m2 3h0m1-7h0m5 2h0m0 5h0m2-3h0m1 5h0m0-8h0m3 6h0m1-4h0m3 1h0m1 1h0m1-5h0m4 3h0m0 0h0m0 2h0m4 2h0m6-1h0m0 0h0m0-4h0m2-1h0m4 5h0m0-3h0m1 4h0m0-4h0m1 0h0m5 4h0m0 1h0m1-4h0m2 3h0m15-1h0m5-6h0m4-1h0m9 1h0m10 9h0m4-3h0m14 3h0m15-4h0m25-4h0m-350 15h0m19-1h0m11 1h0m10-2h0m4-4h0m1 1h0m12 2h0m9-3h0m3 2h0m3 5h0m15-3h0m2-1h0m4 5h0m2-1h0m3 2h0m0-5h0m3-4h0m6 0h0m3 6h0m0-6h0m7 2h0m2 4h0m1-5h0m2 5h0m4-1h0m2-4h0m1 7h0m5-4h0m1 4h0m0-5h0m1 0h0m3-4h0m1 10h0m0-7h0m3 6h0m0-5h0m0 2h0m1-3h0m1 3h0m4-3h0m0 6h0m1-4h0m0 1h0m1-5h0m0 2h0m0-1h0m3 1h0m1 6h0m5-8h0m0 3h0m3-1h0m2-1h0m1 4h0m2 3h0m3-4h0m0 2h0m4 3h0m0-8h0m2 3h0m1-1h0m1 0h0m1 5h0m3-5h0m2-3h0m1 0h0m1 2h0m0-2h0m0 7h0m3-2h0m1 2h0m1 1h0m0-1h0m0-5h0m1 7h0m0-9h0m1 6h0m1-4h0m3-3h0m2 6h0m1 2h0m1-5h0m0 0h0m1 5h0m2-6h0m3-2h0m0 4h0m1 4h0m0-5h0m0-3h0m1 0h0m8 5h0m2-5h0m0 8h0m2-1h0m1 2h0m1-1h0m2 1h0m1-4h0m1 0h0m1-2h0m2 5h0m1 0h0m1 0h0m4-2h0m1 2h0m4-4h0m2-4h0m0 6h0m0 1h0m6-2h0m3 4h0m4-8h0m6 6h0m1-2h0m1 2h0m31-1h0m1 0h0m-268 5h0m6 0h0m3 4h0m18 2h0m10 1h0m0-6h0m2-1h0m0 3h0m7 4h0m9-6h0m8 8h0m2 0h0m8-10h0m3 7h0m2 1h0m2-7h0m2 0h0m3 7h0m1-7h0m4 4h0m0 3h0m5 0h0m0-7h0m1 0h0m5 3h0m8 4h0m4 1h0m1-3h0m1-4h0m2 6h0m1-7h0m2 8h0m0-1h0m1-3h0m0 1h0m0 3h0m2-3h0m1-5h0m0 2h0m2 6h0m2-3h0m0-4h0m2 0h0m0-2h0m0 3h0m1 6h0m1-1h0m2-3h0m1 1h0m1-5h0m0 2h0m1 2h0m2-2h0m3-2h0m2 5h0m1-5h0m1 9h0m0-3h0m1-6h0m0 5h0m2-3h0m0-2h0m2 0h0m0 2h0m2 6h0m2-3h0m0 2h0m3 1h0m0-3h0m0-4h0m1-1h0m0 0h0m1-1h0m0 4h0m1 5h0m1-1h0m2-7h0m1 1h0m3 5h0m4-3h0m2-1h0m1-3h0m2 3h0m0 3h0m1-6h0m0 7h0m4-2h0m1-5h0m1 5h0m1 5h0m0-6h0m1 1h0m0 3h0m2-7h0m3 4h0m3 0h0m0 0h0m1-2h0m2 1h0m1-1h0m9-1h0m1 0h0m4-2h0m0 5h0m4-3h0m1 2h0m3 4h0m2 0h0m4-3h0m5-2h0m5 2h0m9 4h0m10-5h0m28-3h0m12 2h0m158 3h0m-490 8h0m38-2h0m26-2h0m10 7h0m10-4h0m11-3h0m1 0h0m8 4h0m1-4h0m4 9h0m0-8h0m0 1h0m4-1h0m3 5h0m3-2h0m4 4h0m5-6h0m0 7h0m1-1h0m3-7h0m4 3h0m2 6h0m1-5h0m0-2h0m1-1h0m2 0h0m2 1h0m0 6h0m0-8h0m3 6h0m0-6h0m5 3h0m4 2h0m1 0h0m1-1h0m1 1h0m1-3h0m0 2h0m1 1h0m3 1h0m0-3h0m2-4h0m0 2h0m0 5h0m0-4h0m3 0h0m0 5h0m2-6h0m0-1h0m2 6h0m0-6h0m1 1h0m1 4h0m2 1h0m1-6h0m3 8h0m0-3h0m0 0h0m0 1h0m0-3h0m2 0h0m4-2h0m3 2h0m1 2h0m1 3h0m1 0h0m0 0h0m2 0h0m1 0h0m2-5h0m1 2h0m0-4h0m0 6h0m4 2h0m0-2h0m0-4h0m1-3h0m1 0h0m2 6h0m0-2h0m3 1h0m3-1h0m2 3h0m9-7h0m0 0h0m3 3h0m4 2h0m1 3h0m10-8h0m4-1h0m2 2h0m1 8h0m5-4h0m1 0h0m11 0h0m3 3h0m8-7h0m9 0h0m3 7h0m14-2h0m79 0h0m-350 7h0m19-1h0m25-3h0m3 10h0m15-5h0m7-4h0m5 5h0m1-5h0m2 2h0m5 0h0m4-1h0m2 2h0m0 0h0m9-1h0m0-1h0m2-1h0m1 4h0m0-3h0m2-1h0m3 0h0m1 4h0m4-1h0m1 5h0m9 0h0m3-4h0m2-2h0m5 1h0m6-2h0m2 3h0m1 1h0m1 1h0m0-1h0m0-1h0m1-4h0m2 1h0m1 7h0m0-8h0m2 2h0m0 5h0m1 1h0m1-5h0m2 0h0m3 6h0m2-8h0m1 7h0m3-9h0m3 5h0m4 0h0m1 2h0m1 3h0m1-8h0m1 0h0m1 0h0m0 0h0m1 1h0m2 7h0m1-9h0m1 4h0m1 1h0m0 1h0m4-1h0m1 1h0m1-5h0m6 2h0m2-1h0m0 3h0m2 0h0m10-5h0m11 4h0m9-2h0m10 4h0m4-2h0m12 4h0m3-4h0m4-3h0m6 4h0m34 1h0m-308 4h0m20 3h0m3-2h0m14 2h0m11 0h0m1-2h0m9 5h0m4 0h0m3-4h0m1 7h0m19-6h0m4 4h0m5-6h0m0-1h0m3 4h0m3-5h0m12 4h0m2 5h0m5-1h0m0-5h0m0 6h0m1-1h0m3-6h0m1-2h0m4 10h0m3-1h0m4-4h0m3 4h0m4-8h0m1 5h0m2 1h0m1 2h0m3-3h0m9-5h0m0 5h0m2-5h0m0 6h0m1 2h0m0-1h0m6 1h0m1-1h0m9-8h0m15 2h0m0 6h0m3-8h0m4 7h0m12 2h0m1-1h0m18-5h0m16 0h0m41 1h0m-303 13h0m61 1h0m7 0h0m9-5h0m10 0h0m2-2h0m2 8h0m2-5h0m9 2h0m20-2h0m0 5h0m4-8h0m17 7h0m1-1h0m2-5h0m2 5h0m2 2h0m1-3h0m1-1h0m1-2h0m0 4h0m3-2h0m1-2h0m2 1h0m1-3h0m11 7h0m8 0h0m1 2h0m7-6h0m2 5h0m1 1h0m2-5h0m13-5h0m0 3h0m0 3h0m2-6h0m14 3h0m0 4h0m1-5h0m2 8h0m7-6h0m1 0h0m3 3h0m1-5h0m7 6h0m3-5h0m4-3h0m0 8h0m5-3h0m21 1h0m7-5h0m-241 19h0m35-3h0m6-6h0m19 2h0m5 5h0m2-1h0m1-4h0m3 3h0m8-6h0m4 5h0m7 2h0m9-5h0m3 6h0m10-1h0m3-3h0m4-4h0m2 8h0m1-7h0m7 2h0m0 5h0m1-8h0m2 9h0m8-5h0m4 0h0m4 3h0m3-6h0m6 3h0m1 3h0m7-2h0m1-2h0m5-2h0m4 9h0m1-1h0m8-7h0m9 2h0m12 1h0m6-4h0m20 1h0m2 0h0m238-1h0m-481 14h0m7-4h0m15 4h0m14 3h0m13-2h0m12-1h0m5-4h0m11 0h0m8 5h0m7-1h0m13 0h0m0-2h0m14 2h0m1 3h0m2 0h0m2-4h0m15 3h0m8-1h0m4-1h0m0-1h0m11 6h0m6-7h0m5 0h0m8 5h0m26 0h0m4-1h0m9 1h0m8-3h0m1 4h0m5 1h0m28-2h0m95-7h0m26 7h0m-318 12h0m3-5h0m10 1h0m14-3h0m0-1h0m11 6h0m0-6h0m9 4h0m6 0h0m34-4h0m2 1h0m2 1h0m14 1h0m6-3h0m14 0h0m3 7h0m15-3h0m20 1h0m-245 9h0m112 0h0m2 0h0m0 0h0m2-3h0m9 4h0m12 3h0m3-9h0m6 8h0m17-8h0m1 9h0m13-9h0m0 3h0m1 2h0m6 2h0m40-4h0m4 3h0m90-1h0m-329 11h0m28 1h0m51-3h0m17-2h0m2 5h0m4 0h0m2-6h0m23 5h0m26 2h0m16-6h0m4 1h0m16 1h0m11-1h0m4 4h0m18-3h0m14-4h0m69 7h0m30-6h0m-199 9h0m4 2h0m31-1h0m18 5h0m7 1h0m27-2h0m62-4h0m-181 13h0m13 0h0m20 0h0m60 2h0m76-5h0m31 2h0m-277 15h0m42-1h0m25 2h0m14-9h0m21 6h0m3-6h0m36 5h0m33-4h0m19 4h0m-106 13h0m0-7h0m53 34h0" stroke="#000" stroke-opacity="0.65" stroke-width="7.0" stroke-linecap="square" fill="none"/>
<rect x="231.6" y="370.3" width="78.3" height="80.30000000000001" fill="none" stroke="#000" stroke-width="1.1"/>
<line x1="264.3" y1="370.3" x2="264.3" y2="450.6" stroke="#000" stroke-width="1.1" />
<line x1="231.6" y1="407.0" x2="309.9" y2="407.0" stroke="#000" stroke-width="1.1" />
<rect x="233.50" y="372.58" width="10.14" height="6.52" fill="#fff"/>
<text x="233.9" y="377.90000000000003" font-size="7.0" stroke="#000" stroke-width="0.12" fill="#000" >Q1</text>
<rect x="233.50" y="381.38" width="14.42" height="6.52" fill="#fff"/>
<text x="233.9" y="386.7" font-size="7.0" stroke="#000" stroke-width="0.12" fill="#000" >1.96</text>
<rect x="298.06" y="372.58" width="10.14" height="6.52" fill="#fff"/>
<text x="307.79999999999995" y="377.90000000000003" font-size="7.0" text-anchor="end" stroke="#000" stroke-width="0.12" fill="#000" >Q2</text>
<rect x="293.78" y="381.38" width="14.42" height="6.52" fill="#fff"/>
<text x="307.79999999999995" y="386.7" font-size="7.0" text-anchor="end" stroke="#000" stroke-width="0.12" fill="#000" >6.86</text>
<rect x="233.50" y="433.58" width="10.14" height="6.52" fill="#fff"/>
<text x="233.9" y="438.90000000000003" font-size="7.0" stroke="#000" stroke-width="0.12" fill="#000" >Q4</text>
<rect x="233.50" y="442.78" width="14.42" height="6.52" fill="#fff"/>
<text x="233.9" y="448.1" font-size="7.0" stroke="#000" stroke-width="0.12" fill="#000" >90.6</text>
<rect x="298.06" y="433.58" width="10.14" height="6.52" fill="#fff"/>
<text x="307.79999999999995" y="438.90000000000003" font-size="7.0" text-anchor="end" stroke="#000" stroke-width="0.12" fill="#000" >Q3</text>
<rect x="293.78" y="442.78" width="14.42" height="6.52" fill="#fff"/>
<text x="307.79999999999995" y="448.1" font-size="7.0" text-anchor="end" stroke="#000" stroke-width="0.12" fill="#000" >0.57</text>
<ellipse cx="350.1" cy="432.4" rx="5.4" ry="4.5" fill="#000" fill-opacity="1.0" transform="rotate(-20 350.1 432.4)" filter="url(#bl1_6)"/>
<ellipse cx="346" cy="425" rx="9" ry="12" fill="#000" fill-opacity="0.15" transform="rotate(0 346 425)" filter="url(#bl1_6)"/>
<path transform="scale(0.1)" d="M3754 3900h0m-344 10h0m109 3h0m96-4h0m24 4h0m-290 11h0m222-6h0m146 6h0m-357 10h0m285 0h0m-257 2h0m229 18h0m-245 10h0m83 0h0m45-2h0m40 1h0m-178 4h0m12 0h0m9 0h0m6 3h0m104-4h0m12 3h0m18 4h0m22-7h0m150 2h0m150-1h0m-433 17h0m56-2h0m30-5h0m9 5h0m46-5h0m41 7h0m-140 10h0m32-9h0m6 4h0m2 4h0m1-7h0m3 0h0m15 5h0m24 3h0m-116 6h0m15-3h0m12 6h0m14 0h0m47 2h0m84-9h0m-218 18h0m51 0h0m29 1h0m28-10h0m54 5h0m14 1h0m-181 11h0m45-1h0m28-2h0m43-4h0m51 2h0m51 1h0m-159 15h0m45-5h0m26 5h0m53-6h0m32 6h0m-248 11h0m2-8h0m27 8h0m51-6h0m64 0h0m12 3h0m7 3h0m57-4h0m-161 15h0m5-6h0m17-4h0m86 3h0m35 5h0m-160 5h0m43-1h0m5 5h0m13-3h0m21-2h0m13 5h0m14 1h0m16 1h0m43-8h0m3 3h0m85 1h0m-300 10h0m3 1h0m39 3h0m5 0h0m17-7h0m3 5h0m58 1h0m22-8h0m0 2h0m2 1h0m14-2h0m11 5h0m28-2h0m58 2h0m-240 6h0m50 6h0m42-3h0m5 0h0m66-2h0m15 0h0m65-2h0m75 4h0m-286 11h0m59-5h0m19 0h0m35 5h0m1 0h0m59 0h0m41 4h0m-237 9h0m39-7h0m81 8h0m4-5h0m1-4h0m97 7h0m-167 6h0m35 5h0m14-6h0m6 4h0m2-6h0m26 5h0m1 1h0m23-2h0m3-1h0m21-4h0m5 4h0m87-2h0m-318 12h0m18 0h0m5-2h0m37 2h0m5 6h0m7-5h0m2 0h0m3-4h0m2 1h0m7 7h0m8-6h0m1 4h0m3-4h0m10-3h0m11 9h0m7 0h0m5-2h0m9-3h0m14-3h0m6 6h0m16 1h0m2-2h0m11-4h0m2 6h0m3-6h0m154 6h0m-356 4h0m21 7h0m18 0h0m23 0h0m11-4h0m7-1h0m10-3h0m7 7h0m1-3h0m1-4h0m1 5h0m17-1h0m18-5h0m0 8h0m1-6h0m5 6h0m11 1h0m6-3h0m1-2h0m8 4h0m5-5h0m0-3h0m3 9h0m5-3h0m14 3h0m20-4h0m34 1h0m0 0h0m6 2h0m4 1h0m18-4h0m-257 14h0m47-9h0m1 6h0m6 4h0m4-8h0m9-1h0m3 5h0m8 2h0m7-4h0m6 3h0m1-2h0m8-2h0m5 5h0m12 0h0m15-2h0m6-4h0m24 1h0m0 2h0m6-4h0m13 3h0m12 5h0m16-8h0m3 6h0m6-4h0m9 2h0m7 4h0m-230 4h0m19 1h0m13 5h0m2-1h0m1-6h0m12-1h0m2 4h0m4 0h0m3 2h0m17-3h0m7 2h0m7-4h0m9 6h0m0-7h0m21 5h0m15 3h0m10-8h0m7 1h0m5 0h0m1 1h0m33-2h0m6 6h0m78 2h0m-271 4h0m6-2h0m15-1h0m7 8h0m0 0h0m10-7h0m4 4h0m3 3h0m5 1h0m1-8h0m1 5h0m5 2h0m7-8h0m6 8h0m16-3h0m3 2h0m9-4h0m11 2h0m2 0h0m4 2h0m5 2h0m7-2h0m6-4h0m5 3h0m7 2h0m1-1h0m5 3h0m25-6h0m1 5h0m7-5h0m1-3h0m7 1h0m1 2h0m1-4h0m3 8h0m31-1h0m19 2h0m44-2h0m-307 10h0m34-1h0m11 0h0m6-4h0m1 0h0m28 3h0m8-1h0m5 1h0m3-1h0m1 2h0m5-6h0m10 10h0m14-4h0m9-4h0m5 0h0m8 3h0m6 3h0m2-7h0m1 6h0m1 1h0m15-2h0m0-5h0m16 6h0m4 1h0m6-4h0m12 5h0m29-2h0m87 0h0m-320 6h0m21 4h0m14-4h0m10-2h0m3 5h0m2 1h0m2-1h0m17 4h0m1-9h0m8 7h0m7-5h0m2 3h0m2-1h0m2 2h0m2-1h0m1-1h0m13-4h0m13 5h0m5 1h0m1-5h0m8 3h0m13 4h0m2-7h0m3 0h0m3-1h0m7 7h0m13 1h0m0 0h0m2-3h0m2-5h0m3 6h0m8-3h0m2 5h0m29-6h0m5 1h0m8 5h0m24-7h0m34-1h0m48-1h0m-322 12h0m3 8h0m12-7h0m5-2h0m8 2h0m19-2h0m7 6h0m13 1h0m3-6h0m1 3h0m1 3h0m21 2h0m6-1h0m4-3h0m3-5h0m9 8h0m2-2h0m9-4h0m2 6h0m7-6h0m0 3h0m6 2h0m7-3h0m4 0h0m6-4h0m0 1h0m3 0h0m4 6h0m8-4h0m15-3h0m1 5h0m1 2h0m8 1h0m7-8h0m3-1h0m7 6h0m3-2h0m-216 12h0m4 0h0m7 4h0m13-1h0m4-8h0m3 6h0m9-1h0m13 2h0m1-5h0m4-3h0m13 10h0m1-10h0m1 4h0m1 5h0m1-8h0m0-1h0m3 1h0m1 2h0m2 6h0m3-8h0m2 1h0m1 1h0m1 4h0m2-4h0m8 5h0m1 2h0m6-9h0m0 7h0m4-3h0m14 3h0m0-7h0m10 1h0m2 8h0m13 0h0m9-8h0m11-2h0m4 1h0m1 9h0m7 0h0m1-7h0m1 4h0m11-1h0m3 0h0m4-3h0m0 3h0m3-4h0m7 2h0m4-2h0m1 8h0m0-6h0m169 5h0m-419 10h0m1-5h0m35-3h0m23 2h0m6 7h0m1-1h0m8-7h0m2 7h0m1-4h0m5-4h0m14 4h0m4-3h0m0-1h0m1 4h0m2-4h0m1 1h0m1 7h0m1-7h0m0-1h0m4 9h0m8-8h0m3 1h0m7 5h0m1-3h0m5-4h0m4 4h0m5-1h0m7-2h0m3-1h0m0 1h0m3 5h0m0 2h0m6-8h0m6 9h0m1-4h0m1-2h0m13 3h0m3 1h0m1 0h0m7-5h0m2 3h0m1-1h0m5-5h0m9 1h0m14 0h0m2 2h0m1 6h0m22 0h0m33-4h0m51-3h0m-289 13h0m10 0h0m4-3h0m3 4h0m1-4h0m8 1h0m2 6h0m3 0h0m2-5h0m6 1h0m10-1h0m1 0h0m8 3h0m1-5h0m5 4h0m10-5h0m0 5h0m4 3h0m5-6h0m1 4h0m4 0h0m2-2h0m1 2h0m6-4h0m2 3h0m5-6h0m2 5h0m5 5h0m1-2h0m1-1h0m7 1h0m10-8h0m0 1h0m5 3h0m10 3h0m2 2h0m3-1h0m3-8h0m3 9h0m11-1h0m0-3h0m8-2h0m3 0h0m4-2h0m4 8h0m1-1h0m4 1h0m1 1h0m0-10h0m16 7h0m100-4h0m-348 14h0m11-6h0m11 1h0m14 4h0m3 4h0m13-2h0m4-1h0m8-3h0m5-2h0m1 4h0m0 3h0m6-3h0m4 4h0m1-3h0m6-1h0m7 4h0m2-5h0m3-1h0m14-1h0m1 3h0m17 1h0m3-3h0m9 5h0m1-3h0m2-6h0m3 8h0m4-2h0m1-3h0m1 2h0m5-3h0m1 7h0m0-4h0m10 1h0m5-1h0m2-2h0m3 0h0m21-2h0m6 7h0m12 1h0m2-6h0m0 3h0m9-4h0m9 2h0m1 6h0m58-4h0m6-1h0m-301 5h0m12 9h0m12-1h0m12 1h0m5-8h0m0 6h0m1 2h0m11-8h0m8 5h0m8-4h0m4 0h0m2 6h0m3-2h0m2-2h0m13 3h0m2 0h0m1-3h0m1 4h0m8-4h0m1 2h0m9-3h0m0 7h0m2-1h0m24 0h0m21-6h0m3-1h0m19 5h0m7-2h0m2 3h0m6-1h0m3-6h0m0 3h0m3-1h0m4 7h0m1-2h0m2-7h0m10 5h0m3 3h0m3 1h0m16-7h0m9 0h0m4-2h0m13 6h0m30-6h0m11 3h0m-290 11h0m0-4h0m3 5h0m20-3h0m13-1h0m1 1h0m12 2h0m7-1h0m8 4h0m0-2h0m6-2h0m2 3h0m5-7h0m3 5h0m3 0h0m1 5h0m1-7h0m2 2h0m21-3h0m13 7h0m3-6h0m3 4h0m4-1h0m2 4h0m1-1h0m0-9h0m3 3h0m2 3h0m0-5h0m1 2h0m2 6h0m6-8h0m0 4h0m2 4h0m2-4h0m7 4h0m1-4h0m2 2h0m1 1h0m3-3h0m1 1h0m13-1h0m2-1h0m1-2h0m0 2h0m2 2h0m3 2h0m0-2h0m3-3h0m3 6h0m0-1h0m1-1h0m1 1h0m3 0h0m0-6h0m3 0h0m0 6h0m6-7h0m4 7h0m0-7h0m0 6h0m6 2h0m4-4h0m1-3h0m2-2h0m0 8h0m5-4h0m32 3h0m29-5h0m34 2h0m-349 13h0m18-7h0m10 0h0m0 0h0m31 1h0m4 9h0m3-1h0m9 0h0m5-1h0m2-2h0m1 1h0m2 1h0m8-6h0m2 4h0m4-5h0m4 1h0m10 0h0m1 7h0m1-8h0m3 5h0m6 3h0m8-3h0m4 2h0m2 0h0m2-7h0m1 0h0m0 2h0m8-2h0m3 5h0m5-5h0m4 5h0m6-1h0m1-2h0m1-1h0m1 1h0m5-1h0m2 0h0m5 0h0m6 0h0m1 1h0m1-2h0m1 9h0m1-6h0m2-1h0m1 3h0m1-2h0m1-2h0m0 1h0m1 2h0m2 2h0m6-5h0m1 5h0m1-1h0m1-6h0m5 7h0m0 2h0m2-4h0m4 5h0m0-2h0m5 0h0m3-4h0m0 0h0m0 0h0m7 2h0m2-5h0m18 0h0m6 2h0m0 4h0m2-2h0m-241 11h0m21-3h0m13 2h0m11-3h0m20 2h0m7 5h0m4-3h0m6-3h0m0-3h0m6 3h0m6 3h0m1 2h0m4-4h0m5-4h0m1 8h0m14-2h0m6 4h0m1-2h0m0-2h0m2-5h0m2 7h0m3-6h0m1 7h0m1-9h0m2 8h0m1-3h0m3 3h0m0-8h0m0 1h0m4 4h0m2 3h0m2-1h0m0 2h0m4-7h0m4 4h0m2 0h0m1 4h0m1 0h0m2-5h0m3 4h0m1-3h0m1 3h0m2-3h0m0 2h0m0-3h0m0 2h0m5-4h0m1 1h0m1-2h0m4 0h0m1-2h0m2 8h0m1-4h0m3 1h0m2-2h0m1 5h0m1-1h0m2-3h0m5 4h0m1-3h0m4 2h0m1 0h0m3-7h0m5 2h0m4 7h0m0-8h0m6 1h0m4 8h0m8-2h0m5-6h0m2 2h0m28 4h0m-291 10h0m44 1h0m17-9h0m7 1h0m10 6h0m6-4h0m4 4h0m4-5h0m1 6h0m22-7h0m1 5h0m2-6h0m6 10h0m12-6h0m2 5h0m1-4h0m0 1h0m1 1h0m0 1h0m2-3h0m0-3h0m0-1h0m1 6h0m1 2h0m2-3h0m4-1h0m1-3h0m1 7h0m0-1h0m1 0h0m2-1h0m3-4h0m0 6h0m2-3h0m1 2h0m2-4h0m1-1h0m1 1h0m1 1h0m0 0h0m2-2h0m1 3h0m2-3h0m1 4h0m0-5h0m2 5h0m0-2h0m0-3h0m1 1h0m2-3h0m0 4h0m4 3h0m0 0h0m1-1h0m0 3h0m1-7h0m1 3h0m0 2h0m1-2h0m1 5h0m2-6h0m1-2h0m0 5h0m0-7h0m1 7h0m1-5h0m1 2h0m2 3h0m2-5h0m0 3h0m2-4h0m0 3h0m1 6h0m3-6h0m0 0h0m1-4h0m1 9h0m0-8h0m0 0h0m1 6h0m1-4h0m2 6h0m3-5h0m0 4h0m1 1h0m0-2h0m4-6h0m0 9h0m1-9h0m1 4h0m1-2h0m2-1h0m1 0h0m1 4h0m1-2h0m0 6h0m2-5h0m2 3h0m1-7h0m1 2h0m0 4h0m2-4h0m1-1h0m0 2h0m0 2h0m2 2h0m3 2h0m1-8h0m1 0h0m6 5h0m0 2h0m6-5h0m1 5h0m1-6h0m6 6h0m8-3h0m10 0h0m8 0h0m15-6h0m14 1h0m-311 14h0m3 1h0m42-2h0m2 2h0m6 1h0m2-4h0m7 1h0m2 5h0m1-6h0m5 4h0m17-7h0m4 0h0m11 3h0m3 4h0m4-5h0m1 5h0m3 0h0m10 1h0m2-4h0m1-2h0m4 3h0m0 5h0m1-2h0m1-3h0m0-1h0m4-3h0m1 7h0m3 2h0m2-7h0m0 1h0m4 2h0m4 1h0m1 0h0m0-1h0m3 3h0m0-8h0m0 5h0m1-4h0m1-1h0m2 5h0m1-3h0m1 5h0m0-7h0m1 5h0m0 2h0m0-4h0m1-2h0m1 3h0m0 0h0m0 3h0m0-7h0m2 8h0m1-7h0m0 2h0m2 4h0m0-6h0m3 5h0m1 0h0m1 2h0m1-5h0m1 6h0m0-4h0m1-3h0m1 7h0m0-7h0m1 2h0m1-3h0m0 4h0m0 0h0m1 2h0m1 0h0m1-4h0m0 1h0m0-1h0m1 3h0m0-6h0m4 4h0m0-3h0m1 6h0m1 2h0m0-1h0m1-4h0m1-5h0m0 1h0m0 4h0m0-3h0m0 6h0m1-6h0m0 6h0m0-4h0m2-4h0m0 6h0m1 3h0m1-2h0m0-4h0m2 1h0m0 1h0m1 4h0m1-8h0m1 2h0m0 6h0m2-9h0m1 2h0m2 8h0m0-3h0m2 0h0m3 1h0m1-7h0m0-1h0m1 8h0m1-6h0m2 4h0m1 0h0m0 2h0m2 0h0m5 1h0m1-1h0m6-3h0m2 3h0m5-5h0m2 5h0m1-4h0m0-2h0m1 0h0m5 2h0m1 0h0m4-1h0m6 6h0m1-3h0m9-1h0m3 3h0m6-7h0m7 0h0m-247 12h0m5 3h0m1 1h0m14-4h0m24-2h0m8 5h0m3-4h0m9 0h0m16 2h0m1 2h0m6 4h0m7-3h0m0 3h0m0 0h0m0-4h0m1-5h0m1 6h0m2-5h0m1 6h0m1 1h0m1-6h0m1 6h0m3-3h0m2 1h0m0-4h0m1 3h0m3 1h0m1 1h0m1-8h0m2 9h0m0-7h0m1 2h0m0 5h0m1-2h0m2-4h0m1-2h0m1 1h0m1-2h0m3 5h0m2 5h0m0-7h0m4 5h0m2-4h0m0-3h0m1 4h0m2 1h0m0 1h0m3 1h0m1 1h0m0-3h0m2 1h0m0-6h0m3 2h0m0 4h0m1-4h0m0-1h0m1 1h0m1-1h0m0-1h0m2 9h0m0-3h0m0 3h0m0-8h0m1 8h0m0-9h0m1 2h0m0 3h0m1 2h0m0 1h0m2-4h0m1-2h0m1 6h0m2-1h0m3-3h0m0 2h0m1 2h0m0-1h0m0-1h0m4-5h0m0 5h0m1-1h0m0 4h0m0-4h0m1-2h0m0 5h0m2-4h0m1-5h0m0 0h0m0 4h0m1-2h0m0 5h0m1-6h0m0 3h0m1-3h0m0 2h0m2 2h0m0-3h0m2 1h0m0-1h0m3 1h0m2 1h0m0-3h0m1 8h0m4-4h0m3-1h0m3 3h0m2-4h0m6-2h0m6 4h0m0 3h0m11-7h0m1 3h0m7 2h0m5 1h0m25 1h0m9 0h0m7-3h0m-312 9h0m7 5h0m19-1h0m13-2h0m34-1h0m7 1h0m5 2h0m11-4h0m3-4h0m0 1h0m11 2h0m0 0h0m6-1h0m0 3h0m2-1h0m2-2h0m2-1h0m3 7h0m1 2h0m2 0h0m1-2h0m3-1h0m0-5h0m2 4h0m2 1h0m0 1h0m2-3h0m3 1h0m0 0h0m0 1h0m2-6h0m2 4h0m0 0h0m4 1h0m0 1h0m0 3h0m1-5h0m0-4h0m1 6h0m2-3h0m0-2h0m0-2h0m1 8h0m2-6h0m0 6h0m1-7h0m4 1h0m0 6h0m0-6h0m1 4h0m1-2h0m0 0h0m1 1h0m0-1h0m0 3h0m0 0h0m1-6h0m0 7h0m0-5h0m1 5h0m0-3h0m1 0h0m1 5h0m0-7h0m0 6h0m1-9h0m0 5h0m2 3h0m0 0h0m1-1h0m1 2h0m1-5h0m1-1h0m0-2h0m0 8h0m1-4h0m1 1h0m1-2h0m0-3h0m1 0h0m1 9h0m0-8h0m0 8h0m1-6h0m1 4h0m1-2h0m1 0h0m0-4h0m1 5h0m1-5h0m0 3h0m1 3h0m0-4h0m0-1h0m1 3h0m2 0h0m3 4h0m0 0h0m0-3h0m0-5h0m1 0h0m0 6h0m0-8h0m0 8h0m2 0h0m1 0h0m0 1h0m0-5h0m1 4h0m0-3h0m0 3h0m2 1h0m0-4h0m2 4h0m0-4h0m1-1h0m0 1h0m1-1h0m0 5h0m1-7h0m1-1h0m1 4h0m1-4h0m1 7h0m0 0h0m2 0h0m0-2h0m0 4h0m0-4h0m1-1h0m3-4h0m1 4h0m1 1h0m0-6h0m1 7h0m1-6h0m3 8h0m0-1h0m1-5h0m1 6h0m0 1h0m3-5h0m1 0h0m3 1h0m0-4h0m0 7h0m2-8h0m2 1h0m2 4h0m4 1h0m3-4h0m4 1h0m1-3h0m0 1h0m1-2h0m0 10h0m5-7h0m0-2h0m2 6h0m2-5h0m10 0h0m7 0h0m5 0h0m26 7h0m-313 8h0m9-5h0m65 2h0m1 6h0m4-1h0m8-6h0m11-2h0m8 1h0m1 6h0m4-2h0m0 1h0m0-4h0m2-2h0m2 5h0m2-2h0m4 2h0m1 2h0m0-7h0m1 6h0m0-6h0m1 5h0m2 1h0m4-2h0m1 4h0m1 0h0m1 0h0m2-3h0m0-5h0m1 3h0m0-4h0m0 4h0m2-3h0m0 2h0m3 1h0m0 6h0m0-9h0m4 0h0m1 6h0m1-5h0m0 3h0m2-4h0m0 3h0m1 2h0m2 3h0m1-4h0m1 1h0m1 2h0m0-3h0m2 2h0m0-6h0m0 1h0m2 4h0m0-4h0m2 5h0m0 0h0m1-7h0m1 8h0m2 0h0m2-4h0m0-1h0m0-2h0m0 6h0m2 1h0m1-5h0m2 5h0m3 2h0m0-5h0m0 1h0m2 1h0m0 1h0m1 1h0m0-7h0m0-1h0m2 3h0m0 5h0m1-8h0m0 0h0m1 8h0m0-3h0m1 2h0m1 0h0m0-3h0m0 4h0m0-6h0m0-2h0m1-1h0m0 7h0m0 2h0m0-5h0m0 4h0m2 0h0m1-4h0m0 4h0m0 0h0m1-5h0m0 3h0m1-3h0m0 1h0m1 5h0m0-4h0m1-2h0m1 4h0m0-6h0m1 3h0m0 2h0m0 3h0m0-9h0m1 5h0m1 1h0m1-4h0m0-1h0m0 4h0m0 1h0m1-4h0m0 6h0m1-2h0m0-3h0m2 3h0m0 3h0m1-3h0m2 1h0m0 2h0m2-3h0m3-6h0m0 2h0m0 2h0m0 1h0m3-1h0m1 4h0m1-1h0m1-7h0m1 7h0m0-1h0m0 2h0m1 0h0m0-1h0m2-2h0m1 4h0m1-2h0m1-7h0m1 3h0m0 0h0m1 7h0m4-7h0m1 5h0m0 0h0m0-3h0m3 2h0m0 2h0m0-1h0m3-7h0m3 7h0m1-7h0m4 6h0m23-1h0m1-4h0m-258 11h0m16 2h0m9 1h0m34 4h0m4-9h0m4 3h0m16 5h0m2 0h0m0-3h0m3-5h0m0 6h0m3-7h0m10 3h0m0 0h0m2-1h0m2 5h0m0-5h0m1 6h0m1-3h0m0 3h0m2-5h0m10-1h0m2 3h0m0-2h0m1 1h0m0-3h0m0 7h0m1-1h0m0-5h0m0-1h0m1 6h0m1 2h0m0-5h0m1-4h0m0 8h0m1 2h0m0-8h0m2 5h0m0-2h0m1 0h0m0 0h0m1-3h0m0 4h0m0 3h0m0-5h0m2 0h0m1 5h0m0-2h0m1-1h0m0-5h0m0 5h0m4 3h0m0 1h0m2-7h0m2 0h0m2-1h0m1 0h0m0 0h0m1 4h0m0-1h0m4 1h0m0 0h0m1 2h0m0-3h0m0 1h0m1 3h0m0-1h0m1-3h0m1 0h0m0 1h0m4 0h0m0 4h0m0-9h0m0 0h0m0 6h0m1 1h0m0-6h0m1 1h0m1 4h0m0-3h0m0 5h0m1-1h0m0-2h0m0-3h0m0 6h0m0-9h0m1 0h0m1 7h0m1-7h0m1 9h0m0-3h0m1-5h0m0 4h0m0-1h0m1 4h0m0-7h0m0 2h0m1-1h0m0-1h0m0 9h0m1 0h0m0-6h0m0 2h0m0-1h0m0 5h0m1-8h0m0 8h0m0-3h0m1 2h0m0 0h0m0-5h0m0-3h0m3 1h0m0 5h0m0 2h0m0-1h0m1-6h0m0 5h0m0-3h0m2 2h0m0-4h0m0 3h0m1-3h0m0 2h0m1-3h0m0 5h0m1-4h0m0-1h0m1 1h0m0-1h0m1 4h0m1 2h0m0-5h0m1 0h0m1 3h0m0-3h0m1 3h0m0-1h0m1 2h0m0 3h0m0-7h0m0 2h0m0 5h0m1-2h0m0-3h0m1 3h0m1-4h0m0-2h0m0 3h0m2-1h0m0-2h0m1 4h0m0 1h0m1-6h0m2 9h0m0-9h0m1 4h0m1 1h0m0 4h0m1-4h0m3 2h0m0-1h0m0-4h0m1-1h0m0 2h0m1-1h0m2 0h0m1 2h0m1 2h0m1 2h0m0-6h0m3 5h0m8-2h0m2-2h0m4 3h0m1 0h0m2-3h0m1-2h0m6 0h0m0 4h0m1 5h0m2-3h0m3 2h0m1-7h0m10 3h0m2 1h0m3-5h0m5 3h0m-278 7h0m36 6h0m32 1h0m5-5h0m21 2h0m0-3h0m1 3h0m9 1h0m1 4h0m2-6h0m0 1h0m2-3h0m1-2h0m14 3h0m1-1h0m1 2h0m0 2h0m1-2h0m3-1h0m7 7h0m0-4h0m0-3h0m2-1h0m0 8h0m2-3h0m2 1h0m0-1h0m1-4h0m0-3h0m4 5h0m2-2h0m1 6h0m0-2h0m1-3h0m0 1h0m1 4h0m1-5h0m1 5h0m1-4h0m0-1h0m0-1h0m2 6h0m1-2h0m3-3h0m1-4h0m0 5h0m0 0h0m1-4h0m1 2h0m2-3h0m1 3h0m0 4h0m1-1h0m0-1h0m1 1h0m1-6h0m0 1h0m1 9h0m1-9h0m1 2h0m1-1h0m1 0h0m1 8h0m1-3h0m2-6h0m1 7h0m0 0h0m1-4h0m2 4h0m0-6h0m2 5h0m1-1h0m2 2h0m1-7h0m0 1h0m2 0h0m0 1h0m1 2h0m0 4h0m1-3h0m0-2h0m1 0h0m0 1h0m1 1h0m0-3h0m0-2h0m2 6h0m1 0h0m1-1h0m0-2h0m0-1h0m1 5h0m0-3h0m0 0h0m1 1h0m0-3h0m1 2h0m0-4h0m1 8h0m0-6h0m1-2h0m0 4h0m1-3h0m0 7h0m0 0h0m1 1h0m0-8h0m2-2h0m1 1h0m0 7h0m2-4h0m1 5h0m2-3h0m1-5h0m0 7h0m2-6h0m1 5h0m0-3h0m1-4h0m0 4h0m1-4h0m2 8h0m1-1h0m0 0h0m1-3h0m2 0h0m1-3h0m3 1h0m0 5h0m0 3h0m3-3h0m0-7h0m1 8h0m0-3h0m2-3h0m3 7h0m1-1h0m0 1h0m1-6h0m5 0h0m7-1h0m1 6h0m1-6h0m1 1h0m4-1h0m0 1h0m18 0h0m1-3h0m-277 16h0m38-5h0m38 8h0m10-5h0m10 1h0m3 2h0m3-5h0m0 4h0m2 1h0m1 1h0m1-1h0m5-3h0m0 0h0m2-4h0m2 6h0m2-1h0m2 2h0m2-6h0m8-1h0m1 1h0m0 4h0m2 4h0m0-7h0m4 8h0m1-7h0m0-1h0m0-1h0m2 3h0m1 2h0m0 0h0m2 1h0m1-5h0m1 4h0m0-5h0m1 0h0m1 4h0m1 4h0m0-8h0m0 6h0m1 1h0m0-5h0m0 5h0m2-6h0m1 6h0m2-7h0m0 1h0m1-1h0m1 0h0m4 5h0m1-3h0m1 4h0m1 1h0m0 1h0m1-7h0m3 4h0m1-3h0m1 3h0m1 0h0m0-4h0m0 8h0m1-8h0m0 6h0m1-4h0m0 5h0m1-1h0m1-3h0m2-4h0m2-1h0m3 1h0m0 8h0m1-5h0m0 4h0m0 2h0m1-6h0m0-2h0m2 7h0m0-6h0m1 0h0m1 1h0m1 2h0m0 4h0m2-2h0m0 2h0m1-10h0m0 5h0m0-1h0m1-2h0m1 0h0m1 4h0m0 1h0m3 0h0m0 1h0m0-1h0m0 0h0m2-7h0m0 4h0m1-1h0m1 3h0m2 4h0m0-3h0m3-5h0m1 7h0m0 1h0m1-3h0m1-1h0m2-3h0m3 1h0m1 0h0m1-1h0m1 6h0m2-2h0m1 2h0m2-9h0m3 9h0m1-6h0m1 3h0m1-3h0m0 2h0m3 0h0m2-1h0m8 3h0m10-1h0m1-4h0m4 1h0m36 5h0m22 0h0m-307 9h0m81-5h0m5 8h0m10-8h0m3-1h0m2 3h0m1 2h0m4 2h0m1-2h0m2-2h0m4-2h0m3 6h0m9 2h0m4-1h0m0-4h0m0 0h0m2 0h0m0-1h0m3-4h0m0 7h0m2 3h0m0-1h0m0-3h0m3 3h0m1-6h0m0 5h0m1-4h0m2 5h0m2-4h0m2-2h0m0 4h0m1 1h0m0-7h0m2-1h0m5 5h0m1 2h0m0 2h0m1-4h0m1 3h0m0-4h0m6 4h0m4 2h0m1-2h0m1-6h0m1 3h0m2-4h0m0 0h0m0 8h0m1 1h0m1-1h0m1-6h0m0 3h0m1 2h0m0-4h0m0 6h0m3-2h0m2-6h0m3 0h0m0 6h0m1-3h0m0-1h0m5-1h0m1 3h0m2-5h0m0 2h0m2 6h0m1-7h0m3 1h0m2-1h0m0-2h0m1 3h0m0-1h0m2 0h0m0-2h0m1 6h0m1-6h0m1 9h0m3-3h0m6 2h0m0 1h0m2-2h0m0-5h0m1 5h0m1-5h0m9-1h0m0 4h0m7-1h0m2 5h0m10-5h0m-202 13h0m48 1h0m8-5h0m0 2h0m8-1h0m1-1h0m1-1h0m10-1h0m0 1h0m1 4h0m1-5h0m5-1h0m3 7h0m0 0h0m1 3h0m1-2h0m0-1h0m4-7h0m0 2h0m1 7h0m1-2h0m0 1h0m0 0h0m1-2h0m1-3h0m4 4h0m1-7h0m2 8h0m1-6h0m0-1h0m2 9h0m1-9h0m1 3h0m2-3h0m3 7h0m0-6h0m9-2h0m2 4h0m3 6h0m2-2h0m3-1h0m2-3h0m0-1h0m0-3h0m1 0h0m3 2h0m1 4h0m0-1h0m2 5h0m3-9h0m2 3h0m5-3h0m1 7h0m5-3h0m3-5h0m3 0h0m0 2h0m0 4h0m5-3h0m7-1h0m0 2h0m9 5h0m2-6h0m13 3h0m1-5h0m-198 14h0m19 0h0m4-1h0m9 2h0m8-2h0m12 0h0m1 6h0m1-3h0m0-5h0m3-1h0m0 0h0m2 4h0m3 3h0m5-4h0m0-3h0m5 7h0m3-6h0m5 3h0m2 4h0m0-7h0m0 4h0m4 1h0m1-3h0m6-2h0m0 3h0m2 1h0m8-1h0m3 4h0m3-3h0m4-1h0m0 0h0m1 5h0m2-8h0m1 1h0m1 4h0m1-4h0m0 0h0m1-3h0m1 9h0m12-7h0m0 0h0m14-1h0m0 7h0m6-3h0m1-4h0m0 3h0m10 6h0m3-7h0m6 2h0m49 2h0m-242 5h0m4 0h0m38 5h0m4 0h0m8-4h0m7 2h0m2-5h0m0 8h0m8-3h0m1-1h0m1-4h0m5 1h0m5 2h0m15 7h0m1-7h0m2 3h0m3-4h0m9 4h0m9-3h0m15 1h0m4 2h0m1-3h0m8-2h0m1 6h0m14-7h0m1 8h0m2-7h0m2 2h0m1 3h0m2 0h0m6 0h0m9 2h0m0-3h0m57-4h0m1 2h0m-205 11h0m28-3h0m14 8h0m0-8h0m14 2h0m8 2h0m10-3h0m7 7h0m2-2h0m3-7h0m6 7h0m7-5h0m6 0h0m11-1h0m3 7h0m2 0h0m12-2h0m12-4h0m7-1h0m-135 9h0m4 6h0m30 2h0m7-7h0m2 4h0m3-4h0m2 0h0m11-1h0m20 7h0m38-2h0m2 1h0m37 3h0m-209 11h0m70-7h0m16-1h0m40 0h0m22 2h0m27-1h0m58 0h0m-231 15h0m64 2h0m11-4h0m32 4h0m56-9h0m-87 10h0m1 7h0m21 9h0m27-5h0m66 2h0" stroke="#000" stroke-opacity="0.65" stroke-width="7.0" stroke-linecap="square" fill="none"/>
<rect x="330.9" y="370.3" width="78.3" height="80.30000000000001" fill="none" stroke="#000" stroke-width="1.1"/>
<line x1="363.6" y1="370.3" x2="363.6" y2="450.6" stroke="#000" stroke-width="1.1" />
<line x1="330.9" y1="407.5" x2="409.2" y2="407.5" stroke="#000" stroke-width="1.1" />
<rect x="332.80" y="372.58" width="10.14" height="6.52" fill="#fff"/>
<text x="333.2" y="377.90000000000003" font-size="7.0" stroke="#000" stroke-width="0.12" fill="#000" >Q1</text>
<rect x="332.80" y="381.38" width="14.42" height="6.52" fill="#fff"/>
<text x="333.2" y="386.7" font-size="7.0" stroke="#000" stroke-width="0.12" fill="#000" >0.97</text>
<rect x="397.36" y="372.58" width="10.14" height="6.52" fill="#fff"/>
<text x="407.09999999999997" y="377.90000000000003" font-size="7.0" text-anchor="end" stroke="#000" stroke-width="0.12" fill="#000" >Q2</text>
<rect x="389.18" y="381.38" width="18.32" height="6.52" fill="#fff"/>
<text x="407.09999999999997" y="386.7" font-size="7.0" text-anchor="end" stroke="#000" stroke-width="0.12" fill="#000" >0.097</text>
<rect x="332.80" y="433.58" width="10.14" height="6.52" fill="#fff"/>
<text x="333.2" y="438.90000000000003" font-size="7.0" stroke="#000" stroke-width="0.12" fill="#000" >Q4</text>
<rect x="332.80" y="442.78" width="14.42" height="6.52" fill="#fff"/>
<text x="333.2" y="448.1" font-size="7.0" stroke="#000" stroke-width="0.12" fill="#000" >98.7</text>
<rect x="397.36" y="433.58" width="10.14" height="6.52" fill="#fff"/>
<text x="407.09999999999997" y="438.90000000000003" font-size="7.0" text-anchor="end" stroke="#000" stroke-width="0.12" fill="#000" >Q3</text>
<rect x="393.08" y="442.78" width="14.42" height="6.52" fill="#fff"/>
<text x="407.09999999999997" y="448.1" font-size="7.0" text-anchor="end" stroke="#000" stroke-width="0.12" fill="#000" >0.27</text>
<ellipse cx="452.2" cy="431.6" rx="9" ry="5" fill="#000" fill-opacity="1.0" transform="rotate(-30 452.2 431.6)" filter="url(#bl1_6)"/>
<ellipse cx="452" cy="428" rx="12" ry="9" fill="#000" fill-opacity="0.15" transform="rotate(-30 452 428)" filter="url(#bl1_6)"/>
<path transform="scale(0.1)" d="M4506 3902h0m149-6h0m8 22h0m-61 13h0m6 43h0m9-7h0m5-2h0m-73 11h0m3 0h0m26 16h0m17 2h0m42-9h0m35 19h0m-126 16h0m32 0h0m93 8h0m-116 13h0m118-2h0m-171 9h0m2 2h0m8 4h0m50-8h0m90 1h0m48 2h0m-130 15h0m26-7h0m15 5h0m34-4h0m75 8h0m51 6h0m-174 6h0m154 17h0m-190 6h0m154 1h0m-209 4h0m140 4h0m5 3h0m-70 10h0m133-6h0m-227 8h0m57 3h0m207 5h0m-262 3h0m25 5h0m99-4h0m4 5h0m68 0h0m47 0h0m-227 8h0m38 2h0m50-1h0m31 3h0m3-6h0m90-2h0m-248 16h0m88 2h0m42-6h0m39 6h0m17-8h0m16 7h0m27-5h0m21 0h0m-216 9h0m22 8h0m25-2h0m17-2h0m32-5h0m19 0h0m8 2h0m4-1h0m22 2h0m-235 9h0m97 6h0m58-3h0m5 3h0m11-5h0m23-4h0m17 7h0m7 2h0m6-6h0m2 1h0m17-1h0m4 3h0m9 2h0m-232 6h0m23-2h0m21 4h0m104-2h0m4-3h0m26 3h0m7-2h0m5-1h0m39 0h0m4 6h0m4-3h0m3 3h0m27 0h0m41-4h0m37 7h0m-337 5h0m42 5h0m22-4h0m3 1h0m8-2h0m5-2h0m3 1h0m11 6h0m0-3h0m11-4h0m18-1h0m42 3h0m19-3h0m32 3h0m2 2h0m1-5h0m49-1h0m31 6h0m-336 13h0m23-8h0m0 2h0m36 0h0m1-1h0m20 0h0m18-2h0m2 7h0m12 2h0m3-7h0m8 3h0m17 2h0m9 1h0m2-7h0m2 5h0m9-3h0m3-3h0m1 3h0m11 1h0m2 2h0m11 3h0m2-3h0m20-2h0m16 5h0m40-3h0m5 0h0m52-4h0m8 1h0m27 4h0m-354 9h0m40-5h0m19 7h0m12 0h0m7-8h0m9 7h0m9-2h0m3-4h0m9 3h0m11 1h0m2 0h0m5-1h0m14-1h0m1 5h0m3-4h0m11 1h0m2 4h0m4-5h0m2-5h0m3 7h0m3-5h0m2 2h0m14-3h0m1 0h0m0 2h0m37-2h0m3 5h0m16-5h0m6 1h0m2 6h0m29-7h0m36 2h0m12 4h0m28 0h0m-348 7h0m15-3h0m13 0h0m14-1h0m13 8h0m1-1h0m11-3h0m2 2h0m3-3h0m4 7h0m10-4h0m1-3h0m0 0h0m0 4h0m28-2h0m6 4h0m3-3h0m0 3h0m4-7h0m6-2h0m1 6h0m4-4h0m7 0h0m1 6h0m3-2h0m14-5h0m1 8h0m2-3h0m3-1h0m1 2h0m14 1h0m4-8h0m2 7h0m2-1h0m4 2h0m5-6h0m7 1h0m4 7h0m0-10h0m1 7h0m13-6h0m23 7h0m79-6h0m81 2h0m-429 9h0m24 5h0m6-1h0m18-2h0m2 5h0m17-6h0m4-2h0m1 3h0m0 2h0m6-3h0m18 5h0m10-5h0m6 1h0m2 0h0m7-2h0m3-3h0m4 1h0m3 5h0m0 4h0m5-1h0m5-7h0m0 6h0m5-3h0m2 4h0m0-1h0m3-5h0m0 2h0m5 4h0m0 0h0m3-2h0m0 2h0m1 1h0m5-2h0m2 0h0m4-6h0m8-2h0m0 6h0m1 4h0m0-10h0m2 4h0m0-3h0m1 7h0m3-1h0m4-7h0m3 10h0m4-8h0m0 0h0m8-2h0m1 5h0m4 0h0m2 5h0m14-4h0m3 0h0m6 4h0m0-8h0m7 1h0m1 1h0m3-2h0m10 8h0m1-7h0m12 4h0m6 0h0m11 2h0m21-1h0m36-7h0m73 5h0m-464 14h0m85-9h0m9 7h0m30-2h0m6 3h0m2-8h0m9 8h0m0-4h0m8 4h0m1-1h0m3 1h0m3-7h0m2 0h0m4 1h0m3 1h0m2 4h0m3-3h0m3 4h0m3-5h0m2 5h0m2-6h0m4 5h0m2-3h0m4-5h0m8 7h0m1-4h0m1 0h0m1 5h0m2 1h0m2-4h0m1-1h0m1 4h0m4 0h0m5 1h0m3-8h0m0 1h0m3 8h0m3-3h0m8-2h0m3-5h0m2 6h0m1-4h0m1 7h0m10-7h0m0 7h0m7-2h0m1 0h0m1-1h0m10 3h0m2-5h0m4 5h0m5 0h0m0-1h0m0 2h0m6-3h0m7-5h0m10 6h0m0-4h0m2 3h0m3 2h0m9-6h0m2 2h0m12 1h0m14-3h0m7-2h0m34 1h0m19 2h0m20 1h0m-403 9h0m37-3h0m15 5h0m19-3h0m2 3h0m2 0h0m1 0h0m4 4h0m2-4h0m0-2h0m0 5h0m10 0h0m4-1h0m1 1h0m4-7h0m10 0h0m5 6h0m2 2h0m3 0h0m3-2h0m4-7h0m3 6h0m6-2h0m0-4h0m16 6h0m1-3h0m2-3h0m2-1h0m1 7h0m1 1h0m1-2h0m2 2h0m2-2h0m1-1h0m1 1h0m3-2h0m1 6h0m3-3h0m0-4h0m1 5h0m2-4h0m1 4h0m2-7h0m0 8h0m0-2h0m1-2h0m0 0h0m1-1h0m1-2h0m3 6h0m1-1h0m0 1h0m2-5h0m6 1h0m0 5h0m0-8h0m2-1h0m5 8h0m7-1h0m4 1h0m3-7h0m1 2h0m2-2h0m0 3h0m3 5h0m2-3h0m3-2h0m3 0h0m1-2h0m2 4h0m1-2h0m0-1h0m0 1h0m1-3h0m1 6h0m3-5h0m1 6h0m6 2h0m0 0h0m4-10h0m13 3h0m2 0h0m1-3h0m2 4h0m7 5h0m3-7h0m4-1h0m5 7h0m14-1h0m16 1h0m3 2h0m17-9h0m8 1h0m11 5h0m17-4h0m7 3h0m-439 10h0m123-1h0m0 1h0m6 1h0m8-1h0m3 3h0m5-1h0m0-5h0m0 6h0m4-3h0m8-1h0m1 2h0m3-6h0m4 3h0m2-2h0m2 4h0m0-4h0m0 2h0m1 3h0m2 0h0m0-6h0m1 7h0m2 1h0m0-8h0m1 3h0m0-3h0m2 6h0m0-3h0m1 0h0m2 5h0m1-3h0m1 1h0m0 2h0m2-1h0m0-7h0m1 0h0m9 6h0m1-1h0m1 0h0m0 3h0m1-4h0m1 5h0m2-5h0m2-3h0m0 0h0m2 6h0m1-6h0m0 4h0m1 0h0m4 0h0m1-5h0m3 4h0m0-5h0m0 7h0m1 0h0m1-1h0m0 1h0m1-6h0m0 3h0m0 2h0m2 2h0m1-5h0m0-1h0m1 4h0m1 1h0m0 1h0m1 0h0m2-5h0m1 6h0m1-2h0m0 1h0m1-4h0m0 4h0m1-4h0m0-1h0m1-1h0m5 1h0m0 6h0m0-3h0m2-5h0m0 7h0m0-5h0m0-3h0m2 3h0m0 2h0m2 1h0m0-6h0m0 6h0m1-5h0m0 7h0m1-7h0m0 1h0m0 2h0m1 5h0m0-3h0m2-6h0m3 4h0m0 3h0m1 3h0m1-2h0m1 0h0m3-1h0m1-1h0m0-6h0m0 9h0m0-1h0m0-6h0m3 6h0m0 1h0m0 1h0m2-2h0m0-3h0m0 1h0m0 3h0m3-7h0m1 3h0m1-5h0m4 9h0m1-2h0m0-2h0m1 2h0m0 2h0m2-7h0m1 6h0m0-2h0m0-5h0m2 7h0m2-2h0m1-3h0m3-3h0m3 7h0m1-6h0m0 0h0m3 5h0m0-1h0m8 1h0m1-4h0m1 1h0m1 6h0m0-2h0m1-2h0m1-3h0m11 5h0m0-2h0m9 1h0m3-1h0m35 3h0m60-5h0m8 2h0m-398 11h0m46-5h0m3 1h0m11 4h0m0-4h0m3 0h0m4 8h0m5-5h0m5-3h0m9-1h0m2-1h0m3 2h0m10 3h0m3-3h0m2 7h0m7-5h0m0 5h0m1-7h0m0 1h0m1 4h0m1-3h0m1 0h0m3 3h0m5-6h0m4 4h0m1 0h0m5-1h0m1-3h0m1 0h0m0 6h0m0-3h0m3 2h0m0 2h0m1-3h0m1 4h0m2-8h0m1 4h0m2-4h0m2 1h0m0 4h0m2-4h0m1-2h0m3 3h0m0-2h0m3 2h0m1-1h0m1 3h0m0-3h0m0-1h0m1 3h0m1 2h0m0-3h0m1 4h0m1 0h0m1 3h0m1-7h0m0 1h0m1-2h0m0-2h0m1 1h0m1 1h0m0 5h0m7 1h0m2 0h0m1-2h0m1-4h0m0-1h0m1 6h0m1-5h0m1 2h0m1 4h0m0-3h0m1 0h0m0 5h0m1-4h0m0-1h0m0 0h0m1-1h0m0 0h0m0 2h0m1 3h0m2-8h0m0 9h0m1-6h0m4-3h0m0 8h0m1-9h0m1 4h0m0-2h0m3 6h0m1 2h0m1-10h0m1 8h0m1-8h0m0 2h0m1 0h0m0 8h0m1-10h0m0 1h0m0 4h0m1 4h0m0-4h0m2 4h0m0-4h0m1 1h0m2 1h0m0 3h0m1-3h0m2-5h0m0 0h0m1-1h0m2 1h0m0 7h0m1 0h0m1-7h0m1 1h0m3 5h0m1 1h0m2-3h0m0 1h0m2-5h0m1 2h0m1 2h0m0-4h0m2 6h0m1-4h0m3-1h0m1 3h0m1-1h0m1-5h0m0 0h0m1 1h0m2 2h0m0 2h0m0-1h0m1 1h0m1-2h0m1-3h0m2 8h0m0-6h0m2 4h0m0-5h0m6 3h0m1 2h0m1-3h0m0 6h0m1-5h0m7-3h0m10 1h0m14 3h0m0-3h0m1-2h0m19 7h0m0 3h0m19-6h0m0 3h0m7-5h0m0 3h0m52 3h0m3-4h0m-420 7h0m24 0h0m10 2h0m19 2h0m36 0h0m5-5h0m3 4h0m1 5h0m2-8h0m1 0h0m3 1h0m22 7h0m4-1h0m3-2h0m3-5h0m1 4h0m3-3h0m1 2h0m1 2h0m1 1h0m7 1h0m1-1h0m1 2h0m0 1h0m1 0h0m0-8h0m0 4h0m2 2h0m0 0h0m1-4h0m1 2h0m0 2h0m1-6h0m4-1h0m3 3h0m0 4h0m0-7h0m2 6h0m1-2h0m5-4h0m1 1h0m0-1h0m1 4h0m2 2h0m1 2h0m1-3h0m3 3h0m0-6h0m1 3h0m0 2h0m0-3h0m0-3h0m2 2h0m2 4h0m1 0h0m2 0h0m0-6h0m1 3h0m0-2h0m0-2h0m1 6h0m1-5h0m1 6h0m0-3h0m1 4h0m2-7h0m1 2h0m0-3h0m0 7h0m0 2h0m1-7h0m1 3h0m0-3h0m1 3h0m1 1h0m1-4h0m0 2h0m1-4h0m0 6h0m2 2h0m0-5h0m0-2h0m2 5h0m1-2h0m1 5h0m0-6h0m2 5h0m0-8h0m1 5h0m2-5h0m0 5h0m1-4h0m0 2h0m0 1h0m1-3h0m2 0h0m0-2h0m0 3h0m0 2h0m1 1h0m1 1h0m1 3h0m1-2h0m0 0h0m1 2h0m0-4h0m0 1h0m1-5h0m0 0h0m0 0h0m0-1h0m1 9h0m0-3h0m2-4h0m3 3h0m0 2h0m1-3h0m1-3h0m0 6h0m1-1h0m0-2h0m0-3h0m1 1h0m5 4h0m0 2h0m0-7h0m2 3h0m0 4h0m1 1h0m0-4h0m2 3h0m0 0h0m2-5h0m0 5h0m1-2h0m0 1h0m1-6h0m0 3h0m1-4h0m1 5h0m1-1h0m1 0h0m1 2h0m0-1h0m1 4h0m1-7h0m1 5h0m0-8h0m0 1h0m0 1h0m0 6h0m1-2h0m0 0h0m2 3h0m2-1h0m0 0h0m1-5h0m1 2h0m2 5h0m1-9h0m0 8h0m0 1h0m1-1h0m1-6h0m0 5h0m0 1h0m2 0h0m1-5h0m7 6h0m4-7h0m0 4h0m4-2h0m1 3h0m1 2h0m2-3h0m4 3h0m7 0h0m8-1h0m13-6h0m0 6h0m24-1h0m2-2h0m26 1h0m68-6h0m5 8h0m-418 4h0m25 2h0m22 0h0m2-2h0m29-1h0m8 1h0m15 4h0m2-4h0m0-1h0m3 8h0m3-10h0m2 9h0m2-6h0m0-2h0m2 3h0m0 1h0m1 0h0m2 4h0m2 0h0m1 0h0m0-5h0m1 0h0m1 6h0m0-5h0m0 0h0m1 3h0m0-7h0m5 7h0m0-7h0m1 5h0m2-3h0m0 2h0m3 4h0m0-2h0m0-6h0m1 4h0m1 0h0m1 4h0m1 0h0m1-4h0m1 3h0m0-3h0m0 4h0m1-2h0m0 0h0m1-3h0m3 1h0m1 4h0m0-5h0m1 1h0m1-4h0m0 5h0m1-1h0m1 4h0m1-1h0m0-5h0m1-1h0m1 0h0m1 4h0m4 0h0m0 1h0m0-5h0m1 4h0m2 2h0m0 0h0m1-4h0m1 1h0m1 5h0m1 0h0m2-5h0m1 2h0m0-7h0m1 8h0m1-3h0m1 4h0m0-4h0m0-4h0m0 7h0m1-3h0m1 2h0m0-4h0m0 3h0m1-6h0m0 4h0m0-3h0m1 0h0m0 3h0m0 2h0m1-2h0m0 1h0m1 5h0m1-1h0m1 0h0m0 1h0m1-2h0m0-5h0m2 3h0m0 1h0m2 0h0m0-6h0m0 4h0m1 3h0m2-4h0m1 5h0m0-7h0m0 6h0m1-2h0m0 1h0m0-6h0m0 0h0m0 8h0m0-3h0m0 2h0m1-7h0m0 1h0m0-2h0m1 5h0m0-2h0m0 4h0m1 1h0m0 0h0m1-2h0m0-2h0m1 6h0m0-2h0m1 2h0m0-10h0m1 1h0m0-1h0m1 10h0m1-6h0m2-1h0m0-2h0m1 2h0m0 2h0m1-1h0m1 6h0m2-8h0m1 7h0m2-3h0m1 2h0m2 2h0m1-3h0m1-1h0m0-1h0m1-4h0m0 6h0m1-3h0m1-2h0m1 3h0m1 3h0m1-4h0m0-3h0m1 0h0m1 1h0m1-2h0m0 5h0m1-3h0m1 1h0m0-2h0m1 4h0m3-4h0m2 3h0m1-2h0m1 4h0m2 3h0m2-8h0m3 8h0m1-1h0m1-8h0m0 3h0m4 2h0m1-3h0m1 5h0m4-5h0m1 1h0m10 6h0m9-6h0m0 0h0m1-1h0m8 3h0m5-2h0m1-3h0m37 4h0m53 1h0m-400 10h0m41-3h0m35 0h0m1 6h0m8-7h0m4 8h0m4-2h0m8-2h0m1 5h0m1-7h0m4-2h0m1 7h0m0-1h0m2-5h0m3 5h0m1-7h0m1 8h0m1-2h0m1-2h0m0 5h0m4-9h0m2 0h0m0 8h0m1-6h0m2 5h0m2 1h0m1-1h0m0-2h0m3 5h0m0-4h0m2 4h0m0-8h0m2 4h0m1 0h0m1-1h0m4 5h0m1-4h0m0-2h0m2 0h0m0 6h0m1-8h0m1 6h0m1-7h0m0 4h0m0-3h0m1 6h0m2-2h0m0 0h0m0-3h0m0 3h0m1 1h0m1-3h0m1 4h0m2 0h0m0-6h0m0 7h0m1-4h0m0 3h0m1 1h0m3 0h0m1-4h0m1-1h0m0 6h0m0-7h0m0-3h0m2 9h0m1-9h0m0 8h0m1-4h0m1 4h0m1-7h0m1 0h0m1 5h0m0 0h0m0 3h0m1-4h0m0 0h0m1 4h0m0 1h0m1-7h0m0 4h0m1-2h0m0-3h0m1 4h0m1 3h0m0-6h0m0 1h0m1-4h0m1 7h0m0 3h0m0-3h0m1 0h0m0-6h0m0 6h0m1-6h0m1 6h0m0 0h0m0-3h0m0-4h0m2 0h0m1 2h0m2 7h0m0-6h0m0 1h0m1-3h0m0 5h0m1 1h0m0-5h0m0 5h0m1-4h0m0 0h0m0 3h0m1-3h0m0-2h0m0 7h0m0-6h0m1 5h0m0 1h0m0 1h0m0-8h0m0 5h0m1-3h0m0-1h0m1-1h0m0 9h0m1-4h0m0-1h0m0 3h0m0-4h0m1-2h0m0 0h0m1-1h0m0 7h0m3 1h0m1-7h0m1 0h0m1 2h0m1 3h0m1-3h0m0 3h0m1-3h0m0-3h0m1 7h0m1 1h0m0-8h0m1 3h0m0-2h0m1 1h0m1 6h0m1-9h0m1 10h0m1-9h0m0 1h0m0 3h0m1 4h0m1-9h0m0 9h0m1-1h0m1 0h0m0-2h0m1 1h0m0-2h0m0 0h0m2 0h0m0 0h0m1 1h0m0 2h0m0-7h0m1 8h0m0-5h0m0 0h0m1 3h0m1-6h0m0 3h0m1-1h0m1-2h0m1 0h0m4 1h0m0 1h0m0 5h0m1 0h0m1-1h0m1-7h0m1 5h0m1 1h0m0-3h0m4 3h0m1-5h0m2 8h0m0-8h0m0 9h0m3-6h0m1 4h0m1 0h0m2-3h0m2 2h0m1-1h0m1 0h0m1 2h0m0 0h0m0-2h0m0 3h0m1-3h0m1-2h0m4 3h0m0-6h0m2 0h0m4 9h0m1-6h0m4 5h0m2-8h0m3 3h0m3 2h0m3-3h0m6 4h0m19 2h0m3-3h0m51-6h0m7 8h0m41-3h0m1 3h0m20-4h0m6 3h0m-447 9h0m43 0h0m8-6h0m6 4h0m24 3h0m12-6h0m3 8h0m0-3h0m2 1h0m7 1h0m1 0h0m2-5h0m7 3h0m6 1h0m2-5h0m1 0h0m2 1h0m1 3h0m3 3h0m2-5h0m0 0h0m0 3h0m1-3h0m4-2h0m1-1h0m5 1h0m0 7h0m2-1h0m2 0h0m5 0h0m2 0h0m1-4h0m0 5h0m0-7h0m5 5h0m1-4h0m1 6h0m1 1h0m4-6h0m1-3h0m1 4h0m0-5h0m1 5h0m0 1h0m0-1h0m1-2h0m1-2h0m0 2h0m1 1h0m0 1h0m0 1h0m0 4h0m1-1h0m1-8h0m0 2h0m0-1h0m0 1h0m0 2h0m1 0h0m0-4h0m2 4h0m0-3h0m0 0h0m1 1h0m1-1h0m0-1h0m0 7h0m0 1h0m0-4h0m1 4h0m1-5h0m0 0h0m0-1h0m1 4h0m2 0h0m0-1h0m1-3h0m0 7h0m0-9h0m1 4h0m1 5h0m0-8h0m0 0h0m1 4h0m0-5h0m1 3h0m0 5h0m0-8h0m0 6h0m1-3h0m0-4h0m0 7h0m0-2h0m1-4h0m0 3h0m0-3h0m1 0h0m1 1h0m0 3h0m1 4h0m0-7h0m0 2h0m0-3h0m0 7h0m1-3h0m0 4h0m0-2h0m1-5h0m0 4h0m0-5h0m1 8h0m2-8h0m0 3h0m1 0h0m1 3h0m0-6h0m1 2h0m0-2h0m1 6h0m0-4h0m2 1h0m1-1h0m0 3h0m0-5h0m3 1h0m1 4h0m1-6h0m0 10h0m0-3h0m1-5h0m1 4h0m1-4h0m1 6h0m1 0h0m1 1h0m0 0h0m1-8h0m2 4h0m1 1h0m0 3h0m0-4h0m3 5h0m0-3h0m1-1h0m0-1h0m0-1h0m2 0h0m1 2h0m1-4h0m1-1h0m2 5h0m0-5h0m1 2h0m2 3h0m0 2h0m2-7h0m0 0h0m1 6h0m1-4h0m0 4h0m1-6h0m0 7h0m2 0h0m1-5h0m1 1h0m3 6h0m0-2h0m1-2h0m2 3h0m1-8h0m1 0h0m1 7h0m5-6h0m1 8h0m1-8h0m2 3h0m0-1h0m1 4h0m5-7h0m1 6h0m13-3h0m4 1h0m2 1h0m48-2h0m4 6h0m5-4h0m83 2h0m7-4h0m-406 16h0m42-7h0m13 3h0m2-5h0m1 0h0m2 3h0m2 1h0m11-1h0m0-1h0m7 0h0m0 6h0m1-9h0m2 6h0m1 0h0m1-3h0m3 6h0m1-8h0m1 6h0m5 0h0m0-1h0m3-4h0m0 3h0m0-2h0m1 4h0m0-6h0m2 2h0m2-1h0m0-2h0m0 9h0m1-5h0m0-1h0m5 5h0m0-5h0m0-1h0m1-1h0m1 2h0m0-2h0m0 6h0m1 3h0m0-2h0m1-7h0m1 8h0m1-3h0m1-3h0m0 5h0m1-5h0m0 6h0m3-5h0m0 3h0m5-6h0m1 5h0m1-3h0m0 0h0m0-3h0m2 6h0m0-3h0m0-2h0m0 6h0m1-3h0m0 4h0m1-7h0m1 4h0m1-4h0m1 6h0m1 3h0m1-6h0m3 2h0m0-5h0m0 2h0m1 3h0m0-3h0m1-2h0m0 6h0m0-2h0m0 5h0m0-9h0m2 7h0m1-6h0m0 0h0m1 4h0m0-5h0m0-1h0m2 6h0m0-5h0m0 6h0m1-4h0m0-3h0m1 1h0m0 0h0m1 6h0m1-1h0m1-1h0m2 1h0m0 1h0m0 2h0m1-3h0m0 1h0m1-5h0m0 3h0m1 0h0m1-3h0m0 5h0m1-5h0m0 2h0m1 2h0m3-3h0m0 5h0m1-3h0m1-5h0m1 5h0m1 1h0m0-2h0m2-2h0m1 7h0m1-2h0m0-5h0m2 1h0m0 2h0m0-5h0m1 1h0m0 1h0m1 5h0m0-4h0m1-2h0m0 1h0m0 4h0m1-6h0m1 8h0m0-1h0m0-5h0m0 8h0m0-6h0m1 4h0m1 0h0m1-7h0m0 8h0m3-4h0m0 1h0m1-5h0m0 1h0m0 7h0m1-1h0m3-8h0m0 6h0m0-1h0m1-4h0m2 0h0m1 2h0m0 0h0m1-1h0m0-1h0m1 7h0m4 1h0m1-8h0m3 7h0m0 2h0m1-1h0m1-3h0m2 0h0m0-5h0m1 2h0m1-1h0m3 1h0m1-1h0m3-1h0m0 1h0m1 3h0m2 3h0m2-2h0m1-6h0m1 7h0m6-3h0m3 0h0m1-3h0m13 3h0m5 4h0m18-7h0m40 3h0m111 6h0m-436 4h0m1 0h0m10-3h0m37 1h0m15 6h0m7-4h0m1 1h0m4 0h0m5 4h0m2-6h0m1 2h0m4-1h0m1 4h0m3 1h0m11-3h0m2 2h0m1-2h0m5-3h0m1-1h0m0 1h0m1 0h0m0 4h0m0-3h0m1 2h0m1 2h0m0-3h0m1-4h0m1 5h0m5-5h0m1 7h0m2-4h0m0-1h0m1 2h0m1-5h0m2 4h0m1-1h0m1-2h0m1 5h0m0-4h0m1 1h0m0-3h0m1 7h0m1 1h0m1-3h0m2 5h0m1-8h0m1 4h0m0-3h0m0 6h0m1-1h0m0-8h0m0 5h0m2-2h0m0 1h0m1 3h0m0-7h0m2 5h0m0 2h0m0-4h0m0 5h0m1-1h0m1-1h0m3-1h0m1-4h0m1 0h0m1 1h0m0 4h0m0 0h0m1 3h0m0-5h0m1 0h0m1 0h0m4-3h0m0 0h0m1 7h0m0-3h0m1-1h0m0-1h0m0-1h0m0 4h0m0-2h0m0 4h0m1 0h0m0-5h0m1 7h0m0 0h0m1-2h0m0-7h0m1 8h0m1-2h0m1 0h0m1-3h0m0 2h0m1 1h0m1-5h0m1 3h0m1 5h0m1-8h0m1-1h0m0 4h0m0-5h0m0 10h0m2-6h0m2-3h0m1 6h0m0-4h0m0-3h0m0 5h0m1-4h0m0 6h0m1 0h0m0 2h0m2-8h0m0 4h0m1 1h0m0-5h0m0 2h0m2-3h0m0 2h0m2 6h0m0-6h0m1 8h0m0-8h0m2 4h0m4-2h0m2 4h0m1-3h0m1-1h0m2 0h0m2-2h0m2 1h0m1 4h0m0-6h0m1 1h0m2 1h0m3-2h0m0 7h0m3-1h0m3-1h0m11-3h0m1 5h0m3-2h0m5 1h0m1-3h0m9-4h0m1 2h0m64 8h0m26-6h0m-376 10h0m52 0h0m13 1h0m7 1h0m1 1h0m2-3h0m37-2h0m3 7h0m4-2h0m3 3h0m1-5h0m2-2h0m0 5h0m6-7h0m4 3h0m0-4h0m2 6h0m0-5h0m0 1h0m4 0h0m2 4h0m1 2h0m1 1h0m0-1h0m1 1h0m1-5h0m2 3h0m2-4h0m1 6h0m2-8h0m0 5h0m3 4h0m1-4h0m0 2h0m2-6h0m0-1h0m3 6h0m0-5h0m1 4h0m0 0h0m1 3h0m2-3h0m1 0h0m0 2h0m3-2h0m1 4h0m0-10h0m0 9h0m2-6h0m1-2h0m1 9h0m0-7h0m1 2h0m2-1h0m1-1h0m1-2h0m0 5h0m1 0h0m1 1h0m1-6h0m1 5h0m2-5h0m0 6h0m1-2h0m1 0h0m0 1h0m1-4h0m0-1h0m1 0h0m2 4h0m1 0h0m0-5h0m0 3h0m0-2h0m1 6h0m0-4h0m0-2h0m0 8h0m3-9h0m0 2h0m0-2h0m3 6h0m1-2h0m1-3h0m0 2h0m2 5h0m0-7h0m1 5h0m1 2h0m0 0h0m3-4h0m1-1h0m1 5h0m1 0h0m0-5h0m1 0h0m6-2h0m2 8h0m1-6h0m3 0h0m2 5h0m0 2h0m2-3h0m3-4h0m1-1h0m2-1h0m1 5h0m1 1h0m1-4h0m1 1h0m0-1h0m1 1h0m2-3h0m0 6h0m2-5h0m1 2h0m2 2h0m0-6h0m5 6h0m3-3h0m6 3h0m8-5h0m3 8h0m8-3h0m4-4h0m2 0h0m60 8h0m47-7h0m-309 10h0m25-2h0m6 3h0m5 0h0m11 3h0m2 1h0m0 0h0m1-7h0m0 2h0m2 0h0m0 4h0m1-2h0m10 4h0m4-3h0m0 3h0m1-8h0m2 2h0m1 1h0m1-2h0m0 3h0m0-4h0m2 2h0m1 3h0m0-5h0m0 2h0m2 6h0m0 0h0m3-6h0m1 1h0m0-3h0m0 2h0m0-2h0m2 1h0m1 2h0m1 4h0m0 0h0m0 1h0m1-7h0m0 0h0m1 4h0m1 3h0m2-5h0m0-1h0m1-2h0m0 4h0m2 3h0m1-6h0m0 3h0m1-5h0m1 5h0m0 0h0m0 2h0m2-4h0m5 2h0m0-2h0m0 3h0m2 0h0m0-1h0m2-4h0m0 4h0m1 2h0m0-3h0m1 6h0m2-10h0m2 3h0m0-3h0m1 2h0m0 0h0m4 4h0m0-2h0m1 5h0m0-8h0m1-1h0m2 2h0m2 3h0m0-5h0m0 6h0m1-1h0m0 0h0m5 3h0m1-1h0m1-1h0m0-1h0m2-5h0m1 2h0m1 2h0m0 3h0m2 1h0m0-2h0m4-5h0m0 6h0m3 0h0m18-5h0m4-1h0m33 1h0m68 8h0m7-2h0m1-6h0m37 4h0m6-6h0m1 1h0m67 1h0m-410 12h0m27 5h0m20-3h0m5 2h0m8-6h0m3-2h0m0 1h0m0 6h0m1-2h0m1 2h0m0 2h0m1-7h0m8-2h0m1 0h0m5 5h0m2 1h0m0 4h0m1-7h0m0-1h0m2 5h0m0-4h0m5-2h0m1 1h0m1 5h0m2 0h0m0 0h0m5-6h0m3 0h0m6-1h0m2 1h0m4 6h0m1-7h0m4 3h0m1-2h0m0 1h0m1 1h0m1-1h0m1 4h0m0 1h0m3-6h0m0 3h0m1 4h0m0-5h0m4 4h0m0 0h0m1-1h0m2-6h0m1 5h0m0-3h0m1 3h0m3 2h0m5-6h0m2 5h0m0 4h0m1-9h0m0 3h0m2 6h0m0-4h0m7 2h0m13-1h0m3 2h0m2-6h0m1 7h0m3-3h0m2-6h0m1 3h0m15 0h0m92-2h0m128-2h0m-435 16h0m31-2h0m21 3h0m4-1h0m21 4h0m13-10h0m1 4h0m1-2h0m1 6h0m0 1h0m8 0h0m2-1h0m8 1h0m10-5h0m2 2h0m0 0h0m0 3h0m2-4h0m6-4h0m2 4h0m5-3h0m5 2h0m2-3h0m2 1h0m3-1h0m2 5h0m2-5h0m7 9h0m0-10h0m2 4h0m3-4h0m3 4h0m5 1h0m12 3h0m1-8h0m22 2h0m3-2h0m20 5h0m140-2h0m18 1h0m-344 11h0m1 0h0m4 4h0m3-6h0m29-3h0m2 8h0m16-6h0m0-2h0m4 5h0m11 4h0m1-8h0m0 4h0m6 1h0m15 2h0m3-7h0m12 8h0m3-6h0m10 3h0m9-2h0m18 4h0m5-8h0m33 5h0m136 0h0m-337 12h0m4 2h0m1-7h0m5 4h0m7-5h0m1 0h0m7 6h0m1-2h0m14-5h0m4 7h0m18 2h0m7-2h0m4-2h0m4 3h0m7-4h0m17 4h0m26-5h0m13 0h0m6 1h0m7-1h0m227 3h0m36-1h0m12-5h0m9 7h0m-455 5h0m29 7h0m1-8h0m30 6h0m1-2h0m2-2h0m21 5h0m19-2h0m9-5h0m1 1h0m12 1h0m5-2h0m57 8h0m184-4h0m7-3h0m-339 13h0m31 4h0m28-1h0m43 1h0m184-1h0m29-3h0m73-3h0m-368 11h0m18 0h0m2 5h0m29-6h0m105 1h0m188 7h0m-48 7h0m-284 6h0m338-1h0m39 0h0m6-2h0m-220 26h0m137 4h0m-42 8h0m-22 10h0m108-2h0m-451 9h0" stroke="#000" stroke-opacity="0.65" stroke-width="7.0" stroke-linecap="square" fill="none"/>
<rect x="428.9" y="370.3" width="78.3" height="80.30000000000001" fill="none" stroke="#000" stroke-width="1.1"/>
<line x1="466.0" y1="370.3" x2="466.0" y2="450.6" stroke="#000" stroke-width="1.1" />
<line x1="428.9" y1="411.5" x2="507.2" y2="411.5" stroke="#000" stroke-width="1.1" />
<rect x="430.80" y="372.58" width="10.14" height="6.52" fill="#fff"/>
<text x="431.2" y="377.90000000000003" font-size="7.0" stroke="#000" stroke-width="0.12" fill="#000" >Q1</text>
<rect x="430.80" y="381.38" width="14.42" height="6.52" fill="#fff"/>
<text x="431.2" y="386.7" font-size="7.0" stroke="#000" stroke-width="0.12" fill="#000" >0.36</text>
<rect x="495.36" y="372.58" width="10.14" height="6.52" fill="#fff"/>
<text x="505.09999999999997" y="377.90000000000003" font-size="7.0" text-anchor="end" stroke="#000" stroke-width="0.12" fill="#000" >Q2</text>
<rect x="487.18" y="381.38" width="18.32" height="6.52" fill="#fff"/>
<text x="505.09999999999997" y="386.7" font-size="7.0" text-anchor="end" stroke="#000" stroke-width="0.12" fill="#000" >0.071</text>
<rect x="430.80" y="433.58" width="10.14" height="6.52" fill="#fff"/>
<text x="431.2" y="438.90000000000003" font-size="7.0" stroke="#000" stroke-width="0.12" fill="#000" >Q4</text>
<rect x="430.80" y="442.78" width="14.42" height="6.52" fill="#fff"/>
<text x="431.2" y="448.1" font-size="7.0" stroke="#000" stroke-width="0.12" fill="#000" >97.3</text>
<rect x="495.36" y="433.58" width="10.14" height="6.52" fill="#fff"/>
<text x="505.09999999999997" y="438.90000000000003" font-size="7.0" text-anchor="end" stroke="#000" stroke-width="0.12" fill="#000" >Q3</text>
<rect x="491.08" y="442.78" width="14.42" height="6.52" fill="#fff"/>
<text x="505.09999999999997" y="448.1" font-size="7.0" text-anchor="end" stroke="#000" stroke-width="0.12" fill="#000" >2.28</text>
<text x="7.3" y="484.4" font-size="11.2" font-weight="bold" fill="#000" >C</text>
<line x1="43.4" y1="488.2" x2="43.4" y2="518" stroke="#000" stroke-width="1.1" />
<line x1="41.3" y1="518" x2="45.5" y2="518" stroke="#000" stroke-width="1.1" />
<line x1="40.199999999999996" y1="492.3" x2="43.4" y2="492.3" stroke="#000" stroke-width="1.0" />
<text x="37.8" y="495.0" font-size="7.6" text-anchor="end" fill="#000" >30</text>
<line x1="40.199999999999996" y1="505.2" x2="43.4" y2="505.2" stroke="#000" stroke-width="1.0" />
<text x="37.8" y="507.9" font-size="7.6" text-anchor="end" fill="#000" >20</text>
<text x="37.8" y="520.7" font-size="7.6" text-anchor="end" fill="#000" >10</text>
<line x1="43.4" y1="526" x2="43.4" y2="603.1" stroke="#000" stroke-width="1.1" />
<line x1="41.3" y1="526" x2="45.5" y2="526" stroke="#000" stroke-width="1.1" />
<line x1="40.199999999999996" y1="534.3" x2="43.4" y2="534.3" stroke="#000" stroke-width="1.0" />
<text x="37.8" y="537.0" font-size="7.6" text-anchor="end" fill="#000" >8</text>
<line x1="40.199999999999996" y1="551.2" x2="43.4" y2="551.2" stroke="#000" stroke-width="1.0" />
<text x="37.8" y="553.9000000000001" font-size="7.6" text-anchor="end" fill="#000" >6</text>
<line x1="40.199999999999996" y1="568.4" x2="43.4" y2="568.4" stroke="#000" stroke-width="1.0" />
<text x="37.8" y="571.1" font-size="7.6" text-anchor="end" fill="#000" >4</text>
<line x1="40.199999999999996" y1="585.6" x2="43.4" y2="585.6" stroke="#000" stroke-width="1.0" />
<text x="37.8" y="588.3000000000001" font-size="7.6" text-anchor="end" fill="#000" >2</text>
<line x1="40.199999999999996" y1="602.6" x2="43.4" y2="602.6" stroke="#000" stroke-width="1.0" />
<text x="37.8" y="605.3000000000001" font-size="7.6" text-anchor="end" fill="#000" >0</text>
<line x1="42.9" y1="602.6" x2="226.8" y2="602.6" stroke="#000" stroke-width="1.3" />
<line x1="66.2" y1="602.6" x2="66.2" y2="605.2" stroke="#000" stroke-width="1.0" />
<text x="66.2" y="615.2" font-size="7.5" text-anchor="middle" fill="#000" >Actin</text>
<line x1="100.6" y1="602.6" x2="100.6" y2="605.2" stroke="#000" stroke-width="1.0" />
<text x="100.6" y="615.2" font-size="7.5" text-anchor="middle" fill="#000" >SEB</text>
<line x1="135" y1="602.6" x2="135" y2="605.2" stroke="#000" stroke-width="1.0" />
<text x="135" y="615.2" font-size="7.5" text-anchor="middle" fill="#000" >WT1</text>
<line x1="169.5" y1="602.6" x2="169.5" y2="605.2" stroke="#000" stroke-width="1.0" />
<text x="169.5" y="615.2" font-size="7.5" text-anchor="middle" fill="#000" >PRAME</text>
<line x1="204" y1="602.6" x2="204" y2="605.2" stroke="#000" stroke-width="1.0" />
<text x="204" y="615.2" font-size="7.5" text-anchor="middle" fill="#000" >Survivin</text>
<text x="135" y="626.9" font-size="8.4" text-anchor="middle" font-weight="bold" textLength="21.2" lengthAdjust="spacingAndGlyphs" fill="#000" >Antigen</text>
<text transform="translate(22.799999999999997,547.1) rotate(-90)" font-size="7.4" text-anchor="middle" font-weight="bold" textLength="92.2" lengthAdjust="spacingAndGlyphs">% +ve CD3+CD8+IFNγ+TNF-α+</text>
<line x1="54.7" y1="593.4" x2="77.5" y2="593.4" stroke="#555" stroke-width="1.3" />
<line x1="89.1" y1="510.9" x2="112.3" y2="510.9" stroke="#555" stroke-width="1.3" />
<line x1="123.4" y1="577.4" x2="146.5" y2="577.4" stroke="#555" stroke-width="1.3" />
<line x1="157.8" y1="582" x2="180.6" y2="582" stroke="#555" stroke-width="1.3" />
<line x1="192.3" y1="594.3" x2="215" y2="594.3" stroke="#555" stroke-width="1.3" />
<circle cx="57.1" cy="601.8" r="1.6" fill="#c3001f"/>
<rect x="59.4" y="596.3" width="4.0" height="4.0" fill="none" stroke="#5b8fc9" stroke-width="0.9"/>
<path d="M63.8 602.2L66.5 597.8L69.2 602.2Z" fill="none" stroke="#5b8fc9" stroke-width="0.9" stroke-linejoin="miter"/>
<path d="M68.0 603.0L70.8 598.6L73.6 603.0Z" fill="#c3001f"/>
<circle cx="75.9" cy="602.3" r="1.6" fill="#2eb24a"/>
<path d="M63.5 573.8L66.0 571.3L68.5 573.8L66.0 576.3Z" fill="#2eb24a"/>
<path d="M63.5 579.2L66.0 576.7L68.5 579.2L66.0 581.7Z" fill="#c3001f"/>
<circle cx="91.5" cy="503.2" r="1.6" fill="#2eb24a"/>
<path d="M89.0 508.6L91.5 506.1L94.0 508.6L91.5 511.1Z" fill="#2eb24a"/>
<path d="M98.0 508.5L100.5 506.0L103.0 508.5L100.5 511.0Z" fill="#c3001f"/>
<path d="M107.5 508.4L110.3 504.0L113.1 508.4Z" fill="#c3001f"/>
<rect x="98.3" y="512.0" width="4.0" height="4.0" fill="none" stroke="#5b8fc9" stroke-width="0.9"/>
<path d="M107.4 514.8L110.1 510.4L112.8 514.8Z" fill="none" stroke="#5b8fc9" stroke-width="0.9" stroke-linejoin="miter"/>
<circle cx="100.7" cy="552.5" r="1.6" fill="#c3001f"/>
<rect x="132.8" y="529.5" width="4.0" height="4.0" fill="none" stroke="#5b8fc9" stroke-width="0.9"/>
<path d="M132.1 550.2L134.8 545.8L137.5 550.2Z" fill="none" stroke="#5b8fc9" stroke-width="0.9" stroke-linejoin="miter"/>
<circle cx="134.8" cy="565.4" r="1.6" fill="#2eb24a"/>
<path d="M132.3 592.5L134.8 590.0L137.3 592.5L134.8 595.0Z" fill="#2eb24a"/>
<circle cx="125.8" cy="602.8" r="1.6" fill="#c3001f"/>
<path d="M132.0 603.4L134.8 599.0L137.6 603.4Z" fill="#c3001f"/>
<path d="M142.1 601.7L144.6 599.2L147.1 601.7L144.6 604.2Z" fill="#c3001f"/>
<path d="M166.4 531.0L169.2 526.6L172.0 531.0Z" fill="#c3001f"/>
<rect x="167.2" y="558.8" width="4.0" height="4.0" fill="none" stroke="#5b8fc9" stroke-width="0.9"/>
<circle cx="169.2" cy="587.5" r="1.6" fill="#2eb24a"/>
<path d="M166.7 594.0L169.2 591.5L171.7 594.0L169.2 596.5Z" fill="#2eb24a"/>
<path d="M166.5 601.8L169.2 597.4L171.9 601.8Z" fill="none" stroke="#5b8fc9" stroke-width="0.9" stroke-linejoin="miter"/>
<circle cx="160.3" cy="602.8" r="1.6" fill="#c3001f"/>
<circle cx="178.8" cy="602.3" r="1.6" fill="#c3001f"/>
<path d="M196.5 584.8L199.0 582.3L201.5 584.8L199.0 587.3Z" fill="#c3001f"/>
<circle cx="208.3" cy="585.4" r="1.6" fill="#2eb24a"/>
<path d="M201.5 592.2L204.0 589.7L206.5 592.2L204.0 594.7Z" fill="#2eb24a"/>
<path d="M201.3 601.8L204.0 597.4L206.7 601.8Z" fill="none" stroke="#5b8fc9" stroke-width="0.9" stroke-linejoin="miter"/>
<rect x="211.2" y="594.8" width="4.0" height="4.0" fill="none" stroke="#5b8fc9" stroke-width="0.9"/>
<path d="M191.7 603.4L194.5 599.0L197.3 603.4Z" fill="#c3001f"/>
<circle cx="213.2" cy="601.7" r="1.6" fill="#c3001f"/>
<circle cx="232.9" cy="517.8" r="1.6" fill="#c3001f"/>
<text x="239.1" y="520.3" font-size="7.0" fill="#000" >P1</text>
<circle cx="232.9" cy="528.8" r="1.6" fill="#2eb24a"/>
<text x="239.1" y="531.25" font-size="7.0" fill="#000" >P2</text>
<rect x="230.9" y="537.7" width="4.0" height="4.0" fill="none" stroke="#5b8fc9" stroke-width="0.9"/>
<text x="239.1" y="542.1999999999999" font-size="7.0" fill="#000" >P6</text>
<path d="M230.1 552.6L232.9 548.2L235.7 552.6Z" fill="#c3001f"/>
<text x="239.1" y="553.15" font-size="7.0" fill="#000" >P4</text>
<path d="M230.2 563.6L232.9 559.2L235.6 563.6Z" fill="none" stroke="#5b8fc9" stroke-width="0.9" stroke-linejoin="miter"/>
<text x="239.1" y="564.0999999999999" font-size="7.0" fill="#000" >P9</text>
<path d="M230.4 572.5L232.9 570.0L235.4 572.5L232.9 575.0Z" fill="#2eb24a"/>
<text x="239.1" y="575.05" font-size="7.0" fill="#000" >P7</text>
<path d="M230.4 583.5L232.9 581.0L235.4 583.5L232.9 586.0Z" fill="#c3001f"/>
<text x="239.1" y="586.0" font-size="7.0" fill="#000" >P12</text>
<text x="274.5" y="484.4" font-size="11.2" font-weight="bold" fill="#000" >D</text>
<line x1="305.5" y1="488.7" x2="305.5" y2="515.3" stroke="#000" stroke-width="1.1" />
<line x1="303.4" y1="515.3" x2="307.6" y2="515.3" stroke="#000" stroke-width="1.1" />
<line x1="302.3" y1="491.9" x2="305.5" y2="491.9" stroke="#000" stroke-width="1.0" />
<text x="299.9" y="494.59999999999997" font-size="7.6" text-anchor="end" fill="#000" >30</text>
<line x1="302.3" y1="504" x2="305.5" y2="504" stroke="#000" stroke-width="1.0" />
<text x="299.9" y="506.7" font-size="7.6" text-anchor="end" fill="#000" >20</text>
<text x="299.9" y="518.0" font-size="7.6" text-anchor="end" fill="#000" >10</text>
<line x1="305.5" y1="522.9" x2="305.5" y2="603.1" stroke="#000" stroke-width="1.1" />
<line x1="303.4" y1="522.9" x2="307.6" y2="522.9" stroke="#000" stroke-width="1.1" />
<line x1="302.3" y1="522.9" x2="305.5" y2="522.9" stroke="#000" stroke-width="1.0" />
<text x="299.9" y="525.6" font-size="7.6" text-anchor="end" fill="#000" >5</text>
<line x1="302.3" y1="602.6" x2="305.5" y2="602.6" stroke="#000" stroke-width="1.0" />
<text x="299.9" y="605.3000000000001" font-size="7.6" text-anchor="end" fill="#000" >0</text>
<line x1="305.0" y1="602.6" x2="488.8" y2="602.6" stroke="#000" stroke-width="1.3" />
<line x1="328.3" y1="602.6" x2="328.3" y2="605.2" stroke="#000" stroke-width="1.0" />
<text x="328.3" y="615.2" font-size="7.5" text-anchor="middle" fill="#000" >Actin</text>
<line x1="362.9" y1="602.6" x2="362.9" y2="605.2" stroke="#000" stroke-width="1.0" />
<text x="362.9" y="615.2" font-size="7.5" text-anchor="middle" fill="#000" >SEB</text>
<line x1="397.5" y1="602.6" x2="397.5" y2="605.2" stroke="#000" stroke-width="1.0" />
<text x="397.5" y="615.2" font-size="7.5" text-anchor="middle" fill="#000" >WT1</text>
<line x1="432" y1="602.6" x2="432" y2="605.2" stroke="#000" stroke-width="1.0" />
<text x="432" y="615.2" font-size="7.5" text-anchor="middle" fill="#000" >PRAME</text>
<line x1="466.6" y1="602.6" x2="466.6" y2="605.2" stroke="#000" stroke-width="1.0" />
<text x="466.6" y="615.2" font-size="7.5" text-anchor="middle" fill="#000" >Survivin</text>
<text x="397.5" y="626.9" font-size="8.4" text-anchor="middle" font-weight="bold" textLength="21.2" lengthAdjust="spacingAndGlyphs" fill="#000" >Antigen</text>
<text transform="translate(284.9,547.1) rotate(-90)" font-size="7.4" text-anchor="middle" font-weight="bold" textLength="92.2" lengthAdjust="spacingAndGlyphs">% +ve CD3+CD4+IFNγ+TNF-α+</text>
<line x1="316.5" y1="584.8" x2="340" y2="584.8" stroke="#555" stroke-width="1.3" />
<line x1="351" y1="510.8" x2="374.4" y2="510.8" stroke="#555" stroke-width="1.3" />
<line x1="385.9" y1="584.8" x2="408.4" y2="584.8" stroke="#555" stroke-width="1.3" />
<line x1="420.5" y1="584.2" x2="443" y2="584.2" stroke="#555" stroke-width="1.3" />
<line x1="454.2" y1="586.2" x2="477.3" y2="586.2" stroke="#555" stroke-width="1.3" />
<path d="M325.7 558.0L328.4 553.6L331.1 558.0Z" fill="none" stroke="#5b8fc9" stroke-width="0.9" stroke-linejoin="miter"/>
<path d="M325.9 563.5L328.4 561.0L330.9 563.5L328.4 566.0Z" fill="#2eb24a"/>
<path d="M325.6 574.2L328.4 569.8L331.2 574.2Z" fill="#c3001f"/>
<circle cx="324.1" cy="596.1" r="1.6" fill="#2eb24a"/>
<circle cx="332.2" cy="596.1" r="1.6" fill="#c3001f"/>
<path d="M321.6 601.8L324.1 599.3L326.6 601.8L324.1 604.3Z" fill="#c3001f"/>
<rect x="330.2" y="599.2" width="4.0" height="4.0" fill="none" stroke="#5b8fc9" stroke-width="0.9"/>
<circle cx="367.7" cy="500.5" r="1.6" fill="#2eb24a"/>
<path d="M359.5 506.8L362.3 502.4L365.1 506.8Z" fill="#c3001f"/>
<path d="M350.7 514.8L353.2 512.3L355.7 514.8L353.2 517.3Z" fill="#2eb24a"/>
<circle cx="358.0" cy="513.5" r="1.6" fill="#c3001f"/>
<path d="M360.4 514.8L362.9 512.3L365.4 514.8L362.9 517.3Z" fill="#c3001f"/>
<rect x="365.7" y="512.0" width="4.0" height="4.0" fill="none" stroke="#5b8fc9" stroke-width="0.9"/>
<path d="M369.3 517.0L372.0 512.6L374.7 517.0Z" fill="none" stroke="#5b8fc9" stroke-width="0.9" stroke-linejoin="miter"/>
<circle cx="396.8" cy="538.4" r="1.6" fill="#2eb24a"/>
<path d="M394.0 575.8L396.8 571.4L399.6 575.8Z" fill="#c3001f"/>
<path d="M394.1 589.7L396.8 585.3L399.5 589.7Z" fill="none" stroke="#5b8fc9" stroke-width="0.9" stroke-linejoin="miter"/>
<circle cx="393.1" cy="596.9" r="1.6" fill="#c3001f"/>
<path d="M398.7 594.9L401.2 592.4L403.7 594.9L401.2 597.4Z" fill="#c3001f"/>
<rect x="399.2" y="597.2" width="4.0" height="4.0" fill="none" stroke="#5b8fc9" stroke-width="0.9"/>
<circle cx="393.1" cy="602.4" r="1.6" fill="#2eb24a"/>
<path d="M428.6 544.7L431.4 540.3L434.2 544.7Z" fill="#c3001f"/>
<circle cx="431.4" cy="573.0" r="1.6" fill="#2eb24a"/>
<path d="M428.7 584.5L431.4 580.1L434.1 584.5Z" fill="none" stroke="#5b8fc9" stroke-width="0.9" stroke-linejoin="miter"/>
<rect x="429.4" y="587.7" width="4.0" height="4.0" fill="none" stroke="#5b8fc9" stroke-width="0.9"/>
<circle cx="427.7" cy="596.9" r="1.6" fill="#c3001f"/>
<path d="M433.3 600.4L435.8 597.9L438.3 600.4L435.8 602.9Z" fill="#c3001f"/>
<path d="M425.2 602.4L427.7 599.9L430.2 602.4L427.7 604.9Z" fill="#2eb24a"/>
<path d="M458.9 565.7L461.7 561.3L464.5 565.7Z" fill="#c3001f"/>
<circle cx="470.1" cy="566.0" r="1.6" fill="#2eb24a"/>
<path d="M463.3 587.4L466.0 583.0L468.7 587.4Z" fill="none" stroke="#5b8fc9" stroke-width="0.9" stroke-linejoin="miter"/>
<path d="M467.6 591.1L470.1 588.6L472.6 591.1L470.1 593.6Z" fill="#2eb24a"/>
<circle cx="461.7" cy="595.5" r="1.6" fill="#c3001f"/>
<rect x="459.7" y="599.2" width="4.0" height="4.0" fill="none" stroke="#5b8fc9" stroke-width="0.9"/>
<path d="M467.6 600.7L470.1 598.2L472.6 600.7L470.1 603.2Z" fill="#c3001f"/>
<circle cx="494.9" cy="517.6" r="1.6" fill="#c3001f"/>
<text x="501.09999999999997" y="520.1" font-size="7.0" fill="#000" >P1</text>
<circle cx="494.9" cy="528.6" r="1.6" fill="#2eb24a"/>
<text x="501.09999999999997" y="531.0500000000001" font-size="7.0" fill="#000" >P2</text>
<rect x="492.9" y="537.5" width="4.0" height="4.0" fill="none" stroke="#5b8fc9" stroke-width="0.9"/>
<text x="501.09999999999997" y="542.0" font-size="7.0" fill="#000" >P4</text>
<path d="M492.1 552.5L494.9 548.1L497.7 552.5Z" fill="#c3001f"/>
<text x="501.09999999999997" y="552.95" font-size="7.0" fill="#000" >P6</text>
<path d="M492.2 563.4L494.9 559.0L497.6 563.4Z" fill="none" stroke="#5b8fc9" stroke-width="0.9" stroke-linejoin="miter"/>
<text x="501.09999999999997" y="563.9" font-size="7.0" fill="#000" >P7</text>
<path d="M492.4 572.4L494.9 569.9L497.4 572.4L494.9 574.9Z" fill="#c3001f"/>
<text x="501.09999999999997" y="574.85" font-size="7.0" fill="#000" >P9</text>
<path d="M492.4 583.3L494.9 580.8L497.4 583.3L494.9 585.8Z" fill="#2eb24a"/>
<text x="501.09999999999997" y="585.8" font-size="7.0" fill="#000" >P12</text>
<rect x="0.6" y="0.5" width="518.8" height="632.8" fill="none" stroke="#000" stroke-width="1.3"/>
</svg></body></html>
